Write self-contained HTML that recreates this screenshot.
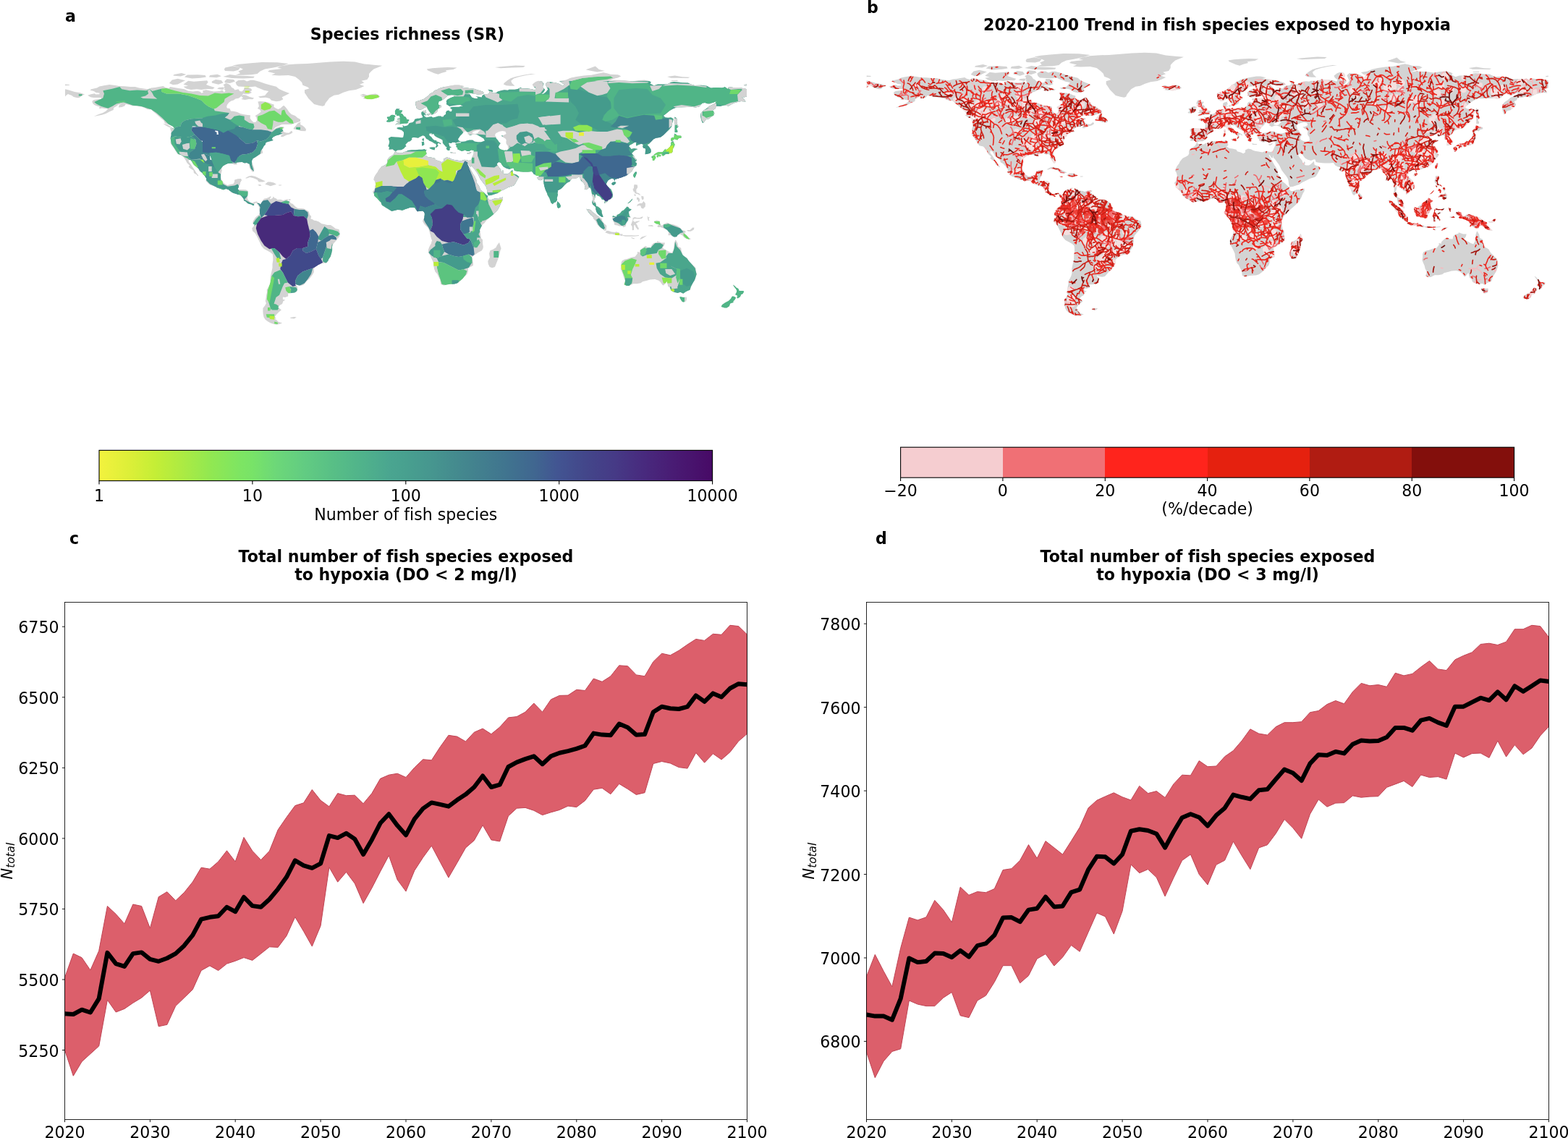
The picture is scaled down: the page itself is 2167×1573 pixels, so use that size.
<!DOCTYPE html>
<html lang="en"><head><meta charset="utf-8"><title>Fish species exposed to hypoxia</title>
<style>html,body{margin:0;padding:0;background:#fff}body{width:2167px;height:1573px;overflow:hidden}svg{display:block}</style>
</head><body>
<svg xmlns="http://www.w3.org/2000/svg" width="2167" height="1573" viewBox="0 0 2167 1573" font-family="'DejaVu Sans','Liberation Sans',sans-serif" font-size="22.1px" fill="#000" style="font-variant-ligatures:none">
<rect width="2167" height="1573" fill="#fff"/>
<defs>
<path id="land" d="M121.1,131.8 125.8,130.3 130.8,129.2 132.4,130.5 137.6,130.3 137.4,128.4 132.7,127.9 129.8,126.1 124.5,124.8 126.1,123.2 134.0,121.6 137.4,119.5 143.6,118.2 151.2,116.9 159.3,118.0 164.6,119.0 172.4,119.3 180.3,120.1 186.8,120.1 192.1,121.4 198.6,122.4 203.8,123.2 209.1,121.4 214.3,121.1 219.5,120.1 225.5,119.0 228.7,121.1 233.4,121.9 235.2,120.1 240.5,120.9 247.0,121.9 254.8,123.2 260.1,125.8 266.6,126.4 273.2,125.8 277.1,127.1 278.4,128.7 281.0,127.7 279.7,125.6 284.9,124.3 290.2,125.6 295.4,126.4 303.3,126.1 307.2,124.5 309.8,127.4 311.6,125.6 309.0,121.9 310.3,119.3 308.5,117.2 312.4,115.1 315.6,116.1 318.2,117.7 320.3,120.9 322.9,122.2 324.7,124.5 329.4,123.2 331.3,126.1 334.4,126.6 337.0,123.7 337.5,121.1 342.5,120.9 347.0,122.4 348.3,124.8 345.9,126.4 348.0,127.9 343.8,130.0 339.9,130.3 336.0,129.5 334.7,131.8 332.6,133.7 329.9,135.8 325.5,136.6 322.9,138.4 319.5,139.4 316.6,141.5 314.2,144.4 313.2,147.0 313.7,149.6 317.6,149.9 319.0,153.6 322.9,153.8 328.1,154.9 332.0,157.0 337.3,158.3 342.5,159.1 345.9,159.3 345.6,163.5 347.7,166.6 350.4,169.0 353.5,168.7 355.1,165.9 354.3,162.2 352.7,160.1 356.9,157.5 360.6,154.6 359.5,151.7 355.9,149.9 357.9,147.0 357.4,143.9 356.4,140.5 359.5,140.0 366.1,140.5 371.3,141.8 375.2,143.6 378.6,144.4 378.4,147.8 381.0,149.4 384.4,150.9 387.8,149.6 390.1,147.3 392.2,145.7 394.8,148.3 397.5,151.7 399.6,154.9 402.7,158.0 407.9,160.1 411.3,163.0 415.0,165.1 415.0,167.7 411.3,169.0 406.6,170.6 402.7,172.1 396.1,171.9 389.6,171.9 385.7,173.7 381.0,175.8 377.8,178.9 375.2,180.8 378.4,178.9 382.3,176.6 387.0,175.0 392.2,175.3 392.7,176.9 389.6,177.9 391.4,180.0 392.0,182.3 395.4,183.4 399.3,183.7 403.0,180.8 404.5,183.1 401.4,185.2 395.6,186.8 390.9,189.2 388.0,188.9 388.8,186.8 392.2,185.0 388.3,185.2 385.4,186.5 381.0,187.6 377.3,189.4 375.7,192.0 377.8,194.1 374.2,194.9 368.7,196.5 367.1,197.8 366.8,200.1 364.8,201.7 363.7,204.1 362.1,206.4 362.9,209.3 363.2,211.4 360.0,213.0 356.9,214.8 353.5,216.9 349.6,219.2 348.0,222.4 348.3,225.5 350.1,229.2 351.4,233.4 350.9,237.0 348.8,237.8 347.0,235.2 344.6,231.3 344.6,227.6 341.2,225.0 337.8,225.8 334.7,224.0 330.7,224.2 326.8,224.7 327.6,227.4 323.9,227.4 320.3,226.0 315.6,225.8 312.4,227.1 308.2,229.4 306.1,232.3 306.7,235.7 305.4,240.7 305.1,245.1 306.7,249.6 309.3,253.0 311.9,254.8 314.2,255.9 319.0,254.8 322.4,254.3 323.9,251.7 324.5,248.6 328.6,247.2 333.1,247.0 333.9,249.1 332.0,252.2 331.3,255.6 329.9,257.7 328.6,261.9 331.5,261.9 336.0,261.9 339.9,262.2 343.0,264.2 342.5,268.7 342.0,272.1 342.0,275.0 343.8,277.3 345.9,279.7 349.1,280.5 351.9,278.9 354.8,278.6 357.9,280.7 359.8,282.6 361.3,280.2 363.2,276.8 365.0,274.7 368.7,273.9 371.8,272.4 374.4,271.1 374.2,272.9 372.9,274.5 373.9,275.5 376.8,273.7 377.8,271.6 379.1,273.4 382.0,274.5 383.1,276.0 387.8,275.8 391.4,277.1 396.1,275.5 399.0,275.5 397.2,277.1 400.6,278.4 401.9,281.0 404.5,281.8 408.2,285.4 411.3,287.8 416.6,288.1 420.2,288.6 424.1,290.7 426.8,292.5 428.1,297.0 430.2,299.1 429.4,302.5 432.0,303.2 434.1,304.8 436.7,305.1 440.6,306.4 444.6,309.3 447.2,309.8 452.4,311.1 456.9,311.1 460.3,313.2 463.7,316.1 468.4,317.1 469.4,320.5 469.9,323.1 469.2,326.5 466.3,330.5 463.7,333.6 460.5,337.3 458.9,341.4 459.2,345.4 458.2,350.1 456.9,354.8 454.2,358.4 453.7,361.1 451.1,363.4 447.2,363.7 443.8,364.5 439.8,366.3 435.9,368.9 433.8,371.5 433.8,376.2 432.0,379.4 429.4,383.0 427.0,385.9 424.4,388.0 421.3,391.7 419.2,394.0 415.8,394.8 413.2,394.6 409.8,393.5 408.2,392.5 408.4,394.3 411.1,395.9 411.3,398.2 410.3,402.9 407.1,404.5 401.4,405.3 398.2,405.3 398.2,409.5 394.1,411.0 390.9,410.5 390.9,413.7 394.3,414.7 391.4,416.3 390.1,419.9 387.0,421.8 384.1,424.4 386.7,426.5 388.8,428.6 384.9,431.7 381.8,434.9 379.9,437.7 381.8,440.4 379.1,440.6 382.3,442.2 384.4,444.8 390.1,446.6 387.0,447.7 382.5,448.7 378.4,447.9 373.9,446.4 370.0,444.3 366.6,441.7 364.5,438.3 363.7,434.3 363.4,430.4 363.4,426.0 366.1,422.6 367.9,419.2 366.8,416.0 367.4,412.9 367.9,408.7 368.9,404.2 368.7,400.6 370.8,397.2 372.6,393.5 373.6,389.9 373.6,383.3 374.4,379.4 375.5,374.7 376.5,370.0 376.5,365.0 377.3,359.8 377.3,355.3 376.8,351.6 373.9,349.0 370.0,346.7 364.8,344.1 361.3,340.1 359.3,335.4 356.9,330.5 355.1,326.8 352.7,322.6 349.1,319.2 348.3,315.5 350.6,312.7 351.9,310.3 349.3,309.5 349.6,306.1 351.4,303.0 352.7,300.9 354.8,299.1 357.9,296.7 359.0,293.6 358.2,289.4 358.5,286.2 357.2,284.7 356.1,282.0 353.8,280.2 351.1,281.8 351.1,284.1 349.1,284.1 347.2,282.6 344.3,282.0 342.2,281.3 339.6,278.4 336.8,277.6 336.5,274.7 334.4,272.1 332.0,269.5 329.4,269.0 325.5,267.7 321.8,266.9 319.5,265.3 315.6,261.9 312.4,261.1 308.5,262.4 304.6,261.1 299.9,259.5 294.6,256.9 290.2,255.4 287.8,253.5 284.4,250.1 285.5,247.0 282.8,243.1 278.9,238.6 275.0,236.3 274.5,233.6 271.1,230.5 267.4,227.9 265.3,223.4 263.7,221.3 260.6,220.3 260.9,223.7 263.7,227.1 265.8,230.2 269.0,234.9 271.3,239.1 274.2,242.5 273.2,243.6 271.9,241.5 267.9,238.9 267.4,235.5 264.0,233.4 260.6,230.8 262.2,228.7 258.5,225.3 256.2,220.8 254.3,217.9 251.2,214.5 245.7,213.2 242.3,208.3 240.5,204.9 237.3,200.7 235.7,197.8 236.0,193.6 235.2,191.5 236.5,187.1 236.5,182.6 235.0,177.1 239.2,177.1 240.2,179.5 240.7,176.9 238.9,174.8 234.4,172.4 227.9,170.3 226.3,166.4 222.7,163.8 220.0,161.2 216.4,158.0 211.9,154.3 208.8,151.2 203.8,151.2 199.9,149.1 195.2,147.5 189.4,146.5 182.9,146.2 179.0,144.9 173.7,144.1 172.2,146.5 168.5,148.1 163.8,148.6 164.8,144.9 168.5,143.4 163.8,144.4 160.7,147.0 157.2,149.1 156.7,152.0 151.5,154.3 146.3,157.0 141.0,158.8 135.8,159.8 129.8,160.9 134.0,159.1 138.4,157.2 142.3,155.9 146.8,153.3 149.4,150.2 145.5,150.2 141.0,149.6 137.1,150.2 137.6,147.5 134.5,146.8 130.3,144.9 127.9,142.6 127.4,139.7 129.8,138.1 134.5,137.3 139.7,137.1 139.7,135.0 135.0,135.0 129.2,135.0 125.1,134.2 121.1,131.8ZM370.0,98.9 380.4,101.5 375.2,103.8 385.7,104.6 398.8,104.1 407.9,105.9 413.2,109.9 417.1,113.8 418.4,117.7 424.9,120.3 427.6,122.2 421.0,124.3 421.0,128.2 423.6,132.1 426.2,136.0 430.2,140.0 434.1,143.9 440.6,145.7 445.9,146.8 448.5,145.7 449.8,142.6 452.4,139.2 455.5,135.2 461.6,131.8 468.1,130.8 474.6,127.7 482.5,125.3 491.7,124.0 498.2,121.4 503.4,119.0 496.9,116.7 503.4,114.3 499.5,111.7 507.4,109.9 510.0,105.9 510.0,102.0 512.6,98.9 516.5,95.5 528.3,90.8 516.5,89.7 503.4,88.4 490.4,85.5 474.6,84.7 456.3,85.5 440.6,86.8 424.9,87.9 409.2,88.4 398.8,89.2 388.3,91.6 383.1,93.6 389.6,95.0 372.6,97.0 370.0,98.9ZM350.4,110.7 358.2,112.7 366.1,115.6 373.9,117.7 381.8,119.8 385.7,122.9 392.2,126.1 400.1,129.0 394.8,131.8 389.6,134.2 391.4,137.3 387.0,139.4 381.8,140.2 375.2,138.7 372.6,136.0 367.4,134.7 359.5,135.2 356.9,133.4 366.1,132.1 368.7,128.7 371.3,126.1 364.8,124.8 360.8,122.9 355.6,121.1 353.0,119.5 346.4,120.3 338.6,120.1 329.4,119.5 326.8,117.2 325.5,113.8 329.4,110.9 337.3,110.4 341.2,112.5 346.4,110.7 350.4,110.7ZM253.5,116.7 260.1,111.7 267.9,112.7 277.1,112.0 286.2,111.2 287.6,113.8 284.9,116.9 290.2,119.0 296.7,120.9 294.1,123.2 286.2,122.9 278.4,124.0 271.9,123.2 264.0,124.0 257.5,122.4 253.5,119.8 260.1,118.8 253.5,116.7ZM233.9,115.1 237.8,110.4 245.7,108.8 256.2,111.2 250.9,113.8 245.7,116.4 239.2,117.2 233.9,115.1ZM325.5,103.8 336.0,103.8 347.7,103.3 355.6,102.0 359.5,98.4 366.1,95.5 377.8,93.4 390.9,90.8 398.8,87.9 383.1,86.3 362.1,86.1 343.8,87.4 330.7,88.7 321.6,90.5 330.7,92.9 336.0,95.7 329.4,98.6 332.0,101.2 325.5,103.8ZM311.1,98.1 322.9,98.6 329.4,96.8 332.0,93.6 321.6,91.3 311.1,93.4 309.8,96.0 311.1,98.1ZM308.5,105.9 320.3,108.0 336.0,108.6 350.4,107.8 351.7,105.7 341.2,104.9 328.1,104.6 317.6,103.1 308.5,105.9ZM254.8,106.5 265.3,108.6 277.1,107.8 284.9,106.5 283.6,104.1 273.2,103.3 258.8,103.6 254.8,106.5ZM288.9,106.5 299.3,107.2 305.9,105.2 300.6,102.8 290.2,104.1 288.9,106.5ZM239.2,104.6 249.6,105.4 257.5,103.1 250.9,101.0 240.5,103.1 239.2,104.6ZM292.8,114.6 301.9,116.7 308.5,114.6 305.9,110.9 298.0,110.1 292.8,112.5 292.8,114.6ZM310.6,114.3 317.6,115.1 325.0,112.5 322.9,109.9 313.7,109.3 310.6,112.0 310.6,114.3ZM300.1,122.7 307.2,124.0 311.1,122.4 308.5,120.6 302.5,120.9 300.1,122.7ZM333.4,137.1 338.6,138.1 343.8,137.1 349.1,137.3 351.1,135.5 345.1,133.9 339.9,131.6 336.0,131.1 333.4,132.9 336.0,135.2 333.4,137.1ZM405.8,178.4 410.5,178.9 415.8,181.0 422.3,181.3 423.1,178.7 421.0,176.1 418.4,173.7 415.0,172.1 415.5,168.7 411.9,170.1 409.2,173.2 405.8,176.9 405.8,178.4ZM225.3,170.8 231.3,172.1 236.0,175.3 238.4,176.9 233.9,176.1 229.5,173.7 225.3,170.8ZM338.8,246.2 343.8,243.6 347.7,242.8 353.0,244.1 358.2,246.5 363.4,249.1 366.8,250.6 363.4,251.4 357.7,251.4 355.6,248.6 350.4,246.2 345.1,245.1 341.2,246.5 338.8,246.2ZM366.3,254.8 370.0,251.4 373.9,251.4 378.4,252.5 382.0,254.8 377.8,255.9 373.9,257.2 370.5,255.9 366.3,254.8ZM356.1,255.6 359.5,255.1 361.6,256.4 358.7,256.9 356.1,255.6ZM385.2,255.4 389.1,255.4 388.6,256.4 385.2,256.4 385.2,255.4ZM399.0,275.5 401.6,275.2 401.4,277.1 399.0,277.1ZM400.9,439.0 406.6,438.0 409.8,438.5 406.6,440.4 401.9,440.1ZM497.4,131.8 502.1,129.8 507.4,131.6 513.4,130.3 519.1,129.5 522.8,131.3 525.4,133.4 521.8,135.2 513.9,137.3 507.4,137.1 501.9,136.3 503.7,134.2 498.2,133.7 502.6,132.6 497.4,131.8ZM547.1,209.0 544.5,208.0 542.7,206.2 537.5,206.7 538.0,203.0 536.4,202.2 537.7,198.8 538.2,195.7 536.7,191.0 539.3,189.7 540.3,188.9 546.1,189.4 551.1,189.7 556.0,190.2 557.3,189.4 557.9,186.5 558.1,184.2 557.9,182.6 555.2,180.0 552.9,179.2 548.7,177.9 548.7,176.6 551.8,175.8 555.8,176.3 557.1,176.1 556.3,173.5 557.6,173.5 558.1,174.5 561.3,174.0 563.9,172.9 565.2,170.8 566.0,170.1 568.6,169.5 570.4,169.0 572.3,167.2 573.3,164.8 576.7,163.8 579.3,163.8 581.9,163.0 583.8,162.5 584.3,161.4 583.2,159.6 582.5,158.3 582.2,155.7 583.5,154.1 586.4,153.0 588.7,152.5 588.2,154.6 589.5,155.9 587.7,156.7 586.9,158.5 585.9,159.6 586.1,160.1 587.4,161.2 589.5,162.2 592.4,161.7 596.3,160.9 598.2,162.5 601.8,161.7 605.5,160.4 609.4,160.4 610.2,161.4 612.8,161.2 613.3,159.8 616.2,157.8 616.0,155.7 617.3,153.3 620.1,152.5 622.0,154.3 624.1,154.1 624.8,150.9 622.5,149.9 622.5,148.6 625.9,147.8 630.3,147.8 634.3,147.8 637.4,146.8 640.0,146.8 636.1,144.9 631.6,145.2 626.4,146.0 621.2,147.0 619.1,145.5 616.7,143.9 617.3,142.3 616.7,140.0 617.5,138.1 621.2,136.0 625.1,134.2 627.5,133.4 626.9,131.8 624.1,131.3 619.1,131.8 616.7,133.9 614.1,136.6 609.4,139.2 606.5,140.2 606.0,142.3 606.0,144.7 609.4,145.7 610.2,147.5 608.6,149.1 605.5,150.2 604.7,153.0 603.9,155.1 601.8,156.4 598.4,158.0 597.1,158.5 595.0,158.3 594.2,157.0 594.0,154.9 592.1,152.5 590.3,149.4 589.3,147.3 588.0,148.6 586.4,149.1 583.8,150.7 581.9,151.5 579.3,151.7 575.7,149.4 574.6,145.5 574.1,142.6 574.6,140.7 577.2,139.7 581.1,138.4 585.9,136.8 588.5,134.7 592.4,132.1 594.2,129.5 598.7,127.4 600.2,125.3 604.2,124.0 606.8,122.2 610.7,120.9 616.0,119.8 621.2,118.8 628.5,117.5 634.3,117.5 642.1,119.3 636.9,120.3 640.8,121.1 646.0,121.4 648.7,121.9 655.2,122.7 660.4,124.5 667.0,126.4 669.1,128.7 665.7,130.3 660.4,130.5 653.9,129.5 646.8,127.9 649.4,130.5 652.1,134.5 655.2,135.8 659.1,136.3 660.7,135.0 657.3,133.2 661.7,133.7 665.7,134.5 666.5,132.1 669.6,130.3 674.0,130.0 676.7,128.4 675.6,125.0 674.3,123.7 680.1,124.5 681.4,126.1 679.5,128.2 682.7,128.7 685.8,128.2 687.9,126.4 693.1,125.0 697.1,124.3 701.8,124.8 703.6,123.7 711.5,123.7 715.4,122.9 719.3,121.1 721.9,122.2 728.5,122.2 733.7,122.9 736.8,123.7 739.7,124.8 740.8,122.2 737.1,119.5 735.8,116.7 740.2,113.3 744.2,111.7 749.4,112.7 751.5,116.1 749.9,120.3 753.3,124.0 750.7,128.2 747.6,129.2 750.7,130.0 754.6,126.9 757.2,123.5 755.2,119.8 753.8,116.1 757.2,113.0 763.8,113.8 767.7,114.3 773.0,115.9 778.2,119.0 779.5,116.4 776.4,114.6 773.0,112.0 782.1,110.4 788.6,107.8 796.5,105.9 807.0,104.4 817.4,103.8 825.3,102.0 833.9,100.2 839.7,101.5 843.6,102.8 854.1,103.3 858.0,105.2 854.1,107.2 847.5,109.3 841.0,112.0 848.8,110.4 856.7,110.7 863.2,110.9 873.7,112.5 882.9,110.9 890.7,110.4 897.2,112.0 899.9,113.5 898.5,115.6 903.8,118.2 909.0,116.4 916.9,116.4 922.1,116.4 927.3,113.8 931.3,113.0 936.5,113.5 943.0,114.3 950.9,114.6 954.8,116.4 960.0,118.0 969.2,117.7 977.0,118.8 979.7,120.3 982.3,121.6 990.1,121.1 998.0,121.4 1001.9,120.3 1005.8,122.9 1007.1,120.1 1013.7,120.9 1021.5,120.9 1029.4,122.4 1032.0,123.2 1032.0,133.4 1028.1,134.5 1024.9,133.9 1028.1,136.8 1030.7,140.5 1024.2,140.0 1016.3,141.8 1011.1,143.9 1007.1,146.5 1000.6,145.5 995.4,147.0 990.1,146.8 988.3,150.4 984.9,152.3 987.5,156.4 986.2,159.6 983.6,160.9 979.7,164.3 975.7,165.1 973.1,168.7 971.0,170.3 969.2,166.1 968.2,160.9 968.4,157.0 971.8,153.0 975.7,150.4 979.7,147.0 983.6,145.2 988.8,142.6 990.1,140.0 984.9,142.1 979.7,143.9 974.4,142.1 970.5,142.6 966.6,147.3 961.4,148.6 955.6,147.8 949.6,148.1 941.7,148.3 935.7,148.3 930.0,150.4 924.7,153.6 920.8,157.0 916.9,160.1 919.5,162.2 923.4,162.7 927.3,162.2 930.7,164.3 930.0,167.4 928.6,171.4 928.1,175.3 924.7,179.2 920.8,183.1 916.9,186.8 912.9,189.7 906.4,190.7 903.0,192.6 900.4,195.2 897.2,198.8 894.6,200.1 897.2,203.3 899.6,206.7 899.9,209.8 898.5,211.7 894.6,212.7 891.7,213.2 892.0,208.0 892.3,205.4 888.9,204.6 888.1,202.2 888.9,200.1 886.5,198.8 882.9,199.9 879.2,201.7 878.9,198.3 880.2,196.7 877.6,196.5 873.7,199.1 869.8,200.9 869.0,202.2 871.1,204.1 872.4,205.9 876.3,204.9 878.9,205.4 881.5,205.9 877.6,207.7 875.8,209.3 873.2,211.9 874.2,213.2 876.3,215.8 877.6,218.5 879.7,220.3 879.7,222.4 877.1,224.0 879.7,225.0 880.2,226.3 879.4,228.9 877.1,230.2 874.5,234.2 873.7,236.3 870.0,239.4 866.4,242.5 861.9,244.1 859.8,245.1 858.0,245.4 854.1,246.7 850.1,247.8 849.6,250.4 848.3,247.2 844.9,246.7 840.5,249.1 838.4,252.5 837.8,254.6 839.7,257.2 842.6,260.3 844.4,261.4 846.2,265.6 847.0,269.5 846.7,272.6 843.6,275.2 841.0,276.3 839.7,278.4 836.5,280.5 835.2,281.0 835.8,277.3 834.4,276.3 831.8,275.8 830.5,273.4 828.7,271.6 825.3,270.3 824.0,268.2 822.7,269.5 822.4,273.4 820.8,277.3 822.4,279.2 823.5,281.8 824.0,284.7 826.6,285.7 829.2,287.8 831.6,290.9 831.8,294.3 832.6,297.0 833.7,299.8 831.8,300.1 828.4,297.5 826.1,295.6 824.2,292.5 823.5,289.4 823.2,286.5 821.4,284.4 819.0,282.6 818.2,279.9 819.0,276.0 819.0,272.1 818.0,268.2 817.4,265.0 816.4,260.8 814.8,259.0 813.0,260.3 810.4,262.2 807.8,261.6 808.3,257.7 807.5,254.3 805.7,251.7 804.1,250.9 802.3,248.6 801.2,245.1 799.1,244.6 797.8,245.9 795.2,246.5 792.6,246.7 790.0,247.2 788.6,249.1 787.3,251.2 785.5,251.7 783.4,253.0 780.8,255.6 779.0,257.2 776.4,260.1 773.5,261.9 771.1,262.9 770.6,266.9 771.1,269.2 769.8,273.4 770.1,276.5 768.2,279.2 765.6,280.2 763.8,282.3 761.4,280.2 760.4,277.3 759.3,273.9 756.7,269.7 755.4,265.6 754.1,262.9 752.8,259.0 751.5,253.8 751.2,250.4 751.0,248.0 750.7,245.4 749.7,248.3 746.8,249.3 744.2,248.6 742.1,245.4 744.2,244.4 745.0,243.3 741.0,242.5 739.5,241.5 737.6,240.7 736.3,238.6 735.0,237.0 729.8,237.6 723.2,237.6 719.3,237.3 714.9,236.8 710.9,236.0 710.1,232.8 708.3,232.3 704.1,233.9 699.7,232.8 695.8,230.5 693.9,227.9 692.1,225.0 689.2,224.0 687.9,225.0 686.6,226.6 687.9,228.9 690.5,232.3 692.1,234.2 692.4,236.5 693.9,238.1 694.5,235.2 695.8,236.0 696.0,237.6 695.2,239.4 697.1,240.4 701.0,240.4 703.3,239.4 705.7,237.3 708.3,234.7 708.6,238.1 709.1,239.9 714.3,241.7 717.5,244.6 714.6,249.3 712.2,253.8 710.1,256.4 706.2,257.7 702.3,259.0 697.6,261.6 691.8,264.2 687.9,266.9 684.0,268.2 678.8,270.0 674.8,270.3 673.5,266.9 673.3,264.8 672.7,260.8 672.2,259.0 669.6,255.1 667.0,251.7 663.6,247.2 661.7,243.3 660.4,240.4 658.3,237.6 656.5,234.9 653.9,231.5 652.1,230.0 652.6,226.3 651.3,229.4 650.5,230.8 648.7,228.9 647.1,226.3 646.0,225.3 646.3,227.6 647.9,230.2 649.4,232.3 651.3,236.0 653.9,240.7 656.5,244.6 658.3,248.6 658.3,252.2 661.7,256.4 664.4,262.7 668.3,265.6 672.2,269.5 674.3,270.8 673.8,273.1 676.1,276.0 678.8,276.3 684.0,274.2 689.2,273.9 695.0,272.4 695.0,276.0 692.6,279.9 690.5,285.2 687.9,289.9 684.0,294.3 679.5,298.3 674.8,302.2 672.2,304.8 669.6,308.2 667.0,310.3 664.9,314.0 663.0,317.9 663.8,321.3 664.4,325.7 665.1,329.7 667.0,331.5 667.0,336.2 667.8,341.4 667.2,344.1 665.1,346.7 660.4,349.3 657.3,351.4 653.9,354.0 652.3,355.6 653.1,359.8 653.9,363.7 653.9,367.1 650.0,368.9 647.1,370.7 646.8,375.5 645.5,378.9 642.1,381.7 639.5,385.4 635.6,388.8 632.2,391.2 628.2,392.5 622.5,392.7 618.6,393.3 613.3,394.6 610.7,393.5 609.1,392.7 608.6,389.1 608.1,385.9 606.3,382.8 604.2,378.3 601.6,375.5 600.2,371.5 599.2,366.3 598.9,362.4 597.1,358.4 594.5,353.2 591.9,348.8 591.9,345.4 593.2,341.4 596.1,336.5 597.1,332.3 595.8,328.4 595.3,326.5 594.5,323.1 593.2,319.2 592.4,316.6 591.1,314.5 588.5,311.9 586.1,309.5 584.5,306.6 584.0,305.3 585.6,303.0 586.1,300.9 586.6,297.5 586.9,294.9 585.9,293.0 584.0,291.5 581.9,291.7 579.3,292.0 576.7,292.2 574.6,289.6 572.8,287.0 569.9,286.8 566.2,287.0 563.6,288.1 561.0,288.8 558.4,289.9 555.8,290.9 553.1,290.2 549.2,289.9 545.3,290.9 541.4,292.0 538.8,290.4 536.1,288.8 532.7,286.8 530.9,285.4 528.3,283.9 526.5,281.3 526.2,279.4 524.9,278.4 522.5,275.8 521.2,274.2 518.6,272.1 517.0,270.8 517.0,268.2 515.2,265.0 516.5,263.5 517.8,261.6 518.3,257.7 519.1,255.1 518.6,252.5 517.8,249.9 516.5,248.6 517.0,245.4 519.1,241.5 521.8,238.1 523.1,235.2 525.7,232.1 527.2,230.5 531.4,228.4 534.3,226.8 535.6,224.0 535.4,221.1 536.9,218.5 539.0,216.4 541.4,215.3 543.5,214.0 545.3,211.1 545.6,209.8 547.1,209.6 549.2,211.4 553.1,211.1 555.8,211.7 558.4,210.1 561.0,209.6 563.6,208.0 568.9,207.2 574.1,207.2 579.3,206.7 583.5,206.7 586.9,205.9 588.0,207.2 590.0,206.7 588.7,208.3 588.7,210.3 589.8,211.4 589.3,213.2 587.2,214.8 589.3,215.6 591.1,216.9 595.5,217.4 600.8,218.7 602.3,221.3 606.8,222.6 610.7,224.2 613.3,222.4 613.3,219.5 617.3,217.4 621.2,218.2 623.8,219.8 626.9,220.8 631.6,221.6 636.9,222.6 639.5,221.6 642.1,220.8 645.5,221.6 647.9,222.1 650.5,221.6 651.8,219.8 652.6,217.2 653.9,214.8 654.9,211.9 654.7,208.5 655.7,207.5 653.9,207.7 651.3,207.2 648.7,208.8 646.0,209.0 642.1,207.2 640.8,208.3 637.7,208.8 634.8,207.2 632.7,206.7 632.2,204.1 630.3,203.0 630.9,200.7 629.6,200.1 629.6,198.8 633.0,197.8 636.9,197.5 637.4,196.2 634.3,196.2 631.6,197.0 629.6,198.0 629.3,196.7 625.1,196.5 623.8,198.0 622.0,198.0 620.9,197.3 620.1,198.8 621.2,200.7 620.9,202.0 623.8,203.5 623.0,204.3 621.7,204.1 621.7,205.9 621.2,208.0 619.6,208.0 617.8,207.2 616.7,204.9 617.8,203.3 616.0,202.8 615.2,201.4 613.3,199.6 611.8,197.5 611.8,195.4 611.5,193.6 609.4,192.3 603.9,189.7 600.8,187.8 599.7,185.8 598.7,185.0 596.6,186.0 596.8,184.2 593.2,184.7 593.4,187.3 596.3,189.4 598.2,192.3 600.8,193.9 603.4,193.9 602.9,195.2 605.2,196.0 608.1,197.3 609.4,198.6 609.1,199.4 606.0,197.5 604.4,199.6 605.7,201.4 604.2,203.0 603.1,204.1 602.1,204.1 602.3,202.2 603.1,200.7 602.1,198.8 600.2,198.3 598.2,196.7 596.3,195.7 593.2,194.4 591.4,192.8 589.8,192.3 588.5,191.0 588.0,189.7 586.6,188.1 584.3,187.3 581.9,188.6 580.1,189.2 578.0,190.7 575.1,190.2 572.8,189.9 570.7,189.9 568.9,191.0 569.4,192.8 566.8,195.2 564.1,196.0 563.1,197.0 560.2,200.1 561.5,202.2 559.7,203.3 558.6,205.1 554.7,207.2 549.5,207.5 547.1,209.0ZM90.0,123.2 95.2,124.5 103.1,126.9 110.9,128.2 117.0,130.5 113.5,132.1 109.6,135.0 107.0,135.2 101.8,133.9 99.2,132.1 93.9,130.0 91.3,132.1 90.0,133.4ZM546.1,172.4 550.0,171.6 551.8,171.4 555.8,171.1 558.4,170.6 561.8,170.6 564.7,169.8 563.1,168.7 565.2,166.9 565.4,165.6 561.8,164.8 561.5,163.2 560.5,161.7 557.9,160.4 556.8,158.3 555.2,157.0 553.1,156.7 554.2,155.9 555.8,153.8 556.3,152.8 551.8,152.5 550.5,152.8 552.6,150.4 547.9,150.2 546.6,152.3 545.8,154.3 546.3,156.4 546.3,158.5 548.4,158.0 548.2,160.1 551.8,159.8 552.6,161.7 553.1,163.5 549.2,164.0 549.7,165.3 550.3,166.6 547.4,167.7 550.0,168.5 553.1,169.0 551.8,169.5 549.2,170.1 547.7,171.6ZM534.8,168.5 538.8,168.5 544.3,166.9 545.3,164.0 545.0,161.9 546.6,160.9 545.0,159.1 541.6,158.8 538.8,160.4 538.8,161.4 534.8,161.7 535.1,163.8 536.7,164.6 535.4,166.4 533.8,167.2ZM589.8,95.5 597.6,94.2 608.1,93.4 618.6,92.9 631.6,93.6 626.4,96.0 616.0,97.3 617.3,98.9 610.7,100.7 605.5,102.8 600.2,101.2 596.3,99.4 591.1,97.3ZM684.0,93.1 697.1,91.8 712.8,90.5 725.9,91.0 723.2,92.9 707.5,93.6 691.8,94.2ZM695.8,116.4 699.7,118.2 704.9,118.8 711.5,118.8 707.5,115.1 706.2,111.7 710.1,108.6 718.0,105.9 728.5,103.8 740.2,102.3 733.7,102.0 723.2,103.8 712.8,105.9 706.2,108.0 701.0,111.2 697.1,114.6ZM809.6,96.3 817.4,93.6 822.7,91.6 827.9,96.0 835.8,98.1 825.3,99.4 814.8,97.6ZM922.1,105.9 932.6,104.6 943.0,106.2 953.5,106.7 950.9,108.0 937.8,107.8 927.3,107.8ZM927.3,110.9 936.5,110.7 936.5,112.0 928.6,112.0ZM1028.1,117.2 1032.0,116.4 1032.0,118.2 1028.9,118.2ZM90.0,116.4 96.5,116.9 95.2,118.0 90.0,118.2ZM932.6,161.4 935.2,163.5 936.0,167.4 935.7,171.4 937.8,174.8 934.7,177.9 936.5,181.0 936.2,182.9 932.6,183.1 932.6,179.2 932.6,175.3 932.8,171.4 931.8,167.4 932.0,164.0ZM932.3,184.4 936.5,187.6 941.2,187.8 941.7,190.2 937.8,191.2 936.0,193.6 931.8,192.0 929.7,194.4 927.6,194.9 927.1,192.0 928.6,190.2 931.5,189.9 931.8,187.1ZM930.7,195.2 931.3,197.5 932.6,200.1 931.3,203.3 930.0,205.4 929.4,207.2 929.4,210.1 927.3,211.9 926.5,211.1 924.2,213.0 922.6,213.0 919.5,213.0 919.0,213.7 916.3,215.8 914.5,214.0 915.0,212.7 911.6,213.0 909.0,213.7 907.2,214.0 903.8,214.5 903.8,213.5 906.4,211.9 909.0,210.6 912.9,210.3 915.6,210.3 916.9,208.8 918.7,206.7 920.3,205.4 919.5,207.2 922.1,206.4 924.2,204.6 926.0,202.8 927.3,200.1 927.3,197.5 928.1,195.7ZM903.5,214.8 905.6,215.8 906.4,217.7 905.1,220.3 903.8,221.9 902.7,222.1 901.7,221.3 902.0,219.0 900.6,217.9 900.4,216.4 902.0,215.6ZM908.2,214.5 910.8,213.7 913.2,214.0 913.5,215.1 912.2,216.4 910.3,215.8 909.0,217.7 907.4,216.1ZM878.9,237.3 880.2,238.1 878.9,242.0 877.1,245.9 875.5,243.8 875.5,241.2 877.6,238.1ZM845.4,253.3 848.8,250.9 851.5,252.0 850.1,254.6 847.5,255.9 845.4,254.8ZM770.3,277.9 773.5,281.3 775.0,284.4 774.3,286.8 771.6,288.1 770.1,286.5 769.5,282.6ZM876.6,255.1 880.8,255.4 881.3,259.0 879.2,262.2 879.7,266.3 882.9,267.1 885.5,269.7 883.6,269.5 881.5,268.2 878.9,267.7 876.6,266.3 877.4,265.3 875.5,264.8 874.5,261.1 876.0,260.3 876.0,257.7ZM889.4,277.9 892.0,281.3 891.7,285.7 889.4,287.8 889.1,288.8 886.0,287.3 885.5,284.4 882.9,283.9 880.2,285.2 881.0,282.6 884.2,281.0 887.3,281.0ZM886.3,270.8 889.4,271.6 889.7,274.7 888.1,276.8 887.0,275.0 886.5,273.4ZM880.2,272.6 883.1,273.4 884.2,276.0 883.4,279.2 881.5,278.1 881.8,276.0 880.0,276.0ZM867.7,281.5 871.1,279.2 873.7,276.3 874.5,273.9 872.9,275.8 870.3,278.4 867.7,280.7ZM876.0,268.4 878.7,268.7 878.4,271.1 877.1,270.8ZM846.7,298.5 847.8,298.3 849.6,299.1 852.0,299.8 852.5,297.2 856.7,295.1 859.3,291.7 861.9,290.4 864.5,287.8 866.6,285.4 869.0,286.8 869.2,288.1 872.9,289.6 870.6,291.5 868.7,292.5 869.2,294.9 869.8,298.3 872.1,300.9 869.2,301.4 868.5,303.5 867.9,305.6 866.1,307.4 865.3,310.0 864.5,312.9 861.1,314.2 860.6,312.7 858.3,312.4 855.4,312.4 853.3,311.4 849.4,311.1 848.8,307.9 847.3,305.6 846.5,302.7 846.2,300.9ZM810.4,288.8 816.1,289.9 818.2,292.5 822.1,295.6 824.8,298.0 827.9,300.1 831.6,302.2 832.6,306.1 834.4,308.2 837.1,310.8 838.4,311.9 838.1,315.3 837.8,318.7 834.7,318.7 833.1,316.6 828.7,313.7 825.3,310.0 823.5,306.1 820.0,302.2 819.3,299.1 816.6,297.2 813.5,293.8ZM836.3,321.3 838.6,318.9 841.0,318.9 844.9,320.5 850.1,321.0 851.5,320.2 855.6,321.6 856.7,323.4 860.6,323.6 860.3,326.3 856.7,325.2 851.5,325.0 846.2,323.6 842.3,323.6 839.4,322.6ZM860.9,325.0 866.4,325.2 872.4,325.2 877.6,325.5 882.9,325.0 882.9,326.0 876.3,326.8 869.8,326.8 864.5,326.8 860.9,326.0ZM872.4,328.1 877.1,329.4 876.3,330.5 872.4,329.1ZM884.2,330.5 886.8,327.6 894.1,325.5 892.0,327.1 888.1,329.4 885.5,330.7ZM877.1,300.1 880.2,300.9 884.2,301.1 888.1,299.3 888.6,300.1 886.8,302.2 882.9,302.5 878.9,302.2 875.8,302.5 875.0,305.3 877.6,306.9 878.9,305.9 883.6,305.3 883.9,306.1 880.2,307.9 878.9,308.7 881.0,311.9 881.5,314.0 882.9,315.3 882.1,317.9 880.2,316.1 878.9,314.5 877.6,311.4 877.1,310.6 876.0,312.1 876.0,317.9 873.7,318.2 873.7,314.0 873.4,312.4 871.9,310.8 873.2,307.4 874.5,304.0 874.5,301.4ZM894.6,298.3 895.9,300.4 898.0,300.1 896.5,302.2 897.5,305.1 895.7,304.8 894.9,301.4ZM895.9,311.4 901.2,311.1 903.3,312.9 898.5,312.7 895.9,312.4ZM904.3,305.6 907.7,304.5 911.6,305.6 912.2,308.7 914.2,312.1 918.2,309.3 922.1,307.7 927.3,309.8 931.3,310.6 936.5,312.4 940.4,315.3 943.0,317.9 947.0,319.2 947.7,321.3 945.6,321.8 948.3,324.4 952.2,328.6 955.3,330.5 952.2,330.7 948.3,329.7 945.6,328.4 943.0,325.2 939.1,323.6 936.5,325.0 935.2,327.6 931.3,327.6 927.3,325.0 923.4,325.2 924.2,321.8 922.1,317.9 916.9,315.5 912.9,314.0 909.0,314.0 908.5,312.1 911.1,310.0 907.2,309.5 903.8,307.2ZM949.1,317.9 953.5,317.9 957.4,314.5 959.5,314.8 958.7,317.4 954.8,319.7 950.9,319.7ZM933.9,331.5 936.5,336.2 937.3,340.9 941.2,342.8 941.7,346.7 943.6,351.9 945.1,353.7 949.6,356.4 952.2,361.1 955.6,364.5 958.7,367.6 961.4,370.2 961.9,375.5 962.9,378.6 961.4,383.3 960.0,387.2 956.9,392.2 954.8,396.4 953.5,400.8 948.3,402.7 944.1,405.8 940.4,403.7 936.5,405.0 931.3,403.7 927.3,401.6 926.0,397.7 923.4,395.9 922.6,393.3 921.6,388.8 919.5,391.9 916.9,394.6 915.6,394.0 912.9,389.9 910.3,387.8 905.1,385.9 898.5,386.4 893.3,388.0 888.1,389.3 885.5,391.2 880.2,392.2 875.0,392.2 869.8,395.1 865.8,395.1 862.2,393.3 863.7,389.9 864.0,387.2 861.9,383.3 860.9,378.9 859.3,375.5 857.7,371.5 858.5,367.6 858.5,362.9 859.6,360.5 863.2,358.4 867.1,357.7 872.4,355.8 877.6,354.8 881.0,350.6 880.8,348.0 884.2,348.8 884.4,346.2 888.1,342.8 892.0,340.1 895.9,342.2 899.9,342.5 900.6,338.8 903.3,335.9 907.7,334.9 908.2,333.3 914.2,335.4 919.0,335.4 918.2,338.8 915.6,342.8 919.5,345.1 924.7,348.0 928.6,349.6 930.7,345.4 931.5,340.1 931.8,336.2 933.1,332.3ZM939.6,410.0 944.3,411.0 948.8,410.5 949.1,413.4 948.0,416.5 945.1,417.6 943.0,417.3 941.2,414.7 939.6,412.1ZM1012.9,393.5 1015.0,395.1 1017.6,397.7 1020.2,399.0 1021.5,401.9 1026.8,401.9 1028.1,402.9 1026.5,406.1 1024.2,406.9 1022.8,410.3 1019.7,412.4 1018.4,411.6 1019.4,408.7 1016.3,406.9 1017.9,404.2 1018.4,401.6 1016.8,399.0 1013.7,395.1ZM1012.9,409.5 1017.1,411.3 1015.8,413.9 1013.2,416.8 1013.7,418.1 1009.2,419.4 1007.9,423.3 1004.5,425.4 1001.4,425.4 996.7,423.9 998.0,421.2 1001.9,418.6 1007.1,415.8 1009.8,412.9 1011.6,410.3ZM690.0,334.9 692.6,343.5 691.3,346.7 690.5,350.6 688.7,357.1 686.1,363.7 684.0,368.9 680.1,370.2 676.7,368.9 674.8,365.0 674.3,361.1 676.9,355.8 676.1,350.6 677.4,346.2 681.4,344.8 685.3,342.2 687.1,338.8ZM593.7,204.1 596.3,203.5 601.6,203.5 600.8,206.7 600.2,207.5 596.3,206.2 593.7,204.9ZM582.5,196.2 585.9,195.7 586.4,200.1 584.5,201.2 583.0,201.4 583.0,197.5ZM585.6,191.0 585.9,193.6 585.1,195.2 583.5,193.6 583.5,192.0ZM622.5,210.3 626.4,210.9 629.8,211.1 629.0,211.9 623.8,211.9 622.5,211.1ZM645.5,211.7 647.4,210.9 651.5,210.1 650.0,211.9 647.4,213.0 645.8,212.4ZM590.3,157.8 593.7,156.7 594.0,158.3 592.4,159.6 590.3,159.1ZM586.6,158.3 589.3,158.3 589.0,159.3 587.2,159.3Z"/>
<path id="seas" d="M636.9,195.7 634.3,194.6 633.0,192.3 634.3,190.5 636.1,187.8 638.7,185.2 641.3,181.8 643.4,181.6 644.7,182.6 647.4,182.9 646.0,184.7 648.7,186.8 650.0,187.3 653.6,185.8 656.5,185.5 659.9,186.5 664.9,189.4 668.3,191.5 669.9,194.6 664.9,196.2 660.4,196.2 656.0,195.4 653.1,193.6 648.7,193.6 644.7,194.4 643.4,195.2 639.5,195.7ZM652.6,184.2 653.4,182.3 656.5,181.0 659.9,180.3 663.6,180.0 661.2,182.3 659.9,184.2 657.3,185.0 655.2,184.7ZM684.0,187.1 685.3,183.9 687.4,183.1 690.5,181.8 694.5,181.0 698.4,181.8 699.7,185.0 695.8,187.1 692.6,187.6 695.0,189.4 698.4,191.5 699.7,193.6 699.4,196.7 699.7,198.8 701.8,201.4 702.3,205.4 701.0,206.9 697.1,207.7 693.1,206.7 690.5,205.4 689.0,203.0 690.0,200.7 691.8,198.0 689.7,196.2 687.9,193.6 685.6,191.0 685.3,188.9Z"/>
<clipPath id="landclip"><use href="#land"/></clipPath>
<linearGradient id="vir" x1="0" x2="1" y1="0" y2="0">
<stop offset="0" stop-color="#f3f23e"/>
<stop offset="0.05" stop-color="#dcef38"/>
<stop offset="0.092" stop-color="#c4ee36"/>
<stop offset="0.133" stop-color="#aeeb42"/>
<stop offset="0.18" stop-color="#92e851"/>
<stop offset="0.228" stop-color="#7ee562"/>
<stop offset="0.25" stop-color="#78e368"/>
<stop offset="0.287" stop-color="#6dd878"/>
<stop offset="0.334" stop-color="#62cc82"/>
<stop offset="0.381" stop-color="#58bf86"/>
<stop offset="0.428" stop-color="#50b38b"/>
<stop offset="0.475" stop-color="#4aa590"/>
<stop offset="0.5" stop-color="#48a08f"/>
<stop offset="0.546" stop-color="#46958f"/>
<stop offset="0.605" stop-color="#43848e"/>
<stop offset="0.664" stop-color="#40748f"/>
<stop offset="0.711" stop-color="#406690"/>
<stop offset="0.747" stop-color="#425592"/>
<stop offset="0.794" stop-color="#43468a"/>
<stop offset="0.841" stop-color="#463a86"/>
<stop offset="0.888" stop-color="#482a7e"/>
<stop offset="0.935" stop-color="#491c74"/>
<stop offset="1" stop-color="#470a66"/>
</linearGradient>
</defs>
<g id="mapa">
<use href="#land" fill="#d3d3d3"/>
<g clip-path="url(#landclip)" id="basins">
<polygon points="527.0,120.0 745.0,120.0 745.0,112.0 1040.0,112.0 1040.0,230.0 935.0,230.0 935.0,250.0 874.0,250.0 874.0,300.0 527.0,300.0" fill="#4aa68c"/>
<polygon points="130.2,141.1 142.3,135.4 144.0,129.6 142.3,125.2 155.0,122.7 165.4,120.1 168.3,123.3 179.2,125.2 189.6,124.4 202.3,125.2 206.9,123.3 210.4,126.1 223.1,122.7 223.1,126.7 230.0,129.6 247.3,129.6 260.0,131.9 270.4,135.4 278.4,138.8 283.0,143.5 287.7,146.9 295.7,150.4 296.9,153.3 316.5,156.1 309.6,157.9 305.0,159.6 299.2,161.9 287.7,163.1 276.1,163.6 264.6,164.2 255.4,166.5 250.7,170.0 249.6,174.6 242.7,175.8 240.4,179.2 233.4,172.3 224.2,163.1 216.1,156.1 209.2,151.5 195.4,146.9 183.8,145.8 175.8,142.9 170.0,141.1 160.8,143.5 155.0,146.9 149.2,149.8 140.0,146.9 133.1,143.5" fill="#50b587"/>
<polygon points="108.8,130.2 113.5,130.2 113.5,132.5 108.8,132.5" fill="#50b587"/>
<polygon points="159.6,140.2 172.3,139.1 174.0,141.1 163.1,142.5" fill="#5cc47f"/>
<polygon points="194.2,134.2 201.1,132.5 205.2,129.6 204.0,125.2 206.9,123.6 210.4,128.5 212.7,133.1 217.3,136.8 206.9,136.3 197.7,136.1" fill="#d3d3d3"/>
<polygon points="223.1,122.5 230.0,122.1 241.5,125.2 253.1,127.9 264.6,129.6 276.1,131.9 287.7,132.5 296.9,128.5 306.1,129.6 316.5,128.5 323.4,129.6 316.5,133.1 310.7,136.5 309.6,141.1 305.0,144.6 299.2,149.2 295.7,150.4 287.7,146.9 283.0,143.5 278.4,138.8 270.4,135.4 260.0,131.9 247.3,129.6 230.0,129.6 223.1,126.7" fill="#6fd96b"/>
<polygon points="240.4,179.2 242.7,175.8 249.6,174.6 250.7,170.0 255.4,166.5 264.6,164.2 276.1,163.6 287.7,163.1 299.2,161.9 305.0,159.6 316.5,156.1 310.7,162.5 317.7,165.4 330.0,164.2 330.0,180.4 322.3,180.9 315.3,180.9 308.4,183.8 302.7,182.7 299.2,178.1 287.7,175.8 276.1,175.2 265.7,175.8 264.6,180.4 269.2,186.1 264.6,188.4 260.0,189.6 253.1,190.8 249.6,189.6 241.5,188.4 235.7,191.3 235.2,185.0" fill="#449b8c"/>
<polygon points="269.2,167.7 276.1,166.5 278.4,170.0 285.4,173.4 286.5,175.8 279.6,175.8 273.8,174.6 270.4,171.1" fill="#d3d3d3"/>
<polygon points="283.0,167.1 288.8,167.7 290.0,170.6 285.4,170.0" fill="#d3d3d3"/>
<polygon points="265.7,174.4 270.4,174.4 270.4,175.8 265.7,175.8" fill="#ffffff"/>
<polygon points="265.7,175.8 276.1,175.2 287.7,175.8 299.2,178.1 302.7,182.7 308.4,183.8 315.3,180.9 322.3,180.9 330.0,180.4 330.0,221.9 322.3,223.1 321.1,217.3 317.7,213.8 310.7,211.5 305.0,210.4 296.9,211.5 292.3,210.4 287.7,205.8 283.0,198.8 276.1,193.1 269.2,186.1 264.6,180.4" fill="#3f6890"/>
<polygon points="297.5,180.4 302.1,180.9 302.1,186.1 299.8,186.1 299.8,182.7 297.5,182.1" fill="#ffffff"/>
<polygon points="292.9,203.2 298.0,203.2 298.0,205.2 292.9,205.2" fill="#6fd96b"/>
<polygon points="276.1,194.8 280.7,194.8 280.7,196.5 276.1,196.5" fill="#ffffff"/>
<polygon points="235.2,185.0 235.7,191.3 241.5,188.4 249.6,189.6 253.1,190.8 260.0,189.6 264.6,188.4 269.2,191.9 270.4,198.8 269.2,205.8 262.3,210.4 260.0,217.3 264.6,220.7 264.6,224.2 260.0,219.6 253.1,216.1 246.1,212.7 241.5,205.8 236.9,198.8 235.7,193.1" fill="#50b587"/>
<polygon points="241.5,189.6 249.6,189.8 260.0,189.8 264.6,188.7 269.2,191.9 263.4,195.4 263.4,205.8 269.2,205.8 262.3,210.4 260.0,217.3 255.4,215.0 250.7,210.4 246.1,205.8 241.5,198.8" fill="#449b8c"/>
<polygon points="263.4,191.3 270.4,193.1 271.5,198.8 269.2,205.8 263.4,205.8 262.3,198.8" fill="#5cc47f"/>
<polygon points="242.7,192.5 249.6,191.3 250.7,195.4 248.4,199.4 243.8,198.8" fill="#d3d3d3"/>
<polygon points="251.9,200.0 257.7,198.3 261.7,197.7 262.3,204.6 258.8,207.5 253.1,205.8" fill="#d3d3d3"/>
<polygon points="247.3,209.8 258.8,210.4 260.0,216.1 253.1,215.6 248.4,212.7" fill="#d3d3d3"/>
<polygon points="264.6,188.4 269.2,186.1 276.1,193.1 283.0,198.8 287.7,205.8 292.3,210.4 290.0,215.0 283.0,212.7 276.1,219.6 264.6,220.7 260.0,217.3 262.3,210.4 269.2,205.8 271.5,198.8 270.4,193.1" fill="#40868e"/>
<polygon points="276.1,219.6 283.0,212.7 290.0,215.0 292.3,210.4 293.4,221.9 296.9,231.1 301.5,238.1 299.2,239.8 293.4,236.9 287.7,228.8 280.7,224.2" fill="#40868e"/>
<polygon points="277.9,213.8 281.9,212.7 284.2,216.1 286.5,220.7 284.2,223.1 280.7,219.6" fill="#d3d3d3"/>
<polygon points="276.1,220.2 280.7,220.7 283.0,225.4 279.6,228.8 276.7,224.2" fill="#8ee652"/>
<polygon points="290.0,215.6 292.9,216.1 292.9,221.3 290.5,220.7" fill="#ffffff"/>
<polygon points="292.3,210.4 296.9,211.5 305.0,210.4 310.7,211.5 317.7,213.8 321.1,217.3 322.3,223.1 317.7,225.4 310.7,228.8 305.0,233.4 301.5,238.1 296.9,231.1 293.4,221.9" fill="#4aa68c"/>
<polygon points="260.0,219.6 264.6,220.7 276.1,220.2 280.7,224.2 287.7,228.8 293.4,236.9 299.2,239.8 301.5,238.1 305.0,240.4 305.0,248.4 309.6,256.5 315.3,260.0 322.3,258.8 330.0,256.5 330.0,270.4 320.0,265.7 310.7,261.1 299.2,258.8 290.0,254.2 285.4,249.6 280.7,242.7 276.1,235.7 269.2,227.7 264.6,224.2" fill="#449b8c"/>
<polygon points="264.6,221.3 269.2,223.1 273.8,231.1 271.5,232.3 266.9,226.5" fill="#6fd96b"/>
<polygon points="280.7,236.9 285.4,239.2 287.7,245.0 291.1,246.1 292.3,241.5 296.9,239.2 294.6,245.0 291.1,248.4 286.5,247.3 283.0,242.7" fill="#6fd96b"/>
<polygon points="286.5,230.0 292.3,230.6 293.4,236.9 288.8,237.5" fill="#d3d3d3"/>
<polygon points="293.4,240.4 299.2,240.9 300.4,246.1 294.6,246.1" fill="#d3d3d3"/>
<polygon points="299.2,258.8 310.7,261.1 320.0,265.7 320.0,268.1 308.4,263.4 299.2,261.1" fill="#50b587"/>
<polygon points="280.0,163.1 286.9,160.8 297.3,159.6 306.5,157.3 316.9,156.1 314.6,159.6 307.7,164.2 318.1,166.5 322.7,170.0 326.1,174.6 323.8,178.1 314.6,180.4 308.8,183.8 303.1,180.4 291.5,178.1 280.0,175.8" fill="#449b8c"/>
<polygon points="318.1,166.5 323.8,160.8 330.8,159.6 337.7,160.8 337.7,165.4 344.6,170.0 350.4,171.1 351.5,175.8 349.2,179.2 342.3,178.1 335.4,175.8 328.5,173.4 322.7,170.0" fill="#50b587"/>
<polygon points="326.1,174.6 335.4,175.8 342.3,178.1 349.2,179.2 360.8,179.2 370.0,180.4 375.8,182.7 372.3,188.4 367.7,193.1 360.8,195.4 355.0,194.2 349.2,197.7 340.0,198.8 333.1,193.1 326.1,187.3 314.6,180.4 323.8,178.1" fill="#40868e"/>
<polygon points="280.0,175.8 291.5,178.1 303.1,180.4 308.8,183.8 314.6,180.4 326.1,187.3 333.1,193.1 340.0,198.8 349.2,197.7 355.0,194.2 356.1,198.8 353.8,205.8 349.2,210.4 342.3,212.7 334.2,213.8 328.5,217.3 326.1,221.9 323.8,225.4 319.2,221.9 316.9,215.0 308.8,212.7 298.5,210.4 289.2,211.5 280.0,210.4" fill="#3f6890"/>
<polygon points="297.3,180.4 301.3,180.9 301.9,186.1 299.6,186.1 299.6,182.7 297.3,182.1" fill="#ffffff"/>
<polygon points="292.7,203.2 297.9,203.2 297.9,205.2 292.7,205.2" fill="#6fd96b"/>
<polygon points="355.0,194.2 360.8,195.4 367.7,193.1 372.3,188.4 375.8,182.7 383.8,181.5 390.8,185.0 383.8,189.6 375.8,195.4 367.7,201.1 360.8,208.1 359.6,212.7 353.8,217.3 349.2,221.9 348.1,227.7 351.0,236.9 346.9,233.4 344.6,226.5 337.7,225.4 330.8,225.4 323.8,225.4 326.1,221.9 328.5,217.3 334.2,213.8 342.3,212.7 349.2,210.4 353.8,205.8 356.1,198.8" fill="#449b8c"/>
<polygon points="375.8,182.7 381.5,178.1 389.6,175.8 391.3,180.9 383.8,186.1 378.1,190.8 372.3,188.4" fill="#4aa68c"/>
<polygon points="289.2,211.5 298.5,210.4 308.8,212.7 316.9,215.0 319.2,221.9 322.7,225.4 314.6,226.5 308.8,228.8 303.1,233.4 300.8,238.1 296.2,231.1 292.7,221.9" fill="#4aa68c"/>
<polygon points="356.1,160.8 363.1,158.5 372.3,153.8 379.2,152.7 383.8,156.1 388.4,159.6 389.6,152.7 393.1,151.5 395.4,157.3 400.0,161.9 404.6,166.5 405.7,171.1 400.0,170.0 395.4,166.5 390.8,168.8 383.8,168.8 378.1,166.5 376.9,173.4 375.8,179.2 370.0,178.1 367.7,173.4 360.8,170.0 356.1,166.5" fill="#6fd96b"/>
<polygon points="377.5,166.5 383.8,168.8 388.4,170.0 387.3,175.8 378.1,175.8" fill="#d3d3d3"/>
<polygon points="360.8,144.6 366.5,141.1 372.3,143.5 375.8,146.9 373.4,150.4 365.4,152.7 360.8,150.4" fill="#8ee652"/>
<polygon points="409.2,175.8 415.0,175.8 415.0,179.2 409.2,179.2" fill="#50b587"/>
<polygon points="387.3,176.3 391.3,176.3 391.3,178.6 387.3,178.6" fill="#6fd96b"/>
<polygon points="503.8,133.1 510.7,131.3 522.3,131.3 524.6,134.8 516.5,137.1 508.4,137.7 503.8,135.4" fill="#8ee652"/>
<polygon points="337.7,119.6 344.6,119.6 344.6,121.5 337.7,121.5" fill="#b9ec3a"/>
<polygon points="338.8,125.6 344.6,125.6 344.6,127.9 338.8,127.9" fill="#b9ec3a"/>
<polygon points="280.0,224.2 286.9,226.5 296.2,231.1 300.8,238.1 303.1,245.0 307.7,254.2 314.6,257.7 323.8,256.5 328.5,254.2 330.8,258.8 328.5,263.4 335.4,264.6 342.3,265.7 342.3,270.4 337.7,276.0 326.1,268.1 314.6,262.3 303.1,260.0 291.5,254.2 280.0,242.7" fill="#449b8c"/>
<polygon points="288.1,230.0 292.7,230.0 292.7,236.9 288.1,236.9" fill="#d3d3d3"/>
<polygon points="292.7,240.4 300.8,240.4 300.8,246.1 292.7,246.1" fill="#d3d3d3"/>
<polygon points="323.8,248.4 334.2,248.4 334.2,256.5 328.5,254.2 323.8,256.5" fill="#d3d3d3"/>
<polygon points="280.0,236.9 284.6,236.9 284.6,242.7 280.0,242.7" fill="#6fd96b"/>
<polygon points="289.2,238.1 293.8,238.1 293.8,243.8 289.2,243.8" fill="#6fd96b"/>
<polygon points="300.8,249.6 307.7,249.6 307.7,255.4 300.8,255.4" fill="#6fd96b"/>
<polygon points="328.5,263.4 342.3,264.6 342.9,270.4 335.4,271.5 329.6,268.1" fill="#50b587"/>
<polygon points="336.5,275.0 344.6,279.6 350.4,281.9 358.5,280.8 359.6,286.5 357.3,281.9 350.4,284.2 343.5,281.9 337.7,278.5" fill="#449b8c"/>
<polygon points="357.3,281.9 364.2,277.3 370.0,276.2 374.6,281.9 370.0,290.0 365.4,296.9 360.8,301.5 358.5,293.5 359.6,286.5" fill="#40868e"/>
<polygon points="365.4,296.9 370.0,290.0 374.6,281.9 381.5,277.9 390.8,280.2 398.8,281.9 402.3,286.5 406.9,288.8 405.8,298.1 402.3,292.3 395.4,294.6 390.8,296.9 379.2,298.1 370.0,298.1" fill="#40498a"/>
<polygon points="388.4,279.6 395.4,277.3 400.0,278.5 398.8,281.9 390.8,280.8" fill="#50b587"/>
<polygon points="355.6,309.6 360.8,301.5 358.5,298.1 353.8,302.7 349.8,308.5 351.0,311.9" fill="#4aa68c"/>
<polygon points="406.9,288.8 413.8,290.0 420.8,290.0 425.4,293.5 425.9,298.1 424.2,302.7 419.6,298.7 411.5,299.2 405.8,298.1" fill="#40868e"/>
<polygon points="355.0,309.6 360.8,301.5 370.0,298.1 379.2,298.1 390.8,296.9 395.4,294.6 402.3,292.3 405.8,298.1 411.5,299.2 419.6,298.7 424.2,302.7 425.4,309.6 427.7,318.8 428.8,325.8 425.4,335.0 425.4,340.8 418.4,343.1 410.4,343.1 404.6,346.5 401.1,353.4 395.4,358.1 390.8,354.6 386.1,348.8 379.2,343.1 372.3,344.2 365.4,339.6 360.8,332.7 356.1,323.5 353.8,315.4" fill="#472a7a"/>
<polygon points="425.4,309.6 427.7,318.8 432.3,316.5 436.9,321.1 440.4,326.9 439.2,335.0 436.9,344.2 430.0,347.7 423.1,350.0 418.4,346.5 418.4,343.1 425.4,340.8 425.4,335.0 428.8,325.8" fill="#3f6890"/>
<polygon points="440.4,326.9 445.0,318.8 448.4,313.1 453.1,316.5 455.4,321.1 454.2,325.8 448.4,329.2 443.8,332.7 439.2,330.4" fill="#449b8c"/>
<polygon points="453.1,316.5 460.0,317.7 466.9,320.0 469.8,323.5 465.7,326.9 460.0,324.6 455.4,323.5" fill="#50b587"/>
<polygon points="439.2,335.0 443.8,332.7 448.4,329.2 454.2,325.8 460.0,324.6 464.6,328.1 465.2,331.5 457.7,330.4 453.1,335.0 450.7,341.9 448.4,348.8 446.1,355.8 443.8,358.1 440.4,353.4 436.9,344.2" fill="#3f7690"/>
<polygon points="450.7,341.9 455.4,335.0 459.4,337.3 459.4,348.8 455.4,358.1 450.7,363.8 446.1,361.5 446.1,355.8 448.4,348.8" fill="#4aa68c"/>
<polygon points="450.7,335.0 455.4,332.7 458.8,337.3 457.7,344.2 451.9,343.1" fill="#d3d3d3"/>
<polygon points="395.4,358.1 401.1,353.4 404.6,346.5 410.4,343.1 418.4,343.1 418.4,346.5 423.1,350.0 430.0,347.7 436.9,344.2 440.4,353.4 443.8,358.1 446.1,362.7 439.2,367.3 432.3,370.8 425.4,373.1 418.4,375.4 411.5,381.1 408.1,388.1 409.2,395.0 404.6,396.1 397.7,390.4 394.2,383.4 390.8,376.5 387.3,371.9 388.4,365.0 390.8,359.2" fill="#40498a"/>
<polygon points="411.5,381.1 418.4,375.4 425.4,373.1 432.3,370.8 430.0,378.8 425.4,385.8 420.8,391.5 413.8,395.0 409.2,395.0 408.1,388.1" fill="#40868e"/>
<polygon points="374.6,343.1 379.2,343.1 386.1,348.8 388.4,358.1 383.8,358.1 379.2,351.1" fill="#4aa68c"/>
<polygon points="381.5,356.9 386.1,356.3 386.7,362.7 382.7,362.7" fill="#b9ec3a"/>
<polygon points="385.0,363.8 389.6,363.8 389.6,368.4 385.6,368.4" fill="#b9ec3a"/>
<polygon points="379.2,376.5 387.3,373.1 390.8,376.5 394.2,383.4 397.7,390.4 393.1,391.5 390.8,396.1 388.4,401.9 386.1,407.7 381.5,411.1 379.2,418.1 376.9,425.0 374.6,428.4 370.0,413.4 370.0,401.9 374.6,390.4 375.8,381.1" fill="#50b587"/>
<polygon points="375.8,381.1 370.0,401.9 368.8,413.4 372.3,419.2 374.6,407.7 376.9,396.1 379.2,384.6" fill="#6fd96b"/>
<polygon points="383.8,385.8 386.1,385.8 387.3,392.7 385.0,392.7" fill="#d3d3d3"/>
<polygon points="394.2,397.3 400.0,396.1 402.3,401.9 400.0,406.5 395.4,401.9" fill="#6fd96b"/>
<polygon points="400.0,396.1 409.2,397.3 411.5,400.7 406.9,405.4 401.1,405.4 402.3,400.7" fill="#4aa68c"/>
<polygon points="374.6,419.2 381.5,420.4 386.1,423.8 383.8,428.4 375.8,428.4" fill="#50b587"/>
<polygon points="370.0,425.0 373.5,425.0 373.5,429.6 370.0,429.6" fill="#6fd96b"/>
<polygon points="367.7,434.2 379.2,434.2 379.2,440.0 368.8,438.8" fill="#6fd96b"/>
<polygon points="372.3,436.5 379.2,437.1 379.2,441.7 372.9,441.1" fill="#b9ec3a"/>
<polygon points="379.2,444.6 383.8,445.7 383.8,448.1 379.2,447.5" fill="#6fd96b"/>
<polygon points="572.3,117.3 671.5,117.3 671.5,131.1 660.0,131.1 642.7,130.0 640.4,133.5 625.4,133.5 619.6,135.8 613.8,145.0 609.2,154.2 600.0,161.1 590.8,158.8 583.8,154.2 574.6,151.9" fill="#d3d3d3"/>
<polygon points="581.5,142.7 590.8,139.2 595.4,133.5 602.3,131.1 610.4,134.6 611.5,139.2 608.1,142.7 606.9,149.6 602.3,153.1 597.7,158.8 593.1,154.2 589.6,147.3" fill="#50b587"/>
<polygon points="609.2,125.4 620.8,121.9 625.4,124.2 636.9,123.1 640.4,126.5 639.2,131.1 632.3,132.3 625.4,131.1 619.6,132.3 613.8,128.8" fill="#50b587"/>
<polygon points="642.7,124.8 654.2,124.2 654.2,128.8 642.7,129.4" fill="#50b587"/>
<polygon points="620.8,135.8 627.7,133.5 639.2,133.5 648.4,134.6 650.7,139.2 643.8,140.4 636.9,145.0 625.4,143.8 619.6,142.7" fill="#50b587"/>
<polygon points="535.4,158.8 545.8,158.8 545.8,170.4 535.4,170.4" fill="#50b587"/>
<polygon points="545.8,151.9 564.2,151.9 564.2,172.7 545.8,172.7" fill="#50b587"/>
<polygon points="546.9,164.6 552.7,164.6 552.7,172.7 546.9,172.7" fill="#d3d3d3"/>
<polygon points="669.2,131.1 676.1,125.4 683.1,127.7 690.0,130.0 690.0,134.6 694.6,138.1 687.7,141.5 683.1,139.2 671.5,134.6" fill="#d3d3d3"/>
<polygon points="717.7,121.9 746.5,123.1 746.5,127.1 717.7,126.5" fill="#d3d3d3"/>
<polygon points="736.1,118.5 743.0,113.8 751.1,115.0 752.3,123.1 760.0,119.6 760.0,111.5 736.1,111.5" fill="#d3d3d3"/>
<polygon points="690.0,127.7 717.7,127.1 745.3,127.7 760.0,131.1 760.0,139.2 745.3,133.5 729.2,131.1 715.4,133.5 706.1,140.4 694.6,138.1 690.0,134.6" fill="#50b587"/>
<polygon points="625.4,165.8 636.9,161.1 648.4,154.2 654.2,147.3 671.5,145.0 694.6,145.0 715.4,143.8 717.7,154.2 715.4,163.4 706.1,165.8 699.2,170.4 690.0,170.4 680.7,176.1 671.5,180.8 660.0,178.4 648.4,177.3 636.9,176.1 630.0,173.8" fill="#449b8c"/>
<polygon points="588.4,175.0 602.3,173.8 613.8,176.1 625.4,175.0 634.6,177.3 638.1,183.1 634.6,188.8 632.3,195.8 625.4,198.1 618.4,195.8 613.8,188.8 604.6,185.4 595.4,183.1 589.6,180.8" fill="#449b8c"/>
<polygon points="630.0,156.5 648.4,156.5 648.4,161.1 630.0,161.1" fill="#d3d3d3"/>
<polygon points="574.6,168.1 581.5,165.8 581.5,170.4 574.6,171.5" fill="#d3d3d3"/>
<polygon points="611.5,165.8 624.2,164.6 625.4,172.7 613.8,175.0" fill="#50b587"/>
<polygon points="631.1,175.0 639.2,176.1 646.1,183.1 654.2,179.6 663.4,178.4 669.2,181.9 671.5,186.5 660.0,185.4 648.4,186.5 640.4,183.1 636.9,178.4" fill="#d3d3d3"/>
<polygon points="671.5,180.8 685.4,180.8 685.4,190.0 671.5,190.0" fill="#d3d3d3"/>
<polygon points="680.7,176.1 687.7,170.4 694.6,172.7 699.2,179.6 706.1,176.1 717.7,171.5 729.2,170.4 736.1,172.7 738.4,177.3 752.3,177.3 760.0,183.1 760.0,191.1 752.3,188.8 745.3,185.4 736.1,186.5 729.2,184.2 720.0,183.1 713.0,186.5 715.4,193.4 708.4,195.8 706.1,202.7 701.5,207.3 694.6,211.9 694.6,183.1 685.4,183.1" fill="#d3d3d3"/>
<polygon points="744.2,162.3 760.0,160.0 760.0,171.5 750.0,172.7" fill="#d3d3d3"/>
<polygon points="724.6,187.7 736.1,187.7 736.1,196.9 724.6,196.9" fill="#d3d3d3"/>
<polygon points="631.1,198.1 671.5,198.1 671.5,209.6 631.1,209.6" fill="#50b587"/>
<polygon points="658.8,200.4 671.5,193.4 683.1,194.6 687.7,200.4 690.0,211.9 692.3,221.1 687.7,226.9 683.1,231.5 676.1,231.5 665.7,230.4 663.4,221.1 658.8,211.9" fill="#449b8c"/>
<polygon points="671.5,201.5 676.1,201.5 676.1,205.0 671.5,205.0" fill="#5cc47f"/>
<polygon points="687.7,206.1 699.2,206.1 701.5,217.7 706.1,229.2 694.6,230.4 690.0,223.4" fill="#50b587"/>
<polygon points="696.9,209.6 706.1,209.6 708.4,221.1 706.1,226.9 699.2,221.1" fill="#d3d3d3"/>
<polygon points="703.8,201.5 729.2,200.4 740.7,206.1 740.7,211.9 735.0,232.7 723.4,237.3 713.0,235.0 708.4,223.4 706.1,209.6" fill="#4aa68c"/>
<polygon points="708.4,211.9 717.7,211.9 717.7,223.4 708.4,223.4" fill="#6fd96b"/>
<polygon points="721.1,209.6 733.8,209.6 733.8,218.8 721.1,218.8" fill="#d3d3d3"/>
<polygon points="699.2,223.4 736.1,225.7 736.1,238.4 722.3,239.6 706.1,233.8" fill="#5cc47f"/>
<polygon points="510.0,209.6 660.0,209.6 660.0,266.0 510.0,266.0" fill="#d3d3d3"/>
<polygon points="533.1,230.4 536.5,221.1 544.6,214.2 556.1,214.2 567.7,213.1 574.6,209.6 588.4,208.4 589.6,213.1 583.8,217.7 574.6,217.7 565.4,217.7 558.5,221.1 548.1,223.4 544.6,228.1" fill="#6fd96b"/>
<polygon points="548.1,223.4 558.5,221.1 558.5,228.1 565.4,231.5 579.2,230.4 591.9,228.1 602.3,230.4 606.9,235.0 611.5,237.3 609.2,226.9 618.4,220.0 630.0,223.4 640.4,225.7 636.9,233.8 630.0,236.1 630.0,246.5 625.4,251.1 618.4,248.8 611.5,250.0 609.2,246.5 602.3,248.8 597.7,258.1 593.1,261.5 588.4,258.1 585.0,252.3 583.8,246.5 579.2,243.1 574.6,246.5 565.4,251.1 558.5,246.5 553.8,237.3" fill="#b9ec3a"/>
<polygon points="593.1,217.7 609.2,221.1 611.5,237.3 606.9,235.0 602.3,230.4 591.9,228.1" fill="#d3d3d3"/>
<polygon points="574.6,232.7 583.8,231.5 602.3,233.8 606.9,238.4 602.3,248.8 597.7,258.1 593.1,261.5 588.4,258.1 585.0,252.3 583.8,246.5 579.2,243.1" fill="#8ee652"/>
<polygon points="557.3,221.1 565.4,217.7 574.6,217.7 583.8,220.0 591.9,222.3 591.9,228.1 579.2,230.4 565.4,231.5 558.5,228.1" fill="#e8f03c"/>
<polygon points="632.3,236.1 636.9,233.8 640.4,225.7 642.7,222.3 646.1,224.6 648.4,232.7 653.1,244.2 656.5,253.4 658.8,266.0 590.8,266.0 597.7,258.1 602.3,248.8 609.2,246.5 611.5,250.0 618.4,248.8 625.4,251.1 630.0,246.5" fill="#3f7690"/>
<polygon points="516.9,266.0 519.2,260.4 533.1,256.9 549.2,258.1 558.5,258.1 565.4,251.1 574.6,246.5 579.2,243.1 583.8,246.5 585.0,252.3 588.4,258.1 590.8,266.0" fill="#3f6890"/>
<polygon points="519.2,252.3 528.5,250.0 528.5,259.2 519.2,260.4" fill="#b9ec3a"/>
<polygon points="648.4,214.2 658.8,211.9 665.7,230.4 683.1,231.5 690.0,226.9 717.7,246.5 706.1,266.0 660.0,266.0" fill="#d3d3d3"/>
<polygon points="657.7,233.8 661.1,233.2 671.5,243.1 670.4,246.5 663.4,241.9" fill="#8ee652"/>
<polygon points="670.4,248.8 683.1,243.1 690.0,241.9 690.0,246.5 680.7,252.3 671.5,255.7" fill="#b9ec3a"/>
<polygon points="680.7,253.4 699.2,245.4 699.2,248.8 683.1,256.9" fill="#b9ec3a"/>
<polygon points="706.1,237.3 709.6,237.3 709.6,243.1 706.1,243.1" fill="#b9ec3a"/>
<polygon points="680.7,263.2 692.3,262.1 692.3,266.0 680.7,266.0" fill="#8ee652"/>
<polygon points="651.9,217.7 655.4,217.7 655.4,225.7 651.9,225.7" fill="#50b587"/>
<polygon points="740.0,113.8 750.4,114.4 751.5,123.1 746.9,128.8 740.0,131.1" fill="#d3d3d3"/>
<polygon points="753.8,116.1 772.3,112.7 786.1,111.5 787.3,117.3 779.2,123.1 767.7,128.8 766.5,135.8 786.1,135.8 786.1,141.5 753.8,140.4 759.6,134.6 759.6,123.1" fill="#d3d3d3"/>
<polygon points="767.7,127.7 785.0,127.7 785.0,135.8 767.7,135.8" fill="#5cc47f"/>
<polygon points="740.0,131.1 758.5,131.1 758.5,136.9 751.5,140.4 740.0,140.4" fill="#5cc47f"/>
<polygon points="743.5,162.3 774.6,158.8 774.6,171.5 753.8,172.7" fill="#d3d3d3"/>
<polygon points="740.0,176.1 752.7,176.1 755.0,186.5 760.8,192.3 751.5,193.4 740.0,193.4" fill="#d3d3d3"/>
<polygon points="785.0,118.5 802.3,124.2 825.4,132.3 839.2,134.6 845.0,142.7 843.8,151.9 834.6,158.8 833.4,165.8 843.8,170.4 850.8,177.3 843.8,181.9 830.0,181.9 820.8,177.3 804.6,172.7 795.4,165.8 800.0,156.5 795.4,147.3 788.5,140.4 785.0,131.1" fill="#449b8c"/>
<polygon points="787.3,117.3 790.8,111.5 804.6,108.1 820.8,106.3 843.8,105.2 847.3,107.5 839.2,109.8 827.7,111.0 811.5,113.8 802.3,119.6 797.7,124.2 788.5,123.1" fill="#5cc47f"/>
<polygon points="802.3,119.6 811.5,113.8 827.7,111.5 839.2,112.7 841.5,118.5 843.8,121.9 839.2,128.8 832.3,131.1 825.4,132.3 813.8,127.7" fill="#d3d3d3"/>
<polygon points="786.1,108.1 820.8,103.5 860.0,104.6 860.0,108.1 847.3,107.5 843.8,105.2 820.8,106.3 804.6,108.1 790.8,111.5" fill="#d3d3d3"/>
<polygon points="839.2,115.0 855.4,113.8 873.8,115.0 894.6,113.8 898.1,119.6 901.5,125.4 915.4,118.5 936.1,117.3 959.2,118.5 976.5,120.8 990.0,123.1 990.0,140.4 982.3,142.7 970.7,143.8 959.2,147.3 941.9,145.0 930.4,147.3 924.6,154.2 915.4,160.0 903.8,160.0 890.0,158.8 878.4,161.1 866.9,163.4 855.4,160.0 846.1,165.8 836.9,168.1 832.3,165.8 834.6,160.0 839.2,154.2 845.0,149.6 843.8,140.4 839.2,134.6 839.2,128.8 843.8,121.9" fill="#50b587"/>
<polygon points="855.4,124.2 878.4,121.9 894.6,123.1 901.5,131.1 913.1,135.8 920.0,145.0 913.1,156.5 890.0,157.7 866.9,162.3 855.4,158.8 848.4,149.6 848.4,135.8" fill="#4aa68c"/>
<polygon points="898.1,118.5 915.4,117.9 910.7,123.1 901.5,126.0" fill="#d3d3d3"/>
<polygon points="930.4,147.3 941.9,145.0 959.2,147.3 970.7,143.8 982.3,142.7 990.0,140.4 990.0,149.6 959.2,149.6 936.1,149.6" fill="#d3d3d3"/>
<polygon points="841.5,112.7 860.0,111.5 883.1,112.7 896.9,113.3 894.6,114.4 873.8,115.2 855.4,114.1 839.2,115.2" fill="#d3d3d3"/>
<polygon points="924.6,115.0 953.4,116.1 976.5,119.6 976.5,121.0 959.2,118.7 936.1,117.5 915.4,118.7" fill="#d3d3d3"/>
<polygon points="968.4,154.2 990.0,145.0 990.0,154.2 982.3,163.4 973.0,170.4 969.6,165.8" fill="#d3d3d3"/>
<polygon points="970.7,154.2 986.9,153.1 984.6,158.8 975.3,161.1 970.7,160.0" fill="#50b587"/>
<polygon points="850.8,168.1 855.4,160.0 866.9,163.4 878.4,161.1 890.0,158.8 903.8,160.0 915.4,163.4 924.6,163.4 929.2,168.1 926.9,175.0 922.3,180.8 917.7,186.5 910.7,191.1 901.5,195.8 890.0,199.2 878.4,198.1 871.5,193.4 869.2,186.5 873.8,183.1 866.9,179.6 860.0,176.1 869.2,173.8 857.7,173.8 853.1,177.3 843.8,175.0" fill="#40868e"/>
<polygon points="903.8,158.8 915.4,160.0 915.4,164.6 906.1,165.8" fill="#5cc47f"/>
<polygon points="860.0,179.6 866.9,179.6 873.8,183.1 870.4,188.8 864.6,191.1 861.1,185.4" fill="#6fd96b"/>
<polygon points="924.6,164.6 929.2,165.8 929.2,172.7 924.6,177.3" fill="#d3d3d3"/>
<polygon points="770.0,181.9 778.1,180.8 791.9,180.8 800.0,183.1 813.8,180.8 825.4,181.9 839.2,181.9 853.1,178.4 860.0,179.6 862.3,186.5 866.9,191.1 870.4,195.8 866.9,198.1 855.4,194.6 843.8,195.8 839.2,200.4 836.9,205.0 830.0,207.3 820.8,205.0 813.8,200.4 806.9,198.1 800.0,200.4 790.8,195.8 783.8,191.1 774.6,188.8" fill="#d3d3d3"/>
<polygon points="853.1,176.1 857.7,173.8 869.2,173.8 860.0,177.3" fill="#d3d3d3"/>
<polygon points="767.7,211.9 774.6,209.6 786.1,207.3 795.4,205.0 804.6,200.4 813.8,200.4 820.8,205.0 818.4,209.6 809.2,208.4 800.0,211.9 800.0,223.4 790.8,225.7 781.5,224.6 774.6,220.0 770.0,215.4" fill="#d3d3d3"/>
<polygon points="791.9,176.1 800.0,172.7 811.5,172.7 818.4,176.1 818.4,180.8 813.8,181.9 804.6,180.8 795.4,180.8" fill="#8ee652"/>
<polygon points="781.5,183.1 791.9,183.1 791.9,191.1 786.1,192.3 781.5,188.8" fill="#b9ec3a"/>
<polygon points="800.0,183.1 806.9,183.1 806.9,187.7 800.0,187.7" fill="#e8f03c"/>
<polygon points="786.1,191.1 795.4,192.3 800.0,195.8 793.1,196.9" fill="#6fd96b"/>
<polygon points="804.6,198.1 813.8,196.9 820.8,199.2 832.3,202.7 832.3,207.3 820.8,207.3 811.5,203.8" fill="#6fd96b"/>
<polygon points="804.6,207.3 823.1,207.3 823.1,211.9 804.6,211.9" fill="#6fd96b"/>
<polygon points="850.8,193.4 857.7,193.4 857.7,198.1 850.8,198.1" fill="#6fd96b"/>
<polygon points="839.2,200.4 843.8,195.8 855.4,196.9 866.9,198.1 870.4,200.4 869.2,207.3 873.8,214.2 866.9,215.4 855.4,214.2 843.8,215.4 832.3,215.4 825.4,211.9 830.0,207.3 836.9,205.0" fill="#40868e"/>
<polygon points="800.0,213.1 809.2,211.9 825.4,211.9 832.3,215.4 843.8,215.4 855.4,214.2 866.9,215.4 872.7,217.7 873.8,226.9 870.4,232.7 866.9,237.3 864.6,244.2 855.4,246.5 843.8,245.4 834.6,244.2 827.7,241.9 820.8,232.7 818.4,226.9 813.8,221.1 806.9,216.5" fill="#3f6890"/>
<polygon points="755.0,238.4 760.8,228.1 767.7,223.4 774.6,224.6 781.5,225.7 790.8,225.7 800.0,223.4 804.6,216.5 813.8,221.1 818.4,228.1 813.8,235.0 806.9,239.6 800.0,241.9 790.8,240.7 781.5,243.1 768.8,244.2 757.3,244.2" fill="#3f6890"/>
<polygon points="806.9,239.6 813.8,235.0 819.6,230.4 820.8,237.3 821.9,246.5 818.4,255.7 811.5,258.1 806.9,251.1" fill="#40868e"/>
<polygon points="804.6,215.4 811.5,218.8 818.4,225.7 823.1,237.3 827.7,244.2 832.3,251.1 839.2,258.1 843.8,266.0 820.8,266.0 820.8,255.7 821.9,246.5 819.6,235.0 816.1,226.9 809.2,220.0" fill="#40498a"/>
<polygon points="827.7,241.9 834.6,244.2 843.8,245.4 855.4,246.5 850.8,248.8 841.5,251.1 836.9,255.7 832.3,251.1" fill="#40868e"/>
<polygon points="866.9,235.0 876.1,229.2 878.4,235.0 872.7,244.2 864.6,245.4" fill="#d3d3d3"/>
<polygon points="872.7,215.4 879.6,223.4 878.4,229.2 873.8,226.9" fill="#449b8c"/>
<polygon points="873.8,215.4 878.4,215.4 879.6,222.3" fill="#d3d3d3"/>
<polygon points="888.8,200.4 899.2,202.7 899.2,214.2 890.0,214.2" fill="#449b8c"/>
<polygon points="926.9,186.5 941.9,186.5 941.9,194.6 926.9,194.6" fill="#6fd96b"/>
<polygon points="901.5,200.4 936.1,195.8 936.1,223.4 901.5,223.4" fill="#6fd96b"/>
<polygon points="920.0,205.0 930.4,200.4 930.4,211.9 922.3,213.1" fill="#b9ec3a"/>
<polygon points="915.4,210.7 924.6,209.6 924.6,214.2 915.4,214.2" fill="#50b587"/>
<polygon points="931.5,163.4 938.4,163.4 938.4,175.0 931.5,175.0" fill="#d3d3d3"/>
<polygon points="932.7,172.7 936.1,172.7 936.1,183.1 932.7,183.1" fill="#50b587"/>
<polygon points="875.0,239.6 880.7,239.6 880.7,245.4 875.0,245.4" fill="#50b587"/>
<polygon points="846.1,252.3 850.8,252.3 850.8,255.7 846.1,255.7" fill="#449b8c"/>
<polygon points="740.0,209.6 751.5,208.4 758.5,209.6 767.7,213.1 774.6,220.0 767.7,223.4 760.8,228.1 755.0,238.4 746.9,236.1 740.0,229.2" fill="#3f7690"/>
<polygon points="740.0,230.4 751.5,225.7 761.9,224.6 761.9,230.4 753.8,235.0 746.9,243.1 740.0,243.1" fill="#6fd96b"/>
<polygon points="744.6,231.5 757.3,230.4 757.3,233.8 746.9,236.1" fill="#d3d3d3"/>
<polygon points="742.3,244.2 755.0,244.2 755.0,250.0 742.3,250.0" fill="#d3d3d3"/>
<polygon points="751.5,244.2 779.2,244.2 779.2,266.0 751.5,266.0" fill="#449b8c"/>
<polygon points="772.3,244.8 781.5,244.8 781.5,252.3 772.3,252.3" fill="#6fd96b"/>
<polygon points="752.7,247.7 764.2,247.7 764.2,251.1 752.7,251.1" fill="#d3d3d3"/>
<polygon points="781.5,244.2 800.0,241.9 802.3,248.8 786.1,248.8" fill="#d3d3d3"/>
<polygon points="740.0,193.4 770.0,188.8 770.0,209.6 740.0,209.6" fill="#50b587"/>
<polygon points="751.5,180.8 770.0,181.9 774.6,188.8 760.8,192.3 755.0,186.5" fill="#4aa68c"/>
<polygon points="985.0,118.0 1000.0,119.0 1010.0,124.0 1020.0,123.0 1026.0,124.0 1019.0,131.0 1020.0,140.0 1010.0,142.0 1000.0,146.0 990.0,143.0 985.0,143.0" fill="#50b587"/>
<polygon points="1019.0,120.0 1040.0,120.0 1040.0,152.0 998.0,152.0 1000.0,146.0 1010.0,142.0 1020.0,140.0 1019.0,131.0 1026.0,124.0" fill="#d3d3d3"/>
<polygon points="985.0,112.0 1040.0,112.0 1040.0,123.0 1020.0,123.0 1010.0,124.0 1000.0,119.0 985.0,118.0" fill="#d3d3d3"/>
<polygon points="1010.0,124.0 1024.0,124.0 1020.0,130.0 1008.0,130.0" fill="#6fd96b"/>
<polygon points="973.0,154.0 987.0,153.0 986.0,160.0 976.0,163.0 972.0,160.0" fill="#5cc47f"/>
<polygon points="671.1,183.8 681.5,172.3 688.5,170.0 700.0,176.9 709.2,174.6 720.8,171.2 735.8,171.2 743.8,174.6 750.8,179.2 755.4,185.0 761.1,193.1 755.4,193.1 750.8,196.5 743.8,198.8 739.2,196.5 734.6,198.8 730.0,198.8 725.4,202.3 720.8,200.0 715.0,197.7 709.2,202.3 704.6,203.5 704.6,193.1 700.0,182.7 690.8,181.5 683.8,185.0" fill="#d3d3d3"/>
<polygon points="713.8,187.3 718.4,182.7 727.7,181.5 735.8,185.0 738.1,190.8 736.9,196.5 730.0,198.8 725.4,197.7 720.8,200.0 716.1,196.5 713.8,191.9" fill="#449b8c"/>
<polygon points="724.2,189.6 731.1,187.3 735.8,190.8 735.8,195.4 731.1,198.8 726.5,196.5" fill="#d3d3d3"/>
<polygon points="709.2,202.3 715.0,197.7 720.8,200.0 725.4,202.3 730.0,198.8 739.2,197.7 750.8,198.8 755.4,204.6 762.3,206.9 755.4,209.2 743.8,208.1 732.3,209.2 720.8,208.1 709.2,208.1" fill="#4aa68c"/>
<polygon points="736.9,193.1 743.8,189.6 750.8,193.1 755.4,198.8 750.8,199.4 741.5,198.3" fill="#50b587"/>
<polygon points="753.1,181.5 762.3,176.9 770.4,181.5 776.1,189.6 776.1,196.5 766.9,200.0 761.1,193.1 755.4,185.0" fill="#4aa68c"/>
<polygon points="697.7,209.2 708.1,209.2 709.2,223.1 700.0,224.2" fill="#d3d3d3"/>
<polygon points="709.2,213.3 718.4,212.1 719.6,218.5 716.1,225.4 709.2,224.2" fill="#8ee652"/>
<polygon points="719.6,216.1 732.3,213.8 739.2,216.1 734.6,224.2 720.8,224.2" fill="#5cc47f"/>
<polygon points="719.6,208.1 732.3,208.6 731.1,213.8 720.8,214.4" fill="#d3d3d3"/>
<polygon points="622.3,253.5 626.9,250.0 631.5,238.5 638.4,235.0 641.9,223.5 645.4,224.6 647.7,235.0 652.3,243.1 655.7,254.6 659.2,263.8 663.8,266.1 663.8,275.4 661.5,282.3 656.9,286.9 654.6,296.1 652.3,300.8 645.4,300.8 640.7,296.1 633.8,293.8 629.2,289.2 624.6,283.5 617.7,282.3 610.8,288.1 603.8,284.6 599.2,280.0 592.3,275.4 587.7,270.8 585.4,263.8 592.3,261.5 599.2,254.6 608.4,251.1 610.8,247.7 615.4,251.1" fill="#41818f"/>
<polygon points="518.5,260.4 527.7,256.9 539.2,256.9 548.5,259.2 557.7,258.1 562.3,253.5 571.5,251.1 578.4,243.1 583.1,245.4 585.4,254.6 585.4,263.8 587.7,270.8 592.3,275.4 599.2,280.0 601.5,282.3 594.6,284.6 587.7,286.9 580.8,284.6 578.4,291.5 576.1,292.7 575.0,286.9 569.2,277.7 562.3,273.1 555.4,268.5 550.8,268.5 546.1,274.2 539.2,280.0 533.5,278.8 532.3,274.2 538.1,270.8 542.7,265.0 534.6,263.8 525.4,266.1 518.5,266.1" fill="#3f6890"/>
<polygon points="517.3,266.1 525.4,266.1 534.6,263.8 542.7,265.0 538.1,270.8 532.3,274.2 533.5,278.8 539.2,280.0 546.1,274.2 550.8,268.5 555.4,268.5 562.3,273.1 569.2,277.7 575.0,286.9 564.6,289.2 555.4,289.2 548.5,290.4 541.5,291.5 534.6,286.9 527.7,281.1 521.9,274.2 517.3,269.6" fill="#449b8c"/>
<polygon points="518.5,260.4 527.7,256.9 539.2,256.9 548.5,259.2 543.8,265.0 534.6,263.8 525.4,266.1 518.5,266.1" fill="#40868e"/>
<polygon points="516.2,266.1 520.8,266.1 523.1,273.1 527.7,281.1 523.1,277.7 517.3,270.8" fill="#50b587"/>
<polygon points="576.1,292.7 578.4,291.5 580.8,284.6 587.7,286.9 594.6,284.6 601.5,282.3 603.8,284.6 610.8,288.1 601.5,289.2 594.6,296.1 596.9,300.8 598.1,310.0 594.6,319.2 592.3,314.6 587.7,307.7 585.4,303.1 587.7,296.1 580.8,293.8" fill="#40868e"/>
<polygon points="594.6,296.1 601.5,289.2 610.8,288.1 617.7,282.3 624.6,283.5 629.2,289.2 633.8,293.8 640.7,296.1 639.6,303.1 636.1,310.0 636.1,316.9 640.7,323.8 645.4,329.6 650.0,330.8 647.7,335.4 640.7,338.8 633.8,336.5 626.9,334.2 620.0,335.4 610.8,333.1 603.8,327.3 599.2,321.5 594.6,319.2 598.1,310.0 596.9,300.8" fill="#433e85"/>
<polygon points="663.8,275.4 670.7,277.7 675.4,282.3 680.0,291.5 682.3,296.1 677.7,300.8 673.1,303.1 668.4,305.4 663.8,307.7 661.5,303.1 659.2,296.1 661.5,289.2 661.5,282.3" fill="#50b587"/>
<polygon points="663.8,265.0 668.4,266.1 673.1,275.4 670.7,277.7 663.8,275.4" fill="#8ee652"/>
<polygon points="673.1,273.1 696.1,273.1 696.1,284.6 686.9,298.4 682.3,296.1 680.0,291.5 675.4,282.3" fill="#d3d3d3"/>
<polygon points="680.0,277.7 693.8,275.4 693.8,280.0 684.6,284.6" fill="#b9ec3a"/>
<polygon points="658.1,291.5 661.5,291.5 661.5,299.6 658.1,299.6" fill="#d3d3d3"/>
<polygon points="654.6,296.1 659.2,296.1 661.5,303.1 663.8,307.7 666.1,312.3 663.8,319.2 661.5,323.8 663.8,328.4 659.2,335.4 654.6,342.3 650.0,330.8 645.4,329.6 640.7,323.8 643.1,321.5 650.0,321.5 652.3,316.9 654.6,307.7" fill="#4aa68c"/>
<polygon points="638.4,305.4 645.4,303.1 653.4,300.8 654.6,307.7 652.3,316.9 647.7,321.5 640.7,323.8 636.1,316.9 636.1,310.0" fill="#3f7690"/>
<polygon points="655.2,305.4 657.5,305.4 655.7,319.2 652.3,321.5" fill="#6fd96b"/>
<polygon points="648.8,313.4 653.4,313.4 653.4,319.2 648.8,319.2" fill="#d3d3d3"/>
<polygon points="666.1,305.4 670.7,304.2 668.4,310.0 665.0,311.1" fill="#d3d3d3"/>
<polygon points="610.8,337.7 620.0,335.4 626.9,334.2 633.8,336.5 640.7,338.8 647.7,335.4 650.0,330.8 654.6,342.3 655.7,351.5 653.4,353.8 647.7,351.5 640.7,353.8 633.8,355.0 626.9,353.8 620.0,351.5 614.2,348.1 611.9,342.3" fill="#3f7690"/>
<polygon points="594.6,345.7 599.2,340.0 603.8,333.1 608.4,334.2 610.8,337.7 611.9,342.3 614.2,348.1 610.8,353.8 603.8,357.3 596.9,353.8 592.3,349.2" fill="#449b8c"/>
<polygon points="599.2,345.7 608.4,345.7 608.4,356.1 599.2,356.1" fill="#50b587"/>
<polygon points="593.4,321.5 600.4,322.7 601.5,340.0 595.8,344.6 593.4,335.4" fill="#d3d3d3"/>
<polygon points="603.8,357.3 610.8,353.8 620.0,351.5 626.9,353.8 633.8,355.0 640.7,353.8 647.7,351.5 652.3,356.1 652.3,363.1 647.7,370.0 640.7,372.3 633.8,373.4 626.9,370.0 620.0,366.5 613.1,363.1 606.1,361.9" fill="#449b8c"/>
<polygon points="639.6,353.8 647.7,351.5 652.3,356.1 652.3,364.2 645.4,361.9 640.7,358.4" fill="#50b587"/>
<polygon points="659.2,328.4 667.3,328.4 667.3,346.9 659.2,346.9" fill="#d3d3d3"/>
<polygon points="654.6,335.4 661.5,330.8 663.8,335.4 659.2,342.3 655.7,342.3" fill="#50b587"/>
<polygon points="603.8,361.9 613.1,363.1 620.0,366.5 626.9,370.0 633.8,373.4 640.7,372.3 645.4,374.6 643.1,381.5 638.4,386.1 631.5,391.9 624.6,393.1 617.7,394.2 610.8,393.1 608.4,386.1 606.1,379.2 603.8,370.0" fill="#5cc47f"/>
<polygon points="624.6,387.3 633.8,387.3 633.8,393.1 624.6,393.1" fill="#449b8c"/>
<polygon points="594.6,356.1 603.8,357.3 603.8,370.0 606.1,379.2 608.4,386.1 603.8,386.1 598.1,370.0" fill="#d3d3d3"/>
<polygon points="599.2,361.9 606.1,361.9 606.1,367.7 599.2,367.7" fill="#b9ec3a"/>
<polygon points="682.3,346.9 689.2,346.9 689.2,356.1 682.3,356.1" fill="#50b587"/>
<polygon points="824.6,230.0 877.7,230.0 870.8,236.9 863.8,245.0 854.6,247.3 843.1,245.0 836.1,239.2 828.1,241.5" fill="#3f6890"/>
<polygon points="836.1,239.2 843.1,245.0 854.6,247.3 859.2,246.2 854.6,249.6 845.4,250.8 838.5,254.2 836.1,253.1 828.1,241.5" fill="#40868e"/>
<polygon points="866.1,232.3 878.8,230.0 873.1,239.2 866.1,240.4" fill="#d3d3d3"/>
<polygon points="806.2,236.9 813.1,230.0 818.8,230.0 820.0,239.2 818.8,250.8 814.2,260.0 811.9,253.1 807.3,247.3" fill="#40868e"/>
<polygon points="790.0,241.5 805.0,241.5 805.0,248.5 790.0,248.5" fill="#d3d3d3"/>
<polygon points="801.5,242.7 807.3,247.3 811.9,253.1 814.2,260.0 813.1,263.5 808.5,262.3 805.0,253.1" fill="#d3d3d3"/>
<polygon points="818.8,230.0 828.1,241.5 836.1,253.1 841.9,260.0 846.5,269.2 844.2,275.0 837.3,278.5 832.7,273.8 826.9,266.9 821.1,260.0 818.8,250.8 820.0,239.2" fill="#433e85"/>
<polygon points="818.8,230.0 824.6,230.0 828.1,241.5 823.5,242.7 820.0,239.2" fill="#40498a"/>
<polygon points="818.8,250.8 821.1,260.0 826.9,266.9 823.5,268.6 818.3,263.5 816.5,256.5" fill="#3f7690"/>
<polygon points="818.3,263.5 823.5,268.6 822.3,271.5 818.8,269.2" fill="#449b8c"/>
<polygon points="816.5,268.1 821.1,269.2 823.5,279.6 820.0,280.8" fill="#d3d3d3"/>
<polygon points="818.8,279.6 823.5,287.7 829.2,292.3 833.8,299.2 830.4,300.4 824.6,294.6 820.0,285.4" fill="#449b8c"/>
<polygon points="836.1,278.5 840.8,278.5 838.5,281.3 836.1,280.8" fill="#d3d3d3"/>
<polygon points="823.5,302.7 828.1,301.5 833.8,308.4 836.1,315.4 832.7,317.7 826.9,310.8" fill="#449b8c"/>
<polygon points="816.0,292.9 818.8,293.5 818.8,296.9 816.0,296.3" fill="#50b587"/>
<polygon points="846.5,302.7 852.3,299.2 859.2,296.9 863.8,291.1 868.4,287.7 870.8,292.3 866.1,296.9 868.4,303.8 863.8,310.8 859.2,311.9 854.6,308.4 848.8,306.1" fill="#449b8c"/>
<polygon points="846.5,302.7 852.3,299.2 859.2,298.1 863.8,299.2 866.1,305.0 859.2,306.1 854.6,307.3 848.8,306.1" fill="#40868e"/>
<polygon points="859.2,303.8 863.8,303.8 863.8,310.8 860.4,311.9" fill="#4aa68c"/>
<polygon points="850.0,322.3 855.8,322.3 855.8,325.8 850.0,325.8" fill="#b9ec3a"/>
<polygon points="845.4,251.9 850.0,251.9 850.0,256.5 845.4,256.5" fill="#449b8c"/>
<polygon points="875.4,239.2 880.0,239.2 880.0,245.0 875.4,245.0" fill="#50b587"/>
<polygon points="916.9,310.8 923.8,309.6 933.1,313.1 940.0,315.4 944.6,321.1 940.0,322.3 935.4,326.9 930.7,329.2 926.1,322.3 921.5,317.7 916.9,314.2" fill="#449b8c"/>
<polygon points="916.9,310.8 923.8,309.6 928.4,311.3 922.7,314.2 918.1,314.2" fill="#50b587"/>
<polygon points="944.6,322.3 949.2,325.8 953.8,331.5 950.4,331.5 944.6,325.8" fill="#6fd96b"/>
<polygon points="904.2,306.1 912.3,306.1 912.3,310.8 904.2,310.8" fill="#6fd96b"/>
<polygon points="884.6,351.1 889.2,345.4 893.8,343.1 900.8,340.8 905.4,336.1 912.3,336.1 916.9,338.4 914.6,343.1 910.0,345.4 907.7,350.0 900.8,351.1 893.8,352.3 888.1,354.6" fill="#4aa68c"/>
<polygon points="884.6,345.4 891.5,341.9 893.8,345.4 891.5,352.3 885.8,353.4" fill="#5cc47f"/>
<polygon points="893.8,352.3 900.8,352.3 900.8,356.9 893.8,356.9" fill="#b9ec3a"/>
<polygon points="910.0,346.5 920.4,345.4 920.4,356.9 914.6,358.1 910.0,351.1" fill="#6fd96b"/>
<polygon points="933.1,333.8 935.4,340.8 940.0,345.4 943.4,352.3 949.2,356.9 955.0,363.8 960.7,370.7 963.1,380.0 960.7,389.2 956.1,396.1 953.8,403.1 944.6,405.4 937.7,403.1 936.5,396.1 938.8,389.2 940.0,380.0 937.7,373.1 928.4,368.4 921.5,362.7 920.4,354.6 923.8,350.0 929.6,350.0 931.9,343.1" fill="#4aa68c"/>
<polygon points="940.0,374.2 949.2,370.7 958.4,375.4 960.7,384.6 956.1,393.8 949.2,396.1 942.3,391.5 940.0,382.3" fill="#449b8c"/>
<polygon points="906.5,363.8 912.3,362.7 920.4,356.9 928.4,368.4 937.7,373.1 935.4,380.0 928.4,384.6 919.2,383.4 912.3,378.8 907.7,370.7" fill="#4aa68c"/>
<polygon points="919.2,371.9 928.4,371.9 933.1,378.8 926.1,381.1 920.4,377.7" fill="#d3d3d3"/>
<polygon points="912.3,363.8 921.5,363.8 921.5,370.7 912.3,370.7" fill="#6fd96b"/>
<polygon points="914.6,383.4 928.4,384.6 928.4,391.5 916.9,391.5" fill="#8ee652"/>
<polygon points="935.4,370.7 940.0,371.9 940.0,383.4 936.5,391.5 934.2,383.4" fill="#5cc47f"/>
<polygon points="926.1,396.1 937.7,396.1 953.8,403.1 944.6,405.9 933.1,405.9 926.1,401.9" fill="#4aa68c"/>
<polygon points="926.1,391.5 935.4,391.5 936.5,398.4 928.4,399.6" fill="#d3d3d3"/>
<polygon points="927.3,399.6 931.9,399.6 931.9,403.1 927.3,403.1" fill="#b9ec3a"/>
<polygon points="938.8,385.7 943.4,385.7 943.4,393.8 938.8,393.8" fill="#6fd96b"/>
<polygon points="858.1,366.1 863.8,360.4 873.1,356.9 880.0,359.2 877.7,365.0 874.2,371.9 871.9,380.0 874.2,384.6 873.1,391.5 868.4,396.1 862.7,393.8 863.8,384.6 860.4,375.4" fill="#6fd96b"/>
<polygon points="863.8,384.6 874.2,384.6 873.1,391.5 868.4,396.1 863.8,393.8" fill="#4aa68c"/>
<polygon points="858.1,366.1 863.8,366.1 863.8,373.1 859.2,373.1" fill="#b9ec3a"/>
<polygon points="877.7,365.0 883.4,365.0 883.4,368.4 877.7,368.4" fill="#b9ec3a"/>
<polygon points="897.3,362.7 904.2,362.7 904.2,366.1 897.3,366.1" fill="#e8f03c"/>
<polygon points="867.3,374.2 871.9,374.2 871.9,378.8 867.3,378.8" fill="#b9ec3a"/>
<polygon points="1009.2,391.5 1032.3,391.5 1032.3,411.0 1009.2,411.0" fill="#50b587"/>
<polygon points="809.6,287.1 817.7,289.4 828.6,299.8 824.6,303.8 818.8,299.2 810.8,291.1" fill="#d3d3d3"/>
<polygon points="995.0,395.0 1040.0,395.0 1040.0,430.0 995.0,430.0" fill="#50b587"/>
<polygon points="934.0,408.0 946.0,408.0 946.0,420.0 934.0,420.0" fill="#50b587"/>
</g>
<use href="#seas" fill="#fff"/>
</g>
<g id="mapb" transform="translate(1107.7,-12.0)">
<use href="#land" fill="#d3d3d3"/>
<g clip-path="url(#landclip)" id="rivers" fill="none" stroke-linecap="round" stroke-linejoin="round">
<path d="M611,128.7a4.4,4.4 0 1,0 8.8,0a4.4,4.4 0 1,0 -8.8,0M645.1,121.8a3,3 0 1,0 6,0a3,3 0 1,0 -6,0M721.3,123.2a3.9,3.9 0 1,0 7.7,0a3.9,3.9 0 1,0 -7.7,0M743.5,118a4.9,4.9 0 1,0 9.7,0a4.9,4.9 0 1,0 -9.7,0M775.2,118.1a4.1,4.1 0 1,0 8.3,0a4.1,4.1 0 1,0 -8.3,0M795.1,123.2a3.8,3.8 0 1,0 7.7,0a3.8,3.8 0 1,0 -7.7,0M814.5,128.3a3.9,3.9 0 1,0 7.9,0a3.9,3.9 0 1,0 -7.9,0M824.8,126.6a4.7,4.7 0 1,0 9.4,0a4.7,4.7 0 1,0 -9.4,0M883.7,117.7a4.9,4.9 0 1,0 9.9,0a4.9,4.9 0 1,0 -9.9,0M911.7,119.6a3.1,3.1 0 1,0 6.2,0a3.1,3.1 0 1,0 -6.2,0M994.6,124.1a4,4 0 1,0 8,0a4,4 0 1,0 -8,0M988.8,125.2a4.1,4.1 0 1,0 8.1,0a4.1,4.1 0 1,0 -8.1,0M89.9,129.2a3.5,3.5 0 1,0 7.1,0a3.5,3.5 0 1,0 -7.1,0M155.2,130.8a3.6,3.6 0 1,0 7.2,0a3.6,3.6 0 1,0 -7.2,0M249.8,134.7a3.5,3.5 0 1,0 7,0a3.5,3.5 0 1,0 -7,0M296.9,132.7a3.8,3.8 0 1,0 7.6,0a3.8,3.8 0 1,0 -7.6,0M508.7,134a5,5 0 1,0 9.9,0a5,5 0 1,0 -9.9,0M579.7,138.4a3.2,3.2 0 1,0 6.4,0a3.2,3.2 0 1,0 -6.4,0M590.6,133.6a4.6,4.6 0 1,0 9.1,0a4.6,4.6 0 1,0 -9.1,0M623.1,139.5a3.5,3.5 0 1,0 7,0a3.5,3.5 0 1,0 -7,0M624.6,132.8a4.7,4.7 0 1,0 9.5,0a4.7,4.7 0 1,0 -9.5,0M623,137.6a4.9,4.9 0 1,0 9.9,0a4.9,4.9 0 1,0 -9.9,0M625.6,139.1a4.8,4.8 0 1,0 9.6,0a4.8,4.8 0 1,0 -9.6,0M648.7,139.2a3.5,3.5 0 1,0 7.1,0a3.5,3.5 0 1,0 -7.1,0M638.5,134.5a3.9,3.9 0 1,0 7.9,0a3.9,3.9 0 1,0 -7.9,0M680.3,135a4.8,4.8 0 1,0 9.6,0a4.8,4.8 0 1,0 -9.6,0M757.6,136.4a3.4,3.4 0 1,0 6.7,0a3.4,3.4 0 1,0 -6.7,0M789.7,129.1a4.9,4.9 0 1,0 9.8,0a4.9,4.9 0 1,0 -9.8,0M803.8,133.3a4,4 0 1,0 8,0a4,4 0 1,0 -8,0M816.3,132.7a3.2,3.2 0 1,0 6.4,0a3.2,3.2 0 1,0 -6.4,0M808.3,133.5a4.1,4.1 0 1,0 8.2,0a4.1,4.1 0 1,0 -8.2,0M823.3,136.4a4.2,4.2 0 1,0 8.4,0a4.2,4.2 0 1,0 -8.4,0M873.8,140.7a4.9,4.9 0 1,0 9.9,0a4.9,4.9 0 1,0 -9.9,0M879.3,129.9a4.6,4.6 0 1,0 9.2,0a4.6,4.6 0 1,0 -9.2,0M892.1,136.1a4.8,4.8 0 1,0 9.6,0a4.8,4.8 0 1,0 -9.6,0M911,136.2a4,4 0 1,0 8,0a4,4 0 1,0 -8,0M934.7,129.2a3.3,3.3 0 1,0 6.6,0a3.3,3.3 0 1,0 -6.6,0M957.8,139.6a4.1,4.1 0 1,0 8.2,0a4.1,4.1 0 1,0 -8.2,0M952.1,139.2a3.9,3.9 0 1,0 7.9,0a3.9,3.9 0 1,0 -7.9,0M964.5,133a3.5,3.5 0 1,0 6.9,0a3.5,3.5 0 1,0 -6.9,0M971.8,140.7a3.3,3.3 0 1,0 6.5,0a3.3,3.3 0 1,0 -6.5,0M991.9,136.4a4.6,4.6 0 1,0 9.1,0a4.6,4.6 0 1,0 -9.1,0M996.8,136.5a3.1,3.1 0 1,0 6.2,0a3.1,3.1 0 1,0 -6.2,0M1008,137.6a4,4 0 1,0 8,0a4,4 0 1,0 -8,0M1009.8,139.1a3.5,3.5 0 1,0 6.9,0a3.5,3.5 0 1,0 -6.9,0M200.2,141.4a3.7,3.7 0 1,0 7.3,0a3.7,3.7 0 1,0 -7.3,0M209.4,149.7a3.1,3.1 0 1,0 6.3,0a3.1,3.1 0 1,0 -6.3,0M222.2,152.4a4.9,4.9 0 1,0 9.7,0a4.9,4.9 0 1,0 -9.7,0M268.8,151.8a4.5,4.5 0 1,0 9,0a4.5,4.5 0 1,0 -9,0M275.8,144.9a3.6,3.6 0 1,0 7.1,0a3.6,3.6 0 1,0 -7.1,0M281.6,153.1a3.2,3.2 0 1,0 6.3,0a3.2,3.2 0 1,0 -6.3,0M296.1,143.6a4,4 0 1,0 8,0a4,4 0 1,0 -8,0M297.7,149.9a3.1,3.1 0 1,0 6.2,0a3.1,3.1 0 1,0 -6.2,0M305.6,151.1a3.6,3.6 0 1,0 7.3,0a3.6,3.6 0 1,0 -7.3,0M575.4,142.7a3.5,3.5 0 1,0 6.9,0a3.5,3.5 0 1,0 -6.9,0M589.3,142.8a4.6,4.6 0 1,0 9.2,0a4.6,4.6 0 1,0 -9.2,0M577.3,148.7a4.8,4.8 0 1,0 9.6,0a4.8,4.8 0 1,0 -9.6,0M602.4,147.2a4.8,4.8 0 1,0 9.6,0a4.8,4.8 0 1,0 -9.6,0M625.9,143.6a4,4 0 1,0 7.9,0a4,4 0 1,0 -7.9,0M625.2,149a3.9,3.9 0 1,0 7.9,0a3.9,3.9 0 1,0 -7.9,0M631.8,149.7a4.9,4.9 0 1,0 9.8,0a4.9,4.9 0 1,0 -9.8,0M636.8,141.4a3.8,3.8 0 1,0 7.6,0a3.8,3.8 0 1,0 -7.6,0M639,149.8a4.8,4.8 0 1,0 9.5,0a4.8,4.8 0 1,0 -9.5,0M653.5,148a4.5,4.5 0 1,0 9,0a4.5,4.5 0 1,0 -9,0M684.7,142.8a3.9,3.9 0 1,0 7.7,0a3.9,3.9 0 1,0 -7.7,0M677.7,142.4a4.2,4.2 0 1,0 8.4,0a4.2,4.2 0 1,0 -8.4,0M707.5,141.6a3.2,3.2 0 1,0 6.4,0a3.2,3.2 0 1,0 -6.4,0M763.2,145.1a3.1,3.1 0 1,0 6.1,0a3.1,3.1 0 1,0 -6.1,0M812.3,146.9a4.3,4.3 0 1,0 8.5,0a4.3,4.3 0 1,0 -8.5,0M818.9,146.2a3.4,3.4 0 1,0 6.7,0a3.4,3.4 0 1,0 -6.7,0M837.4,150.4a4,4 0 1,0 8.1,0a4,4 0 1,0 -8.1,0M843.6,149.4a4.6,4.6 0 1,0 9.2,0a4.6,4.6 0 1,0 -9.2,0M882.5,152.6a3.3,3.3 0 1,0 6.6,0a3.3,3.3 0 1,0 -6.6,0M955.2,147.8a4.4,4.4 0 1,0 8.8,0a4.4,4.4 0 1,0 -8.8,0M954.4,143.9a3.8,3.8 0 1,0 7.6,0a3.8,3.8 0 1,0 -7.6,0M220.7,164.6a3.1,3.1 0 1,0 6.2,0a3.1,3.1 0 1,0 -6.2,0M231.4,158.1a3.1,3.1 0 1,0 6.3,0a3.1,3.1 0 1,0 -6.3,0M239.3,154.7a4.8,4.8 0 1,0 9.6,0a4.8,4.8 0 1,0 -9.6,0M240.1,155.7a3.5,3.5 0 1,0 7,0a3.5,3.5 0 1,0 -7,0M250,155a3.4,3.4 0 1,0 6.8,0a3.4,3.4 0 1,0 -6.8,0M253.4,155a4.1,4.1 0 1,0 8.1,0a4.1,4.1 0 1,0 -8.1,0M242.3,160.7a4.9,4.9 0 1,0 9.9,0a4.9,4.9 0 1,0 -9.9,0M258.5,154.6a3.4,3.4 0 1,0 6.8,0a3.4,3.4 0 1,0 -6.8,0M266,157.9a3.3,3.3 0 1,0 6.6,0a3.3,3.3 0 1,0 -6.6,0M255.2,156.6a3.5,3.5 0 1,0 7,0a3.5,3.5 0 1,0 -7,0M270.2,155a3.2,3.2 0 1,0 6.4,0a3.2,3.2 0 1,0 -6.4,0M286.1,162.3a3.7,3.7 0 1,0 7.4,0a3.7,3.7 0 1,0 -7.4,0M293.1,154a3.6,3.6 0 1,0 7.2,0a3.6,3.6 0 1,0 -7.2,0M303.3,155.6a4.1,4.1 0 1,0 8.3,0a4.1,4.1 0 1,0 -8.3,0M302.7,156.4a3.9,3.9 0 1,0 7.7,0a3.9,3.9 0 1,0 -7.7,0M314.8,156.8a3.8,3.8 0 1,0 7.5,0a3.8,3.8 0 1,0 -7.5,0M314.1,153.7a4.1,4.1 0 1,0 8.1,0a4.1,4.1 0 1,0 -8.1,0M318.8,160.2a3.9,3.9 0 1,0 7.8,0a3.9,3.9 0 1,0 -7.8,0M353.6,161.9a4.9,4.9 0 1,0 9.8,0a4.9,4.9 0 1,0 -9.8,0M379.2,161.7a4.5,4.5 0 1,0 8.9,0a4.5,4.5 0 1,0 -8.9,0M383.1,155.5a4.3,4.3 0 1,0 8.5,0a4.3,4.3 0 1,0 -8.5,0M544.2,160.1a4.5,4.5 0 1,0 9.1,0a4.5,4.5 0 1,0 -9.1,0M555.2,163.3a3.8,3.8 0 1,0 7.6,0a3.8,3.8 0 1,0 -7.6,0M601.3,162.5a3.5,3.5 0 1,0 7,0a3.5,3.5 0 1,0 -7,0M592.1,158.9a3.6,3.6 0 1,0 7.2,0a3.6,3.6 0 1,0 -7.2,0M602.7,165.1a4.4,4.4 0 1,0 8.7,0a4.4,4.4 0 1,0 -8.7,0M623.7,162.4a4,4 0 1,0 8,0a4,4 0 1,0 -8,0M647.4,153.6a3.5,3.5 0 1,0 7.1,0a3.5,3.5 0 1,0 -7.1,0M658.8,158.1a3.9,3.9 0 1,0 7.9,0a3.9,3.9 0 1,0 -7.9,0M664.7,160.1a4,4 0 1,0 8,0a4,4 0 1,0 -8,0M692.5,157.1a4.3,4.3 0 1,0 8.6,0a4.3,4.3 0 1,0 -8.6,0M712.2,158.3a4.1,4.1 0 1,0 8.2,0a4.1,4.1 0 1,0 -8.2,0M787.8,154.3a3.6,3.6 0 1,0 7.2,0a3.6,3.6 0 1,0 -7.2,0M804.2,163.3a4.7,4.7 0 1,0 9.5,0a4.7,4.7 0 1,0 -9.5,0M804.9,162.1a3,3 0 1,0 6,0a3,3 0 1,0 -6,0M849.7,155.8a3.2,3.2 0 1,0 6.4,0a3.2,3.2 0 1,0 -6.4,0M878.4,158.3a3,3 0 1,0 6.1,0a3,3 0 1,0 -6.1,0M912.5,157.8a3.7,3.7 0 1,0 7.4,0a3.7,3.7 0 1,0 -7.4,0M979.9,160.6a3.1,3.1 0 1,0 6.1,0a3.1,3.1 0 1,0 -6.1,0M225.7,166.5a3.3,3.3 0 1,0 6.6,0a3.3,3.3 0 1,0 -6.6,0M233.1,176.1a4.9,4.9 0 1,0 9.8,0a4.9,4.9 0 1,0 -9.8,0M241.1,176a3.8,3.8 0 1,0 7.5,0a3.8,3.8 0 1,0 -7.5,0M240.4,167.8a3.8,3.8 0 1,0 7.6,0a3.8,3.8 0 1,0 -7.6,0M243,171.9a4.4,4.4 0 1,0 8.8,0a4.4,4.4 0 1,0 -8.8,0M250.6,167.6a4.8,4.8 0 1,0 9.6,0a4.8,4.8 0 1,0 -9.6,0M253,168.3a3.5,3.5 0 1,0 6.9,0a3.5,3.5 0 1,0 -6.9,0M261.4,177a3.3,3.3 0 1,0 6.6,0a3.3,3.3 0 1,0 -6.6,0M286.4,176.9a3.6,3.6 0 1,0 7.1,0a3.6,3.6 0 1,0 -7.1,0M292.2,176.2a3.3,3.3 0 1,0 6.5,0a3.3,3.3 0 1,0 -6.5,0M293.3,176.3a4.3,4.3 0 1,0 8.6,0a4.3,4.3 0 1,0 -8.6,0M312,166.1a4.1,4.1 0 1,0 8.2,0a4.1,4.1 0 1,0 -8.2,0M308.7,171.5a3.9,3.9 0 1,0 7.8,0a3.9,3.9 0 1,0 -7.8,0M308.1,166.7a4.7,4.7 0 1,0 9.4,0a4.7,4.7 0 1,0 -9.4,0M323.2,166.4a3.3,3.3 0 1,0 6.6,0a3.3,3.3 0 1,0 -6.6,0M326.3,169.4a4.4,4.4 0 1,0 8.8,0a4.4,4.4 0 1,0 -8.8,0M353.3,173.8a3.5,3.5 0 1,0 7,0a3.5,3.5 0 1,0 -7,0M353.4,170.5a4,4 0 1,0 8,0a4,4 0 1,0 -8,0M370,166a4.9,4.9 0 1,0 9.8,0a4.9,4.9 0 1,0 -9.8,0M377.7,169.1a4.6,4.6 0 1,0 9.1,0a4.6,4.6 0 1,0 -9.1,0M385.3,170.8a3.9,3.9 0 1,0 7.9,0a3.9,3.9 0 1,0 -7.9,0M378.2,172.1a3.1,3.1 0 1,0 6.2,0a3.1,3.1 0 1,0 -6.2,0M394.1,166.5a4.1,4.1 0 1,0 8.2,0a4.1,4.1 0 1,0 -8.2,0M403.9,175.3a4.4,4.4 0 1,0 8.7,0a4.4,4.4 0 1,0 -8.7,0M575.4,175.1a3.2,3.2 0 1,0 6.4,0a3.2,3.2 0 1,0 -6.4,0M581.9,175.3a3.4,3.4 0 1,0 6.7,0a3.4,3.4 0 1,0 -6.7,0M590.4,173.7a3.3,3.3 0 1,0 6.6,0a3.3,3.3 0 1,0 -6.6,0M582.1,172.9a3.8,3.8 0 1,0 7.6,0a3.8,3.8 0 1,0 -7.6,0M582.6,166.3a4.3,4.3 0 1,0 8.6,0a4.3,4.3 0 1,0 -8.6,0M592.2,167.1a4.2,4.2 0 1,0 8.4,0a4.2,4.2 0 1,0 -8.4,0M599.2,174.2a5,5 0 1,0 9.9,0a5,5 0 1,0 -9.9,0M615.4,170.2a3,3 0 1,0 6.1,0a3,3 0 1,0 -6.1,0M625.7,176.7a3.6,3.6 0 1,0 7.3,0a3.6,3.6 0 1,0 -7.3,0M616.8,170.5a4,4 0 1,0 8,0a4,4 0 1,0 -8,0M629,171.7a3.2,3.2 0 1,0 6.4,0a3.2,3.2 0 1,0 -6.4,0M640.4,168.9a4.3,4.3 0 1,0 8.5,0a4.3,4.3 0 1,0 -8.5,0M661.7,169.5a3.3,3.3 0 1,0 6.5,0a3.3,3.3 0 1,0 -6.5,0M657.1,174.3a3.1,3.1 0 1,0 6.2,0a3.1,3.1 0 1,0 -6.2,0M871.6,172.6a3.6,3.6 0 1,0 7.2,0a3.6,3.6 0 1,0 -7.2,0M890.4,171.8a3.2,3.2 0 1,0 6.4,0a3.2,3.2 0 1,0 -6.4,0M922.8,167.5a3.5,3.5 0 1,0 7.1,0a3.5,3.5 0 1,0 -7.1,0M281.7,177.7a3.4,3.4 0 1,0 6.8,0a3.4,3.4 0 1,0 -6.8,0M324.3,181.1a3.3,3.3 0 1,0 6.6,0a3.3,3.3 0 1,0 -6.6,0M318.5,186.5a3.7,3.7 0 1,0 7.4,0a3.7,3.7 0 1,0 -7.4,0M320.3,178.5a3.1,3.1 0 1,0 6.3,0a3.1,3.1 0 1,0 -6.3,0M335.9,188.5a3.2,3.2 0 1,0 6.4,0a3.2,3.2 0 1,0 -6.4,0M345.6,180.2a4.1,4.1 0 1,0 8.1,0a4.1,4.1 0 1,0 -8.1,0M338.5,186.3a3.7,3.7 0 1,0 7.4,0a3.7,3.7 0 1,0 -7.4,0M345.2,184.4a3.7,3.7 0 1,0 7.3,0a3.7,3.7 0 1,0 -7.3,0M352.7,180.8a4.2,4.2 0 1,0 8.4,0a4.2,4.2 0 1,0 -8.4,0M353.1,185a4.3,4.3 0 1,0 8.6,0a4.3,4.3 0 1,0 -8.6,0M360,179.6a4.1,4.1 0 1,0 8.1,0a4.1,4.1 0 1,0 -8.1,0M352,178.6a3.8,3.8 0 1,0 7.6,0a3.8,3.8 0 1,0 -7.6,0M375.1,181.3a3.6,3.6 0 1,0 7.2,0a3.6,3.6 0 1,0 -7.2,0M379.3,178.2a3.2,3.2 0 1,0 6.4,0a3.2,3.2 0 1,0 -6.4,0M559.5,182.8a4.7,4.7 0 1,0 9.3,0a4.7,4.7 0 1,0 -9.3,0M560.1,179.9a3.9,3.9 0 1,0 7.8,0a3.9,3.9 0 1,0 -7.8,0M562.3,179.2a4.4,4.4 0 1,0 8.7,0a4.4,4.4 0 1,0 -8.7,0M574.1,182.4a4.5,4.5 0 1,0 9.1,0a4.5,4.5 0 1,0 -9.1,0M572,180.3a3.1,3.1 0 1,0 6.2,0a3.1,3.1 0 1,0 -6.2,0M577.8,187.4a3.6,3.6 0 1,0 7.1,0a3.6,3.6 0 1,0 -7.1,0M566.9,180.1a4.1,4.1 0 1,0 8.2,0a4.1,4.1 0 1,0 -8.2,0M586,185.2a4.2,4.2 0 1,0 8.4,0a4.2,4.2 0 1,0 -8.4,0M581.7,180.9a3.6,3.6 0 1,0 7.2,0a3.6,3.6 0 1,0 -7.2,0M591,179a3.1,3.1 0 1,0 6.2,0a3.1,3.1 0 1,0 -6.2,0M608.8,178.8a3.2,3.2 0 1,0 6.3,0a3.2,3.2 0 1,0 -6.3,0M606.9,187.9a4.4,4.4 0 1,0 8.8,0a4.4,4.4 0 1,0 -8.8,0M607.7,181.1a4.4,4.4 0 1,0 8.7,0a4.4,4.4 0 1,0 -8.7,0M620.9,181.3a3.6,3.6 0 1,0 7.2,0a3.6,3.6 0 1,0 -7.2,0M631.2,187.9a3,3 0 1,0 6.1,0a3,3 0 1,0 -6.1,0M665.9,189a3.2,3.2 0 1,0 6.3,0a3.2,3.2 0 1,0 -6.3,0M866.5,178.4a4.7,4.7 0 1,0 9.4,0a4.7,4.7 0 1,0 -9.4,0M903.2,186a4.4,4.4 0 1,0 8.7,0a4.4,4.4 0 1,0 -8.7,0M918.2,180.9a4,4 0 1,0 7.9,0a4,4 0 1,0 -7.9,0M293.6,193.4a3.7,3.7 0 1,0 7.4,0a3.7,3.7 0 1,0 -7.4,0M336.2,198.5a3.4,3.4 0 1,0 6.8,0a3.4,3.4 0 1,0 -6.8,0M336.8,198.7a3.6,3.6 0 1,0 7.2,0a3.6,3.6 0 1,0 -7.2,0M346.1,190.8a3.2,3.2 0 1,0 6.3,0a3.2,3.2 0 1,0 -6.3,0M343.9,198.2a3.9,3.9 0 1,0 7.8,0a3.9,3.9 0 1,0 -7.8,0M344.9,197.5a3.9,3.9 0 1,0 7.9,0a3.9,3.9 0 1,0 -7.9,0M359.8,199.4a4.9,4.9 0 1,0 9.8,0a4.9,4.9 0 1,0 -9.8,0M361.3,191a4.3,4.3 0 1,0 8.7,0a4.3,4.3 0 1,0 -8.7,0M363.9,195.4a4.4,4.4 0 1,0 8.9,0a4.4,4.4 0 1,0 -8.9,0M369.2,191.4a3.2,3.2 0 1,0 6.3,0a3.2,3.2 0 1,0 -6.3,0M542.8,191.2a4.9,4.9 0 1,0 9.8,0a4.9,4.9 0 1,0 -9.8,0M582,191.6a4,4 0 1,0 7.9,0a4,4 0 1,0 -7.9,0M581.7,199.6a4.1,4.1 0 1,0 8.2,0a4.1,4.1 0 1,0 -8.2,0M612.9,192.1a4.2,4.2 0 1,0 8.3,0a4.2,4.2 0 1,0 -8.3,0M618.2,193.2a3.5,3.5 0 1,0 7.1,0a3.5,3.5 0 1,0 -7.1,0M628.8,197.2a3.8,3.8 0 1,0 7.6,0a3.8,3.8 0 1,0 -7.6,0M669.1,194.9a3,3 0 1,0 6.1,0a3,3 0 1,0 -6.1,0M860.5,192.5a3.8,3.8 0 1,0 7.6,0a3.8,3.8 0 1,0 -7.6,0M875.2,189.2a3,3 0 1,0 6,0a3,3 0 1,0 -6,0M876,194.2a4.9,4.9 0 1,0 9.9,0a4.9,4.9 0 1,0 -9.9,0M870.7,197.4a4.2,4.2 0 1,0 8.4,0a4.2,4.2 0 1,0 -8.4,0M303.8,208.8a4,4 0 1,0 7.9,0a4,4 0 1,0 -7.9,0M322.8,204.7a3.1,3.1 0 1,0 6.1,0a3.1,3.1 0 1,0 -6.1,0M317.3,202.3a4.6,4.6 0 1,0 9.1,0a4.6,4.6 0 1,0 -9.1,0M330.8,204a4.7,4.7 0 1,0 9.3,0a4.7,4.7 0 1,0 -9.3,0M329.6,205.9a4.9,4.9 0 1,0 9.7,0a4.9,4.9 0 1,0 -9.7,0M338.3,207.8a3.3,3.3 0 1,0 6.5,0a3.3,3.3 0 1,0 -6.5,0M328.7,212.7a4,4 0 1,0 8,0a4,4 0 1,0 -8,0M348.3,206.2a3.7,3.7 0 1,0 7.5,0a3.7,3.7 0 1,0 -7.5,0M357.9,209.7a3.6,3.6 0 1,0 7.2,0a3.6,3.6 0 1,0 -7.2,0M359.5,211.9a3.3,3.3 0 1,0 6.5,0a3.3,3.3 0 1,0 -6.5,0M354.9,205.3a3.9,3.9 0 1,0 7.8,0a3.9,3.9 0 1,0 -7.8,0M559.4,211.6a3.8,3.8 0 1,0 7.6,0a3.8,3.8 0 1,0 -7.6,0M646.4,206.1a3.2,3.2 0 1,0 6.4,0a3.2,3.2 0 1,0 -6.4,0M644.3,208.4a3.2,3.2 0 1,0 6.4,0a3.2,3.2 0 1,0 -6.4,0M665.2,210.9a3,3 0 1,0 6.1,0a3,3 0 1,0 -6.1,0M853.9,210.8a3.3,3.3 0 1,0 6.5,0a3.3,3.3 0 1,0 -6.5,0M863.8,204.7a4.7,4.7 0 1,0 9.3,0a4.7,4.7 0 1,0 -9.3,0M854.6,207.2a4.6,4.6 0 1,0 9.2,0a4.6,4.6 0 1,0 -9.2,0M857.1,205.1a3.8,3.8 0 1,0 7.6,0a3.8,3.8 0 1,0 -7.6,0M888.4,208.8a3.7,3.7 0 1,0 7.4,0a3.7,3.7 0 1,0 -7.4,0M890.6,203.6a3.8,3.8 0 1,0 7.6,0a3.8,3.8 0 1,0 -7.6,0M894.5,210.3a4.2,4.2 0 1,0 8.4,0a4.2,4.2 0 1,0 -8.4,0M912,210.9a3.4,3.4 0 1,0 6.8,0a3.4,3.4 0 1,0 -6.8,0M903.3,211.8a3.4,3.4 0 1,0 6.8,0a3.4,3.4 0 1,0 -6.8,0M922.6,208.6a3.9,3.9 0 1,0 7.9,0a3.9,3.9 0 1,0 -7.9,0M928.7,202.8a3.1,3.1 0 1,0 6.3,0a3.1,3.1 0 1,0 -6.3,0M297.8,224.3a3.5,3.5 0 1,0 7.1,0a3.5,3.5 0 1,0 -7.1,0M309.5,213.7a3.9,3.9 0 1,0 7.8,0a3.9,3.9 0 1,0 -7.8,0M313.8,216a4.1,4.1 0 1,0 8.2,0a4.1,4.1 0 1,0 -8.2,0M315.6,213.2a4.7,4.7 0 1,0 9.4,0a4.7,4.7 0 1,0 -9.4,0M326.1,214.4a3.6,3.6 0 1,0 7.2,0a3.6,3.6 0 1,0 -7.2,0M331.7,220.2a3.5,3.5 0 1,0 7,0a3.5,3.5 0 1,0 -7,0M341.6,218a4,4 0 1,0 7.9,0a4,4 0 1,0 -7.9,0M341.7,215.7a4.5,4.5 0 1,0 9,0a4.5,4.5 0 1,0 -9,0M344.6,215.1a4.5,4.5 0 1,0 9,0a4.5,4.5 0 1,0 -9,0M819.4,225.1a4.5,4.5 0 1,0 9,0a4.5,4.5 0 1,0 -9,0M833.6,218.1a5,5 0 1,0 10,0a5,5 0 1,0 -10,0M831.6,223.2a4.2,4.2 0 1,0 8.5,0a4.2,4.2 0 1,0 -8.5,0M852.8,220.9a3.7,3.7 0 1,0 7.3,0a3.7,3.7 0 1,0 -7.3,0M848.3,224.2a4.6,4.6 0 1,0 9.2,0a4.6,4.6 0 1,0 -9.2,0M843.6,219a4.1,4.1 0 1,0 8.2,0a4.1,4.1 0 1,0 -8.2,0M848.8,216.7a3.2,3.2 0 1,0 6.4,0a3.2,3.2 0 1,0 -6.4,0M862.9,220.8a4.3,4.3 0 1,0 8.7,0a4.3,4.3 0 1,0 -8.7,0M859.4,225.1a3.5,3.5 0 1,0 7.1,0a3.5,3.5 0 1,0 -7.1,0M870,213.9a3.4,3.4 0 1,0 6.9,0a3.4,3.4 0 1,0 -6.9,0M869.8,222.6a3.1,3.1 0 1,0 6.2,0a3.1,3.1 0 1,0 -6.2,0M867.6,219.2a3.9,3.9 0 1,0 7.8,0a3.9,3.9 0 1,0 -7.8,0M911.2,214.8a4.5,4.5 0 1,0 8.9,0a4.5,4.5 0 1,0 -8.9,0M909.2,213.9a5,5 0 1,0 10,0a5,5 0 1,0 -10,0M302.9,231.6a4.8,4.8 0 1,0 9.7,0a4.8,4.8 0 1,0 -9.7,0M344.9,236.6a4.5,4.5 0 1,0 9,0a4.5,4.5 0 1,0 -9,0M757,232.5a4.6,4.6 0 1,0 9.3,0a4.6,4.6 0 1,0 -9.3,0M761,228.2a4.4,4.4 0 1,0 8.8,0a4.4,4.4 0 1,0 -8.8,0M775.7,233.1a3.6,3.6 0 1,0 7.3,0a3.6,3.6 0 1,0 -7.3,0M792.9,225.3a4,4 0 1,0 8.1,0a4,4 0 1,0 -8.1,0M802.7,226.2a3.2,3.2 0 1,0 6.5,0a3.2,3.2 0 1,0 -6.5,0M796.1,228.4a3.2,3.2 0 1,0 6.5,0a3.2,3.2 0 1,0 -6.5,0M816.3,228.2a3.2,3.2 0 1,0 6.3,0a3.2,3.2 0 1,0 -6.3,0M813,231.4a4,4 0 1,0 8,0a4,4 0 1,0 -8,0M823,226.4a4.7,4.7 0 1,0 9.5,0a4.7,4.7 0 1,0 -9.5,0M820,233.7a4.3,4.3 0 1,0 8.7,0a4.3,4.3 0 1,0 -8.7,0M840.4,233.5a3.6,3.6 0 1,0 7.1,0a3.6,3.6 0 1,0 -7.1,0M836.9,232.6a4,4 0 1,0 8,0a4,4 0 1,0 -8,0M848.2,230.6a3.6,3.6 0 1,0 7.3,0a3.6,3.6 0 1,0 -7.3,0M852.1,232.5a4.3,4.3 0 1,0 8.6,0a4.3,4.3 0 1,0 -8.6,0M865.9,225.5a3.7,3.7 0 1,0 7.3,0a3.7,3.7 0 1,0 -7.3,0M856.6,234.6a4.7,4.7 0 1,0 9.3,0a4.7,4.7 0 1,0 -9.3,0M868.2,228.4a4.3,4.3 0 1,0 8.7,0a4.3,4.3 0 1,0 -8.7,0M296.8,247.7a3.9,3.9 0 1,0 7.8,0a3.9,3.9 0 1,0 -7.8,0M755.8,240.4a5,5 0 1,0 9.9,0a5,5 0 1,0 -9.9,0M753.5,244.2a3.6,3.6 0 1,0 7.3,0a3.6,3.6 0 1,0 -7.3,0M761.1,242.1a4.3,4.3 0 1,0 8.7,0a4.3,4.3 0 1,0 -8.7,0M759.5,240.7a4.7,4.7 0 1,0 9.4,0a4.7,4.7 0 1,0 -9.4,0M777.5,238.3a4.6,4.6 0 1,0 9.2,0a4.6,4.6 0 1,0 -9.2,0M769.8,245.9a5,5 0 1,0 10,0a5,5 0 1,0 -10,0M781.3,241.1a4.8,4.8 0 1,0 9.6,0a4.8,4.8 0 1,0 -9.6,0M782.5,237.6a4.3,4.3 0 1,0 8.6,0a4.3,4.3 0 1,0 -8.6,0M804,242.3a3.2,3.2 0 1,0 6.4,0a3.2,3.2 0 1,0 -6.4,0M801,240.4a3.4,3.4 0 1,0 6.9,0a3.4,3.4 0 1,0 -6.9,0M799.5,247.3a3.7,3.7 0 1,0 7.5,0a3.7,3.7 0 1,0 -7.5,0M809.5,240.3a4.7,4.7 0 1,0 9.4,0a4.7,4.7 0 1,0 -9.4,0M810.9,243.7a4.2,4.2 0 1,0 8.4,0a4.2,4.2 0 1,0 -8.4,0M823.8,240.5a4.1,4.1 0 1,0 8.3,0a4.1,4.1 0 1,0 -8.3,0M824.5,242.5a4.4,4.4 0 1,0 8.9,0a4.4,4.4 0 1,0 -8.9,0M820.9,239.6a3,3 0 1,0 6.1,0a3,3 0 1,0 -6.1,0M838.1,242a4.4,4.4 0 1,0 8.8,0a4.4,4.4 0 1,0 -8.8,0M838.6,241.3a4.5,4.5 0 1,0 9,0a4.5,4.5 0 1,0 -9,0M846.8,241.7a4.2,4.2 0 1,0 8.4,0a4.2,4.2 0 1,0 -8.4,0M850.5,241.2a4.1,4.1 0 1,0 8.2,0a4.1,4.1 0 1,0 -8.2,0M841.6,237.8a4.5,4.5 0 1,0 8.9,0a4.5,4.5 0 1,0 -8.9,0M866.7,240.1a3.7,3.7 0 1,0 7.4,0a3.7,3.7 0 1,0 -7.4,0M290.5,250.8a3.4,3.4 0 1,0 6.8,0a3.4,3.4 0 1,0 -6.8,0M282.4,252.5a3.8,3.8 0 1,0 7.7,0a3.8,3.8 0 1,0 -7.7,0M352.8,255.5a4.4,4.4 0 1,0 8.8,0a4.4,4.4 0 1,0 -8.8,0M748.6,251a4.6,4.6 0 1,0 9.2,0a4.6,4.6 0 1,0 -9.2,0M759.5,257.6a4.9,4.9 0 1,0 9.7,0a4.9,4.9 0 1,0 -9.7,0M761.4,260.8a3.5,3.5 0 1,0 7,0a3.5,3.5 0 1,0 -7,0M759.7,257.5a4.1,4.1 0 1,0 8.1,0a4.1,4.1 0 1,0 -8.1,0M772.6,257.9a3.5,3.5 0 1,0 7,0a3.5,3.5 0 1,0 -7,0M772,253a4.6,4.6 0 1,0 9.2,0a4.6,4.6 0 1,0 -9.2,0M804.1,258.5a4.5,4.5 0 1,0 9.1,0a4.5,4.5 0 1,0 -9.1,0M804.2,251.9a3.4,3.4 0 1,0 6.8,0a3.4,3.4 0 1,0 -6.8,0M817,250.7a4.8,4.8 0 1,0 9.6,0a4.8,4.8 0 1,0 -9.6,0M808.5,259.4a3.9,3.9 0 1,0 7.8,0a3.9,3.9 0 1,0 -7.8,0M829.3,250.8a4,4 0 1,0 7.9,0a4,4 0 1,0 -7.9,0M827.3,259.1a3.9,3.9 0 1,0 7.8,0a3.9,3.9 0 1,0 -7.8,0M831.3,252.4a4.9,4.9 0 1,0 9.7,0a4.9,4.9 0 1,0 -9.7,0M833.4,255.3a3.5,3.5 0 1,0 7.1,0a3.5,3.5 0 1,0 -7.1,0M843.2,254.8a4.5,4.5 0 1,0 9,0a4.5,4.5 0 1,0 -9,0M315.8,263.8a4.7,4.7 0 1,0 9.4,0a4.7,4.7 0 1,0 -9.4,0M333.8,273a3.9,3.9 0 1,0 7.9,0a3.9,3.9 0 1,0 -7.9,0M335.4,263.5a4.3,4.3 0 1,0 8.6,0a4.3,4.3 0 1,0 -8.6,0M512.6,270.3a4.7,4.7 0 1,0 9.4,0a4.7,4.7 0 1,0 -9.4,0M757.5,261.4a4.2,4.2 0 1,0 8.5,0a4.2,4.2 0 1,0 -8.5,0M756.7,269.3a5,5 0 1,0 9.9,0a5,5 0 1,0 -9.9,0M766.5,271.1a3.3,3.3 0 1,0 6.5,0a3.3,3.3 0 1,0 -6.5,0M763.3,264.7a3.9,3.9 0 1,0 7.8,0a3.9,3.9 0 1,0 -7.8,0M812.9,265.5a4.5,4.5 0 1,0 9.1,0a4.5,4.5 0 1,0 -9.1,0M825.8,271.4a3.4,3.4 0 1,0 6.8,0a3.4,3.4 0 1,0 -6.8,0M817.8,266.5a4.9,4.9 0 1,0 9.9,0a4.9,4.9 0 1,0 -9.9,0M825.4,261.8a4.1,4.1 0 1,0 8.2,0a4.1,4.1 0 1,0 -8.2,0M829.7,263.1a4,4 0 1,0 8.1,0a4,4 0 1,0 -8.1,0M838.8,270a4.1,4.1 0 1,0 8.3,0a4.1,4.1 0 1,0 -8.3,0M837.1,269.7a3.2,3.2 0 1,0 6.5,0a3.2,3.2 0 1,0 -6.5,0M836.6,265.3a4.4,4.4 0 1,0 8.7,0a4.4,4.4 0 1,0 -8.7,0M834.1,271.9a4.5,4.5 0 1,0 9,0a4.5,4.5 0 1,0 -9,0M842.7,269.7a3.5,3.5 0 1,0 7.1,0a3.5,3.5 0 1,0 -7.1,0M347.5,279.2a4.1,4.1 0 1,0 8.1,0a4.1,4.1 0 1,0 -8.1,0M361.4,281a3.3,3.3 0 1,0 6.5,0a3.3,3.3 0 1,0 -6.5,0M356.6,282.6a4.5,4.5 0 1,0 9.1,0a4.5,4.5 0 1,0 -9.1,0M359.9,278.3a4,4 0 1,0 8.1,0a4,4 0 1,0 -8.1,0M369.3,277.1a4.4,4.4 0 1,0 8.7,0a4.4,4.4 0 1,0 -8.7,0M377.6,282.9a3.5,3.5 0 1,0 7.1,0a3.5,3.5 0 1,0 -7.1,0M391.9,283.5a4.4,4.4 0 1,0 8.8,0a4.4,4.4 0 1,0 -8.8,0M404.7,284.4a3,3 0 1,0 6,0a3,3 0 1,0 -6,0M526.8,276.8a4.4,4.4 0 1,0 8.8,0a4.4,4.4 0 1,0 -8.8,0M540,282a4.7,4.7 0 1,0 9.4,0a4.7,4.7 0 1,0 -9.4,0M565.4,277.3a4,4 0 1,0 8,0a4,4 0 1,0 -8,0M565.2,276.6a4.2,4.2 0 1,0 8.5,0a4.2,4.2 0 1,0 -8.5,0M574.4,277.8a4.3,4.3 0 1,0 8.5,0a4.3,4.3 0 1,0 -8.5,0M568.5,276.4a3.7,3.7 0 1,0 7.4,0a3.7,3.7 0 1,0 -7.4,0M580.6,275.4a3.1,3.1 0 1,0 6.2,0a3.1,3.1 0 1,0 -6.2,0M582.3,281.8a3.6,3.6 0 1,0 7.2,0a3.6,3.6 0 1,0 -7.2,0M594,284.7a4.7,4.7 0 1,0 9.4,0a4.7,4.7 0 1,0 -9.4,0M645.5,276.5a4.2,4.2 0 1,0 8.4,0a4.2,4.2 0 1,0 -8.4,0M662.4,279.4a3.4,3.4 0 1,0 6.7,0a3.4,3.4 0 1,0 -6.7,0M836.4,276a4.8,4.8 0 1,0 9.6,0a4.8,4.8 0 1,0 -9.6,0M877.4,273.1a3.2,3.2 0 1,0 6.4,0a3.2,3.2 0 1,0 -6.4,0M358.9,288a4.7,4.7 0 1,0 9.4,0a4.7,4.7 0 1,0 -9.4,0M357.9,288.4a4.5,4.5 0 1,0 8.9,0a4.5,4.5 0 1,0 -8.9,0M360.5,294.4a3.4,3.4 0 1,0 6.8,0a3.4,3.4 0 1,0 -6.8,0M374.6,290.5a3.4,3.4 0 1,0 6.7,0a3.4,3.4 0 1,0 -6.7,0M366.8,292.1a3.1,3.1 0 1,0 6.1,0a3.1,3.1 0 1,0 -6.1,0M370.2,294a4.2,4.2 0 1,0 8.5,0a4.2,4.2 0 1,0 -8.5,0M383.7,296.3a4.7,4.7 0 1,0 9.4,0a4.7,4.7 0 1,0 -9.4,0M381.3,295.5a4.7,4.7 0 1,0 9.5,0a4.7,4.7 0 1,0 -9.5,0M374.2,296.7a4.7,4.7 0 1,0 9.4,0a4.7,4.7 0 1,0 -9.4,0M397.4,297a3.5,3.5 0 1,0 6.9,0a3.5,3.5 0 1,0 -6.9,0M390,290.6a3.8,3.8 0 1,0 7.5,0a3.8,3.8 0 1,0 -7.5,0M388.5,288.7a4.4,4.4 0 1,0 8.8,0a4.4,4.4 0 1,0 -8.8,0M401.1,288.2a3,3 0 1,0 6,0a3,3 0 1,0 -6,0M399.5,294.8a4.7,4.7 0 1,0 9.3,0a4.7,4.7 0 1,0 -9.3,0M401.9,293.1a5,5 0 1,0 9.9,0a5,5 0 1,0 -9.9,0M537.4,288.6a3.7,3.7 0 1,0 7.4,0a3.7,3.7 0 1,0 -7.4,0M571.8,289.4a3.3,3.3 0 1,0 6.7,0a3.3,3.3 0 1,0 -6.7,0M574.5,291.3a3.9,3.9 0 1,0 7.8,0a3.9,3.9 0 1,0 -7.8,0M586,286.4a4.2,4.2 0 1,0 8.4,0a4.2,4.2 0 1,0 -8.4,0M602,288.9a3.1,3.1 0 1,0 6.1,0a3.1,3.1 0 1,0 -6.1,0M594.3,290.1a3.1,3.1 0 1,0 6.2,0a3.1,3.1 0 1,0 -6.2,0M590.1,296.4a4.7,4.7 0 1,0 9.4,0a4.7,4.7 0 1,0 -9.4,0M612.4,295.5a3,3 0 1,0 6,0a3,3 0 1,0 -6,0M605.4,286.6a4.6,4.6 0 1,0 9.3,0a4.6,4.6 0 1,0 -9.3,0M609,288a3,3 0 1,0 6,0a3,3 0 1,0 -6,0M620.1,292.3a3.4,3.4 0 1,0 6.7,0a3.4,3.4 0 1,0 -6.7,0M621.3,291.8a3.2,3.2 0 1,0 6.4,0a3.2,3.2 0 1,0 -6.4,0M627.2,295.8a4.9,4.9 0 1,0 9.8,0a4.9,4.9 0 1,0 -9.8,0M631,294.9a4,4 0 1,0 8,0a4,4 0 1,0 -8,0M636.7,288.4a3.2,3.2 0 1,0 6.5,0a3.2,3.2 0 1,0 -6.5,0M649.4,293a3.7,3.7 0 1,0 7.4,0a3.7,3.7 0 1,0 -7.4,0M825.8,291.8a3.1,3.1 0 1,0 6.2,0a3.1,3.1 0 1,0 -6.2,0M860.9,289.9a3.9,3.9 0 1,0 7.7,0a3.9,3.9 0 1,0 -7.7,0M858.2,290.2a5,5 0 1,0 9.9,0a5,5 0 1,0 -9.9,0M860.4,295.7a3.6,3.6 0 1,0 7.3,0a3.6,3.6 0 1,0 -7.3,0M861.4,293.4a3.3,3.3 0 1,0 6.6,0a3.3,3.3 0 1,0 -6.6,0M348.6,303.5a3.6,3.6 0 1,0 7.2,0a3.6,3.6 0 1,0 -7.2,0M352.9,302.1a4.5,4.5 0 1,0 8.9,0a4.5,4.5 0 1,0 -8.9,0M354.8,298.5a3.6,3.6 0 1,0 7.3,0a3.6,3.6 0 1,0 -7.3,0M352.5,300.1a4.6,4.6 0 1,0 9.3,0a4.6,4.6 0 1,0 -9.3,0M359.6,299.2a3.3,3.3 0 1,0 6.6,0a3.3,3.3 0 1,0 -6.6,0M374.1,300.3a3,3 0 1,0 6.1,0a3,3 0 1,0 -6.1,0M367.8,299.7a4.3,4.3 0 1,0 8.5,0a4.3,4.3 0 1,0 -8.5,0M374.2,307.8a3.2,3.2 0 1,0 6.3,0a3.2,3.2 0 1,0 -6.3,0M374,303.3a3.1,3.1 0 1,0 6.2,0a3.1,3.1 0 1,0 -6.2,0M378.6,302.6a3.9,3.9 0 1,0 7.7,0a3.9,3.9 0 1,0 -7.7,0M379.8,300.9a3.1,3.1 0 1,0 6.2,0a3.1,3.1 0 1,0 -6.2,0M375,307.3a3.1,3.1 0 1,0 6.2,0a3.1,3.1 0 1,0 -6.2,0M379.6,309a3.8,3.8 0 1,0 7.5,0a3.8,3.8 0 1,0 -7.5,0M392,306a4.7,4.7 0 1,0 9.4,0a4.7,4.7 0 1,0 -9.4,0M398.3,307.8a3.1,3.1 0 1,0 6.2,0a3.1,3.1 0 1,0 -6.2,0M387.2,301.5a4.8,4.8 0 1,0 9.5,0a4.8,4.8 0 1,0 -9.5,0M388.6,305.2a4.6,4.6 0 1,0 9.3,0a4.6,4.6 0 1,0 -9.3,0M399.2,308.9a4.3,4.3 0 1,0 8.6,0a4.3,4.3 0 1,0 -8.6,0M398.9,308.9a4.1,4.1 0 1,0 8.2,0a4.1,4.1 0 1,0 -8.2,0M402.3,301.8a4.2,4.2 0 1,0 8.5,0a4.2,4.2 0 1,0 -8.5,0M409.1,303.2a4.7,4.7 0 1,0 9.5,0a4.7,4.7 0 1,0 -9.5,0M414.7,305.6a4.9,4.9 0 1,0 9.9,0a4.9,4.9 0 1,0 -9.9,0M413.7,306.2a4.8,4.8 0 1,0 9.5,0a4.8,4.8 0 1,0 -9.5,0M425.4,309a4.1,4.1 0 1,0 8.2,0a4.1,4.1 0 1,0 -8.2,0M590.4,304.2a3.5,3.5 0 1,0 7,0a3.5,3.5 0 1,0 -7,0M588.5,307.6a3.5,3.5 0 1,0 7.1,0a3.5,3.5 0 1,0 -7.1,0M582.2,306a4.9,4.9 0 1,0 9.9,0a4.9,4.9 0 1,0 -9.9,0M593.8,299.3a4.1,4.1 0 1,0 8.3,0a4.1,4.1 0 1,0 -8.3,0M596.1,298.3a3.8,3.8 0 1,0 7.7,0a3.8,3.8 0 1,0 -7.7,0M599.1,304.8a4.4,4.4 0 1,0 8.8,0a4.4,4.4 0 1,0 -8.8,0M591.2,301.1a4.9,4.9 0 1,0 9.8,0a4.9,4.9 0 1,0 -9.8,0M614.1,304.4a3.8,3.8 0 1,0 7.6,0a3.8,3.8 0 1,0 -7.6,0M612.7,299.8a4.5,4.5 0 1,0 9,0a4.5,4.5 0 1,0 -9,0M612.9,307.7a3.1,3.1 0 1,0 6.2,0a3.1,3.1 0 1,0 -6.2,0M603.7,299.7a3.5,3.5 0 1,0 7.1,0a3.5,3.5 0 1,0 -7.1,0M618.3,297.6a4.3,4.3 0 1,0 8.6,0a4.3,4.3 0 1,0 -8.6,0M617.8,303.2a4.6,4.6 0 1,0 9.2,0a4.6,4.6 0 1,0 -9.2,0M617.8,303.9a3.1,3.1 0 1,0 6.2,0a3.1,3.1 0 1,0 -6.2,0M630,307a3.8,3.8 0 1,0 7.6,0a3.8,3.8 0 1,0 -7.6,0M630.5,297.2a4.8,4.8 0 1,0 9.7,0a4.8,4.8 0 1,0 -9.7,0M626.9,305.9a3.8,3.8 0 1,0 7.5,0a3.8,3.8 0 1,0 -7.5,0M649.1,305.7a4.1,4.1 0 1,0 8.2,0a4.1,4.1 0 1,0 -8.2,0M654.8,297.6a3.7,3.7 0 1,0 7.4,0a3.7,3.7 0 1,0 -7.4,0M657.6,302.3a3.8,3.8 0 1,0 7.5,0a3.8,3.8 0 1,0 -7.5,0M653.2,302.9a3.9,3.9 0 1,0 7.8,0a3.9,3.9 0 1,0 -7.8,0M827.8,301a3.9,3.9 0 1,0 7.9,0a3.9,3.9 0 1,0 -7.9,0M825.5,302.3a4.8,4.8 0 1,0 9.5,0a4.8,4.8 0 1,0 -9.5,0M818.9,300.4a4.7,4.7 0 1,0 9.5,0a4.7,4.7 0 1,0 -9.5,0M822.4,302.7a4.2,4.2 0 1,0 8.5,0a4.2,4.2 0 1,0 -8.5,0M854.1,302.8a3.5,3.5 0 1,0 7,0a3.5,3.5 0 1,0 -7,0M846.1,303.8a3.7,3.7 0 1,0 7.4,0a3.7,3.7 0 1,0 -7.4,0M849.2,306.7a4.5,4.5 0 1,0 8.9,0a4.5,4.5 0 1,0 -8.9,0M857.9,297.7a4.6,4.6 0 1,0 9.1,0a4.6,4.6 0 1,0 -9.1,0M860.2,309a3.5,3.5 0 1,0 6.9,0a3.5,3.5 0 1,0 -6.9,0M864.3,300.2a4.8,4.8 0 1,0 9.6,0a4.8,4.8 0 1,0 -9.6,0M856.7,306.8a4.5,4.5 0 1,0 8.9,0a4.5,4.5 0 1,0 -8.9,0M871.3,307a3.4,3.4 0 1,0 6.8,0a3.4,3.4 0 1,0 -6.8,0M871.6,307.2a4.7,4.7 0 1,0 9.5,0a4.7,4.7 0 1,0 -9.5,0M909,308.1a3.9,3.9 0 1,0 7.7,0a3.9,3.9 0 1,0 -7.7,0M349.5,318a3.9,3.9 0 1,0 7.8,0a3.9,3.9 0 1,0 -7.8,0M353.7,317.3a3,3 0 1,0 6.1,0a3,3 0 1,0 -6.1,0M351.4,310a3.1,3.1 0 1,0 6.2,0a3.1,3.1 0 1,0 -6.2,0M354.2,319.2a4,4 0 1,0 8,0a4,4 0 1,0 -8,0M359.7,319.8a5,5 0 1,0 9.9,0a5,5 0 1,0 -9.9,0M362.5,318.4a4.9,4.9 0 1,0 9.7,0a4.9,4.9 0 1,0 -9.7,0M362.5,309.2a4.9,4.9 0 1,0 9.9,0a4.9,4.9 0 1,0 -9.9,0M374,318a3.1,3.1 0 1,0 6.1,0a3.1,3.1 0 1,0 -6.1,0M362.3,319.3a4.5,4.5 0 1,0 8.9,0a4.5,4.5 0 1,0 -8.9,0M382.8,317.5a3.5,3.5 0 1,0 7.1,0a3.5,3.5 0 1,0 -7.1,0M377.1,314.3a5,5 0 1,0 9.9,0a5,5 0 1,0 -9.9,0M373.6,318.4a4.6,4.6 0 1,0 9.2,0a4.6,4.6 0 1,0 -9.2,0M376,319.8a3.2,3.2 0 1,0 6.5,0a3.2,3.2 0 1,0 -6.5,0M391.1,311.2a3.3,3.3 0 1,0 6.6,0a3.3,3.3 0 1,0 -6.6,0M390.8,311a3.1,3.1 0 1,0 6.1,0a3.1,3.1 0 1,0 -6.1,0M388.3,320.7a4.2,4.2 0 1,0 8.3,0a4.2,4.2 0 1,0 -8.3,0M392.4,317.2a3.1,3.1 0 1,0 6.2,0a3.1,3.1 0 1,0 -6.2,0M404.3,310.6a3.3,3.3 0 1,0 6.5,0a3.3,3.3 0 1,0 -6.5,0M400.8,320.7a3.3,3.3 0 1,0 6.7,0a3.3,3.3 0 1,0 -6.7,0M410.4,313.1a3.4,3.4 0 1,0 6.7,0a3.4,3.4 0 1,0 -6.7,0M407.6,315.8a3.7,3.7 0 1,0 7.5,0a3.7,3.7 0 1,0 -7.5,0M410.4,310.6a4.6,4.6 0 1,0 9.2,0a4.6,4.6 0 1,0 -9.2,0M413.8,310.6a3.2,3.2 0 1,0 6.4,0a3.2,3.2 0 1,0 -6.4,0M414.9,310a4,4 0 1,0 8,0a4,4 0 1,0 -8,0M426.1,320.2a4.7,4.7 0 1,0 9.4,0a4.7,4.7 0 1,0 -9.4,0M426.5,312.5a3.4,3.4 0 1,0 6.8,0a3.4,3.4 0 1,0 -6.8,0M429,310.7a4.5,4.5 0 1,0 9,0a4.5,4.5 0 1,0 -9,0M440.7,314.5a4.4,4.4 0 1,0 8.7,0a4.4,4.4 0 1,0 -8.7,0M445.5,313.1a3.2,3.2 0 1,0 6.4,0a3.2,3.2 0 1,0 -6.4,0M601.2,315.6a3.9,3.9 0 1,0 7.8,0a3.9,3.9 0 1,0 -7.8,0M593.9,320.1a3.8,3.8 0 1,0 7.7,0a3.8,3.8 0 1,0 -7.7,0M598.9,320.2a3.3,3.3 0 1,0 6.7,0a3.3,3.3 0 1,0 -6.7,0M593.7,314.8a4.7,4.7 0 1,0 9.3,0a4.7,4.7 0 1,0 -9.3,0M606.9,313.3a3.9,3.9 0 1,0 7.8,0a3.9,3.9 0 1,0 -7.8,0M603.6,311a3.9,3.9 0 1,0 7.7,0a3.9,3.9 0 1,0 -7.7,0M601.6,320a4.5,4.5 0 1,0 9.1,0a4.5,4.5 0 1,0 -9.1,0M612.2,318.7a4.4,4.4 0 1,0 8.9,0a4.4,4.4 0 1,0 -8.9,0M617.9,316.4a3.2,3.2 0 1,0 6.4,0a3.2,3.2 0 1,0 -6.4,0M623.9,319.9a3,3 0 1,0 6,0a3,3 0 1,0 -6,0M624.5,320.4a4.2,4.2 0 1,0 8.5,0a4.2,4.2 0 1,0 -8.5,0M627,316a3.6,3.6 0 1,0 7.2,0a3.6,3.6 0 1,0 -7.2,0M635.9,319.4a4.6,4.6 0 1,0 9.3,0a4.6,4.6 0 1,0 -9.3,0M628.7,318.5a4.1,4.1 0 1,0 8.2,0a4.1,4.1 0 1,0 -8.2,0M642.8,317.7a3.1,3.1 0 1,0 6.2,0a3.1,3.1 0 1,0 -6.2,0M645,309.3a4.9,4.9 0 1,0 9.7,0a4.9,4.9 0 1,0 -9.7,0M650.7,320.9a4.4,4.4 0 1,0 8.8,0a4.4,4.4 0 1,0 -8.8,0M831.4,311.6a3,3 0 1,0 6.1,0a3,3 0 1,0 -6.1,0M845.3,320.1a3.2,3.2 0 1,0 6.4,0a3.2,3.2 0 1,0 -6.4,0M852,312.1a3.6,3.6 0 1,0 7.3,0a3.6,3.6 0 1,0 -7.3,0M856.2,310.2a3.9,3.9 0 1,0 7.8,0a3.9,3.9 0 1,0 -7.8,0M918.8,317a4.7,4.7 0 1,0 9.4,0a4.7,4.7 0 1,0 -9.4,0M923.5,309.8a3.8,3.8 0 1,0 7.7,0a3.8,3.8 0 1,0 -7.7,0M923.9,319.2a3,3 0 1,0 6,0a3,3 0 1,0 -6,0M918.9,315a3.5,3.5 0 1,0 7,0a3.5,3.5 0 1,0 -7,0M931.2,314.9a4,4 0 1,0 8,0a4,4 0 1,0 -8,0M928.5,312.4a4.6,4.6 0 1,0 9.3,0a4.6,4.6 0 1,0 -9.3,0M930.6,316.8a3.1,3.1 0 1,0 6.3,0a3.1,3.1 0 1,0 -6.3,0M927,313.7a4.8,4.8 0 1,0 9.5,0a4.8,4.8 0 1,0 -9.5,0M937.3,320.3a4.9,4.9 0 1,0 9.9,0a4.9,4.9 0 1,0 -9.9,0M941.2,318.3a3.8,3.8 0 1,0 7.6,0a3.8,3.8 0 1,0 -7.6,0M939.4,317.3a3.9,3.9 0 1,0 7.8,0a3.9,3.9 0 1,0 -7.8,0M951,319.4a3.7,3.7 0 1,0 7.4,0a3.7,3.7 0 1,0 -7.4,0M366.2,332.8a3.6,3.6 0 1,0 7.2,0a3.6,3.6 0 1,0 -7.2,0M372.2,322.8a3.4,3.4 0 1,0 6.9,0a3.4,3.4 0 1,0 -6.9,0M361.7,331.8a4.7,4.7 0 1,0 9.3,0a4.7,4.7 0 1,0 -9.3,0M376.9,326.8a3.5,3.5 0 1,0 7.1,0a3.5,3.5 0 1,0 -7.1,0M382.9,330.3a4,4 0 1,0 8,0a4,4 0 1,0 -8,0M380.2,329.9a3.2,3.2 0 1,0 6.4,0a3.2,3.2 0 1,0 -6.4,0M375.7,323.2a4.9,4.9 0 1,0 9.8,0a4.9,4.9 0 1,0 -9.8,0M386.9,327.2a3.3,3.3 0 1,0 6.7,0a3.3,3.3 0 1,0 -6.7,0M390.8,326.7a3,3 0 1,0 6,0a3,3 0 1,0 -6,0M388.2,326.9a3.1,3.1 0 1,0 6.1,0a3.1,3.1 0 1,0 -6.1,0M399,326.8a4.2,4.2 0 1,0 8.3,0a4.2,4.2 0 1,0 -8.3,0M406.3,331a3.1,3.1 0 1,0 6.2,0a3.1,3.1 0 1,0 -6.2,0M408.5,326a4.7,4.7 0 1,0 9.5,0a4.7,4.7 0 1,0 -9.5,0M420.8,323.6a4.6,4.6 0 1,0 9.2,0a4.6,4.6 0 1,0 -9.2,0M418.1,323.6a3.2,3.2 0 1,0 6.4,0a3.2,3.2 0 1,0 -6.4,0M430.7,332.4a3.2,3.2 0 1,0 6.4,0a3.2,3.2 0 1,0 -6.4,0M424.5,325.5a3.4,3.4 0 1,0 6.9,0a3.4,3.4 0 1,0 -6.9,0M432.3,333a4.2,4.2 0 1,0 8.5,0a4.2,4.2 0 1,0 -8.5,0M422.3,325.6a4.6,4.6 0 1,0 9.2,0a4.6,4.6 0 1,0 -9.2,0M434,323.5a4.3,4.3 0 1,0 8.6,0a4.3,4.3 0 1,0 -8.6,0M443.1,332.5a4,4 0 1,0 8,0a4,4 0 1,0 -8,0M436.3,321.4a3.3,3.3 0 1,0 6.7,0a3.3,3.3 0 1,0 -6.7,0M596.5,330.9a4.3,4.3 0 1,0 8.5,0a4.3,4.3 0 1,0 -8.5,0M595.1,325.9a4.8,4.8 0 1,0 9.6,0a4.8,4.8 0 1,0 -9.6,0M602.3,328.5a3.1,3.1 0 1,0 6.1,0a3.1,3.1 0 1,0 -6.1,0M612.9,324.1a3.4,3.4 0 1,0 6.8,0a3.4,3.4 0 1,0 -6.8,0M603.3,331.4a3.9,3.9 0 1,0 7.8,0a3.9,3.9 0 1,0 -7.8,0M621.5,321.4a3.4,3.4 0 1,0 6.9,0a3.4,3.4 0 1,0 -6.9,0M622.4,328.7a3.8,3.8 0 1,0 7.6,0a3.8,3.8 0 1,0 -7.6,0M619,325.2a4.9,4.9 0 1,0 9.8,0a4.9,4.9 0 1,0 -9.8,0M616.3,331a3.2,3.2 0 1,0 6.5,0a3.2,3.2 0 1,0 -6.5,0M631.2,322.8a3.2,3.2 0 1,0 6.4,0a3.2,3.2 0 1,0 -6.4,0M648.8,322.8a3.3,3.3 0 1,0 6.7,0a3.3,3.3 0 1,0 -6.7,0M638.5,333a4.3,4.3 0 1,0 8.6,0a4.3,4.3 0 1,0 -8.6,0M846.6,323.3a4.8,4.8 0 1,0 9.7,0a4.8,4.8 0 1,0 -9.7,0M920.1,322.5a4.2,4.2 0 1,0 8.4,0a4.2,4.2 0 1,0 -8.4,0M934.8,321.7a3.2,3.2 0 1,0 6.4,0a3.2,3.2 0 1,0 -6.4,0M931.7,325.8a3.2,3.2 0 1,0 6.4,0a3.2,3.2 0 1,0 -6.4,0M946.9,327.4a4.3,4.3 0 1,0 8.6,0a4.3,4.3 0 1,0 -8.6,0M941.7,321.3a3.2,3.2 0 1,0 6.4,0a3.2,3.2 0 1,0 -6.4,0M397.4,343.6a4.4,4.4 0 1,0 8.7,0a4.4,4.4 0 1,0 -8.7,0M391.3,342.5a4.2,4.2 0 1,0 8.4,0a4.2,4.2 0 1,0 -8.4,0M388.7,345a4.1,4.1 0 1,0 8.1,0a4.1,4.1 0 1,0 -8.1,0M399.4,343.4a3.2,3.2 0 1,0 6.3,0a3.2,3.2 0 1,0 -6.3,0M397.5,341.2a4.7,4.7 0 1,0 9.4,0a4.7,4.7 0 1,0 -9.4,0M417,337a3.8,3.8 0 1,0 7.5,0a3.8,3.8 0 1,0 -7.5,0M412.9,342a4.3,4.3 0 1,0 8.6,0a4.3,4.3 0 1,0 -8.6,0M422,340.6a3.8,3.8 0 1,0 7.7,0a3.8,3.8 0 1,0 -7.7,0M435,344.3a3,3 0 1,0 6,0a3,3 0 1,0 -6,0M431.5,340.4a3.6,3.6 0 1,0 7.2,0a3.6,3.6 0 1,0 -7.2,0M606.8,340.9a4.1,4.1 0 1,0 8.3,0a4.1,4.1 0 1,0 -8.3,0M601.7,340.8a4.5,4.5 0 1,0 9.1,0a4.5,4.5 0 1,0 -9.1,0M619.9,337.9a4.7,4.7 0 1,0 9.5,0a4.7,4.7 0 1,0 -9.5,0M622.5,340.6a3.8,3.8 0 1,0 7.7,0a3.8,3.8 0 1,0 -7.7,0M645.8,339.2a3.7,3.7 0 1,0 7.4,0a3.7,3.7 0 1,0 -7.4,0M647.6,334.5a3.8,3.8 0 1,0 7.7,0a3.8,3.8 0 1,0 -7.7,0M647.4,333.6a4.9,4.9 0 1,0 9.8,0a4.9,4.9 0 1,0 -9.8,0M687.4,341a4.3,4.3 0 1,0 8.5,0a4.3,4.3 0 1,0 -8.5,0M401.4,345.9a3.5,3.5 0 1,0 7,0a3.5,3.5 0 1,0 -7,0M404,351.3a4.9,4.9 0 1,0 9.9,0a4.9,4.9 0 1,0 -9.9,0M412.2,356.1a4.6,4.6 0 1,0 9.2,0a4.6,4.6 0 1,0 -9.2,0M418.4,348.5a4.8,4.8 0 1,0 9.5,0a4.8,4.8 0 1,0 -9.5,0M432.2,349.9a3.1,3.1 0 1,0 6.2,0a3.1,3.1 0 1,0 -6.2,0M424.8,347.1a4.7,4.7 0 1,0 9.4,0a4.7,4.7 0 1,0 -9.4,0M436.4,356.1a5,5 0 1,0 9.9,0a5,5 0 1,0 -9.9,0M437.2,346.8a4.6,4.6 0 1,0 9.3,0a4.6,4.6 0 1,0 -9.3,0M444.5,352.6a4.3,4.3 0 1,0 8.5,0a4.3,4.3 0 1,0 -8.5,0M624.3,353.1a3.4,3.4 0 1,0 6.9,0a3.4,3.4 0 1,0 -6.9,0M637.1,356.7a4.3,4.3 0 1,0 8.6,0a4.3,4.3 0 1,0 -8.6,0M647.3,350.8a4.2,4.2 0 1,0 8.4,0a4.2,4.2 0 1,0 -8.4,0M646,349.4a4,4 0 1,0 7.9,0a4,4 0 1,0 -7.9,0M640.7,349.9a3.5,3.5 0 1,0 7.1,0a3.5,3.5 0 1,0 -7.1,0M683.7,351.9a4.9,4.9 0 1,0 9.8,0a4.9,4.9 0 1,0 -9.8,0M679.5,352a3.1,3.1 0 1,0 6.2,0a3.1,3.1 0 1,0 -6.2,0M682,347.7a4.6,4.6 0 1,0 9.2,0a4.6,4.6 0 1,0 -9.2,0M682.6,348a4.4,4.4 0 1,0 8.7,0a4.4,4.4 0 1,0 -8.7,0M407.5,359.8a4.5,4.5 0 1,0 9,0a4.5,4.5 0 1,0 -9,0M398.4,358.7a4.3,4.3 0 1,0 8.6,0a4.3,4.3 0 1,0 -8.6,0M411.2,367.7a3.2,3.2 0 1,0 6.4,0a3.2,3.2 0 1,0 -6.4,0M416,364.2a4.8,4.8 0 1,0 9.5,0a4.8,4.8 0 1,0 -9.5,0M416.6,358.9a3.8,3.8 0 1,0 7.6,0a3.8,3.8 0 1,0 -7.6,0M429.8,361.6a3.7,3.7 0 1,0 7.5,0a3.7,3.7 0 1,0 -7.5,0M424.2,360.3a4.1,4.1 0 1,0 8.2,0a4.1,4.1 0 1,0 -8.2,0M435.7,363.7a3.9,3.9 0 1,0 7.7,0a3.9,3.9 0 1,0 -7.7,0M445.2,359.9a3.7,3.7 0 1,0 7.5,0a3.7,3.7 0 1,0 -7.5,0M639,361.6a3.8,3.8 0 1,0 7.7,0a3.8,3.8 0 1,0 -7.7,0M648.2,363.3a4.4,4.4 0 1,0 8.8,0a4.4,4.4 0 1,0 -8.8,0M675.3,357.1a3.3,3.3 0 1,0 6.5,0a3.3,3.3 0 1,0 -6.5,0M681.5,357.6a5,5 0 1,0 10,0a5,5 0 1,0 -10,0M679.2,360.4a4.9,4.9 0 1,0 9.7,0a4.9,4.9 0 1,0 -9.7,0M408,370.8a4.5,4.5 0 1,0 9.1,0a4.5,4.5 0 1,0 -9.1,0M403.2,379.7a3.8,3.8 0 1,0 7.6,0a3.8,3.8 0 1,0 -7.6,0M410,374.6a3.7,3.7 0 1,0 7.5,0a3.7,3.7 0 1,0 -7.5,0M411,375a4.2,4.2 0 1,0 8.3,0a4.2,4.2 0 1,0 -8.3,0M410.8,375.9a3.9,3.9 0 1,0 7.9,0a3.9,3.9 0 1,0 -7.9,0M429.6,373.7a3.2,3.2 0 1,0 6.5,0a3.2,3.2 0 1,0 -6.5,0M426.8,375.4a4.4,4.4 0 1,0 8.7,0a4.4,4.4 0 1,0 -8.7,0M367.5,412.3a4.7,4.7 0 1,0 9.4,0a4.7,4.7 0 1,0 -9.4,0M367.3,427a4.7,4.7 0 1,0 9.3,0a4.7,4.7 0 1,0 -9.3,0M369.6,423a4.6,4.6 0 1,0 9.2,0a4.6,4.6 0 1,0 -9.2,0M1004.6,418.8a4.9,4.9 0 1,0 9.7,0a4.9,4.9 0 1,0 -9.7,0M370.2,433.1a3.7,3.7 0 1,0 7.5,0a3.7,3.7 0 1,0 -7.5,0" fill="#f9e0e0" fill-opacity="0.85" stroke="none"/>
<path d="M359.7,288.6a2.3,2.3 0 1,0 4.7,0a2.3,2.3 0 1,0 -4.7,0M362.4,285.7a2.6,2.6 0 1,0 5.3,0a2.6,2.6 0 1,0 -5.3,0M373.1,285.2a3,3 0 1,0 6,0a3,3 0 1,0 -6,0M392.1,288.6a2.9,2.9 0 1,0 5.7,0a2.9,2.9 0 1,0 -5.7,0M388.7,289.9a3.2,3.2 0 1,0 6.4,0a3.2,3.2 0 1,0 -6.4,0M576.6,291a3,3 0 1,0 6,0a3,3 0 1,0 -6,0M587.5,288a2.3,2.3 0 1,0 4.7,0a2.3,2.3 0 1,0 -4.7,0M598,287.7a4.1,4.1 0 1,0 8.1,0a4.1,4.1 0 1,0 -8.1,0M381.7,308.7a3,3 0 1,0 6,0a3,3 0 1,0 -6,0M385,302.5a3.7,3.7 0 1,0 7.4,0a3.7,3.7 0 1,0 -7.4,0M375,302.6a3.3,3.3 0 1,0 6.6,0a3.3,3.3 0 1,0 -6.6,0M388.9,303.6a3.8,3.8 0 1,0 7.6,0a3.8,3.8 0 1,0 -7.6,0M425.8,306.5a3.9,3.9 0 1,0 7.8,0a3.9,3.9 0 1,0 -7.8,0M422.6,305.3a3.6,3.6 0 1,0 7.2,0a3.6,3.6 0 1,0 -7.2,0M580.8,304.5a4.1,4.1 0 1,0 8.1,0a4.1,4.1 0 1,0 -8.1,0M588,304.2a4.2,4.2 0 1,0 8.3,0a4.2,4.2 0 1,0 -8.3,0M594.7,298.3a3.8,3.8 0 1,0 7.7,0a3.8,3.8 0 1,0 -7.7,0M615.6,299a3.1,3.1 0 1,0 6.3,0a3.1,3.1 0 1,0 -6.3,0M631.1,302.5a2.9,2.9 0 1,0 5.8,0a2.9,2.9 0 1,0 -5.8,0M852.5,303.6a3.2,3.2 0 1,0 6.4,0a3.2,3.2 0 1,0 -6.4,0M906.4,307.4a3.8,3.8 0 1,0 7.6,0a3.8,3.8 0 1,0 -7.6,0M365.8,311.3a2.2,2.2 0 1,0 4.4,0a2.2,2.2 0 1,0 -4.4,0M396.6,320.2a2.6,2.6 0 1,0 5.2,0a2.6,2.6 0 1,0 -5.2,0M393.8,318.4a3.6,3.6 0 1,0 7.2,0a3.6,3.6 0 1,0 -7.2,0M407,314.1a3.3,3.3 0 1,0 6.6,0a3.3,3.3 0 1,0 -6.6,0M404.3,311.5a2.7,2.7 0 1,0 5.3,0a2.7,2.7 0 1,0 -5.3,0M412.6,309.8a2.3,2.3 0 1,0 4.6,0a2.3,2.3 0 1,0 -4.6,0M424.1,312.4a3.4,3.4 0 1,0 6.8,0a3.4,3.4 0 1,0 -6.8,0M603.2,320.3a4.1,4.1 0 1,0 8.2,0a4.1,4.1 0 1,0 -8.2,0M619.5,320.3a3.1,3.1 0 1,0 6.3,0a3.1,3.1 0 1,0 -6.3,0M626.8,312.8a4.1,4.1 0 1,0 8.1,0a4.1,4.1 0 1,0 -8.1,0M872.4,310.1a3,3 0 1,0 6,0a3,3 0 1,0 -6,0M904.5,309.2a3.1,3.1 0 1,0 6.2,0a3.1,3.1 0 1,0 -6.2,0M398,324.1a2.6,2.6 0 1,0 5.3,0a2.6,2.6 0 1,0 -5.3,0M413.4,327a3.9,3.9 0 1,0 7.7,0a3.9,3.9 0 1,0 -7.7,0M413.4,325.3a3,3 0 1,0 6,0a3,3 0 1,0 -6,0M946.8,327.5a2.6,2.6 0 1,0 5.2,0a2.6,2.6 0 1,0 -5.2,0" fill="#f0595a" fill-opacity="0.8" stroke="none"/>
<path d="M363.6,290a3.2,3.2 0 1,0 6.4,0a3.2,3.2 0 1,0 -6.4,0M583.2,286.1a2.8,2.8 0 1,0 5.7,0a2.8,2.8 0 1,0 -5.7,0M591.4,294a3.4,3.4 0 1,0 6.9,0a3.4,3.4 0 1,0 -6.9,0M591.8,287.5a3.3,3.3 0 1,0 6.5,0a3.3,3.3 0 1,0 -6.5,0M609.2,286.7a2.7,2.7 0 1,0 5.4,0a2.7,2.7 0 1,0 -5.4,0M367.7,299.2a2.6,2.6 0 1,0 5.1,0a2.6,2.6 0 1,0 -5.1,0M372.4,306.6a4,4 0 1,0 7.9,0a4,4 0 1,0 -7.9,0M376.4,308.6a3.8,3.8 0 1,0 7.6,0a3.8,3.8 0 1,0 -7.6,0M392,306.1a3.1,3.1 0 1,0 6.2,0a3.1,3.1 0 1,0 -6.2,0M400.1,303.9a2.9,2.9 0 1,0 5.8,0a2.9,2.9 0 1,0 -5.8,0M400.8,307.1a4,4 0 1,0 7.9,0a4,4 0 1,0 -7.9,0M590.6,298.2a3.4,3.4 0 1,0 6.7,0a3.4,3.4 0 1,0 -6.7,0M597.8,304.8a4,4 0 1,0 8,0a4,4 0 1,0 -8,0M602.1,301.4a3.6,3.6 0 1,0 7.1,0a3.6,3.6 0 1,0 -7.1,0M594.3,297.4a4,4 0 1,0 8,0a4,4 0 1,0 -8,0M611.9,305.7a3.6,3.6 0 1,0 7.2,0a3.6,3.6 0 1,0 -7.2,0M607.3,302.8a2.8,2.8 0 1,0 5.5,0a2.8,2.8 0 1,0 -5.5,0M636.2,306.9a2.5,2.5 0 1,0 5.1,0a2.5,2.5 0 1,0 -5.1,0M631.7,302.9a3.3,3.3 0 1,0 6.5,0a3.3,3.3 0 1,0 -6.5,0M849.5,304.9a4,4 0 1,0 8,0a4,4 0 1,0 -8,0M864.3,304.6a3.3,3.3 0 1,0 6.6,0a3.3,3.3 0 1,0 -6.6,0M872.4,302.3a2.7,2.7 0 1,0 5.4,0a2.7,2.7 0 1,0 -5.4,0M362.2,313.9a2.4,2.4 0 1,0 4.8,0a2.4,2.4 0 1,0 -4.8,0M369,313.7a3.5,3.5 0 1,0 7,0a3.5,3.5 0 1,0 -7,0M380.6,317.5a2.6,2.6 0 1,0 5.2,0a2.6,2.6 0 1,0 -5.2,0M395.4,314a3.8,3.8 0 1,0 7.6,0a3.8,3.8 0 1,0 -7.6,0M407.8,319a3.5,3.5 0 1,0 7,0a3.5,3.5 0 1,0 -7,0M400.1,312.2a3.9,3.9 0 1,0 7.9,0a3.9,3.9 0 1,0 -7.9,0M403.3,312.5a2.9,2.9 0 1,0 5.8,0a2.9,2.9 0 1,0 -5.8,0M597.8,316.5a3.2,3.2 0 1,0 6.5,0a3.2,3.2 0 1,0 -6.5,0M603.1,312.4a2.5,2.5 0 1,0 5,0a2.5,2.5 0 1,0 -5,0M620.9,309.5a4,4 0 1,0 8,0a4,4 0 1,0 -8,0M854.1,310.4a2.4,2.4 0 1,0 4.8,0a2.4,2.4 0 1,0 -4.8,0M926.1,317.7a3.4,3.4 0 1,0 6.8,0a3.4,3.4 0 1,0 -6.8,0M938.2,319.2a3.3,3.3 0 1,0 6.6,0a3.3,3.3 0 1,0 -6.6,0M389.3,321.7a3,3 0 1,0 6,0a3,3 0 1,0 -6,0" fill="#f5a5a8" fill-opacity="0.8" stroke="none"/>
<path d="M366.4,295.5a3,3 0 1,0 6.1,0a3,3 0 1,0 -6.1,0M593.7,290.2a3.7,3.7 0 1,0 7.3,0a3.7,3.7 0 1,0 -7.3,0M598.3,292.5a4,4 0 1,0 8.1,0a4,4 0 1,0 -8.1,0M856.9,292.2a3.5,3.5 0 1,0 7,0a3.5,3.5 0 1,0 -7,0M350.2,308.3a2.7,2.7 0 1,0 5.3,0a2.7,2.7 0 1,0 -5.3,0M357.8,298.7a4.2,4.2 0 1,0 8.4,0a4.2,4.2 0 1,0 -8.4,0M355.3,301.4a2.8,2.8 0 1,0 5.6,0a2.8,2.8 0 1,0 -5.6,0M350.8,301a3.9,3.9 0 1,0 7.9,0a3.9,3.9 0 1,0 -7.9,0M382.1,302.5a3,3 0 1,0 6,0a3,3 0 1,0 -6,0M389.3,306.7a3.2,3.2 0 1,0 6.4,0a3.2,3.2 0 1,0 -6.4,0M413.8,309a3.9,3.9 0 1,0 7.7,0a3.9,3.9 0 1,0 -7.7,0M597.8,304.3a3.4,3.4 0 1,0 6.8,0a3.4,3.4 0 1,0 -6.8,0M596.6,306.1a2.9,2.9 0 1,0 5.8,0a2.9,2.9 0 1,0 -5.8,0M608.4,300a2.5,2.5 0 1,0 4.9,0a2.5,2.5 0 1,0 -4.9,0M621.4,302a3.7,3.7 0 1,0 7.3,0a3.7,3.7 0 1,0 -7.3,0M631,298.6a4.1,4.1 0 1,0 8.3,0a4.1,4.1 0 1,0 -8.3,0M864.5,299.8a3.2,3.2 0 1,0 6.5,0a3.2,3.2 0 1,0 -6.5,0M864.1,298.1a3.4,3.4 0 1,0 6.7,0a3.4,3.4 0 1,0 -6.7,0M381.6,318.3a2.6,2.6 0 1,0 5.2,0a2.6,2.6 0 1,0 -5.2,0M413.3,314a3.8,3.8 0 1,0 7.7,0a3.8,3.8 0 1,0 -7.7,0M618.3,311.4a3.6,3.6 0 1,0 7.2,0a3.6,3.6 0 1,0 -7.2,0M907.5,310.7a2.8,2.8 0 1,0 5.7,0a2.8,2.8 0 1,0 -5.7,0M942.7,319.4a3.1,3.1 0 1,0 6.2,0a3.1,3.1 0 1,0 -6.2,0M375.3,325.9a3.9,3.9 0 1,0 7.8,0a3.9,3.9 0 1,0 -7.8,0M394.7,326.9a3.2,3.2 0 1,0 6.3,0a3.2,3.2 0 1,0 -6.3,0M409.6,331a4.2,4.2 0 1,0 8.3,0a4.2,4.2 0 1,0 -8.3,0M399.1,329.6a4.2,4.2 0 1,0 8.4,0a4.2,4.2 0 1,0 -8.4,0M428.1,322.9a3,3 0 1,0 6,0a3,3 0 1,0 -6,0" fill="#d8221a" fill-opacity="0.8" stroke="none"/>
<path d="M371.7,289.1a3.1,3.1 0 1,0 6.3,0a3.1,3.1 0 1,0 -6.3,0M372.9,294.1a3.3,3.3 0 1,0 6.7,0a3.3,3.3 0 1,0 -6.7,0M372.5,286.1a2.4,2.4 0 1,0 4.8,0a2.4,2.4 0 1,0 -4.8,0M381.4,288a2.5,2.5 0 1,0 4.9,0a2.5,2.5 0 1,0 -4.9,0M586.4,291.1a3.1,3.1 0 1,0 6.2,0a3.1,3.1 0 1,0 -6.2,0M586.6,296a2.5,2.5 0 1,0 5.1,0a2.5,2.5 0 1,0 -5.1,0M857.3,294.5a3.4,3.4 0 1,0 6.9,0a3.4,3.4 0 1,0 -6.9,0M865.7,289.1a3.7,3.7 0 1,0 7.5,0a3.7,3.7 0 1,0 -7.5,0M866.4,294.9a3.3,3.3 0 1,0 6.6,0a3.3,3.3 0 1,0 -6.6,0M858.8,294.3a3.8,3.8 0 1,0 7.7,0a3.8,3.8 0 1,0 -7.7,0M361.9,301.1a3.1,3.1 0 1,0 6.3,0a3.1,3.1 0 1,0 -6.3,0M362.6,299.2a2.6,2.6 0 1,0 5.2,0a2.6,2.6 0 1,0 -5.2,0M363.4,301.1a4.1,4.1 0 1,0 8.3,0a4.1,4.1 0 1,0 -8.3,0M364.3,307.6a3.5,3.5 0 1,0 7.1,0a3.5,3.5 0 1,0 -7.1,0M370.6,304.5a3.6,3.6 0 1,0 7.3,0a3.6,3.6 0 1,0 -7.3,0M369,305.9a3.9,3.9 0 1,0 7.9,0a3.9,3.9 0 1,0 -7.9,0M373.2,297.5a3.3,3.3 0 1,0 6.5,0a3.3,3.3 0 1,0 -6.5,0M377.1,305.5a4.1,4.1 0 1,0 8.2,0a4.1,4.1 0 1,0 -8.2,0M398.1,307.4a2.7,2.7 0 1,0 5.5,0a2.7,2.7 0 1,0 -5.5,0M394.7,307.3a3.2,3.2 0 1,0 6.4,0a3.2,3.2 0 1,0 -6.4,0M400.9,303.5a2.2,2.2 0 1,0 4.5,0a2.2,2.2 0 1,0 -4.5,0M408.9,303.3a3.4,3.4 0 1,0 6.8,0a3.4,3.4 0 1,0 -6.8,0M413.2,303.3a3.4,3.4 0 1,0 6.8,0a3.4,3.4 0 1,0 -6.8,0M412.9,302.2a3.4,3.4 0 1,0 6.8,0a3.4,3.4 0 1,0 -6.8,0M411.3,300.7a3.4,3.4 0 1,0 6.7,0a3.4,3.4 0 1,0 -6.7,0M416,303.7a2.6,2.6 0 1,0 5.3,0a2.6,2.6 0 1,0 -5.3,0M423.9,297.9a3.6,3.6 0 1,0 7.2,0a3.6,3.6 0 1,0 -7.2,0M436.7,306.6a3.6,3.6 0 1,0 7.2,0a3.6,3.6 0 1,0 -7.2,0M586.5,299.9a3.6,3.6 0 1,0 7.2,0a3.6,3.6 0 1,0 -7.2,0M582.5,297.8a3.8,3.8 0 1,0 7.6,0a3.8,3.8 0 1,0 -7.6,0M600,307.3a3.9,3.9 0 1,0 7.7,0a3.9,3.9 0 1,0 -7.7,0M613.9,298.8a2.5,2.5 0 1,0 4.9,0a2.5,2.5 0 1,0 -4.9,0M627.4,301.9a2.4,2.4 0 1,0 4.8,0a2.4,2.4 0 1,0 -4.8,0M623.9,305a3.4,3.4 0 1,0 6.8,0a3.4,3.4 0 1,0 -6.8,0M625.3,306.1a3.2,3.2 0 1,0 6.3,0a3.2,3.2 0 1,0 -6.3,0M620.9,303.3a2.9,2.9 0 1,0 5.8,0a2.9,2.9 0 1,0 -5.8,0M629.4,308.7a3.2,3.2 0 1,0 6.4,0a3.2,3.2 0 1,0 -6.4,0M854.7,307a2.3,2.3 0 1,0 4.7,0a2.3,2.3 0 1,0 -4.7,0M855,299.1a2.7,2.7 0 1,0 5.4,0a2.7,2.7 0 1,0 -5.4,0M856.8,305.6a2.6,2.6 0 1,0 5.3,0a2.6,2.6 0 1,0 -5.3,0M856.3,307.3a2.8,2.8 0 1,0 5.6,0a2.8,2.8 0 1,0 -5.6,0M858.9,306.2a2.6,2.6 0 1,0 5.1,0a2.6,2.6 0 1,0 -5.1,0M362.1,317a4,4 0 1,0 8,0a4,4 0 1,0 -8,0M365.4,317.9a3.6,3.6 0 1,0 7.2,0a3.6,3.6 0 1,0 -7.2,0M367.8,314a2.7,2.7 0 1,0 5.4,0a2.7,2.7 0 1,0 -5.4,0M369.9,320.2a3.7,3.7 0 1,0 7.4,0a3.7,3.7 0 1,0 -7.4,0M384.1,316.8a2.8,2.8 0 1,0 5.5,0a2.8,2.8 0 1,0 -5.5,0M379.2,312.3a3.3,3.3 0 1,0 6.6,0a3.3,3.3 0 1,0 -6.6,0M383.5,310.5a2.4,2.4 0 1,0 4.8,0a2.4,2.4 0 1,0 -4.8,0M390.3,311.8a3.4,3.4 0 1,0 6.7,0a3.4,3.4 0 1,0 -6.7,0M396.4,320.3a3.5,3.5 0 1,0 6.9,0a3.5,3.5 0 1,0 -6.9,0M394.5,317.1a3.4,3.4 0 1,0 6.7,0a3.4,3.4 0 1,0 -6.7,0M401.8,313.3a2.9,2.9 0 1,0 5.8,0a2.9,2.9 0 1,0 -5.8,0M403.3,311.1a3.5,3.5 0 1,0 7,0a3.5,3.5 0 1,0 -7,0M413.3,318.6a3,3 0 1,0 6,0a3,3 0 1,0 -6,0M412.7,319.4a4.1,4.1 0 1,0 8.1,0a4.1,4.1 0 1,0 -8.1,0M420.7,315.6a3.5,3.5 0 1,0 6.9,0a3.5,3.5 0 1,0 -6.9,0M421.4,317.5a4,4 0 1,0 8.1,0a4,4 0 1,0 -8.1,0M423.8,319.3a3.8,3.8 0 1,0 7.5,0a3.8,3.8 0 1,0 -7.5,0M433,312.6a3.4,3.4 0 1,0 6.9,0a3.4,3.4 0 1,0 -6.9,0M433.9,317.3a2.3,2.3 0 1,0 4.6,0a2.3,2.3 0 1,0 -4.6,0M592,315.3a3.6,3.6 0 1,0 7.3,0a3.6,3.6 0 1,0 -7.3,0M592.3,312.8a3,3 0 1,0 6,0a3,3 0 1,0 -6,0M606.5,315.6a4,4 0 1,0 8,0a4,4 0 1,0 -8,0M609,312.1a3,3 0 1,0 6.1,0a3,3 0 1,0 -6.1,0M618.2,318.8a4.1,4.1 0 1,0 8.3,0a4.1,4.1 0 1,0 -8.3,0M637.5,319.5a3.8,3.8 0 1,0 7.7,0a3.8,3.8 0 1,0 -7.7,0M629.3,316.4a4.2,4.2 0 1,0 8.3,0a4.2,4.2 0 1,0 -8.3,0M633,312a2.7,2.7 0 1,0 5.4,0a2.7,2.7 0 1,0 -5.4,0M845.7,311a3.9,3.9 0 1,0 7.9,0a3.9,3.9 0 1,0 -7.9,0M859,312.1a3.6,3.6 0 1,0 7.3,0a3.6,3.6 0 1,0 -7.3,0M911,312.2a2.3,2.3 0 1,0 4.6,0a2.3,2.3 0 1,0 -4.6,0M912.7,314.8a3.4,3.4 0 1,0 6.8,0a3.4,3.4 0 1,0 -6.8,0M920.4,317.2a3,3 0 1,0 5.9,0a3,3 0 1,0 -5.9,0M923.8,310.2a2.8,2.8 0 1,0 5.7,0a2.8,2.8 0 1,0 -5.7,0M934.9,320.1a4.1,4.1 0 1,0 8.3,0a4.1,4.1 0 1,0 -8.3,0M935.2,320.2a2.3,2.3 0 1,0 4.6,0a2.3,2.3 0 1,0 -4.6,0M926.8,316.4a4,4 0 1,0 8.1,0a4,4 0 1,0 -8.1,0M936.5,319.2a3.5,3.5 0 1,0 7,0a3.5,3.5 0 1,0 -7,0M932.5,318a2.5,2.5 0 1,0 4.9,0a2.5,2.5 0 1,0 -4.9,0M383.3,331.2a3.8,3.8 0 1,0 7.7,0a3.8,3.8 0 1,0 -7.7,0M402,323.4a3.4,3.4 0 1,0 6.9,0a3.4,3.4 0 1,0 -6.9,0M434.1,331.6a3.2,3.2 0 1,0 6.4,0a3.2,3.2 0 1,0 -6.4,0M598.5,329.5a2.6,2.6 0 1,0 5.2,0a2.6,2.6 0 1,0 -5.2,0M603.3,324.8a2.4,2.4 0 1,0 4.9,0a2.4,2.4 0 1,0 -4.9,0M597.5,325.2a4,4 0 1,0 8,0a4,4 0 1,0 -8,0M610.4,323.8a3.6,3.6 0 1,0 7.3,0a3.6,3.6 0 1,0 -7.3,0M621.5,331.3a3.3,3.3 0 1,0 6.5,0a3.3,3.3 0 1,0 -6.5,0M617.7,323.2a3.9,3.9 0 1,0 7.8,0a3.9,3.9 0 1,0 -7.8,0M941.3,325.3a3.7,3.7 0 1,0 7.5,0a3.7,3.7 0 1,0 -7.5,0" fill="#ee2a20" fill-opacity="0.8" stroke="none"/>
<path d="M835.3,162.8l2.1,1.5 2.6,.1 2.6,0M842.6,164.4l1.2,2.3M862.8,300.6l1.9,1.7 1.9,1.9M765,274.1l1.4,2.2 1.2,2.3 1.5,2.1 1.3,2.2 1.5,2.1M650.6,298.8l1.6,2 2.4,1.1 2.5,.9M857.2,298.8l-2.4,1.1 -2.6,.3 -2.6-.3 -2.5-.6M299.4,171.2l2.5,.7 2.6,.6 2.5,.5M561.6,190l-1.3,2.2 -1.7,2 -1.3,2.3 -.7,2.5 -1.1,2.3 -1.4,2.2 -1.3,2.3M554.1,203.5l-2.6,.3 -2.6,.2 -2.6,0 -2.5-.6 -2.5-.6M546.3,204l-.1,2.6M925.1,323.1l2-1.5 2.3-1.3 2.5-.8 2.4-.9 1.9-1.8M934.3,318.6l2,1.7 2.1,1.5M379.6,324.7l-.2,2.6 -.3,2.6 0,2.6M584.4,177.8l2.1-1.5 1.8-1.9 1.8-1.9 2.2-1.3 2.5-.9 2.4-1.1 2.1-1.4 2.4-1.1 2.6-.3 2.1-1.5 2.3-1.2 2.3-1.3M608.7,163.7l1.9,1.7 2.1,1.5 2.1,1.6 1.6,2M226.8,143.5l-2.4-.9 -2.6-.4 -2.6-.4 -2.5,.7 -2.5,.4 -2.6,.5M214.2,142.9l-1.6-2.1 -1.6-2M624.4,286.1l-2.3-1.2 -1.8-1.8 -2.1-1.6 -1.7-1.9 -1.8-1.9 -1.4-2.2M618.2,281.5l-1.6,2.1 -1.8,1.8 -1.7,2M614.8,285.4l-2.4,.9M614.7,277.7l-2.6,.6 -2.3,1.1M314.5,199.9l-2.3,1.1 -2.5,1 -1.8,1.8M604,180.5l-1-2.4 -2-1.7 -2.5-.7 -2.5,.4 -2.5,.8 -2.4,1 -2.5,.9 -1.6,2 -2,1.7 -1.7,1.9 -1.6,2.1M591.1,177.9l-.8,2.5 -.8,2.5M922.6,383.2l2.6,0 2.5-.3 2.6-.1 2.6,.5 2.3,1.1 2.2,1.5 1.7,1.9 1.5,2.2 1.6,2M927.7,382.9l2,1.8 1.8,1.8M932.9,383.3l1-2.3 1.6-2.1M935.5,378.9l2.6-.1M774,243.4l-1.8-1.8 -1.8-1.9 -1.4-2.2 -1.8-1.9 -2-1.7 -1.6-2 -1.5-2.2 -1.4-2.2 -1.6-2M770.4,239.7l.8-2.5 1-2.4 .6-2.6 .5-2.5M773.3,229.7l2.2-1.3M760.7,227.5l1.7-1.9 1.4-2.2 2.2-1.4 1.9-1.8M400.7,313.5l-2.6,.5 -2.5,.7 -2.6,.5M393,315.2l-1,2.3 -.6,2.6M638,168.4l1.3-2.2 2.1-1.6 2.1-1.6 2.5-.3 2.5-.8 2.6-.5 2.5-.5M641.4,164.6l2.6,0M651.1,161.4l1-2.4 1.3-2.3M414.8,336.3l-2.5,.8 -2.4,.8 -2.5,.8M628.6,163.4l-1.3-2.3 -1-2.4 -.9-2.4 -1-2.4M626.3,158.7l1.7-2 1.9-1.8M309.2,224.3l-.7,2.5 .1,2.5M700.9,134.5l-2.1-1.4 -2-1.8 -1.9-1.7 -1.1-2.4 -1.9-1.8M694.9,129.6l-.3-2.6 -.5-2.6M802.6,127.4l-2.5,.8M358,303.8l-1.9-1.9M575.5,212.3l1.5,2.2 1.5,2.1 .8,2.5M579.3,219.1l2.6,.5M261.3,136.3l-2.2-1.4 -1.5-2.1 -.8-2.4M629.9,298.9l-.9-2.4 -.8-2.5 -.5-2.6 -.6-2.5 -.4-2.6 -.6-2.5 -.4-2.6M626.7,286.3l2.4-1 2-1.6M631.1,283.7l-.4-2.6M658.5,199.8l-2.4-.8 -2.4-1.2 -2.6,0 -2.6,.1 -2.4,.8 -2.6,.5 -2.4,.9 -2.6,.1 -2.6,.1M648.5,197.9l-1.7-2M638.5,200.2l-1.8,1.9 -1.5,2.1 -1.1,2.4M635.2,204.2l-.1,2.6M859.3,235.9l1.8,1.9 2,1.7 2.2,1.3M626.7,122.6l2.6-.3 2.5-.4 2.6,0 2.6,.6 2.6,.3M235,126.9l2.1,1.6 1.8,1.9 1.5,2.1 .6,2.5 -.2,2.6 .3,2.6 .4,2.6 .2,2.6M232.8,170.9l2.6,.1 2.6,.3 2.6,.4 2.5,.5M238,171.3l1.1-2.4 .9-2.4M240,166.5l-1.7-2M429.4,339l2,1.7 2.1,1.5M560.9,222.6l-1.9-1.7M535.3,278.6l-2.2,1.5 -2.4,.8 -2.6,.5M530.7,280.9l-1.9-1.8 -1.9-1.8 -1.8-1.9 -2.3-1.3 -2.5-.7M1009.8,140.4l.2-2.6 .5-2.6 0-2.6 .5-2.5 -.5-2.6 -.1-2.6 -.5-2.5 -1.4-2.2M1010.5,135.2l2.6-.4 2.5-.6 2.6-.1 2.6-.6 2.1-1.5M1018.2,134.1l-.2,2.5 -.5,2.6M1010.4,124.9l-2.4-.9 -2.6-.6 -2.3-1.1 -2.6-.6 -2.6,.2M340.6,188.6l-1.2,2.3M284.8,143.6l-2.4-1.1 -2.1-1.5M310.7,142.6l-.7,2.5 -.8,2.5M603.7,307.9l-2.5,.3 -2.6,.2 -2.6,.1 -2.6,.3 -2.6,.1 -2.6-.1M593.4,308.8l-.8-2.5M845,324.1l2.2-1.3 2.3-1.3 2.3-1.1M668.8,295.9l1.8,1.9 1.6,2 2.1,1.6M361.4,165.6l-2,1.6 -2.6,.3 -2.6,0M639.4,269l2.6,.4 2.5,.7 2.5,.8M271,185.5l2.6,0 2.4,1.1 2.3,1.1 2.6,.6 2.4,.8M276,186.6l.5,2.6 .7,2.5M280.9,188.3l.6,2.6M599.5,148.3l2.5,.5 2.6,.5 2.6,.3M561.9,225.1l.1-2.6 -.8-2.5 -1.3-2.2M561.2,220l-1.9-1.8M572.3,172.9l.5-2.5 0-2.6M765.7,161l-2.5,.4M756.9,170.4l-1.5-2.1M594.5,308.8l-2.5-.6 -2.4-.8 -2.4-1.1 -2.5-.7M878.5,257.1l-1.7,1.9M917,150.5l-.7,2.5 -1.2,2.3 -.6,2.6 -.6,2.5 -.7,2.5 -.8,2.5M913.9,160.4l-2.2,1.3 -2.1,1.6M912.4,165.4l-1.8,1.8 -1.9,1.8 -2.1,1.6M906.6,170.6l-.6,2.6M688.8,351.9l-.4-2.6 -.1-2.6 .2-2.6 -.1-2.6 .2-2.6M826.7,239.3l-.4-2.5 0-2.6M983.2,157.9l-2-1.7 -1.9-1.8 -2.1-1.5M335.1,161.5l2.6-.3 2.6,.3 2.5,.5 2.6-.6M340.3,161.5l.4,2.6M280.1,163.4l-2.3,1.3 -2.1,1.5 -1.6,2.1 -1.7,1.9 -1.7,2 -2.1,1.5 -2.6,.4 -2.4,.9 -2.2,1.5 -2.5,.5 -2.6,.2 -2.6,.1M253.7,177.3l-1.4-2.2 -1.7-1.9 -2.1-1.5 -2-1.7 -2.2-1.4M250.6,173.2l.2-2.6 -.6-2.5M246.5,170l1.9-1.8 .7-2.5M668.9,208.4l-2.6-.1 -2.3-1M622.5,175.9l1.4,2.2 1,2.4 1.7,1.9 2.1,1.7 1.6,2 1.7,1.9 2.5,.9M628.7,184.1l2.4-.9 2.5-.8M839.5,178.4l2.5,.7 2.5,.7M745.6,225.7l-.4,2.6 -.3,2.6 -.2,2.5 .2,2.6 .1,2.6M744.7,233.4l-1.9,1.9M685.1,360.2l-1.5-2.1 -1.2-2.3 -1.3-2.3 -1.3-2.2 -.6-2.5 -.1-2.6M681.1,353.5l1.2-2.3 .7-2.5M683,348.7l2.5-.4M849.8,304.6l-1-2.4 -.7-2.6M585.9,191.6l-2.6-.2M881.3,180.3l.1-2.6 -.1-2.6 -.2-2.6 -.4-2.5 -.6-2.6M880.7,170l-2.2-1.4M901.5,169.2l-.9,2.5 -.1,2.6 .4,2.6M939,398.5l-2.6,.3 -2.4,1 -2.3,1.2 -2.2,1.3M368.7,434.7l-1-2.4 -.9-2.5M366.8,429.8l-2.6-.2M311.1,166.2l-2.1,1.6 -1.4,2.1 -.4,2.6 -.2,2.6M565.3,174.2l2.5-.6 2.4-1.1 2.1-1.5M308.2,251.8l.8,2.5 1,2.4M656.7,281.7l-2.4,1M890.8,203.6l1.7-2 2-1.6 1.6-2.1M894.5,200l.6-2.5M379.4,364.3l2.2,1.4 1.4,2.2 .6,2.5M860.6,158l1.1-2.4M859.3,199l1.5-2.1 1.5-2.2 .7-2.4 .9-2.5M862.3,194.7l-1-2.3 -.9-2.5M863.9,189.8l2.6-.5M300.2,215.7l1.9,1.7 1.6,2.1 1.1,2.3 1.1,2.4M820.9,278l-2.2,1.4M544.7,289.4l-.2-2.5 .1-2.6 1.2-2.4 1.8-1.9 2-1.6M544.6,284.3l2.6-.2 2.6,.4M547.6,280l.3-2.5 -.3-2.6M367,436.6l1-2.4 .9-2.4 .6-2.5M587.1,163.7l2.4-.8 2.5-.7 2.6-.6M594.6,161.6l2,1.6M416.3,335.4l1.6,2.1 1.9,1.7 1.6,2 2.3,1.3 2,1.6 2.1,1.6 2,1.7M419.8,339.2l2.5-.5 2.3-1.3M425.7,344.1l.7,2.6 1.4,2.1 1.1,2.4M800.5,145.6l1.9,1.7 2.4,1.2 1.6,2M806.4,150.5l0,2.6M857.9,308.8l-2.3-1.2 -1.6-2 -.8-2.5 -.3-2.6M889.7,280.9l2.6,.6M403.4,161l-.2,2.6 0,2.6 -.1,2.6 .4,2.6M324.5,213.1l-2.6-.2 -2.6,.1M912.4,187.4l2.5,.5M304.3,154.8l-.3,2.6 .2,2.6 .6,2.5M820.7,261.9l-2.2-1.4 -2.1-1.6M578.4,148.1l-2.6,.3M953,382.2l2.2,1.5 2.4,1 2.4,.9M957.6,384.7l.7,2.5M668.5,128.6l-1.5-2.2M687.7,162.9l-1.9-1.8 -2.1-1.6M325.4,256.2l-1.7,2 -1.8,1.9 -2.3,1.2M844.1,127.8l.5,2.5 1.3,2.3M1008.2,414.7l-.7,2.5 0,2.6 0,2.6M620.1,376.4l-.4,2.6M317.6,204.1l-2.6,.2 -2.6,.5 -2.1,1.5 -2,1.7 -1.4,2.2M981.5,156.3l1.8,1.8M409.9,162l2.2,1.4 1.2,2.2M910.1,338.2l-1.3,2.3M710.5,211.5l1.2-2.3 1.2-2.3M392.6,149.9l-2.4,1.1 -2.2,1.4M888.4,110.9l-2.1,1.5 -1.8,1.9M546.2,284.7l-2.6-.5 -2.6-.1 -2.6-.1 -2.5,.7 -2.4,.8M535.9,284.7l-1.8-1.8 -2.1-1.5 -2.2-1.4 -2.4-1M936.8,318.2l.2,2.5 .6,2.6M937.6,323.3l2.6,.4M844.8,268.9l-2.6-.6 -2.3-1 -2.6-.7M669.4,191.8l.8-2.5M693.6,238.8l-.6-2.6M991.2,136.6l2.3-1.1 2.3-1.3 1.9-1.8 1.5-2.1M737.8,130.8l-2.4,.9M786.9,247.5l.4-2.6 .6-2.5 -1-2.4M752.3,231.2l2.3,1.2 2.5,.4M876.3,301.6l-.3,2.6 -.6,2.5M409,305.8l2.4,1 2.6,.3M414,307.1l0-2.6M353.7,299.5l-.8,2.5 -.7,2.5 -.6,2.6M625.2,167.5l-1.7,2 -1.5,2.1 -1.1,2.4 -.5,2.6M620.9,174l1.3,2.3M658,177.3l-2.1,1.5 -1.6,2M316,168.6l-2,1.6 -2.5,.9 -2.5,.6 -2.6,0M580.5,144.2l-1.1-2.3 -.7-2.5M936.5,114l-1.9,1.8 -2.4,.9M652.1,220.1l-.8,2.5M404.5,167.5l2.4-1 2.5-.7M612.7,134.1l-2.6,.2 -2.5,.4M788.6,226.8l2.6-.3 2.5-.5 2.6-.1M797.1,229.6l-1.4-2.2M133.5,132.6l2.6,.2M407.3,179l2.6-.2 2.6-.3M831.8,295l-1.8-1.8 -1.4-2.2 -1.7-2 -1.5-2.1M828.6,291l1.5-2.1M924.6,115.6l2.3,1.2M835,274.6l1.6,2.1 1.6,2M881.1,268.2l-2.4,.8M590.7,139.9l-.6-2.5M1005.6,423.7l-2.2-1.3M866.4,326.2l-2.6-.2M561.9,285.2l2.3,1.1M949.3,116.9l-2.6-.2 -2.5-.6M677.5,352.5l-1.4-2.2M907.1,214l1.6,2.1M886.3,382.7l-2.6-.3M255,219.2l-.6-2.6M542.4,225.3l-2.6,.4" stroke="#f6b9bd" stroke-width="1.6"/>
<path d="M605.4,281.5l1,2.4 .2,2.6 .7,2.5 1,2.4 .4,2.5 .5,2.6 .6,2.5 .4,2.6 .1,2.6 .2,2.6M609.8,299l2.5,.8 2.4,.9 2.6,.2 2.5,.7M610.3,304.2l2.5,.7 2.6,.2 2.3-1.1 2.4-1M262.7,167.6l-1.4-2.2 -1.1-2.3M716.8,130.9l1.9-1.8 1.4-2.1 .8-2.5M720.1,127l-.3-2.6 -.6-2.5M561.1,197.9l-1.5-2.1 -1.2-2.3 -2.1-1.5 -2-1.7M558.4,193.5l1.5-2.2 2.2-1.4M562.1,189.9l.9-2.4M651.8,351.8l.9-2.5 1-2.4 1.8-1.9M232.8,137.6l2.4-.8M667.8,341.9l-1,2.4 -1.3,2.2M549.2,152.3l2.4-.8M348.4,208.7l-2.2-1.5 -2.1-1.4 -2.3-1.3 -2.4-.9 -2.6-.6 -2.2-1.3 -2-1.7 -1.9-1.7 -2.2-1.4M339.4,203.6l-.1-2.6 -.1-2.6 .1-2.6 .6-2.6M339.2,198.4l2.3-1.3M334.6,201.7l-2.1,1.6 -1.9,1.7 -2,1.7M330.6,205l-2.6,.5M289.7,235.6l0,2.6 -.3,2.6 .3,2.6 .3,2.6 0,2.6 -.6,2.5 -1,2.4M289.4,240.8l.5,2.6 .7,2.5M890.7,186l-2.5,.7M821.3,262.6l2.5,.7 2.3,1.2 2.3,1.3 1.8,1.9M667,135.1l2.1-1.7 1.7-1.9M590.6,286.8l-2.5,.5 -2.6,.6 -2.3,1.1 -2.4,.9 -2.4,1.1 -2.6,.5M309.7,180l2.6-.4M586.7,140.3l-2.6-.2 -2.3-1.2M328.7,188.8l.7-2.5 1-2.4 1.4-2.3 1.7-1.8 1.6-2.1 .7-2.5 .9-2.5 1-2.4 1.3-2.2M337.7,170.3l2.6,0 2.5-.4M836.7,217.5l2.6-.1 2.5-.4 2.6,0M349.5,307.4l-.5,2.6M403.3,332.3l1.9,1.8M588,283.9l-2.6-.3M826,217.4l-.6,2.5 .2,2.6 1.4,2.2 1.7,1.9M828.7,226.6l2.3-1.2 2.1-1.5M859.7,303.1l2.2-1.4 1.9-1.8M646.6,317.4l-2.2-1.4 -2.4-1.1 -2.2-1.3 -2.6-.4 -2.6,0 -2.6-.4 -2.6-.1 -2.5,.1 -2.5,.9 -2.6,.5M629.4,312.7l-1.1,2.3 -.7,2.5 .2,2.6 .1,2.6M624.4,313.7l-2.2-1.5 -1.5-2 -1.3-2.3M620.7,310.2l-2.2,1.5M366,158.8l-2.3-1.2 -2.5-.9M708.1,124.6l.1,2.6 .3,2.6 .4,2.6 .6,2.5M709.5,134.9l-1.5,2.1M585.8,277.6l.1-2.6 -.1-2.6 .4-2.6 0-2.6 .7-2.5M585.8,272.4l-2.3-1.3M833.5,221.4l1-2.4 .2-2.6 -.5-2.5 -1.1-2.4 -1.1-2.3 -1.4-2.2M833.1,211.5l1.5-2.2 .5-2.5 .9-2.4 1.2-2.4M835.1,206.8l2.2-1.3 2.2-1.5M389.7,320.2l-2.5,.6M803.3,136.6l2.5,.6 2.5,.7 2.4,1.1 2.5-.2 2.6-.4 2.6-.5 2.5-.5 2.6,.1 2.6-.3 2.6,.4 2.6,0M810.7,139l-.4,2.6 -.3,2.5 -.3,2.6 -1.3,2.3M808.4,149l-2.6,.1M815.8,138.4l1.8,1.9 1,2.4 1.4,2.2 1.2,2.3 .4,2.6 .4,2.6M818.6,142.7l-1.2,2.3 -.7,2.5 -.8,2.5M820.9,137.4l2.5,.7 2.6,.5 2.5,.4 2.6,.7 2.4,.8M828.5,139l1.7,2.1 1.6,2M826.1,137.2l1.6-2.1 1.9-1.7 2-1.7M829.6,133.4l2.6,.2M569.2,265.8l2.5,.6M866,290.3l.4-2.6 .5-2.5M582.8,274.8l1.5,2.1M847.9,157.1l-2-1.7M772.9,244.4l-.3,2.6 -.6,2.5 -1.1,2.4 -1.6,2 -2.2,1.5 -1.8,1.8 -2,1.7 -2.5,.8 -2.3,1.2 -2.6,.4M760.8,259.7l-2.2-1.4 -2.3-1.2 -2.2-1.4 -2-1.6M756.3,257.1l0-2.6 .8-2.5M437.7,319.5l1.1-2.4M537.1,283.9l1.7,2 2.2,1.4 1.8,1.8 2,1.7M541,287.3l2.1-1.6M600.5,260.9l-.8,2.5 -.8,2.4 -1,2.4M598.9,265.8l-2.6,.7M746.7,239.1l2.3-1.3 2.5-.9 2.3-1.2 2.3-1.1 2.3-1.2 2.6-.3 2.5,.8 2.1,1.4 1.6,2.2M763.5,233.9l2.1-1.4 2.4-1 2.5-.8 2.6-.4 2.5-.7M768,231.5l2.5,.8 2.6-.5M326,224.8l2.6-.1M633.5,378.9l1.2,2.3 1.4,2.2 1.6,2.1M636.1,383.4l2.5-.6 2.6-.4M873,145l.3-2.6 -.3-2.6 -1.3-2.2M300.5,167.8l-2.3-1.2 -2.3-1.1 -2.4-1 -2.4-1 -2.3-1.3 -2.2-1.4 -2.1-1.5 -2-1.7 -2.3-1.1 -2.4-1.1 -2.1-1.5 -2.2-1.3 -2.4-1.1M293.5,164.5l-1.6,2.1 -1.9,1.8 -1.3,2.2 -1.5,2.1 -1.9,1.9M287.2,172.7l.4,2.6 1.6,2M271.1,151.5l-1.9,1.8 -1.4,2.2 -1.1,2.4 -1.7,1.9M267.8,155.5l.9,2.5M314.1,223.8l-1.3-2.3 -1.1-2.4 -1.1-2.3 -1.6-2 -2.1-1.6M309,214.8l-2.5-.8 -2.6-.2M927.5,126.1l2,1.6 2.1,1.6 2.1,1.5 2.3,1.3 2.2,1.3 2.3,1.3 2.5,.3M931.6,129.3l-.2,2.6M938.2,133.4l.7,2.5 1,2.4 1.2,2.4M941.1,140.7l-1.1,2.3M133,145.3l2.5-.6 2.6-.4 2.5-.7 2.5-.5 2.6,.1 2.1,1.5M138.1,144.3l1.1-2.4M143.1,143.1l1.5-2.2 1.6-2 1.8-1.8M147.8,144.7l-.3,2.6 0,2.6M147.5,149.9l1.6,2.1M644.9,128.5l-1.2,2.3M370.2,327.2l1.1-2.3 1.7-2 1.5-2.1 1.9-1.8 2.1-1.5 2.3-1.2 2.4-1.1 2.2-1.3M373,322.9l2.6,.4M376.4,319l-.1-2.6 -.1-2.6 -.8-2.5M375.4,311.3l1.9-1.8M383.2,315.2l2.3,1.1 2.2,1.4 2,1.7M387.7,317.7l0,2.6M346,227.9l2.4,.9 2.2,1.4M386.1,128.6l.4-2.6 .7-2.5M765.7,273.7l1.6-2.1 1.2-2.3 1.7-2M768.5,269.3l-1-2.4M609.6,335.4l2.6,.6M201,144.8l1.6,2.1 1.6,2 1.7,2M241,165.8l1.7-2 1-2.4 1.4-2.2 .8-2.4 .7-2.6 1.4-2.1 2-1.6 2.1-1.6 2.3-1.2M887.6,145.9l-1.9-1.8 -1.3-2.2M723.5,157.3l-2.1,1.6 -2.3,1.2 -2.1,1.5 -2.2,1.4 -1.8,1.9 -2.2,1.4 -2.1,1.5 -2.2,1.3 -2.6,.6M938.1,319.6l2.5-.4 2.6,.1 2.6,.1M943.2,319.3l1.3,2.3 2,1.6M352.6,211.3l.5,2.5 .3,2.6M649.9,292l-1.1-2.3 -1.4-2.2 -1.4-2.2M646,285.3l-2.5-.6M344.6,190.3l-1.5-2.1 -1.9-1.9 -1.8-1.8 -1.2-2.3 -1-2.4 -1-2.4 -.3-2.6 -.8-2.5 0-2.6 -1.1-2.3 -.4-2.6 -1.3-2.3 -.8-2.4 -.8-2.5M335.1,172.3l-1.9-1.7 -2.6-.7 -2.5,.2 -2.6-.1 -2.6-.2M328.1,170.1l.4,2.5 .2,2.6M322.9,169.8l-2.2-1.4 -2.4-1.1M333.6,164.8l-2.6,0 -2.6,.4 -2.3,1.2 -1.5,2.1M364.5,291.3l2.1,1.5 2.2,1.3 2.4,1.1 2.2,1.4 2.5,.8M373.4,296.6l.8,2.5M661.6,338.9l2.6-.1 2.6-.3M870.4,223.9l.9,2.4 1.4,2.2 0,2.6 .3,2.6 .1,2.6M872.7,228.5l-1.3,2.3 -.1,2.6 .1,2.6M947.5,414.4l-2.6,.6 -2.1,1.5M275.4,150.3l-.9-2.5 -1-2.4 -.1-2.6 .1-2.6M419.5,373.6l.7,2.5 1,2.4M869.4,216.4l-2.3-1.2 -2.4-1 -2.6-.2 -2.6,.2 -2.6,0 -2.6,.1 -2.6,.4 -2.6-.2 -2.5,.2 -2.6,.1M854.3,214.3l-.6-2.6 -.4-2.5 .4-2.6 1-2.4 .4-2.6M849.1,214.5l-2.1,1.4 -2.2,1.4 -1.5,2.2 -1.6,2M421.9,301.9l1.7-1.9M737,132.9l2.6,.3 2.5-.9 2.5-.5 2.6-.6 2.5-.3 2.6-.1 2.6,.1 2.4-1.1 2.5-.6M747.2,131.2l.8-2.4 .8-2.5 0-2.6 -.2-2.6M748.8,126.3l-2.3-1.1 -2.6-.2M757.3,129.8l.9-2.4 .7-2.5 1.1-2.4 1.3-2.2M541.3,197.7l2.2,1.2M780.7,137.8l-2.6-.1 -2.6,.1 -2.5-.8M202.4,145.6l-1.2,2.3 -1.9,1.8M772.4,261l-.9-2.4 -.4-2.6 -.2-2.6 .4-2.6 .6-2.5 1-2.4 1.6-2.1 1.5-2.1 2.2-1.3 2.3-1.2 2.6-.4 2.6-.2M771.1,256l-1.3-2.3 -.3-2.5 -.2-2.6 1-2.4 1.1-2.4 1.1-2.4M769.3,248.6l1.6-2.1M772.9,245.9l2.3-1.3 2.3-1.1 2.2-1.4 1.5-2.2 1.4-2.2 1.5-2.1M777.5,243.5l1.9,1.7 2.4,1.1 2.4,.9M784.1,235.6l-.6-2.5 -.5-2.6M671.5,180.6l-.5-2.5 -.7-2.5 -.7-2.5M670.3,175.6l-2.5-.6M716.5,207.6l2-1.7 2.4-.9 2.5-.8 2.4-1M827.1,254.5l.3,2.6 -.3,2.6 -.1,2.6 .6,2.5 .5,2.5 1.3,2.3 .2,2.6M827.1,259.7l1.7,1.9 1,2.4M270.6,165l.8,2.5 1.2,2.3 .9,2.5 1.6,2.1M273.5,172.3l2.6,.2 2.1,1.5M278.2,174l-.8,2.5M541.5,288.9l-2.3,1.2M382.6,341.4l1.9-1.8 2-1.6 2.2-1.5M796.9,120.5l-.7,2.5 1.2,2.4M318,140l-2.6,.4 -2.2,1.4 -2.5,.8 -2.5,.8 -2.5,.7 -2.6-.1 -2.6-.2 -2.5-.6 -2.4-1M300.5,143.8l-1.5-2.1 -1.5-2.1M362.9,305.4l2.1,1.5 2.2,1.4M628,140.9l.2-2.6 -.3-2.5M924.4,310l-.6,2.5 -.6,2.6 -.9,2.4M923.2,315.1l-2.6,.6M295.2,226.2l1.5,2.1 1,2.4 1.7,2M407,365l1.1-2.4 -.1-2.6 -.1-2.6 1.4-2.2 1.8-1.8M669.3,278.4l-1.9,1.7 -2.2,1.5 -2.4,.8 -2.6,.5 -2.3,1.1 -2,1.7 -2.3,1.2 -2.5,.6M653.6,286.9l-2-1.7 -1.2-2.2M662.7,286.6l-2.2,1.5 -2.4,1 -1.9,1.8 -2.2,1.3 -2,1.7M658.1,289.1l-1.4,2.1 -1.3,2.3 -1.4,2.2M159.2,130.4l1.2,2.3 .9,2.4 1,2.4 1.2,2.4 .7,2.5M162.3,137.5l2.6,.2M603.4,323.5l-1.5-2.1 -2-1.7 -1.8-1.9 -2.5-.4 -2.6-.5M598.1,317.8l1.7-2 2.1-1.6 2.2-1.4M601.9,314.2l-.8-2.5M602.7,310.8l1.3,2.2M288.9,187.5l1.7,2 .8,2.5 1,2.4 .7,2.5 .2,2.6 -.2,2.5 -.4,2.6 -.4,2.6 -1,2.4 -.5,2.5M292.4,194.4l-1.3,2.2 -2,1.7 -2.1,1.5 -2.3,1.3M802.8,238.4l-.4,2.5 -.6,2.6M395.4,304.1l-1.1,2.4 -1.5,2.1M316.6,156.9l.4-2.6 -.2-2.6 .1-2.6M755.5,214.1l-2-1.7M368.5,158.2l-2.5,.9 -2.5,.4 -2.5,.7 -2.6,.4 -2.4,.9M821.9,158.3l-2.6-.3M848.3,240.7l-2.3,1.1 -2.1,1.6 -2,1.6 -1.9,1.9 -1.8,1.8 -1.7,2 -1.6,2 -1.4,2.2M836.5,250.7l-2.4-1 -2.4-1 -2.5-.7M303.8,128l-2.6,0 -2.6,0 -2.6-.6M636.5,139.9l.2,2.6 1,2.4M519.4,266.7l.2-2.6 -.3-2.5 .1-2.6 .7-2.5M297.8,151.9l2.6-.5 2.6,0 2.6,.4M834,246l-2.4-.7 -2.1-1.6 -1.4-2.2 -1.4-2.2 -1.8-1.9 -2.3-1.2 -2.3-1.2 -2.3-1.2M829.5,243.7l-2.6,.1 -2.5,.4 -2.6,0M824.4,244.2l-.9,2.5M600,320.1l.3,2.5M584.9,209.5l-2.4-1.1 -2.3-1.1M676,137l1.8,1.9 2.1,1.6M679.9,140.5l2.4-.8M891.9,188.2l1.2-2.3 .6-2.5M569.7,183.7l-2.2,1.4 -2.2,1.5 -2.2,1.3 -2.3,1.2 -2.6,.6M565.3,186.6l-1.7-2 -1.7-2 -1.9-1.7 -1.9-1.8M560,180.9l-2.4,1M133.9,144.3l2-1.6 1.9-1.8M137.8,140.9l.1-2.6M451.9,363.6l-2.4-.9 -2.1-1.5 -2-1.7 -1.9-1.8 -2.3-1.3 -2.3-1.2 -2.1-1.5 -2.3-1.3M441.2,356.4l1.2-2.3 2.1-1.6M444.5,352.5l-1.2-2.3M854.5,130.6l-2.1-1.6M701.9,157.6l.9,2.4 -.3,2.6M396.6,158.7l1.4-2.2 .6-2.6M849.4,235.7l.1-2.6 1.1-2.3 .8-2.5 1.2-2.3M851.4,228.3l2.6-.4M688.9,355l-1.5,2.1 -1.6,2 -1.7,2 -1.6,2.1M685.8,359.1l-2.3-1.2M682.5,363.2l1.4,2.2M330.9,193.3l-1.9,1.8 -1.3,2.3 -.6,2.5M327.7,197.4l-2.4-.8M365.8,158.6l-2.3-1.2 -2.4-1M141.7,127l-2.2-1.5 -1.8-1.8 -2-1.7M137.7,123.7l-.5-2.5M529.3,269.1l1.1-2.3 -.1-2.6 .2-2.6M925,311.6l-2.4-1 -2.4-1M299.5,149.9l.5,2.6M624.9,180.5l2.3,1.2 2.4,1 2.5,.5 2.6-.2 2.6,.1M632.1,183.2l1.1-2.3 .8-2.5M374.9,299.1l-.1,2.6 -.5,2.6 0,2.6M809.1,244.9l-2.6,.3 -2.5,.4 -2.6,.4M804,245.6l-.7,2.5M429.8,366.6l.1-2.6 -.5-2.6 -.1-2.5 -.3-2.6 -1-2.4 -1.5-2.1 -1.2-2.3 -1.9-1.8 -2.2-1.5 -2.2-1.3M426.5,351.8l0-2.6 .5-2.6 1-2.3M428,344.3l2.6-.3M423.4,347.7l-2.5,.5 -2.6,.3 -2.6-.6 -2.5-.7 -2.5-.6M410.7,346.6l-1,2.5 -.3,2.5M590.8,162.2l-1.8,1.9M306.2,138.8l-2.1-1.5 -2-1.6 -1.9-1.9M652.1,324.6l2.1,1.5 2.3,1.2 2.5,.8 2.2,1.5 2.1,1.5 2.2,1.4M656.5,327.3l2.1-1.6 2-1.7 2.1-1.5M926.3,208.1l1.1,2.3M834.2,167.7l2-1.6M272.5,156.1l-.9-2.5M642,348.5l2.6-.4 2.2-1.3M646.8,346.8l2.6,.3M908,305.1l1.7,2 1.7,2 1.2,2.3 1.5,2.1M951.7,380.9l-2.3,1.3 -2.4,.9 -2.6,.1M790.2,235.4l2.1,1.6 1.8,1.9 1.9,1.8M794.1,238.9l2.3-1.2 1.7-1.9 1.5-2.1M799.6,233.7l2.4-1.1M1023.7,139.4l1.4-2.2M250.2,138.4l2.5-.2 2.6-.5 2.6,0 2.6-.3 2.4-1M255.3,137.7l1.5-2.1 2.1-1.6M835.7,270.8l-.2-2.6 0-2.6 1.4-2.2 .5-2.6 .7-2.5 .7-2.5M838.1,258.3l-1.7-1.9 -1-2.5M835.4,253.9l.6-2.5M602.4,131l-1.2,2.3 -1.3,2.2 -1.5,2.2 -2,1.7M596.4,139.4l-2.5,.6M614.3,386.5l-2.6-.2 -2.6,0M716.1,148l1.4,2.1 2,1.7 2.3,1.3M721.8,153.1l2.5-.6M754,131.9l1.8-1.9M357.1,190.3l.7,2.5 .3,2.6 1,2.4 -.1,2.6M358.1,195.4l-1.8,1.8 -2.5,.8 -2.5,.8M588.2,287.9l-1.2,2.3 -1.7,2M374.3,325.2l2.6-.4M454.5,315.4l-2.6,0M1020.1,136.3l-.2,2.6M633.9,265.8l-1.1-2.4 -1.3-2.3 -1.3-2.2 -.8-2.4 -1.8-1.9 -2.4-1M631.5,261.1l1.9-1.8 1.4-2.2 .8-2.4M569.4,192.4l-1.8,1.9M381.9,294.7l-1.2-2.3 -1.2-2.3 -1-2.4M305.6,253.3l-1.4,2.2 -1.8,1.9M828,251.2l1.4,2.2 1.7,2.1 1.3,2.2 .6,2.5M976.5,155.7l-2.4,1 -2.3,1.2 -2.5,.6M971.8,157.9l-2.4-.8M861.1,193.9l-2.6-.3 -2.4-1 -2.6-.4M660.3,142.8l-2.5-.9 -2.5-.5M575.8,164.2l.9,2.4 .8,2.5 .8,2.5 .6,2.5 .2,2.6 .8,2.5 1.3,2.2M577.5,169.1l2.5,.8M578.9,174.1l-2.5,.8 -2.4,1.1 -2.4,1M376.2,411.5l-2.3-1.1 -2.1-1.5M744.8,140.5l2.1-1.5 2.2-1.4M649.7,202.8l2.2-1.5 2.2-1.3 2.5-.8 2.1-1.4M831.4,252.9l1.2,2.3 1.2,2.3M833.8,257.5l-1.4,2.2M591.6,298.7l2.5,.8 2.6,0 2.6,.2M596.7,299.5l1.2,2.3M107.4,131.7l-1.7-2 -2.3-1.2M103.4,128.5l-2.1,1.5M638.4,376.9l-1.1-2.4 -1.4-2.2 -1.4-2.2M663.9,281.6l-1-2.4 0-2.6 -1.5-2.1 -1.5-2.1 -1.5-2.2 -2-1.7 -2-1.6M661.4,274.5l.7-2.6 .1-2.6 .2-2.5M658.4,270.2l1-2.3M1001.4,144.7l2.6-.4 2.4-1M763.4,265.8l-2.6,.1 -2.6-.3 -2.5-.6M684.6,257.6l2.5-.6 2.5-.8 2.5-.5 2.5-.9M311,156.4l2.6,.2 2.4,1M932.1,316.2l.1,2.6 -.4,2.6 -1.9,1.8M931.8,321.4l1.9,1.8 1.8,1.9M861,234.7l2.6,0M338.7,214l1.9,1.8M626.8,189.4l-2,1.6 -2,1.7 -2.3,1.1 -2.3,1.4 -2,1.6 -2,1.7M622.8,192.7l.5,2.5 .7,2.5M618.2,195.2l-2.5-.5 -2.6-.1M614.2,198.5l1.1,2.4M442.6,321.7l-2.6,.3M439.9,335.3l-.3,2.6 .2,2.6 .8,2.4 2,1.7 2.5,.9 2.5,.4 2.6,.6 2.4,.8 2.5,.8 2.5,.6M439.8,340.5l2.3,1.2 2.4,1.1 2.5,.5 2.6-.3 2.6-.4 2.4-.8 2.5-.8M444.5,342.8l2.3-1.3 2.4-.9M445.1,345.5l1.9-1.7 2.2-1.4 2.3-1.1 2.5-.8M451.5,341.3l.2-2.6 -.1-2.6M452.6,347.3l1.5,2.1 1.9,1.8M456,351.2l2.6-.4M340.8,158.2l-2.6,.6 -2.6,.1M922.8,210.4l-2.6,.6 -2.5,.3 -2.6-.3 -2.6-.3 -2.6-.2M434.1,305l.1,2.6M428.7,303.3l1.3-2.3M427.9,384.2l.8-2.4 .5-2.6 .9-2.4M430.1,376.8l2.6,.2M743,145l1.9-1.7 1.8-1.9 1.3-2.2 1.5-2.2M1012,411.4l-1.7,2M910.5,182.5l.8,2.5 1.1,2.4M450.3,364l-.7-2.5 -.9-2.5M947.6,326.7l1.1-2.3M662.3,344.1l-1.5,2.1 -1.8,1.8 -2,1.7 -1.6,2.1M659,348l1.8,1.9M655.4,351.8l-2.5,.7 -2.4,1 -2.1,1.5 -1.9,1.7M343.4,191l-.4,2.6 .3,2.5 .1,2.6M618.8,302l.5-2.5M647.1,259.3l.4-2.6M790.2,171.5l2.6-.3 2.6,.3M861,294.5l2.4,1.1 1.4,2.1 1.6,2.1 1.6,2M643.2,348.5l.5,2.5 1,2.4 1.1,2.4M935,188.8l-1.8-1.9M978.6,137.3l-2.6-.6 -2.3-1.2 -2.4-1M428.8,375.5l-2-1.5M932.5,125.9l-1.5-2.1 -.8-2.5M581.7,144.1l-2.5-.6 -2.5-.5 -2.5-.8M161.7,140.4l-1.8,1.8 -.9,2.5 -1.2,2.2M252.9,158.3l-2.6,.1 -2.5,.3 -2.3,1.2 -2.2,1.5M859.7,296.2l1.5,2.1M996.5,123.9l-.6-2.5M599,257.7l2.2-1.4 2.1-1.6M667.5,186.6l2-1.6 1.7-2 1.5-2.1 1.7-2M671.2,183l2.6-.3 2.4-.9M394.3,277.8l1,2.4 1.4,2.2 1.1,2.3M660.4,160.8l-1.3-2.3 -.4-2.6 -.3-2.6M838.4,315.8l.3,2.5 .2,2.6M643.5,171.3l-.4-2.5 -.6-2.6 -.7-2.5 -.2-2.6M919.7,145.8l1.3-2.3 1.4-2.1 1.2-2.4 1.4-2.1M932.2,183.6l-.5,2.6 -.2,2.5 .9,2.5M943.5,322.9l2,1.7 1.9,1.8 1.9,1.7M832,169.6l.3-2.6M864.9,368.7l-2.5,.5 -2.1,1.6M328.2,205.5l-2.6,0 -2.5-.7 -2.4-.8 -2.6-.6 -2.4-.8M323.1,204.8l0-2.6M807.5,215.8l-2.4-.9 -2.4-1M334.8,271.6l2.5,.3 2.5,.9M695.9,214.6l-2.3-1.2M647,235.4l2.4-.9M551.4,287.3l0,2.6M770.3,127.1l-1.1-2.3M991.7,134.1l-1.7,1.9 -1.6,2.1 -2.1,1.5 -2.1,1.5M532.1,282.5l-1.1,2.4M554.7,163.5l1.1,2.3 1.3,2.3M333.7,217.2l-1.6-2.1 -1.9-1.8 -1.2-2.3 -1-2.4 -.5-2.5 -1.4-2.2 -1.6-2.1M880.8,284.2l2-1.7 1.7-2M533,284.8l1.2-2.3 1.9-1.8 2.2-1.4 2.4-.9 2.1-1.5 1.9-1.8 1.3-2.3M536.1,280.7l.4-2.5 -.9-2.5 -1.7-2M540.7,278.4l2.2,1.3M544.7,275.1l-1.1-2.4 -1.5-2.1M783.7,237.1l-2.6-.1 -2.5-.5 -2.6-.1M397.8,281.1l-1.1-2.4 -.8-2.5M396.8,157.1l-.8,2.5 -.7,2.5 -1.3,2.2M668.7,144.6l-1.5,2.1M657.7,315.4l-.4,2.5 -.1,2.6M929.3,394.1l2.3,1.1M387.1,333.5l-2.2,1.4 -1.4,2.2 -1.6,2 -2,1.7M383.5,337.1l-2.5-.8 -2.6-.1M379.9,340.8l-1.4-2.2M662.4,315.7l.6,2.6 .7,2.5M445.9,332.7l2.3-1.2M410.9,164.6l2.5,.2M554.5,160.1l-2.6-.3 -2.5-.6 -2.6-.6M791.5,207.1l2.5-.7M860.1,295.9l-2-1.7M709.5,156.2l1.7,2 1.8,1.9M936,187.9l2.6-.2M669.7,146.6l0,2.6M949.2,398.9l1.9,1.8M821.8,282.1l.9-2.4M942.1,410.5l.3,2.5M544.6,195.9l-2.6,0 -2.6,.5M791.3,237.5l-2.6-.3 -2.6,.3M545.9,277.7l-.6-2.5M819.4,297.3l2.5,.8 2.5,.5 2.6,.5M400.4,284.2l2.2-1.4M789.8,177.7l-2.5,.7M582.2,138.1l0,2.6M978.7,122l1.3,2.2 1.4,2.2 2.2,1.4M983.6,127.8l1.9-1.7 1.9-1.8M894.8,205.5l2.6,.4 2.6,.2M503.5,134l-2.5-.5M871.2,219.9l1-2.4 1.6-2.1M889.7,204.4l2.6,.2M518.2,133.7l-1.8-1.9 -2.1-1.6M582.8,158.8l2.4,1.1 2.6,0M587.8,159.9l1.3,2.3 1.1,2.3M874.8,117.6l.5-2.6 .5-2.5M297.1,251.3l-2.5,.4M327.3,251.5l.8-2.5M533.4,281.8l-2.1-1.5M793,235.2l1.9,1.7M300.1,202.3l2.1,1.6 1.6,2 1.4,2.2M676.9,354.7l-.7,2.5 -.7,2.5 -.3,2.6 -.1,2.6M675.1,364.9l1.8,1.9M855.4,323.8l-2.4-1.1 -2.4-1M357.7,249.8l2.6,.7 2.5,.6M558.8,286.9l2.5,.9M542,254.1l-2.5,.9M933.8,186.5l2.2,1.4M242.9,204.3l-2.6,.2M101.5,130.7l-2.2-1.3 -2-1.7 -2.2-1.5 -1.8-1.9M611.7,134.2l1.8,1.9M878.2,237.5l.3,2.6 .3,2.6 -1.2,2.3M128.4,130.4l-2.3,1.1 -2.4,1.1M721.8,179.7l2.5-.5M1022.9,409.8l-2.4-1.1M947.2,397.1l-2.2,1.3M926.4,395.6l1.3-2.2M933.5,166.4l-1.5-2.1M879.1,313.2l1-2.4M100.9,130.7l-2.3,1.2M333.7,111.9l-2.6-.5M923,164.7l2-1.7M345.7,279.3l-2.4-1.1 -2.4-.8M231.3,169.8l2.6,.5M773.4,286.4l.9-2.4M581.9,290.6l-2.6-.2 -2.6-.3 -2.5-.6M835.7,278.5l2.2-1.4 2.4-.9M903.1,221.2l1.8-1.8M593.6,190.2l-.8,2.5M878.1,241.6l-1,2.4M959.5,314.3l-.9,2.5M345.2,245.7l2.4-.9M926,162.8l-2.2,1.4M922.2,180.9l-2.5-.7M358.3,247.5l-2.6,.2M879.6,276l1.7-2.1M495.7,116.8l-2.3-1.3M698.2,115l2,1.7M151.3,153.5l2.6,.2M522.2,132.5l-.1,2.6M520.4,245.9l-2.5,.7M873.9,329.2l-1-2.5M356.8,140.6l2.6,.2" stroke="#f0686c" stroke-width="1.6"/>
<path d="M421.6,307.7l2.2,1.4 1.9,1.8 1.6,2 2.2,1.5 2.2,1.3 2.3,1.1 2.4,1.2 2.6,.3 2.5,.2 2.6-.1 2.6,.3M429.5,314.4l2.5-.4 2.6-.6 2.4-.8 2.4-1.1M437,312.6l2.6,.2 2.6-.2M434,316.8l2-1.7 1-2.4 1.2-2.3 .9-2.4M444.1,318.4l1.7-2 1.1-2.3 1.7-2M446.9,314.1l2.6-.6 2.3-1.2M884.5,194l-.9,2.4 -.3,2.6M390.4,294.8l1.6,2 1.4,2.2 1.7,2 2,1.6M393.4,299l2.6-.4M853.1,222.2l1.6-2 1.6-2 2-1.8M856.3,218.2l-.3-2.6 .1-2.6M646.8,132l1.8,1.8 2.1,1.5 2.2,1.5 1.9,1.8 2,1.6 2.3,1.2 2.2,1.5 1.8,1.8 2.2,1.4M661.3,142.9l2.4-1 2.3-1.1M606.6,286.5l-2.5,.6 -2.4,1 -2,1.7 -2,1.7M597.7,291.5l.3,2.5M608.3,291.4l2.5-.7 2.4-1 2.6-.5M383.3,298.6l2.4-1.1 2.3-1.1 1.7-2 1.3-2.3M384.5,294.2l1.2-2.4M397.1,280.7l.8-2.5 .9-2.4M257.6,181.2l-.7-2.5 .1-2.6 .8-2.4 1.7-2 1.9-1.8 1.3-2.3M738.3,165.8l.5-2.5 1.1-2.4 1.2-2.3 1.1-2.3M739.9,160.9l2.6,.1 2.5,.7M397.1,342.7l2.6-.2 2.5-.8 2.5-.8 2.6,.1 2.4,.9 2.1,1.5 2.1,1.6 2.2,1.3M402.2,341.7l2.1,1.5 1.7,1.9 2,1.8 2.1,1.5M408,346.9l-.2,2.5M407.3,341l1.3-2.3 1-2.4M409.6,336.3l2.6,.1M416.1,346.3l1.7-2 2.2-1.3 1.9-1.9M421.9,341.1l-.3-2.5M872.4,154.1l.4-2.6 .4-2.6 -.5-2.5 .1-2.6 -.1-2.6 -.6-2.5 -1-2.5 -1.3-2.2 -1.7-2 -1.5-2.1M872.8,143.8l-1.9-1.8 -2-1.7 -2.1-1.5M871.1,136.2l-2.1-1.5 -2.4-.9 -2.4-1.1M866.6,133.8l-2.5,.7M218.5,123.7l2.3,1.2 1.5,2.2 1.5,2.1 1.5,2.2 1.7,1.9 1,2.4 .4,2.6 .2,2.6 -.1,2.5M222.3,127.1l-.7,2.5 -1.2,2.3M220.4,131.9l-2.3,1.2M221.7,135.1l1.3,2.3M228,135.7l2.4,.8 2.4,1.1 2.3,1.2 2.2,1.3M237.3,140.1l-.1,2.6 -.7,2.5M749.2,246.4l-1.6,2.1M781.2,157l2.6-.3 2.6,.3 2.5,.3 2.6,.5 2.6,.4 2.5-.6 2.5-.5 2.6-.5 2.6-.1 2.6-.2 2.6,.2M788.9,157.3l2-1.7 .8-2.4 1-2.4 1-2.4 .9-2.5M794.6,145.9l2.5-.7 2.6-.6M794.1,158.2l1.3,2.2 1.5,2.2 1,2.4M796.9,162.6l-.8,2.5M809.5,156.5l1.8-1.9 1.9-1.7 1.8-1.9M793.9,140.5l.5-2.6 .3-2.6 -.1-2.6 -.5-2.5 -.5-2.6M299,218.2l-1.7,1.9 -2,1.6 -2.4,1.2 -2.3,1.1 -2.5,.8 -2.4,.9 -2.6,.2M285.7,225.7l-2.6,.1 -2.6-.3 -2.6-.5M280.5,225.5l-2,1.7M736.1,201.6l2.4,.9 2.4,1.1 2.3,1.1 2.6,.2 2.5,.8 2.4,1.1M740.9,203.6l2.4-1 2.6-.3M745.9,202.3l.7-2.5M748.3,205.7l2.5-.6 2.4-.9M753.2,204.2l2.3,1.2M350.9,178.2l-1.3-2.2 -.8-2.5 -1.2-2.3 -1.7-2 -1.1-2.3 -.8-2.5 -1.5-2.2 -1.3-2.2 -1.9-1.7M347.6,171.2l-2.6-.3 -2.5-.4M342.5,170.5l-.6-2.6M342.5,162.2l.3-2.5M434.3,319.1l2.5-.6 2.4-.9 2.5-.7 2.6-.2 2.6-.2 2.5-.6 2.6,0 2.6-.3 2.6-.3 2.6,.4 2.1,1.5 1.5,2.1M454.6,315.6l1.1-2.4M461.9,317.2l2.6-.2M609.7,169.8l.2,2.6 -.8,2.5 -.7,2.5 -1.6,2.1 -2.2,1.4M609.1,174.9l-2.6-.1M604.6,180.9l-2.4-1 -2.1-1.6M600.1,178.3l-.9-2.4M914.6,163.5l-2.1,1.5 -2,1.7 -1.2,2.3 -.3,2.5 0,2.6M909.3,169l.7,2.5 .1,2.5M658.1,197.7l-.2,2.6 0,2.6 .9,2.4 .9,2.4 1.6,2.1 1,2.4 -.2,2.6 -.5,2.5 -.7,2.5 -1.1,2.4 -1.6,2M657.9,202.9l2.5,.3 2.5,.8M662.9,204l2.4-1M659.7,207.7l2.6,.5 2.6-.4 2.4-1 2-1.6M664.9,207.8l.5-2.5M669.3,205.2l-1.2-2.3M662.1,214.8l1.8,1.8 1,2.4 .8,2.5 .2,2.6 -.6,2.5M242.8,176.5l-1.8,1.9 -1.8,1.8 -1.9,1.8M239.2,180.2l-2.6,.5M242.8,187.8l-1.2,2.3M372.6,287l1.9-1.8 2.1-1.4M769.2,188.1l1-2.5 .7-2.5 .4-2.5 .8-2.5 -.2-2.6M772.1,178.1l-1.9-1.8 -2.4-1M767.8,175.3l-2.1,1.5M641,340.7l-2.6-.2 -2.6-.1 -2.5,.8 -2.3,1.2 -2.2,1.3 -2.3,1.2 -1.8,1.9 -1.4,2.2M635.8,340.4l-.5-2.5 -.2-2.6 -.1-2.6 -.1-2.6M635.1,335.3l2-1.6M628.8,343.7l-2.3-1.3 -2.5-.7 -2.5-.8 -2.3-1.2M621.5,340.9l-2.3,1.1M623.3,349l1.9,1.7 2.3,1.3 2.5,.6 2.6,.1M630,352.6l1.2,2.3M247,149l.5,2.6 -.3,2.6 -.5,2.5M900.3,189.2l-2.6-.1 -2.5-.5 -2.2-1.4 -2.3-1.2M895.2,188.6l-1.2,2.3M885.3,191.1l-2.1,1.4 -2.2,1.4 -2.5,.9 -2.2,1.4M828.4,265.8l-.8,2.5M867.4,217.5l2.6,.3 2.6-.1 2.6,.2 2.5-.7M875.2,217.9l1.4,2.2 1.2,2.3 1.8,1.8 1.3,2.3M327.3,188.3l-2.5,.5 -2.5,.8 -2.5,.7 -2.3,1.2 -2.5,.7 -1.9,1.7 -1.7,2.1 -1.9,1.7 -1.8,1.9 -2.2,1.4M317.5,191.5l-2.4-.9 -2.5-.9 -2.5-.4 -2.6,0M307.5,189.3l-1.1,2.3M313.1,193.9l-2.5-.8 -2.6,0 -2.5,.6M308,193.1l-1.1-2.4M305.5,201l-2.3-1.3 -1.8-1.8 -2.1-1.5 -2.3-1.2 -2.6-.1M301.4,197.9l-2.2,1.3M850.7,110.2l-1.3-2.2 -1.1-2.4M848.3,105.6l-2.4-.9M401,290.2l2.1,1.6 1.9,1.7 2.4,1 2.6,.3M410,294.8l.8-2.5M564.5,218.5l-.7,2.5 -1,2.4 -.8,2.4M562.8,223.4l-2.6-.2 -2.5-.8 -2.3-1 -2.5-.9 -2.1-1.5M557.7,222.4l-2.3,1.1 -2.5,.8M678.5,366.5l-1,2.4M635.8,282.9l1.1,2.3 .7,2.5 .9,2.5 .9,2.4 .6,2.6 .1,2.6 -.2,2.6M639.4,292.6l2.6,0 2.5-.6 2.3-1.3M858.2,242.1l2.3,1.2M426.4,375.7l2.5,.6 2.6,.5M607.1,359.5l-1.6,2.1M845.2,321.4l-2,1.6M295.1,203.9l1.2-2.3 1.6-2.1 .8-2.5 1.6-2 1.7-1.9 2.2-1.5 1.1-2.3 1.6-2.1 1.7-1.9 1-2.4M298.7,197l2.5-.5 2.5-.8M309.6,182.9l2.6-.3 2.6,.1 2.6,.1 2.6-.3M320,182.5l.8-2.5 1-2.4M400.2,320.2l2.6,.4 2.4,1.1 2.4,.9 2.5,.6 2.3,1.3 1.9,1.7 1.3,2.3 1.8,1.9M410.1,323.2l1,2.5 1,2.3 1.4,2.2M759.8,168.2l2.6-.3 2.6,0 2.5-.3 2.5-.8M272.7,142l1.3,2.2 1,2.4 1.1,2.4 1,2.4 1.1,2.3M275,146.6l2.1,1.6 2.1,1.4M278.2,153.7l-.8,2.5 .3,2.6M603.4,167.9l-2.5-.4 -2.6,.5 -2.6,.2 -2.6,.2 -2.6-.1 -2.5,.6 -2.5,.6 -2.6,0 -2.6,.3 -2.6-.4M593.1,168.4l-.9-2.5 -.9-2.4M585.5,169.5l-.1,2.6 .4,2.6 -.2,2.6M585.8,174.7l-1.9,1.7M410.6,306.4l-.4,2.6 -1.7,2 -1.7,1.9 -1.9,1.8 -1.9,1.7 -1.5,2.1 -.6,2.6 -1,2.4 -.8,2.5 -.8,2.4 -.5,2.6 -1.2,2.3 -.9,2.4 -.6,2.6 -.4,2.5M408.5,311l-.2,2.6 -.2,2.6 .2,2.6 .3,2.5 -.1,2.6 -.4,2.6M408.5,323.9l2,1.6 1.9,1.8 2.1,1.6M404.9,314.7l-1.2-2.3 -1.6-2 -1.5-2.2 -2.1-1.6 -2.2-1.4 -2-1.6M400.9,321.1l-2.6,.3 -2.6,.3 -2.6,.1 -2.5,.7 -2.6,.2 -2,1.6M395.7,321.7l-1.3-2.3 -1.4-2.2M388,322.7l-1.8,1.8 -1.4,2.2M399.1,326l-2.6,.1 -2.6,0 -2.5-.7 -2.2-1.4 -2.4-.9 -2.5-.9 -2.4-.9 -2.4-1.1M391.4,325.4l-.6-2.5 0-2.6 .3-2.6 .5-2.5M386.8,323.1l-2.4,1.1 -2.4,.9M381.9,321.3l-1.1-2.4 -1.3-2.3M397.8,331l-2.6-.4 -2.4-.9 -2.5-.9 -2.3-1.2M395.7,335.7l1.7,2.1 2.4,.9 2,1.6 1.9,1.8 1.9,1.8 1.2,2.3M399.8,338.7l-.8,2.5M394.7,340.8l1.3,2.3 1.2,2.3 1.6,2.1 1.5,2.1 1,2.4M841.8,217l1.1,2.4M395.3,333.8l2.2,1.4 2.4,1 2.1,1.4 1.7,2 1.5,2.2 .3,2.6M399.9,336.2l1.4-2.2 2-1.7M534.6,280.5l-2.6,.1 -2.5,.8 -2.6,.2M649.8,126.7l2.1-1.5 2.3-1.3M654.2,123.9l2.5,.4 2.6,.1M289.7,204.7l-1.4,2.2 -.9,2.5 0,2.6M287.4,209.4l1.7,1.9M589.6,292.5l2.5,.9 2.2,1.4 2.4,1 2.5,.7 2.6-.2 2.6,.3 2.4,1 2.5,.6 2.6,.6 2.5,.3 2.6-.1 2.6-.1 2.6,0 2.6,0M599.2,296.5l2.3-1.2 2.6-.1 2.6,.5 2.5-.6 2.6-.3 2.6,.3M604.1,295.2l2-1.7M609.2,295.1l1.2-2.3 1.2-2.3M609.3,298.2l2.2-1.4 2.4-1.2 2.4-.9 2.3-1.3 2.1-1.4M613.9,295.6l1.2,2.3M618.6,293.4l1.8,1.9 1.9,1.8 1.6,2M877.6,142.9l-2.4-.9 -2.2-1.4 -2.3-1.4M873,140.6l-.9-2.5M565.8,274.7l2.1,1.7 1.8,1.8 1.8,1.9 1.2,2.3 1.1,2.3M569.7,278.2l2.6,0M572.7,282.4l-2.2,1.4 -2.3,1.1M323.4,192l.2,2.6 .9,2.4 .7,2.6 -.5,2.5M324.5,197l-1.8,1.9M851.3,245.6l2.5,.9M632.8,315.7l2.4-.8 2.6-.2 2.5-.9 1.9-1.8 1.7-1.9 1.7-2 1.2-2.3 .7-2.5M640.3,313.8l2.3,1.1 2.2,1.5 2,1.6M646.8,318l2.6-.6M643.9,310.1l2.6,.5 2.4,1 2.5,.5 2.4,1.1M651.4,312.1l.9,2.4 1.2,2.4M646.8,305.8l-.4-2.6 -1-2.4 -1.2-2.3 -.3-2.6M368.5,311.6l1,2.4 .5,2.6M817,116.7l-1.8-1.9 -1.1-2.4 -.5-2.5 -.6-2.5 -.8-2.5M809.6,109.9l-2.4,.7M556.6,199l-2.1,1.5 -2,1.7 -1.9,1.7M550.6,203.9l-2.5-.6M943.8,146.3l2.5,.7M839.8,223.4l-1.8-1.9 -2-1.7 -2.3-1.1 -2.6-.5 -2.5-.5 -2.6-.3 -2.6,.1 -2.6,.3 -2.6,.2 -2.5,.7 -1.9,1.8M836,219.8l0-2.6 -.3-2.6 .1-2.6M835.7,214.6l1.6-2.1M831.1,218.2l-1.5-2.1 -1.5-2.1 -1-2.4 -2-1.6 -2.5-.7 -2.6-.1M828.1,214l.3-2.6 .2-2.6M825.1,210l-2.6,.2 -2.6,.4M820.8,217.8l-.4,2.6 -.4,2.6 -.3,2.6 -.3,2.5M815.7,218.7l-1.4-2.1 -1.3-2.3 -1.9-1.8 -1.2-2.3 -.4-2.6M812,249.5l2.1-1.6 2.1-1.5 2.3-1.2 2.1-1.5 2.4-1 2.6-.3 2.6-.1 2.6-.5M823,242.7l.7-2.6 .3-2.5 0-2.6 -.9-2.4M828.2,242.3l.3-2.6 .9-2.4M829.4,237.3l2.4-1M396.7,329.2l2.3,1.3 1.5,2M627.2,357.8l-2-1.7 -2.4-.9 -2.6-.3 -2.6,0 -2.6,.2 -2.5,.8 -2.2,1.3 -1.4,2.2M622.8,355.2l-1.7,2 -2,1.6M617.6,354.9l-1.9,1.7M795.1,156.3l1.7,1.9 1.8,2 1.8,1.8 2.1,1.5 2.5,.8 2.2,1.4 1.7,2 1.5,2.1 2.1,1.5 1.9,1.7M800.4,162l.1,2.6 -.5,2.5 -1,2.4M808.9,167.7l2.6,.2 2.6-.3 2.5,.3 2.6,.7M812.5,171.3l.3,2.6 -1,2.4 -1.8,1.9 -1.9,1.7 -2.2,1.4M810,178.2l.9,2.4 .6,2.5M720.7,140.7l0-2.6 -.3-2.5 .2-2.6 -.1-2.6 -1.1-2.4 -.5-2.6M720.4,135.6l2.1-1.6 2.6-.2 2.6-.3 2.6,.2M727.7,133.5l1.2-2.2M754.6,156.1l.7,2.5 .3,2.6 -1.2,2.3 -.5,2.6 -1.2,2.3 -1.3,2.2 -2.1,1.5 -1.8,1.9 -2,1.7 -2.5,.7M755.6,161.2l-1.9,1.8 -1.7,1.9 -1.6,2.1M751.4,170.6l-2.6-.2 -2.6-.1M746.2,170.3l-1.6-2M747.5,174l-2.6,.6M743,176.4l.4,2.6 -.1,2.6 .4,2.5 .2,2.6M743.7,184.1l-1.9,1.8M856.7,235.6l-1.9-1.8 -2-1.6 -2.2-1.5 -2.3-1.1 -2.6-.3 -2.6-.1 -2.5-.5 -2.5-.8 -2.3-1.3 -2.5-.6 -2.6-.4M848.3,229.6l.6-2.6 1.3-2.2 .9-2.5 .6-2.5 .9-2.4M840.6,228.7l-1-2.4 -.4-2.6 -.2-2.6 -.6-2.5M835.8,226.6l-.3-2.5 -.5-2.6 -.8-2.5M365.6,146.5l1.5-2.1 1.8-1.9M852.2,307.9l1.9,1.8 1.4,2.2M170.8,125.9l-1.6-2.1 -1.7-1.9 -2-1.8M167.5,121.9l-2.5,.6M905.7,220.1l-1.9-1.8 -2.3-1.2M858.3,310.7l.8-2.4 .2-2.6 .4-2.6 .2-2.6 0-2.6 .1-2.6M863.8,299.9l2.6,.1M859.9,297.9l-1.6-2M724.6,163.5l2.6-.1 2.6-.3 2.5-.6M732.3,162.5l1.2,2.3M432.4,329.8l1.1-2.3 .9-2.5 1.4-2.2 1.3-2.2 .7-2.5M434.4,325l-2.2-1.5 -2.3-1.2 -2-1.6M437.8,318.1l2.5-.5M690.3,341.9l2.6,.1M235.9,152l-2.5,.5 -2.6-.1 -2.6-.1 -2.4,.9 -2.2,1.5 -2.5,.5 -2.6,.3 -2.6,.3 -2.6-.4M221.1,155.2l-.1,2.6 -.7,2.5M215.9,155.8l-2.4-.9M868.3,292.3l-1.7,1.9 -1.7,2 -1.3,2.3 -1.1,2.3 -.6,2.5M864.9,296.2l.6,2.6 1,2.3M866.5,301.1l-1.6,2.1M379.1,329.9l-2.5,.7M222.2,146.2l2.4,.9 2.3,1.4 2.2,1.3 2.1,1.6 2,1.7 2.1,1.4 2.4,1.1M231.2,151.4l2.5-.5 2.2-1.4M777.3,164.2l1.8,1.9 1.5,2.2 1,2.3 .7,2.5 .7,2.5 .7,2.6M915.2,312.2l0,2.6M186.5,127.5l2.4-.9 2.6,.1 2.6-.3 2.5-.7 2.1-1.5M194.1,126.4l1.2-2.3M198.7,124.2l2.1,1.4 2,1.7M588.3,174.4l2.2,1.4 2,1.6 2.1,1.5 2.4,1.1 2.5,.9 2.5,.6M592.5,177.4l-.6,2.6 -1.6,2M594.8,170.3l1.6,2 2.3,1.3 2.1,1.4 2.4,1 2.2,1.4M228.7,130.8l.4,2.6 -.3,2.5 -.4,2.6 -.7,2.5 -.9,2.5 -1.7,1.9 -2,1.7 -2.5,.7 -2.5,.7 -2.3,1.2 -2.1,1.5M221.8,142.2l-1.5,2.1 -1.4,2.2 -.2,2.6M243.1,143.3l-2.4-1 -2.6-.3 -2.2-1.4 -1.7-1.9M938.3,141l2,1.6 1.9,1.7M389.4,416.3l-.6-2.5 -.5-2.6 -1.2-2.3M388.3,411.2l2-1.6M680.9,159.1l-2.6-.2 -2.4-.9 -2.3-1.1 -2.5-.8 -2.5-.7 -2.5-.7 -2.6,.4M666.1,154.7l-1.7,2 -1.4,2.2 -1.5,2.1M663,158.9l1.5,2.1M800.4,118.2l-2.5-.5 -2.5-.7 -2.5-.8M792.9,116.2l-1.3-2.2M630.4,321.1l-2.4-1M627.6,317.5l-2.5,.6 -2.5,.7M608.2,349.3l1.4-2.2 2.2-1.3 2.3-1.3 2.4-.9 2.6-.6 2.5,.3 1.8,1.9 1.6,2.1 .9,2.4 .5,2.5M616.5,343.6l.5-2.5 .3-2.6M623.4,345.2l2.5-.6 2.5-.7 2.6-.5 2.5-.6M628.4,343.9l1.8,1.9M626.4,352.2l2.4,1.2 2.5,.7 2.5,.3M631.3,354.1l1.8-1.8M614.7,306l.9,2.4 1.8,1.9 1.3,2.2 1,2.4 .4,2.6 1,2.4 .2,2.6 .4,2.6 .5,2.5 .5,2.6 1.3,2.2 1.3,2.2 1.4,2.2 1.6,2.1 1.1,2.4M617.4,310.3l-2.1,1.6 -1.4,2.2 -1.6,2.1 -1.8,1.8 -2.5,.8M613.9,314.1l.1,2.6 .6,2.6M620.1,317.5l1.9,1.7 1.7,2 2.3,1.2 2.4,1 2.4,1.1 2.3,1.2M623.7,321.2l-.2,2.6 .8,2.5 .5,2.5M630.8,324.5l2.3-1.2 2.6-.4 2.5-.6M622.7,330.2l-1.3,2.2 -2.2,1.4 -1.8,1.8 -2.1,1.7M617.4,335.6l1,2.4 .9,2.4M625.3,334.6l2.5-.8 2.6-.3 2.5-.6 2.6-.5 2.5-.4 2.6-.7M630.4,333.5l1.1,2.3M628.3,338.9l2.5-.7 2.3-1.1 2.5-.8 2.4-1.1 2.5-.6 2.5-.8 2.4-.8 2.6-.6M638,335.2l1.9,1.9 1.8,1.8 2.4,1M643,333.8l1.7-2 1.3-2.2M648,332.4l.9,2.4 1.4,2.2M406.8,326.6l-1.4,2.2 -1.4,2.2 -1.9,1.8 -2.1,1.4 -1.5,2.2 -1,2.4 -.6,2.5 -1.2,2.3 -.5,2.5 -.8,2.5 -.3,2.6 -.4,2.6M402.1,332.8l.2,2.6 -.2,2.6 -.3,2.5 -.2,2.6M401.6,343.1l-2.5,.7 -2.5,.5M398.5,336.4l1.1,2.3 1.7,2 1.7,2M396.9,341.3l.8,2.5 .4,2.5 -.2,2.6 -.9,2.5M397,351.4l1.4,2.1M393.7,353.8l1.8,1.8 1.7,2 .7,2.5M397.2,357.6l2.4-.9M971.9,123.6l-2.4,.9M868.6,138.6l2.3-1.2 2.3-1.3 2.4-.8 2.4-1 2.3-1.3M873.2,136.1l.1-2.6 -.3-2.5M880.3,133l2.3,1.2 2.4,1.1M608.8,342.2l2.3,1.3 2.2,1.3 2.3,1.1 2.1,1.6M617.7,347.5l1.9-1.9 2.2-1.2M590.7,279.5l-2.4-1 -2.5-.9 -2.5-.5 -2.2-1.5 -2.2-1.3 -2-1.6 -2.2-1.5 -1.5-2.1 -1.6-2 -1.8-1.9M586.2,267.2l-2.5-.4M571.6,267.1l.5-2.6 .7-2.4 .4-2.6 .5-2.6M389.4,177.3l-2.2-1.3 -2.5-.9 -1.9-1.7 -2.2-1.4 -1.8-1.9 -1.7-2 -1.2-2.3 -1.3-2.3 -1.5-2 -1.4-2.3M380.6,172l-.7-2.5 -.8-2.5 -1.2-2.3M379.1,167l1.2-2.3M371.7,159.2l-2.6,.1 -2.5-.2M366.6,159.1l-1.3-2.2M361.1,148.2l-.9-2.5 -1.1-2.3 -1.2-2.3M359.1,143.4l1.8-1.9M539.5,217.7l2.6-.1 2.6-.2 2.4-1 2.2-1.3M544.7,217.4l1.1,2.4M834.7,216.4l2.5-.7 2.6-.5 2.5-.3 2.4-1.2 2.2-1.3M846.9,212.4l-.1-2.6M652.2,298l2.3,1.1 2.4,.9 2.4,1 2.2,1.5 1.1,2.3 1.4,2.2 1.6,2M662.6,304.8l2.3,1.2 2,1.8M285.4,151l2.2,1.4 2.3,1.3 2.2,1.2 1.7,2 1.6,2 2.1,1.6 2.2,1.3M289.9,153.7l.7,2.5 .5,2.5M297.5,160.5l.2,2.6 -.3,2.6 -.6,2.5M297.4,165.7l-2,1.7M359,176.5l1.2-2.3 1.7-1.9 2.1-1.5 2.1-1.7 1.8-1.8 1.8-1.9 2.4-1M367.9,167.3l2.5,.8 2.5,.8 2.3,1.2M372.9,168.9l1.8-1.9M601,176.4l-2.5,.3 -2.6-.4 -2.5-.8 -2.3-1.1M591.1,174.4l-1.3,2.3 -1.4,2.1M587,180.8l-2.6,.4 -2.4,.8 -2.3,1.3M582,182l-.6,2.5M729.5,152.4l2.6,0 2.6-.1 2.5,.5 2.4,1 2.4,1.1 2.3,1.1 2.2,1.4 2.1,1.6 2.2,1.3 1.9,1.8M734.7,152.3l.6,2.5 1.5,2.1 1.9,1.8M750.8,160.3l.4,2.6 .5,2.5 .1,2.6M938.5,345.4l2.6-.5M393.9,317.4l-2.4,.9 -1.8,1.9M822,152.4l-1.4,2.2 -.3,2.6 -.1,2.6M881.5,178.2l-1.4-2.2 -.4-2.5 -.5-2.6 .1-2.6 .7-2.5 .8-2.4 .7-2.5 1.3-2.3 1-2.4 .5-2.6 -.5-2.5 -1-2.4M879.7,173.5l1.8-1.9 2.1-1.6 2.3-1M883.6,170l2.5,.5M881.5,160.9l-1.9-1.8 -2-1.7 -2.2-1.4 -2.1-1.4 -2.3-1.2M873.3,154.6l-2.5,.8M273.3,157.2l-2.5,.8 -2.4,1.1 -2.3,1.1 -2.6,.1 -2.6,0 -2.5-.8 -2.6-.3 -2.5-.7 -2.6,.3M268.4,159.1l-1.6,2 -1.8,1.9M265,163l-2.4-.9M260.9,160.3l-.6-2.5 -1-2.4 -1.2-2.3 -.1-2.6M259.3,155.4l-2.4-1M255.8,159.2l-1.4,2.2 -1.4,2.2 -1.1,2.3M322.6,197.4l-2.1-1.5 -2.1-1.6 -2-1.6 -1.5-2.2 -.4-2.5 -.6-2.5 -1.1-2.4M668.9,211.3l2.6-.6 2.3,1.1 2.6,.2 2.6,0M641.8,348.1l.4-2.6 1.5-2.1 1.1-2.4 1-2.4 1-2.4 .3-2.5 1.1-2.4 1.2-2.3 1.2-2.3M643.7,343.4l-1.2-2.3 -1.4-2.2 -2.2-1.5 -2.2-1.3M645.8,338.6l2.5-.5 2.6-.4 2.3-1.1 2.3-1.2 1.5-2.2M380.3,181.8l.5,2.6 .9,2.4M945.8,130l.7,2.5 .6,2.5 1.1,2.3M625.6,299.5l1.7,1.9 1.3,2.3 1.1,2.3 1.7,2 1.8,1.9 2.4,.9 2.6-.1 2.6-.4 2.4-.9 2.5-.6 2.5-.8 2.6-.1 2.5-.9 2.6,0 2.4-1M631.4,308l2.5-1 2-1.6 2.2-1.4 2.4-1.1 1.5-2.1 2.3-1.3 2.4-.9M644.3,299.5l-.1-2.6 -.5-2.5 -1.2-2.3M429.5,360.6l-2.4,.9 -2.3,1.4 -2.4,.8M804.2,247.6l2.5-.4 2.6-.5 2.5-.7 1.8-1.9 1.3-2.2 1.8-1.9 1.7-2 1.4-2.2 1.1-2.3 -.4-2.6 -1-2.4M809.3,246.7l1.5,2.1 1.1,2.3 1.3,2.3 1.3,2.3M816.7,240l-1.1-2.4 -.9-2.4 -.7-2.5 -.8-2.5 -.8-2.5M814.7,235.2l-2.3-1.2 -2.3-1.3M820.5,230.9l1.7-1.9 1.4-2.2 2.2-1.4 2.1-1.5 2.1-1.5 1.6-2.1M827.9,223.9l2.2,1.4 2.1,1.6M672.6,165.6l-2.5,.8 -2.6,.3 -2.6,.4 -2.5,.4 -2.4,1.1 -2.5,.8 -2.3,1.2 -1.3,2.2 -1.6,2 -1.8,2 -1.7,1.9 -1.9,1.8M664.9,167.1l-1.7,1.9 -2.1,1.6 -1.6,2.1M659.5,172.7l-2.6-.2M655.2,170.6l-2.5-.7 -2.4-1 -2.2-1.4 -2.5-.7 -2.5-.7M643.1,166.1l-.7,2.5M652.3,174.8l2,1.6 2.1,1.5 1.9,1.8M575.3,279.9l2.1,1.6 1.8,1.9 2.1,1.5 2,1.7M563.7,273.1l2.6-.2 2.3,1 2.4,1.1 2.2,1.4 2.4,1 2,1.6 2.3,1.3 2.5,.8 2.4,.8M571,275l2-1.6M854.3,142.2l-1.6,2 -.5,2.6 .2,2.5 0,2.6 0,2.6 .7,2.5 .1,2.6 -.1,2.6 .2,2.6 .4,2.6 0,2.6 .2,2.6M852.4,154.5l-2.4,1.2 -2.1,1.4 -1.3,2.3 -1.1,2.3M845.5,161.7l.1,2.6M853.2,159.6l2,1.7 2.1,1.6 2.1,1.5 1.6,2.1 1.9,1.8 1.7,1.9M864.6,170.2l2.5,.8 2.6-.3M853.3,164.8l2.3,1.2 2.2,1.4 1.9,1.8 2.3,1.2 2.1,1.6 2,1.6M857.8,167.4l2.6-.5 2.4-1 2.4-1M853.9,172.6l-1.9,1.8 -1.3,2.2 -.8,2.5 -.8,2.5M850.7,176.6l.8,2.5 .3,2.6M649.8,367.1l-2.4,1.1 -2.6,.4 -2.2,1.4 -2.2,1.3 -2.6-.3 -2.6,.1 -2.6-.3 -2.6-.2M644.8,368.6l-.6,2.5 -.6,2.6M635.2,371.1l-1.5-2.1 -1.5-2.2 -1.6-2 -1.8-1.9M632.2,366.8l-2.6,.3M263,127l-2.6,0 -2.6-.3 -2.6-.1 -2.5-.5 -2.6-.1 -2.6,.1M252.7,126.1l-1.2-2.3M247.5,126.1l-2.2-1.5 -2.1-1.6 -1.7-1.9M243.2,123l-2.2,1.3M384.3,315.5l-2.3-1.1 -2.5-.9 -2.1-1.4 -1.9-1.8 -1.9-1.8 -1.2-2.3 -.6-2.5 -.3-2.6 -.2-2.6 .1-2.6 .1-2.6M373.6,308.5l-2.5,.3 -2.6,.5M368.5,309.3l-1.1,2.3M371.5,301.1l1.8-1.9 1.9-1.8 2.3-1.1 2.5-.7M377.5,296.3l2.3,1.3M827.9,263.9l.8,2.5 .4,2.6 .4,2.6M829.1,269l-1.9,1.9M400.9,303.1l0,2.6 -.3,2.6 -.1,2.6 .2,2.6 .4,2.5 -.1,2.6 .8,2.5 .8,2.5 1,2.4 .5,2.5 .1,2.6M400.6,308.3l2.1,1.5 2.2,1.3 2.4,1 2.6,.5M401.8,321.1l2.4,1.1 2.1,1.5 1.8,1.8 1.8,1.9M406.3,323.7l1.9-1.8M404.2,331.1l2.5,.8M605.7,149.7l-2.2,1.4 -2.1,1.6 -1.6,2 -2,1.7 -2.5,.7M601.4,152.7l-2-1.7M755.9,261.3l-1.5-2.1 -1.3-2.3 -.3-2.5 -.7-2.5M629.4,134.7l1.3,2.3 1.5,2.1 1.8,1.9 2.2,1.4M428.8,324.2l2.5-.8M622,196l1.7,1.9M588.5,136.1l2.5,.7 2.4,.9 2.3,1.2 2.3,1.3 2.4,.9 2.5,.7 2.6,.2M602.9,141.8l1.7-1.9 1.5-2.2 .7-2.5M606.1,137.7l2.6,.1M659.5,314.8l2.6,.2 2.6-.3M718.5,167.7l.3,2.6M597.6,308.6l-.2,2.6 -.8,2.5 -.5,2.5 -.4,2.6 -.1,2.6 .9,2.4 1.1,2.4 .9,2.4 1.2,2.3 1.1,2.3M596.6,313.7l.7,2.5 .7,2.4 -.4,2.6 -.6,2.5 -.9,2.5M597.6,321.2l1.9,1.8 1.6,2.1M596.1,326.2l1.3,2.3 1.5,2.1M597.6,326.2l-.9,2.4M599.7,330.9l2.6,.6 2.5,.4 2.5,.9M724.8,142.2l2.5-.7 2.4-1.1 2.4-.9M353.5,317.8l-1.9-1.8 -2-1.7M873,165.4l-2.5,.8M878.8,260l1.4-2.2 .4-2.6M372.2,151.8l2-1.6 1.9-1.8M388.1,336l2.1-1.6 1.7-2M839,318.4l.9,2.4 1.7,2M715.9,135.1l1.9,1.8 2.2,1.4 2.3,1.1 2.5,.7 2.5,.9M724.8,140.1l2.3-1.2M636.8,269l1,2.4 .6,2.5 -.2,2.6 -.8,2.5 -.8,2.4 -.9,2.5 -1.1,2.3 -.9,2.5 -.8,2.4 -.7,2.6M636.6,281.4l1.7,2 1.7,2 1.1,2.4 .6,2.5M641.7,290.3l2.6,.1M634.6,286.2l1.9,1.7 1.3,2.3 2,1.6M639.8,291.8l2.6-.4M632.9,291.1l1.4,2.3 1,2.4 1,2.4M635.3,295.8l-1.1,2.4 -.5,2.5M868.9,198.9l2.6-.1 2.6-.1M779.9,229.1l-2.2,1.4 -2,1.7 -2.2,1.4 -2.4,.8 -2.2,1.4 -2,1.7 -1.1,2.4 -.9,2.4 -.5,2.5 .4,2.6 -.4,2.6 -.7,2.5M771.1,234.4l-1.2,2.3 -1.3,2.3 -1.6,2.1 -1.6,2 -1.5,2.1 -1.2,2.3M764.4,244.8l-2.6,.2 -2.6,.5 -2.5,.4 -2.6,.5 -2.5,.5 -2.5,.9M751.6,246.9l-1.6-2.1 -2.5-.7 -2.4-1M701.1,169.1l1.3-2.2M623.9,302l2.2,1.5 2.3,1.3 1.8,1.8 1.9,1.8 1.2,2.3 1.2,2.3 1.5,2.1 1,2.4 1.3,2.3 1.4,2.1 .9,2.5 .5,2.5 .9,2.5 .2,2.6M628.4,304.8l1.9-1.8 1.9-1.8 1.9-1.7 2.1-1.6M632.2,301.2l.1-2.6 .1-2.6M636.2,297.9l1.8,1.8M633.3,310.7l2.3,1 2.4,1.1 2.6,.5 2.5,.7M639.7,321.9l-.1,2.6 .3,2.6 -.5,2.6 -.2,2.6M641.1,326.9l-1.1,2.4 -.7,2.5M280.3,231.4l.9,2.4 1,2.4 1,2.4 .9,2.4 .7,2.5M283.2,238.6l2.2,1.3 2.3,1.3M755.9,245.8l.4,2.6 .1,2.6 .7,2.5 .9,2.5 .6,2.5M338.3,174l-2.5,.7 -2.4,1 -1.8,1.9 -1.9,1.8 -.4,2.6 -.1,2.5 -.6,2.6 -1,2.4 -.8,2.5M333.4,175.7l-.8,2.5 -.5,2.6 -1,2.3 -1.3,2.3M332.1,180.8l2.6-.4M329.8,185.4l-2.4-1M329.2,184.5l-2.2,1.5 -2,1.6 -2.2,1.4M327.6,189.5l1.3,2.3 .9,2.4 2,1.6 1.8,1.9M140.9,138.4l.2-2.6 -.5-2.6 .4-2.5 .8-2.5 0-2.6 -.4-2.6M624.4,296.9l-1.9-1.9 -1.6-2 -1.6-2.1 -.6-2.5 -.6-2.5 -.5-2.6 -.4-2.5 -.2-2.6 -.4-2.6M592.9,180.4l2.5,.6M637.9,171.9l-1.1-2.3 -1.9-1.8 -1.9-1.7 -2.1-1.7 -2.3-1 -2.5-.9 -2.6-.1 -2.6,.1 -2.2,1.4 -2.1,1.4 -2.6,.5 -2.6,.3M623.5,162.4l-1.7-1.9 -1.4-2.2 -.9-2.5M620.4,158.3l-2.5-.6M290.1,154.9l-2.4-.9 -2-1.6 -1.3-2.3M280.9,139.7l-2.6-.3 -2.4-.9 -2.4-1.1 -2.5-.7M271,136.7l-.4-2.6M256.6,187l2.2,1.3 2,1.7 1.3,2.3 .6,2.5 1.4,2.2 1,2.4 .6,2.5 -.2,2.6 -.2,2.6 -.2,2.6 -.4,2.6M262.1,192.3l-.7,2.5M903.9,337.6l1.1,2.3 .5,2.6 .8,2.5 .9,2.4 1.1,2.3M729.4,145.9l-2.3,1.2 -2.4,.9M875.3,306.8l-.8-2.5 -.3-2.5M969.5,140.8l-2.3-1.3 -1.8-1.8 -2-1.7 -1.6-2 -2-1.7 -2-1.6M961.8,134l-2.2-1.4M957.8,130.7l-2.3,1.2 -2.2,1.5M337.1,220.6l-2.5,.7 -2.6,.2 -2.6,.1 -2.6,.3 -2.6,.3 -2.3,1.2 -2.6,.3 -2.6-.1 -2.6,.2 -2.5,.5 -2.4,1.2 -2.4,1M329.4,221.6l-1.1-2.4 -1.2-2.3 -.6-2.5M327.1,216.9l1.3-2.2M324.2,222.2l-.8-2.4 -.8-2.5 -.1-2.6 -.5-2.5M322.5,214.7l-2.5-.7M311.7,219.1l1.3-2.2M309.2,225.5l-2.5-.5 -2.6,.6 -2.4,.9 -2.5,.8 -2.4,.9M304.1,225.6l-1.6-2M889.7,176.9l.8,2.5 0,2.6 0,2.6 -.5,2.5 -.3,2.6 .2,2.6 .5,2.6 .1,2.6 0,2.6M889.7,189.7l1.8,1.9 1.7,2 1.1,2.3 1.2,2.3M894.3,195.9l-1.9,1.7M890.4,194.9l-2.4,1 -1.9,1.8M890.5,200.1l2.6,.2M414.7,297.1l2.2,1.3 2.4,1.1 2.3,1.2 2.4,1 2.5,.5 2.6-.2M424,301.7l2.4-1.1 2.3-1.1M322.4,218.2l-1.4,2.2 -1.6,2.1 -1.3,2.2M319.4,222.5l-2.6,.1 -2.6,.3 -2.4,.8 -2.6,.6M314.2,222.9l-.2,2.6M708.3,127.9l-2.6-.3M660.4,138.7l.3-2.6 .7-2.5 .5-2.6M263.6,154.6l-2.5,.5 -2.6-.1 -2.6-.4 -2.4-.9 -2.6-.7 -2.3-1.1 -2.1-1.5 -2.2-1.5 -2.5-.7 -2.6-.2 -2.5-.7M255.9,154.6l-1.6,2.1 -1.9,1.8 -2.3,1.2 -2.4,1 -2.4,1M250.1,159.7l-2.5-.6 -2.5-.9M245.3,161.7l-2.4-1.1 -2.6-.4M250.9,153l-.4-2.5 -.3-2.6 1.1-2.4 .7-2.5M246.5,150.4l.6-2.5 .1-2.6 .5-2.5 .7-2.5 0-2.6 -.5-2.6M247.2,145.3l-2.1-1.5 -2.4-1.1M248.4,140.3l-1.6-2.1 -1.5-2.1M247.9,135.1l-2.1-1.5 -1.3-2.3M241.8,148.2l-.9-2.4 -.1-2.6M240.8,143.2l1.6-2.1M236.7,147.3l-2.3,1.2M799.6,115.7l1.6,2.1 1.6,2 .7,2.5 0,2.6 -1.2,2.3 -1.4,2.3 -1.4,2.1 -1.2,2.3M803.5,122.3l-.9,2.5 0,2.6 -.8,2.5M802.3,127.2l2.3,1.2 2.3,1.2M799.5,131.6l.6,2.5 .6,2.6 1,2.4M800.7,136.7l2.6,0M373.5,442.9l.5,2.5M788.5,127.2l1.3-2.3 1.6-2.1 1.3-2.2 1.5-2.1 2.3-1.2 2.4-1 2.5-.8 2.5,.7 2.1,1.5 2.1,1.5 2.2,1.4 2.5,.9M794.2,118.5l2.6-.3 2.6-.3M808.1,119.2l2.4-1.1 2.1-1.6M812.6,116.5l2.5,.7M729.5,182.5l1.4-2.2 1.2-2.3 1.3-2.3 1.3-2.2 2-1.7M373.9,316.9l-.6,2.5 -1.8,1.9 -2.5,.6 -2.6,.5 -2.6-.4 -2.6-.2 -2.5-.5 -2.4-1.2 -1.7-1.9 -1.2-2.3M353.4,315.9l1.3-2.3 .9-2.4 .7-2.5 .7-2.5 1-2.4M356.3,308.7l2.6-.4 2.4-.9M778.7,250.9l2.5,.9 2.5,.7M661.6,327.5l-2.5-.8 -2.5-.8 -2.4-1.1 -2.5,.3 -2.6,.6 -2.5,.6 -2.5,.6 -2.6,0 -2.5-.9M654.2,324.8l-.6-2.5 -1.1-2.4M649.1,325.7l-1.3-2.2 -1-2.4 -1.3-2.3 -1.1-2.3M641.5,326.9l-1-2.4 -.6-2.5M639.9,322l2.4-.8M381.9,135.9l-2.3-1.2 -2.4-1.1 -2.1-1.5 -2.4-1.2 -2.4-.8M377.2,133.6l-1.7,1.9 -2.2,1.4M337.1,168l2.5,.5 2.4,1.1 2.4,1.1 2,1.6 1.8,1.8 1.8,1.9 2.2,1.4 2.2,1.4 2.2,1.4 1.7,1.9M354.4,178.8l2.5-.7 2.5-.8 2.5-.5 2.6-.2M359.4,177.3l-.3-2.6 -.4-2.6M896.4,206.8l0-2.6M138,158.7l2.5-.7 2.4-.8 2.6-.4M639.9,277.1l-2.6-.2 -2.6-.4 -2.6-.2 -2.5,.4 -2.4,1M702.6,179.3l-2.6,0 -2.5-.3 -2.6-.2 -2.6-.2 -2.4-1 -2.6-.5 -2.4-.9 -2.5-.6 -2.5-.9M437.6,306.4l-2.1,1.5 -1.7,2 -1.3,2.3M433.8,309.9l1.5,2.1M809.2,150.3l-.1,2.6 .4,2.5 -.4,2.6 -.1,2.6 -.9,2.5 -1,2.3 -.9,2.5 -.3,2.6 .2,2.6 -.6,2.5 -.5,2.5M807.1,165.4l-2.6,.1M805,178.1l-2.6,.4M354.2,204.2l.2,2.6 0,2.6 -.7,2.5 -1.1,2.3 -1.6,2.1 -1.6,2.1 -1.4,2.2 -1.3,2.2 -.9,2.5 .2,2.6 .9,2.4M354.4,209.4l1.9,1.8 2.5,.6 2.6,.1M257.6,132.8l2.2-1.3M727.5,153.7l2.6,.5 2.4,.9 2,1.7 1.7,1.9 1.8,1.9M732.5,155.1l2.5-1M681.3,354.1l2.6-.3 2.6-.2 2.6-.1M836.6,170l-.4-2.5 .4-2.6 .2-2.6 .1-2.6 0-2.6 .2-2.6 .7-2.5 .5-2.5 1.1-2.4 1.8-1.9 1.6-2M836.8,162.3l1.9-1.8 1.6-2 1.1-2.4M837.1,154.5l1.5-2.1 1-2.4 1.2-2.3 1.2-2.3 .9-2.4 1.3-2.3M842,145.4l-1.4-2.2M838.3,149.5l2.6,.1M424,335.3l1.9-1.8 1.7-2 1.4-2.1 2-1.7 1.9-1.8 2.1-1.6 2.3-1.2 2.3-1.1M427.6,331.5l.2-2.5 .3-2.6 .9-2.5M429,323.9l2.4-1.1M439.6,322l2.3,1.2 2.1,1.6 2,1.6M444,324.8l-.6,2.5M189,127l.8-2.5 .9-2.5M935.4,316.5l-.9-2.4 -1.5-2.2M821.5,118l-2.2,1.4 -2.1,1.5 -2.4,1 -2.5,.6M814.8,121.9l-.5,2.6 -.6,2.5M806.4,145.2l2.6,.2 2.6-.3M343.4,174.5l-1.4,2.2 -.3,2.6 -.3,2.6M646.5,364.9l-2.4-.9 -2.2-1.4 -1.6-2M610.4,319.6l-1.1,2.3 -1,2.4 -1.3,2.2 -.6,2.6 -.4,2.5 -.4,2.6 -.7,2.5 .1,2.6M608.3,324.3l-2.6-.1 -2.5,.5 -2.4,.9M603.2,324.7l-1.4,2.2M606,331.6l1.9,1.9 1.7,1.9M751.8,225.9l-.8-2.5 -.6-2.5 -1.7-2 -1.9-1.8 -1.8-1.8 -1.9-1.8 -2.5-.9 -2.5-.4 -2.6-.6M748.7,218.9l-2.5,.5 -2.5,.6M743.7,220l-2.1-1.6M745,215.3l-2.5-1 -2.4-1M735.5,211.6l-1-2.3 -1.4-2.3 -1.8-1.8 -1.9-1.8M731.3,205.2l.1-2.6 1-2.4M246.6,154.2l2.3-1.1 2.5-.8 2.5-.6 2.3-1.1M251.4,152.3l.5,2.5 .8,2.5M256.2,150.6l2.6,.5M626,298.8l.9-2.4 1.7-2 1.6-2 1-2.4 1.1-2.4 .2-2.6 -.1-2.6 -.3-2.6 -.3-2.6 -1.2-2.2 -1-2.5 -1.6-2M628.6,294.4l-.5-2.6 -.5-2.5 -.8-2.5 -.8-2.4 -.5-2.6M626,284.4l-2.4,1.1M632.3,287.6l-1.8-1.9 -2.4-1 -2.5-.6 -2.5-.8 -2.5-.8M628,270.5l-2.6,0 -2.6,.2 -2.5,.5 -2.6,.1 -2.6,.1M620.3,271.2l-1,2.4M1001.5,127.4l.2,2.6M386,297.6l.5,2.5 -.1,2.6 .2,2.6 -.1,2.6 .6,2.6 .7,2.5 1.3,2.2 1.2,2.3M386.6,305.3l-1,2.4 -1.6,2 -.9,2.5 -.7,2.5 -.3,2.6 .2,2.6M940,136.8l2-1.7 1.4-2.1 1.2-2.3M330.8,211.1l-1.2,2.3 -1.3,2.2 -1.7,2 -2.2,1.4 -2.2,1.2 -2.2,1.5 -1.8,1.8 -1.9,1.8M328.3,215.6l-2.5,.6 -2.4,1M318.2,223.5l-2.5,.8 -2.1,1.6M313.6,225.9l-2.3-1.2 -1.8-1.8M966.9,142.9l2.4,1M917.6,312.2l.6,2.5M895.4,141.6l-2.1-1.4 -1.4-2.3 -1.7-1.9 -2-1.6 -2.2-1.5M891.9,137.9l1.3-2.2 2-1.7 2.3-1.2M888.2,134.4l-2.6,.5M713,164.9l.2,2.6 0,2.6 -.5,2.6M713.2,170.1l1.9,1.7M640.5,176.7l1,2.4M758.1,145.4l-1.1-2.3 -1.1-2.4 -1-2.4 -1.1-2.4M753.8,135.9l-2.6-.1M766.8,114.5l-2.6,.1 -2.5,.8 -2.6,.2M761.7,115.4l-1,2.4 -1.1,2.3M759.6,120.1l1.7,2M866.4,202.9l-2.5-.5 -2.6-.6 -2.5,.3M899.3,163.9l-1.6,2.1 -1.2,2.3 -1.6,2M858.1,196.2l-.6-2.6 -1.3-2.2 -.4-2.6 -.3-2.6 -.9-2.4M856.2,191.4l-2.5-.4M909.5,148.1l-2.2,1.4 -2.2,1.2 -2.2,1.4 -2.5,.8 -2.5,.7 -2.6,.1 -2.5,.6 -2.2,1.4 -2.4,1.1M541.1,265l-2.6-.1 -2.4-.9 -2.5-.7 -1.9-1.8M536.1,264l-2,1.7M531.7,261.5l-2.6-.5M939.9,379.4l-2.5-.9M365.7,292l.5-2.6 .6-2.5 .3-2.6 .5-2.6 .1-2.6 -.1-2.6M374.1,288.2l2.2-1.3M367.6,281.7l-2.5-.6 -2.6,.3M382.7,410.8l2.4,1 1.8,1.8 1.7,2 1.6,2.1M326.1,166.4l.7,2.5M330.7,157.6l2.2-1.4M660.2,349.1l-.2-2.6 .2-2.6 .6-2.5 .8-2.5 .9-2.4 .9-2.5 1-2.4 1.2-2.3M664.4,331.6l-2.2-1.3 -2.2-1.4 -2.2-1.4 -2.5-.7 -2.6,.2M660,328.9l1.2-2.4 .7-2.5M652.7,327l-2.3-1.3 -2.4-1.1M684.9,158.6l.7,2.5 1.1,2.4 1.3,2.3 1.4,2.1 1.1,2.4 1.7,1.9 1.8,2 1.6,2 1.8,1.9M688,165.8l2.5,.7 2.2,1.4M690.5,170.3l-2.4,1.2 -2.4,.8 -1.9,1.8 -2.4,1M685.7,172.3l-.1,2.6 0,2.6M615.7,193.8l-2.1-1.5 -1.8-1.9 -2.2-1.4M611.8,190.4l-2.4,1M858.2,233.2l2.5,.2 2.6-.2 2.6,.5 2.5,.7 2.6,.4 2.5,.3M863.3,233.2l.4,2.6 1.1,2.3 1.8,2M871,234.8l1.5,2.1M398.3,363.8l-2.6,.4 -2.5,.7 -2.6,.4 -2.6-.1 -2.5-.7 -2.1-1.5 -2-1.7M390.6,365.3l-1.2-2.3 -1.2-2.2M381.4,361.3l-2.5,.4 -2.5,.8M586.5,207.2l2,1.7M796.6,229.2l-2.5-.9 -2.3-1.1 -2.3-1.2 -2.3-1.2M791.8,227.2l-2.5,.7 -2.4,1.2M651.3,269l.3,2.6 -.1,2.6 -.9,2.5 -1.1,2.3 -.7,2.5 -1.2,2.3 -.5,2.6 -.8,2.5 -1.1,2.3M651.5,274.2l-2.3,1.2 -1.9,1.8 -2.2,1.3M647.3,277.2l-2.5-.8M406.3,351.2l1,2.4 .9,2.4M402,354.2l-2.4-.9M436.4,363.3l-2.5,.5M429.5,371.2l-2.6,.1 -2.6,.3 -2.4,1.2 -2.4,.8 -2.5,.7M424.3,371.6l-1-2.4 -.6-2.5M884.7,127.2l-2.6,.6 -2.3,1.2M879.8,129l-2.6-.1M661.4,344.8l2.5,.6M336.6,163.7l-2.4-1 -2.4-.9 -2.6-.5 -2.2-1.4 -2-1.6 -1.9-1.8 -1.1-2.4M331.8,161.8l-2.5,.9 -2.2,1.2 -2.3,1.4 -2.4,.9M327.1,163.9l-2.2-1.4 -1.8-1.9M618,170.8l-1.9,1.8 -1.8,1.9 -1.9,1.8 -1.8,1.8 -2,1.7 -2,1.6 -1.9,1.9M612.4,176.3l-2.5-.7M606.6,181.4l.4,2.6 .3,2.6M648.1,360.6l2.2,1.4 2,1.6M915,175.4l2.4-.8 2.4-1.1 2-1.7 1.9-1.7 2-1.7 1.9-1.8 1.2-2.3M778.2,160l-2.1,1.4 -1.6,2.1M774.5,163.5l.5,2.6 .1,2.6M380.5,180l.1-2.6 .2-2.6 .2-2.6 -.2-2.6M380.8,174.8l2.3-1.2 2.5-.6M623.1,154.6l1.5,2.1 2.1,1.6 1.7,1.9 1.2,2.3 1.2,2.3 .9,2.5 .9,2.4 1.4,2.2 1.5,2.2 .3,2.5 .8,2.5 1.1,2.4M635.5,174.1l-2.2,1.5 -2.5,.5 -2.4,1 -2,1.7M628.4,177.1l-2.6-.2M820.1,232l1.2-2.3 1.3-2.2 1-2.4 1.2-2.3 .6-2.6 .3-2.5 .8-2.5M823.6,225.1l2.6,.5 2.5,.8M828.7,226.4l1.5-2.1M825.7,217.7l2.4-1.1 2.1-1.5 2-1.6 2.3-1.3M832.2,213.5l2.6,.2 2.5-.6M706.8,155.5l2.3-1.4 2.2-1.3 2.1-1.5M711.3,152.8l.7-2.5M427.3,354.3l-.1,2.6 .6,2.5 .3,2.6 .6,2.5 1,2.5M429.7,367l-2,1.6 -1.4,2.2M927.4,321.3l-2,1.7 -1.5,2.1M793.6,152.7l.4-2.6 .5-2.5 .2-2.6 -.4-2.6 .2-2.6 .4-2.6 .4-2.5 .5-2.6 .1-2.6 -.9-2.4M794.5,139.8l2.4-1.1 2.5-.5 2.6-.5M799.4,138.2l1.3-2.3M705.4,187.7l-.7-2.6 -.1-2.5 .9-2.5 1-2.4 .6-2.5M705.5,180.1l-1.6-2.1M324.3,188.7l-.1,2.6 .4,2.5 .3,2.6M620.2,174.3l-1.4-2.2 -1.1-2.4 -1.3-2.2 -.4-2.6M616.4,167.5l2.2-1.4M306.9,153l2.6,.1 2.6,.3 2.5,.9 2.5,.7 2.5,.4 2.6-.3 2.6-.4M312.1,153.4l2-1.6 2.5-.8M363.8,187.6l2.5,.9 2,1.7 1.4,2.1 1.2,2.4M859.5,214.2l-.9,2.4 -.9,2.5 -1.5,2.1M857.7,219.1l-2.5-.6M853.7,206.6l2.3-1.2 2.1-1.7M902.6,218.1l2.6,0M586.8,178.6l-1.1,2.4 -1.2,2.3 -1.7,1.8 -1.4,2.2 -1.6,2.1M584.5,183.3l-.5,2.5M364,316.1l-2.3,1.2 -2.4,.8 -2.5,1M359.3,318.1l-1.5-2.1M582.2,139.3l1.9,1.8 1.7,2 1.9,1.7 1.4,2.2 1.3,2.2 1.7,2 1.8,1.9M590.4,149.2l2.4-1 2.4-1.1M595.2,147.1l-.2-2.6M1023.9,133.9l2.2,1.4M366,149.2l-1.8-1.9M399.8,287.6l-2.6-.3 -2.6-.3 -2.6,0 -2.6-.3 -2.6-.4M386.8,286.3l-1.2-2.3 -1.3-2.2M384.3,281.8l-2.6-.3M748.6,121.1l-2.2-1.4 -2.3-1.1M628.2,145.7l-.5,2.5 -1.1,2.4 -.6,2.5 -1.7,2 -1.5,2.2 -1.7,1.9M325.4,135.9l2.1-1.6 1.2-2.3 1.5-2.1 1.1-2.4M331.3,127.5l-1-2.4M625.8,336.1l.2,2.6 -.4,2.5M361.9,152.4l0,2.6 .6,2.6 .5,2.5 -.2,2.6M362.5,157.6l2.3,1.2M304.5,238.8l1.1,2.4M537.5,201.2l2-1.6 1.8-1.9 1.4-2.2M408.6,163.1l-2.5,.7 -2.4,.8 -2.1,1.6 -2.4,1 -2.5,.7 -1.9,1.8 -1.4,2.2M401.6,166.2l.4,2.6 -.4,2.5M764.3,241l-1.5,2.1M759.5,242.9l-1.1,2.4 -.8,2.5M606.4,315.8l1.7-2 1.7-2 1.3-2.3 1.6-2 .5-2.5 0-2.6M609.8,311.8l-1.6-2.1M705.5,209.3l-2.6,.1 -2.6-.5 -2.6,.4 -2.5,.5M778.2,240.4l-1.3-2.2 -.7-2.5 -.7-2.5M776.2,235.7l-1.7-2M370.2,173.8l2.5-1 2.6,.1 2.5,.6 2.4,.9M402.2,375.7l-2.2-1.2M848.3,206.3l2.1,1.5 2,1.7 1.8,1.9 2.1,1.5 2,1.7 1.9,1.8 2.3,1 1.8,1.9 2.1,1.6 1.8,1.9 2.2,1.3 2.2,1.5M852.4,209.5l-1.3,2.2 -.7,2.5 -.2,2.6 -.4,2.6 -.7,2.5M858.3,214.6l-.7,2.5 -1.3,2.3 -1.6,2M864.3,219.3l-1.5,2.1 -1.1,2.4 -1.5,2.1 -1.4,2.2M861.7,223.8l-2.6,.1M858.8,228.1l-2.3-1.3M872.6,225.6l.6,2.5 .7,2.5 -.3,2.6M155.2,140.3l-2.5-.5 -2.6-.4 -2.1-1.4 -2.3-1.3 -2.3-1.2 -2.6,0M145.7,136.7l-1.6,1.9 -1.2,2.4M142.9,141l-2.3-1.1M238.9,130.4l.4,2.5 .9,2.5M652.6,176.5l-2.1,1.5 -1.9,1.9 -1.9,1.7M646.7,181.6l-2.6-.4M424.3,333.2l-1.2-2.3 -1.2-2.3 -1.4-2.2 -1.3-2.3M420.5,326.4l.9-2.5M611.5,325.4l1.3,2.3 .9,2.5 1,2.4 .9,2.4 1.4,2.2M613.7,330.2l-1.1,2.3 -.8,2.5M611.8,335l-2.6,.1M264,138.6l-.9,2.4 -.2,2.6 .3,2.6 .8,2.4 1,2.5 .6,2.5 .6,2.5 .7,2.5 .3,2.6M890.7,170.9l2.2,1.4 1.7,1.9 1.9,1.8 2,1.7 1.7,2 1.6,2 1.7,2 1.6,2.1 1.5,2.1M894.6,174.2l.4,2.6 .3,2.6 .2,2.6M895.3,179.4l2.2,1.4M901.8,181.7l-1.6,2 -1.2,2.3 -1.1,2.4M905.1,185.8l2.6-.2 2.6,0 2.5,.4M912.8,186l-.2,2.6M827.6,264.8l-2,1.7 -1.3,2.2M594.9,349.1l2.4-.9 2.5-.5 2.4-1.2 1.3-2.2 1.5-2.2 1.2-2.2 1.5-2.2M599.8,347.7l2.1,1.6 1.9,1.7M673.2,201.6l-2.1,1.6 -2.2,1.4 -2,1.6 -1.8,2 -1.9,1.6 -1.4,2.2M661.8,212l-2.6,.1 -2.6,.5M767.8,159l-.5,2.5 -.7,2.5M811,217.4l1.8-1.8 1.7-2.1 2.2-1.2 2.1-1.5 2.4-1.2M814.5,213.5l2.5,.3M425.5,325.9l-2.5,.7 -1.9,1.8 -1.8,1.9 -2.5,.8 -2.2,1.3M421.1,328.4l1.9,1.9 1.4,2.2 1.6,2 1.5,2.1 1.6,2.1M424.4,332.5l-.1,2.6M429.1,338.7l.3,2.6M831.8,271.8l-1.8-1.8 -1.6-2.1 -1.6-2.1 -.8-2.4 -.9-2.5 0-2.6 .3-2.6 1.1-2.3M828.4,267.9l1-2.4 .5-2.6 .3-2.6M829.9,262.9l-1.8-1.9M844.2,132l2.6-.2 2.6,.1 2.4,.8 2.6,.5 2.2,1.3 2.3,1.3 2.3,1.2 2.2,1.3 2.4,1.1M854.4,133.2l1.1,2.3 1.3,2.3M382.4,306.5l1.9-1.8 1.3-2.2 1.3-2.3 2-1.7 2.4-1 2-1.7 2.2-1.2M385.6,302.5l2.6,.3M388.9,298.5l2.4,.9 2.5,.7 2.5,1M396.3,301.1l1.8-1.8M1011,130.1l2.5-.7 2.6-.1M208.5,137.8l-2.6,.6 -2.6,.2 -2.6-.1 -2.4,.9 -2.4,.9M203.3,138.6l-1.6-2.1 -1.6-2 -2.2-1.4M198.3,139.4l-.4,2.6M586,179.1l-.9-2.4 -1.1-2.3 -.4-2.6M372.8,193.3l-2.6,.4 -2.6-.2 -2.5-.2 -2.6-.3 -2.6-.2 -2.6-.3 -2.6-.2 -2.5-.7 -2.3-1.3 -2.1-1.4 -2.1-1.6 -1.8-1.8 -1.7-2.1M365.1,193.3l-1.4-2.3 -1.7-1.9 -1.5-2.1 -1.7-2M358.8,185l-2.4,1.2M357.3,192.5l-.5-2.6 -.2-2.6 .2-2.6 .4-2.5M356.6,187.3l-2.2-1.2M349.9,190.3l.7-2.5 1.4-2.2 1.4-2.2 2-1.6 2-1.7 2.4-1.1M352,185.6l-1.8-1.9 -1.5-2.1 -1.5-2.2M345.7,187.3l-2.6,.5 -2.5,.8 -2.3,1.1 -2.4,1M342.2,183.4l1-2.4 1.2-2.3 .8-2.5 1.6-2 1.2-2.4 .8-2.4M345.2,176.2l-2.3-1.1 -2.4-1 -2.3-1.3M287.9,139.5l-1.3,2.3 -1.8,1.8 -2.4,1.1 -2,1.6 -2.1,1.6 -2.3,1.2M278.3,147.9l.6,2.5 1.2,2.3M945.9,115.6l1.9,1.8 1.7,2 1,2.4 .6,2.5 .9,2.5M949.5,119.4l-.9,2.5M952,126.8l-2.2,1.3 -2.5,.9M971.6,123.5l-2.5-.7 -2.3-1.2 -2.5-.8 -2.6-.1 -2.5-.7 -2.1-1.4M907.5,159.7l-2-1.7 -1.9-1.7 -2.6-.2 -2.5,.7 -2.5,.5 -2.6,.2 -2.5,.9 -2.5,.6 -2.4,1 -2.2,1.3M903.6,156.3l.4-2.6M896,157.3l-1.7-2 -1.4-2.2M890.9,158.4l-2.6-.1 -2.5-.6 -2.6,.2 -2.6,.1 -2.5,.7M880.6,158l-1.5-2.2 -1.3-2.2M883.8,161.3l-2.6-.4M839.7,180.3l.8-2.5 -.1-2.6 -.1-2.6 -.7-2.5 -1.2-2.3 -1.8-1.9M840.4,175.2l-1.6-2 -.9-2.5M573.4,274.7l-2.5,.6 -2.5,.8 -2.4,.9 -2.3,1.2 -2.6,0M561.1,278.2l-1.5,2.1M347.9,210.4l-.6,2.5 -1.2,2.3 -.9,2.4 -.5,2.6 -.5,2.5 .3,2.6 0,2.6 -.4,2.6M345.2,217.6l-2.2,1.4 -2.4,1 -2.3,1.2 -1.3,2.2M338.3,221.2l.7,2.5M344.5,225.3l2.1,1.7 2.2,1.2M348.8,228.2l1.2,2.3M367.4,167l1.1,2.4 1.3,2.2 1.3,2.3 1.6,2 1.9,1.7 1,2.4 1,2.4 .7,2.5 .8,2.5M369.8,171.6l-.8,2.5 -.1,2.6 0,2.6M368.9,179.3l1.9,1.7M277.7,186.6l1.9-1.8 2-1.7 2.4-1 2.6-.3 2.5-.6 2.5-.8 2.4-1M284,182.1l2.3,1.2 2.4,1 2.5,.8M288.7,184.3l2.2-1.5M289.1,181.2l0-2.6 .1-2.6 .7-2.5M289.9,173.5l2.3-1.3M375.5,289.2l-1.9,1.7 -2.2,1.4 -1.6,2.1 -1.7,2 -1.3,2.2 -1.3,2.2 -1.3,2.3 -1.3,2.3 -2,1.6 -2.4,1 -2.5,.7M371.4,292.3l0,2.6 -.4,2.6 0,2.6 -.3,2.6M371,300.1l-1.9,1.8M368.1,296.4l-2.5-.3 -2.6,.3 -2.4,.9 -1.9,1.9 -2.1,1.4M363,296.4l-2-1.7 -2-1.8M365.5,300.8l-2.6,0 -2.6,.2 -2.6-.6M360.3,301l-1.5-2.1M356,308.7l-2.1-1.5 -2.4-1M828,296.7l2.6-.1M884.6,330.6l1.8-1.9M282.1,168.5l2.3-1.2 2.3-1.1 2.6-.4 2.6,.1 2.6,.4 2.5,.2 2.6,0 2.6,0 2.6-.4M291.9,165.9l.4,2.6 -.2,2.6 -.6,2.5M291.5,173.6l1.1,2.3M555.1,287.9l2,1.7M658.5,151l-2.4,1 -2.6,.6 -2.5-.6M651,152l-2.1,1.5M611.5,169.2l-.8,2.5 -1.5,2.2 -1.7,1.9 -1.7,2 -1.7,1.9 -2.1,1.6 -1.7,2M609.2,173.9l-2.5-.4M604.1,179.7l.2,2.6 -.3,2.6 -.7,2.5M600.3,183.3l-2.6-.5M719.4,143.3l-2.6-.5 -2.6-.4 -2.6-.1 -2.5,.6 -2.5,.5 -2.6,.2 -2.6,.2 -2.6-.1M178.3,128.7l2.1-1.5 1.5-2.2 .5-2.5 .9-2.5M181.9,125l-1.5-2.1 -1-2.4M638.7,145.8l.9,2.4 1.1,2.4 2,1.6 1.8,1.9 2.1,1.5M640.7,150.6l2.6,.2 2.5,.2M644.5,154.1l.3,2.6M420.5,176.7l2.5-.6M656.8,305.3l-1.7,2 -1.8,1.9 -2.1,1.6 -2.2,1.4M683.5,282.1l1,2.5 .8,2.4 -.2,2.6 -.2,2.6M685.3,287l2.5-.4M288.4,133.4l-.8,2.5 -.4,2.5 -.3,2.6M287.2,138.4l2.2,1.5M575.8,282.4l2.1-1.5 2-1.7M564.8,245.7l-2.6,0M660.2,282.9l.1,2.6 -.2,2.6M778.9,160.1l-1.2-2.3 -1.3-2.2M274.2,171.3l.7-2.5 .9-2.4 1.5-2.1 .9-2.5 1.2-2.3 .5-2.6 1.1-2.3 .9-2.4 1.3-2.3M275.8,166.4l-1.8-1.9 -2.5-.8M271.5,163.7l-2,1.7M278.2,161.8l2.1-1.6M279.9,156.9l-1.7-2 -1.2-2.3M859.7,296.7l-.9,2.4 -1.2,2.3 .3,2.6 1.3,2.2 1,2.4 1.1,2.4 1.8,1.9M859.2,306.2l-1,2.5 -1.4,2.1M948.7,328.5l-1.7-1.9 -1.9-1.7 -1.7-2 -1.8-1.9 -1.5-2.1 -1.7-2M941.6,321l1-2.3M666,161.8l2,1.6 1.7,2 1.9,1.8 2,1.6M669.7,165.4l2.5-.8 2.2-1.4M674.4,163.2l2.4,.9M858.1,129.1l-1.2-2.3 -1.5-2.2 -.5-2.5 -.2-2.6 .4-2.6 -.2-2.6 .1-2.6M855.4,124.6l-2.5-.7 -2.4-1 -2.5-.5M854.7,119.5l1.8-1.8 1.9-1.9M359.8,290.9l2.5-.8 2.5-.9M628.6,145.5l2.5-.8 2.5-.7M253.8,174.5l1.9,1.8 2.5,.7 2.4,1.1 1.9,1.7 1.9,1.8 1.9,1.8 2.5,.7 2.2,1.4 1.5,2.1 1.8,1.9 .7,2.5 1,2.4 .7,2.5M260.6,178.1l.8,2.5 -.3,2.5 0,2.6 .4,2.6M261.1,185.7l-2.1,1.6M266.3,183.4l-.8,2.4 -.4,2.6M540.4,256l-2.1,1.5 -2.4,1.1M372.1,169.9l2.3-1.2M384.1,429.7l-.6,2.5M804.3,232.1l.9-2.5 .9-2.4 1.7-2M754.7,235.2l-.3,2.6 -.2,2.6 -.1,2.6 -.6,2.5 -1.1,2.3M753.5,245.5l1.8,1.9 2,1.6M771.1,143.8l-1.6-2 -1.9-1.8 -1.8-1.9 -1.8-1.9 -2-1.6M973.9,129.4l.7,2.5 .7,2.5 1,2.4 1.5,2.1 1,2.4 2.4,.8M976.3,136.8l-1.7,2 -2,1.6 -2,1.6M978.8,141.3l2,1.6M814.7,234.7l-2.5-.7 -2.5,.7 -2.3,1.2 -2.3,1.3 -2.3,1.2 -1.9,1.7 -2.3,1.3 -1.9,1.8 -1.7,1.9 -1.9,1.8M809.7,234.7l-1.8,1.9 -2.1,1.5 -2.2,1.3 -2.4,1M793.1,246.9l-2.6-.4 -2.6-.3 -2.5-.3 -2.6-.4 -2.6-.4 -2.5-.6M415.6,315.3l2.6,.5 2.4-.8 2.6-.2 2.5,.8M420.6,315l-.2-2.6M206.9,139l-1.1-2.3 -1.7-2 -1.5-2.2 -1.3-2.2 -1.7-2M201.3,130.3l2.2-1.5 2-1.6M350.3,168.6l.7,2.5 -.2,2.6M379.4,174.4l-1.8,1.8 -1.8,1.9 -1.9,1.8 -1.9,1.8 -2.3,1.1M372,181.7l-2.4-1 -2.6-.3M367,180.4l-1.1-2.3M820.6,261.1l-2.6-.4M768.8,156.8l-1.4,2.2 -1.7,2 -1.1,2.3M769.6,230.5l-1.1-2.4 -1.6-2 -1.6-2.1M745.6,118.7l2.1,1.6 2.5,.8 2.1,1.6M689.8,129.1l1.4-2.1M939.6,143.9l-1.6-2 -2.4-1.2 -2.1-1.4 -2.5-.6M935.6,140.7l.2-2.6M931,138.7l-.9,2.4M574.9,182.1l2,1.7 2.2,1.4 1.9,1.8M764.7,260.8l2.5-.7 2.5-.5 2.5-.9 2.6,0 2.5-.6 2.1-1.6M772.2,258.7l1.1,2.4M315,222.3l-.9,2.4M580,167.7l-2.3,1.1 -2.5,.8 -2.1,1.5 -2.3,1.3 -2.4,1 -1.8,1.8 -2.2,1.4 -2.1,1.5 -2.4,1.1 -2.3,1.3M575.2,169.6l-2-1.7M564.4,176.6l-2.5-.8 -2.6-.5M559.3,175.3l-.2,2.6M559.9,179.2l-2.4-1 -2.5-.4 -2.4-1M900.5,132.6l-1.6,2 -1.4,2.2 -1.8,1.9 -1.7,2M897.5,136.8l-2.6,.3M311.9,153.6l.6-2.5 .4-2.6 .6-2.5 .6-2.6 .4-2.5 .3-2.6M347.2,188l-2.6-.7 -2.5-.6 -2.3-1.1 -2.6-.2 -2.6-.6 -2.6,.2 -2.6,0 -2.5,.6 -2.5,.5 -2.5,.9M342.1,186.7l-.2-2.6 -1.4-2.2 -1.1-2.3M326.9,185.6l-1-2.4 -1-2.4M851.6,192.4l2.4-1.1M608,292.1l.3,2.6 0,2.6 -.2,2.6M549.3,171.4l2.4-1 2.4-1.1 1.9-1.8 1.8-1.8 1.7-2M556,167.5l2.4,1 2.6,.3 2.6-.2M908.7,216.7l1.3-2.2 1.2-2.3M835.4,263.3l-1.1,2.4 -.2,2.6 -.8,2.5 -1.2,2.3M795.2,234.2l-2.1,1.4 -2.3,1.3 -2.5,.9 -2.3,1.1 -1.9,1.8 -1.9,1.7 -1,2.4 -1.2,2.3M788.3,237.8l-1.9-1.8 -1.8-1.8 -2.2-1.4M784.1,240.7l0,2.6M833.8,310.1l-.1-2.6M824.6,236.7l-.2,2.6 -.1,2.6 -.4,2.5 -.8,2.5 -.6,2.5 -.3,2.6 -.3,2.6 1,2.4M824.3,241.9l2.3,1.2 2.3,1.2 2.3,1.3M828.9,244.3l.7,2.5M823.1,246.9l-2.4,.9 -2.6,.4 -2.5,.7 -2.4,1M818.1,248.2l-.6,2.6M822.2,252l-2.4,1.1 -2.3,1.2 -2.6-.1M822.9,257l-1.8,1.9 -1.5,2.1 -.8,2.4M675.2,292.5l.9-2.5 .7-2.5 .6-2.5 -.3-2.6M677.4,285l-2.4-1.1M368.3,329.4l-.4-2.6 .6-2.5 1.5-2.2M368.5,324.3l-2.5-.7 -2.5-.7 -2.6-.5M276.5,171l1.5,2.2 1.2,2.3 1.1,2.3 1,2.4M643.5,166.6l-2.5,.8 -2.5,.7M829.6,295.2l1.9-1.9M606.3,149.3l-2.3-1.2 -2.1-1.5 -1.8-1.8M601.9,146.6l.4-2.6M553,279.6l2.6-.1 2.6-.1 2.6,.4 2.5,.6 2.5,.6 2.6,.6M563.3,280.4l.2,2.6 .2,2.6M798.3,234.6l.5,2.6 .3,2.5 -.1,2.6 0,2.6M799.1,239.7l2.3,1.2 2,1.6 2.1,1.5 2.2,1.5 2.2,1.4M809.9,246.9l2.5-.8M303.3,187.4l-2.4-.9 -2.6-.5 -2.2-1.3 -2.6-.4M296.1,184.7l-2.6,.5M618.7,287.3l-1.5-2.1 -.4-2.5 -1.4-2.2 -1.2-2.4M208.9,133.8l-1.5-2.2 -1.1-2.3M206.3,129.3l-2.5,.6M305,179.4l-2.6,.4 -2.4,.9 -2.5,.8 -2.2,1.4M300,180.7l-2.3-1.2 -2.2-1.3 -1.5-2.1M850.6,254.7l.1-2.6 -.8-2.4 -1.4-2.3 -2-1.5 -2.1-1.7M844.4,244.2l-2.3,1.3M405,403.5l2.4-.8 2.5-.8M376.6,157.8l.1,2.6 .1,2.5 .6,2.6 .3,2.6 0,2.6M376.8,162.9l2.6,.6 2.3,1.2 1.5,2.1 1.8,2 1.8,1.8M383.2,166.8l-1.1,2.4M377.7,168.1l1.2,2.3 1.3,2.2 1.1,2.4 .8,2.5M768.3,261.1l-1.4-2.2 -2.1-1.5 -1.8-1.8M918.2,178.6l2.3-1.1 2.5-.9 2.5-.6 2.6-.1M961.6,124.9l1.7-1.9 1.8-1.9 1.8-1.9 2.2-1.4M969.1,117.8l2,1.6M611.5,384.6l2.5-.8 2.5-.6 2.6-.4 2.5-.7 2.6-.4 2.5-.7M616.5,383.2l-.6-2.5 -.3-2.6M615.6,378.1l2.1-1.6M621.6,382.1l1.5,2.1 1.2,2.3M332.3,199.2l-.5,2.5 -.1,2.6 .2,2.6 0,2.6 .4,2.6 .6,2.5 .1,2.6 -.4,2.6 .5,2.6M331.9,206.9l2.5,.4 2.3,1.2 2.5,.8 2.6,.1 2.6-.2M332.3,212.1l-1.7,2M333.1,222.4l-2.4,1.1M374.7,322l2.6,.1M385.1,183.9l-1.2-2.3 -.7-2.5M383.2,179.1l-2.5-.7 -2.6-.4M378.1,178l-2.2,1.5M644.4,328l1.6,2.1 1.2,2.3 1.1,2.3 1.3,2.3 1.3,2.2 1.3,2.3 1,2.4 .7,2.5 .2,2.6M647.2,332.4l-1.5,2.1 -1.3,2.3 -1.5,2.1M592.1,190.7l2.6-.1 2.5,.4M597.2,191l1.2,2.3 1.4,2.2 1.6,2.1M599.8,195.5l2.5-.5M818,233.8l-1.8,1.8 -1.7,2 -2,1.7M814.5,237.6l.6,2.5M850.5,234.3l1.4,2.2 .6,2.5 .1,2.6 -.8,2.5 -1,2.4M851.8,244.1l2,1.7M920.6,316.6l-2.3-1.2 -2.3-1.2 -2.6-.3 -2.6-.4 -2.4-.9M910.8,313.5l-.7-2.5 -1.2-2.3 -.5-2.5M529.2,263.5l-2.2-1.4 -2.5-.5 -2.6,.3M679.7,130.2l-1,2.4 -1.1,2.3 -1.6,2.1 -1.8,1.9 -1.6,2M672.6,140.9l-2.6-.3 -2.6,0M351.8,303.5l2.2,1.4M236.3,124.5l-1.7-2M979.3,154.4l1-2.4M456.9,312.3l1.5,2.1 1.8,2 1.6,2 1.7,1.9 1.6,2.1 1.1,2.3 .9,2.5M461.8,318.4l-1.3,2.2 -1.9,1.9 -1.7,1.9 -2.1,1.6M458.6,322.5l1.9,1.7M454.8,326l-2.5-.4M466.2,324.7l2.5,.6M348.5,199.5l-.3-2.6 .3-2.6 .6-2.5 .7-2.5 1.8-2 .8-2.4 .7-2.5M266,148.8l-2.6,.5 -2.5,.5 -2.6,.5M895,192.4l-1.6-2 -1.5-2.2 -1.6-2 -1.4-2.2 -1.5-2.1 0-2.6 .5-2.5M887.4,181.9l-.7-2.5 0-2.6M886.7,176.8l-2.2-1.5M624.6,267.7l-1.6-2M843.8,234l1-2.4 1.5-2.1 1.7-2 1.7-1.9M848,227.5l2.5,.7 2.5,.7M853,228.9l.3,2.6M616.6,205.7l2.5,.8 2.6,.3M250.1,170l2.6,.4 2.6-.1 2.2-1.3 2.5-.9 2.5-.7 2.4-.8 2.6-.6M262.5,167.4l2,1.7 2.4,.8 1.8,1.9M818.3,258.3l-1.2,2.3M642.9,136.8l-.3,2.6 -.3,2.6 -.3,2.5 .7,2.6 .9,2.4 .8,2.5M642.3,142l2.4,1 2.4,1 2.5,.7M643.6,149.5l2.5,.7 2.4,1M447.4,361.2l-.1-2.6 .2-2.6 0-2.6M447.5,356l2.3-1.3M852.2,135.3l.9-2.5 1.4-2.2 1.4-2.1 1.9-1.8 2.4-1.1 2.1-1.5M860.2,125.6l.9-2.5M371.4,306.2l.6,2.6M429.7,348.6l-.3-2.6 -.1-2.6 -.2-2.6 -.2-2.6 -.3-2.6M429.1,340.8l-2.3-1.1 -2.4-.9 -2.5-.7 -2.5-.9 -2.4-1M419.4,337.2l-1.5-2.1 -1.9-1.8M356,176.9l-.6-2.5 -1-2.4M709.7,245.2l-2.4,1M400.4,281l-2.4,.8 -2.6,.3 -2.5,.6M899.9,193.4l.4-2.6M355.3,316.3l2.2,1.4 2.3,1.3M828,225.1l-.3-2.6 .8-2.4M283.3,149.6l-.6-2.5M866,243l-2.3-1.1 -2.4-1 -2.3-1.3 -2.3-1.2 -2.4-.9 -2.3-1.2 -2.6-.6 -2.5-.5 -2.6-.4 -2.5-.4 -2.6-.2 -2.6,0 -2.6-.1M854.3,237.5l-2.3,1.2 -2.5,1 -2.5,.6 -2.5,.6M849.5,239.7l-.8,2.4 0,2.6M839.2,234.2l-1.6-2.1 -2-1.7 -1.6-2 -1.9-1.8M835.6,230.4l-2.4,1 -2.4,.9M834,234.1l-.9-2.5 -1.1-2.3 -1.5-2.1M821.5,228l-2.5-.8 -2.4-1M387.7,184.8l2.5,.8 2.5,.4 2.6,.3M245,199.6l-2.6-.2 -2.6,.1 -2.6,.1M239.8,199.5l-1.5-2.1 -1.2-2.3 -.5-2.6M343.8,214.8l2.5-.7 2.5-.7 2.3-1.1 1.8-1.9M270.7,172.2l-2.4-1 -2.5-.6M258.9,177l-2.5-.7 -2.4-.9 -2.5-.8 -2.5-.8 -2.5-.6M254,175.4l-.2-2.6 0-2.6M598.2,310.5l-.2-2.6 -.2-2.6 -.7-2.5 -1-2.4M597.1,302.8l2.3-1.2M860.6,186.8l-1.1-2.3 -.7-2.5M349.3,185.3l.3-2.6 .8-2.5M361.1,156.4l-2.5,.5M367.3,300l1.3-2.3M297.9,238.3l-.9,2.5 -.9,2.4 -1.6,2M294.5,245.2l.5,2.6 -.2,2.6 -1,2.3M294.8,250.4l1.8,1.9M444.9,346.4l.9-2.5 1.7-2 1.9-1.7 2-1.7 2.1-1.6 2.2-1.3 1.8-1.9 1.9-1.8 1.8-1.9 1.9-1.7 2.2-1.4 2.1-1.5M449.4,340.2l.8-2.5 1.5-2.1 .8-2.5 -.3-2.6 -.7-2.5M451.7,335.6l-.8-2.5 -.8-2.5M453.5,336.9l2.3-1 1.8-1.9 1.2-2.4M458.8,331.6l2.6-.1M467.4,325.4l.3-2.6M325.8,163l2.6-.3 2.3-1.2 2.5-.8M330.7,161.5l1.9,1.9M531.5,273.9l-.9-2.5 -1.3-2.3 -1.5-2.1 -1.1-2.3 -.3-2.6 -.3-2.6 0-2.6 .6-2.5M526.7,264.7l-2.6-.1 -2.2-1.3 -1.6-2.1M793.8,220.2l-2.1-1.6 -1.3-2.3M858.8,187.7l.5-2.6 .6-2.5 .4-2.6 .5-2.5M383.1,336.2l-.6-2.6M643.6,134.7l2.6,.2 2.6-.3 2.6-.2M648.8,134.6l1.9,1.8M363.5,154.5l.9-2.4 1-2.4M639.8,155.3l1.4,2.2M305.5,130.7l-1,2.5 -.2,2.6 -.4,2.5 -.2,2.6 .2,2.6 .5,2.6 .2,2.6 -.3,2.5M303.9,138.3l-2.6,.3 -2.6,.3 -2.6-.3M296.1,138.6l-2-1.5M303.9,143.5l-1.3,2.2 -1.4,2.3 -1.7,1.9 -2.2,1.3M304.6,148.7l-1.7,2M418.1,303.3l0,2.6 -.1,2.6 -.6,2.5 -.2,2.6 -.4,2.6 -.6,2.5M417.4,311l-2.1,1.5M898.4,164.7l-.9-2.5 -.2-2.6M670.4,174.8l-2.6-.1M374.2,336.8l2.1,1.5 2,1.6 2.3,1.3 2.5,.8 2,1.7 2,1.5 1.2,2.4 1.1,2.3 1.5,2.1 .5,2.6M380.6,341.2l-.5,2.5 -.2,2.6 -.5,2.6M379.9,346.3l-2.3,1.4M385.1,343.7l-1.4,2.2M379.7,433l-.7-2.5 -1.2-2.4 -1.7-1.9 -2.1-1.5 -2.3-1.3 -2.2-1.3 -2.3-1.3M377.8,428.1l-2.6-.4 -2.5-.5 -2.4-.9M374,424.7l-.7-2.5 -1.1-2.4M393.6,307.5l-2.6,0M824.3,114.1l0,2.6 -.5,2.6 -.1,2.6M431.2,379.6l-2.6-.5 -2.5-.8 -2.5-.4 -2.6,.5 -2.5,.6 -2.5,.7 -2.5,.8 -2.6,.2M416,379.7l-.9,2.4 -2,1.7 -2.1,1.5 -2.5,.7M411,385.3l-2.3-1.3 -1.6-2M410.9,380.7l-2.1-1.5 -1.1-2.4M382.6,282.6l-.4,2.6 -.8,2.4 -1.7,2M282.5,134l-.8,2.5 -1.1,2.4 -1.5,2.1M280.6,138.9l2.3,1.3 2.5,.7 2.3,1M872.1,219l-.8,2.5 -.7,2.5M273.7,165.7l-.5-2.5 -.7-2.5 -1.3-2.3M864.2,184.3l-2.5-.9 -2.5-.4M859.2,183l-.9,2.4M857.5,211.6l-2.6-.1 -2.6,.3 -2.6,.4 -2.5,.6M662.2,142.9l-2.1-1.5M396.4,393.1l2.2-1.3 2.6-.5 2.5-.8 2.6-.1 2.6-.2 2.6,0 2.4-.9 2.4-1 2.4-1 2.3-1.2M401.2,391.3l.6,2.5 1,2.4 .6,2.5M408.9,390.2l1.9-1.7 2-1.7 2.3-1.3 2.3-1M412.8,386.8l.3-2.6M421,386.1l-.3-2.6 -1.1-2.3 -1.6-2.1 -1.6-2 -2-1.7M419.6,381.2l-2.2-1.5 -2.4-.9M414.4,375.4l.6-2.5M595.3,142.4l.1,2.6 0,2.6 .9,2.4 1.1,2.4M671.6,169.5l-2.5-.6 -2.6,0M783.4,144.9l2.4,1.1M390.1,305.5l1.1-2.3 .6-2.6M303.1,259.2l2.6,0 2.5,.5 2.5,.8 2.5,.6M874.5,142.3l-2.4-1.2M775.1,167.8l.4,2.6M913.9,211l2.4-1.2 2.4-1 2.5-.5 2.5-.5 2.6,.3 2.6,.1M411.4,178.2l-2.6,.1 -2.5-.5M799.8,227.2l2.1-1.6 2.3-1.2M804.2,224.4l-.1-2.6M834.8,270.4l1.2,2.3 .9,2.4 .5,2.6M751.6,133l.5-2.5M632.9,353.2l2.4-1 2.4-.8 2.4-1.1 1.9-1.8 1.8-1.8M739.2,236l-2.1-1.5 -1.7-1.9 -1.6-2.1 -.5-2.5 0-2.6 .6-2.6 .3-2.6M733.3,228l1.3-2.3 1.3-2.2 .9-2.5M745.9,226l-1-2.4M908.6,127.8l1.5,2.1 1.8,1.9 2,1.6M913.9,133.4l2.4-1M316.4,207.7l2.5,.5 2.5,.8 2.6,.3M324,209.3l2.1-1.5M282.1,116.2l-.3-2.6M742.3,133.9l1.6,2 1.5,2.1 1.7,2 1.8,1.8 1.7,2M750.6,143.8l2.6-.6M835.5,265.6l1.9-1.8 1.8-1.8M569.5,270.7l.2-2.6 -.2-2.6M818.4,245l-.3,2.6 -1,2.4 -.9,2.5 -1.1,2.3 -1.3,2.3 -1.3,2.2 -1.5,2.2M812.5,259.3l-2.6,.4M914,158.8l-2.5,.7M795.7,230.6l-.6-2.5 -.7-2.5 -.7-2.6 .5-2.5 .3-2.6M604.7,140l-.5-2.5 -.5-2.6 -.3-2.5 .3-2.6 -.5-2.6M603.7,129.8l2.5-.8 2.6,0 2.6-.5M608.8,129l1.8,1.9M364,154.4l1,2.4 .9,2.4M603.3,128.2l-1.2-2.3M245.4,173.3l-2.4-1.1 -2.2-1.2 -2.1-1.6 -2.2-1.3 -1.8-1.9 -1.7-2M240.8,171l-1.6-2.1M869.9,228.7l-1.4-2.2M425.6,340.3l-.5,2.5 -.7,2.5 -.7,2.6 -.3,2.5M423.4,350.4l-2.5,.5M587.7,256.3l-2.2,1.5 -2.3,1.2M602.6,293l-1-2.4 -.8-2.5 -.5-2.5 -.9-2.5 -1.2-2.3 -1.4-2.2 -2.1-1.5M600.8,288.1l-2.3-1 -2.6-.6 -2.6-.1 -2.5,.4 -2.6,.6M595.9,286.5l-.5-2.6M598.2,280.8l.6-2.5 .3-2.6 0-2.6M657.5,343.5l-2.6-.2M820.4,138.6l-2.5-.7 -2.6,.1 -2.6-.5M812.7,137.5l-1.5-2.1M603.2,315l.2,2.6M279.6,233.3l2.5-.8 2.5-.7M275.1,215.6l2.4,1 2.5,.7M780.3,136.4l2.6-.1 2.6,.2M647.9,353.5l-2.2-1.3 -2.5-.6 -1.8-1.9 -2-1.7 -2-1.7 -2.4-.8M639.4,348l-2.6,.5 -2.5,.4M425.7,339.1l2.6,.3 2.3,1.2 2.5,.8 2.5,.6 2.5,.8 2.5,.6 2.6-.3 2.3-1.2 2.4-.9M430.6,340.6l2-1.7 1.5-2.1M440.6,343.4l2.3-1.2 2-1.7M445.5,341.9l.4-2.6 .7-2.4 .5-2.6 .3-2.6M447.1,334.3l-1.1-2.4 -.8-2.5M598.4,163.1l-2.3,1.1 -2.5,.7M387,162.6l-.1-2.6 -.8-2.5 -1.4-2.1 -1.7-2 -1.8-1.9 -1.6-2M386.1,157.5l-2.5-.7 -2.4-1 -2.5-.6M381.2,155.8l-.8-2.4M577.6,286.5l-2.6,.5M532.4,281.4l.6-2.5 1-2.5 .7-2.5 .5-2.5M534,276.4l2.6-.3M535.2,271.4l2.4-1 2.5-.7M771.2,162.5l-2.5,.6 -2.3,1.1 -2.6,0M763.8,164.2l-1.4-2.2M889.9,286.6l-2.1-1.6 -2-1.6 -2.1-1.5M883.7,281.9l.3-2.6 .6-2.6M884.6,276.7l-1.6-2M305.1,237.4l.6-2.6M369.6,306.3l-.7,2.5M738.7,228.7l2-1.7M945.4,323.8l-1.5,2.1M209.9,140.8l-1.5-2.1 -1.7-2.1M808.3,145.4l.4-2.5M777.6,251.3l2.2,1.4 2.4,1.2M1024.4,129.1l-2.2-1.3 -2.2-1.5M836.8,248.4l.8,2.5M527.9,262.9l2.1-1.6M442.5,358.1l-2.1-1.5 -2.3-1.1 -2.2-1.5 -1.3-2.3M435.9,354l-1.2-2.3M810.8,132l1.1-2.3M586.6,219.2l2.1,1.6 1.8,1.8M829.9,152.3l2.5-.6M657.3,161.8l-1.7-1.9 -1.5-2.1M654.1,157.8l1.2-2.3 .9-2.4M656.2,153.1l-1.7-2.1M632,126.7l-2.4-.9 -2.4-.9M298.1,224.8l2.4,1 2.4,1.1 2.4,.8M322.5,171.6l2.5,.9 2.3,1.2 1.7,1.9M327.3,173.7l.3,2.6M825.2,189.1l0,2.6 .2,2.5M305.6,233l-.9,2.4 -.5,2.6 -.3,2.6 0,2.6 -.1,2.6 .4,2.5 .6,2.5 .8,2.5M304.2,238l1.4,2.2M303.9,243.2l-2.6,.3 -2.5,.5M304.2,248.3l-2.4,.9 -2.3,1.3 -2.5,.8M782.2,129.4l2.2,1.4M655.8,282.1l-1.4-2.1M863,144.9l-2.4,.9 -2.3,1.3 -2.2,1.4M610.7,321.9l2.2,1.3 2.3,1.4 2.5,.6M615.2,324.6l2.5-.8M820.5,249.7l2.4,.9 2.6,.1 2.5,.5 2.6,.5 2.6-.5 2-1.6 1.8-1.9 2-1.6 .8-2.5 1.3-2.3 1.5-2.1 1.3-2.2 1.3-2.3 1.2-2.3M833.2,251.2l1.3,2.2 .2,2.6 -.2,2.6M841.1,241.3l2.4-.9 2.5-.8 2.2-1.4M843.9,237l-.6-2.6 -.5-2.5 .8-2.5 1.2-2.3M846.4,232.4l-2.3-1.2 -2.6-.4 -2.6-.1 -2.6-.3M838.9,230.7l-.4,2.6M772,259.6l-1.6-2.1 -1.2-2.3 -1-2.4M583.8,147.3l-2.4,1M459.6,327.4l-2.1-1.5 -2.3-1.3 -1.8-1.8M866.6,229.1l1.8-2M768.7,125.9l.6-2.6 -.1-2.5 -.5-2.6 -.2-2.6M753.7,180.2l1.6,2.1 1.6,2 1.8,1.9 1.6,2 2,1.6 2.5,.9M760.3,188.2l-.6,2.6M310.5,167.7l1.1-2.4 1.2-2.3 1.8-1.8 2.4-1.1 2.2-1.4 2.2-1.4 2-1.7M314.6,161.2l2.6,.2 2.6,.1 2.6,.6M319.2,158.7l2.3,1.2M301,205.1l-.7-2.5M237.1,159.9l2.2-1.4 1.8-1.8 2.3-1.3 2.5-.6 2.6-.4M413.7,382.2l-.4-2.6 -1-2.4 -1-2.4 -1-2.4M862.1,159.9l-2.6,.7 -2.5,.1 -2.6,.2 -2.6,.5M151.3,145.7l2.5-.6 2.6-.6 2.5-.3 2.6,.2 2.5,.8 1.8,1.9M161.5,144.4l.2-2.5M648.1,362.5l2.1-1.5 2.5-.9M692.7,223.2l-1.7-2M384.8,157l-2.4,1 -2.1,1.5 -2.2,1.5M380.3,159.5l-.7,2.5 -.9,2.4M564.1,179.2l-1.3-2.2 -.8-2.5M771.1,132.4l1-2.3 1.4-2.2 1.2-2.4 1.7-1.9 2.3-1.2 2.6-.1 2.6,.1 2.6-.1M773.5,127.9l-1.4-2.2 -1.6-2.1 -1.4-2.2 -1.7-1.9 -1.6-2.1M776.4,123.6l-.6-2.6 -1.1-2.3M774.7,118.7l-2.6,.5 -2.6,.1M781.3,122.3l1.1-2.4 .7-2.5 1.5-2.1 1-2.5M735.2,220.5l-2.5,.9 -2.4,1 -2.1,1.5 -2.2,1.4 -2.3,1.2M730.3,222.4l-2.4-.9 -2.6-.3 -2.5-.3 -2.6,.3 -2.6-.7M564.2,183.1l2.3-1.1 2.5-.7 2.6-.5 2.6-.2 2.5-.5 2.6-.5 2.5-.2M571.6,180.8l.8-2.5 1.4-2.2 1.7-1.9M907.7,178.3l2.2-1.4 2.4-.7M333.2,166.7l2.4,.9 2.4,1 2.4,1M674.7,199.8l-2-1.7 -1.7-1.9M350.6,191.1l-2-1.5M863.9,228.4l-2.4-1 -2.1-1.5M363.6,291.9l-1.8-1.8 -1-2.4 -.8-2.5 -1.1-2.3M360.8,287.7l1.2-2.3 .7-2.5M362.7,282.9l-1.5-2.2M998.5,140.7l2.6-.1 2.6,.3 2.6,.3M1006.3,141.2l1.9,1.7M303.2,250.8l2.4,1 2.6,0M907.9,125.3l-2.2-1.4 -2.3-1.2M636.5,153.2l2.5,.7 2.5,.2M928.3,192.9l1.9-1.8M833.9,313.8l1,2.5 1.9,1.7 2.3,1.2 2.4,1 2,1.7M663.5,277.1l2.4-.8 2.4-1.1 2.2-1.4 2.3-1.3 2.2-1.3M668.3,275.2l1.5,2.1 1.4,2.2 1.9,1.8M588.8,307.9l-.4,2.5M698.8,140.6l.7-2.6 .9-2.4 1.3-2.2M649.1,350l-1.1-2.4 -1.1-2.4M345.4,164.4l-.5-2.6M841.6,272.6l.1-2.6 .1-2.6 -.8-2.5 -.2-2.6M841.8,267.4l2.2-1.3 2-1.7M744.3,139.6l.2,2.6 .5,2.5 .1,2.6M745,144.7l2.2,1.4M405.2,388.4l-.5-2.6 -.3-2.6 0-2.6 1.1-2.3M747,133.8l2.5-.6 2.3-1.2 1.9-1.9M751.8,132l.1-2.6M646.5,256.5l-2.6-.3M667.7,279.9l2.6,.1M821.8,155.1l2.1,1.6 2.4,.9 2.3,1.1 2.4,1 2.4,1.1M608.8,347.9l0,2.6M423.1,372.1l-1.8,1.9M383,367.9l2.3,1.2M356.9,170.3l-1.7,2M646.2,366.3l-1,2.4 -1.7,1.9 -1.1,2.4 -.7,2.5 -.8,2.5 -1,2.4M643.5,370.6l1.1,2.4M590.7,299.3l-2.6-.1M626.7,186.5l-2.5-.9 -2.4-.8 -2.6-.2 -2.6-.2 -2.6-.3 -2.2-1.4 -2.3-1.3 -2.1-1.4M616.6,184.4l-.8,2.5 -1,2.4 -.6,2.6M611.8,182.7l-1.2,2.3 -1.4,2.2 -1.1,2.4M609.2,187.2l.5,2.5M211.8,135.7l-1.5,2.1M596.2,280.9l-2.1-1.6M637.1,161.2l2.6-.6M658.7,197.8l2.5,.7 2.6,.5M981.9,153.7l-2.3-1.3M864.1,164.9l-1.4-2.2 -1-2.4 -1.1-2.3 -.1-2.6 -.1-2.6M808.3,254.1l-1.9-1.8 -1.9-1.7M346.3,223l-2.3-1.3 -1.8-1.8 -2-1.8 -1.9-1.7 -2.1-1.5 -2.1-1.6M336.2,214.9l-2.6-.4 -2.6-.4M948.8,385.6l-1.4-2.2 -1.4-2.2 -.6-2.5 .8-2.5 1.1-2.3 .8-2.5 1.1-2.4 1.6-2 1.7-2M945.4,378.7l-2.2-1.3M949.2,369l2.2-1.3M774.1,225.9l.8,2.5 .6,2.5 .1,2.6 -.5,2.6M588.6,311.2l.3-2.6 .2-2.6 .6-2.5 .8-2.5 1.1-2.3M589.7,303.5l-1.9-1.8M163.2,125.2l-.3,2.6M616.5,140.5l.3,2.6M839.7,127.3l2.5,.7 2.6,.1M245.1,154.7l2.4-.8M306.4,136.9l2.5-.9 2.2-1.4 2.5-.8 2.4-.8 2.6,.2 2.6-.4 2.6,0 2.6-.3M313.6,133.8l.4-2.5 .7-2.5M314.7,128.8l-1.9-1.8M831.9,168.1l-2.5-.7 -2.5-.5 -2.5-.8M826.9,166.9l-1.4,2.2M604.5,304.5l-2.6,.1 -2.6,.5 -2.5,.5 -2.6-.1 -2.6-.1 -2.6-.3M826.5,310l2.3,1.3 2.3,1.1 2.3,1.2 2.4,1 2.4,1M833.4,313.6l0,2.6M929.2,322l0-2.6 .4-2.5 .2-2.6 .6-2.6M936.6,316.6l-2.6,.3 -2.5-.6 -2.6-.3 -2.5,.4 -2.6,.6M928.9,316l-1.6,2M923.8,317l-2.5-.6M826.5,258l.8-2.5 .9-2.4 .9-2.5M615.9,385.6l2-1.7M1026.7,133.6l2.6-.4M598.2,156.1l-.6-2.6M611.6,124.7l1.2,2.3 .4,2.6 .8,2.4 -.2,2.6M615.2,326.1l-2.6-.5 -2.6-.1 -2.6-.4M250.3,169.9l-1.2,2.3 .2,2.6 .2,2.6 1.2,2.3 .9,2.5M956.1,139.4l-.6-2.5 -.2-2.6 0-2.6 .1-2.6M955.4,129.1l-2.2-1.4M435.8,359.3l.9,2.4M717,144.6l1.8,1.8 2.3,1.4 2.2,1.2 2.1,1.6 2.2,1.4M723.3,149l1,2.5 .2,2.5 .2,2.6M727.6,152l2.5-.8 2.5-.5 2.5-.8M732.6,150.7l.4-2.6M797,232.7l1.9,1.8 1.8,1.9M800.7,236.4l2-1.7 1.9-1.7 1.7-2 1.9-1.7M806.3,231l2.5-.7M1015.6,122.6l2.5-.5 2.6-.5 2.6,.3 2.4,.9M766.7,142.6l-2.5-.4 -2.6,0M359.6,143l-.3,2.6 -.5,2.6 -.4,2.5M754.9,190.4l2.6-.1 2.6-.1M1022.3,402.8l-2.5-.9 -2.3-1.1M678,352.5l2.3,1.2 2.3,1.3 2.2,1.3 2.2,1.4M924.5,137.2l-2.4-1 -2-1.6 -1.6-2.1 -1.7-1.9M920.1,134.6l.3-2.5 .8-2.5M916.8,130.6l.2-2.6 .6-2.5M548.6,197.7l2,1.6 2.2,1.3 1.9,1.8 2.2,1.4M556.9,203.8l2.2-1.3M617.1,330.1l-1.4-2.2 -1.4-2.2 -1.5-2.1M913.5,127l2.1-1.4 2.2-1.4M255.1,135.7l1.5-2.1 1.5-2.1 2-1.7 1.5-2.1M258.1,131.5l-1.4-2.2M842.4,266l1.8-1.9M613.9,163.7l-2.6,.1 -2.5-.5 -2.6-.4 -2.5-.6 -2.5-.6M603.7,162.3l-2.6,.5 -2.4,1M394,401.3l.8,2.5 1.3,2.2M418.9,299.3l-1,2.4 -1,2.4 -1,2.4 -1.1,2.3 -.4,2.6 0,2.6 .5,2.5 .2,2.6M415.9,306.5l2,1.6 2,1.8 1.7,1.9 1.5,2.2M419.9,309.9l-.9,2.4M785,137.3l-1.3-2.2 -1.4-2.3 -1.3-2.2 -1.9-1.7 -1.8-1.9M779.1,128.9l-2.3,1.2 -2.5,.9M774.3,131l-1.9-1.7M549.3,268.3l2.4-1.1 2.4-.8 2.5-.7M583.8,159.7l1.5,2.1 1.8,1.9M719.9,187.2l1.8-1.9 1.5-2.2 1.7-1.9M864.2,118.5l-2.6-.3 -2.6,0M364.3,290.4l-.6,2.6 -.6,2.5M363.1,295.5l-2.4,.9 -2.6,.2M768.3,159.9l.2,2.6M622.7,370.1l2.4,1 2,1.7 1.9,1.8 1.9,1.7M627.1,372.8l2.6,.2M240.2,183.1l1,2.5 -.2,2.6 -.9,2.4 -.8,2.5 -1.9,1.7 -1.9,1.8M239.3,193.1l1.2,2.2 .8,2.5 .6,2.5 .4,2.6M241.3,197.8l-.2,2.6M242.3,202.9l2,1.6 2.1,1.7M422.2,350l-1.1,2.3 -1,2.4 -1.5,2.1 -1.7,2 -2.2,1.4 -2.4,1.1 -2.5,.6 -2.4,1 -2.5,.8M420.1,354.7l-2.5-.2 -2.6,.1 -2.6,.2 -2.6,.2M416.9,358.8l-2.6,.4 -2.4,1.1 -2,1.6M409.9,361.9l-1.8-1.8M407.4,362.9l-1.1,2.4 -1,2.4 -.4,2.5M404.9,370.2l1.6,2M322.4,158.8l2.3,1.1M916.7,212.3l1-2.4 1.6-2M311.1,174.6l-1.1-2.3 -1.3-2.3 -.8-2.5 -1.2-2.3 -1.2-2.3 -1.7-1.9 -1.7-2M308.7,170l-2.6-.1M593.4,189.8l-2.4,1.2M747.3,130.7l-1.1-2.3 -2.1-1.6M860.6,231.6l-.7-2.5 -.5-2.5M590.2,137.5l2.1-1.6M611.5,196.1l.2-2.6 -.7-2.5 -.9-2.4 -1.5-2.1 -1.8-1.9M608.6,186.5l1.7-2 2.2-1.3 1.9-1.8M612.5,183.2l.1-2.6M852.9,300.5l-2.4-.9 -2.5-.7M849.9,251.7l1,2.4M358.5,118.3l2.4,1.1 1.7,1.9M578.9,181.8l1.5,2.1 1.4,2.2M857,238l2-1.7 2-1.6 1.3-2.3 1.6-2 1.5-2.2M865.4,228.2l2.5-.1M705,178.9l2.6,.5 2.5-.3M242.5,182.6l.6-2.5 .6-2.5M766.9,276.1l.8,2.4 1.5,2.2 1.7,1.9 1.2,2.3M646.3,243.7l-1.7-2 -1.6-2M349.6,117.2l2.1,1.4M935.7,321.3l-1.3,2.3 -.9,2.4M933.5,326l-2.6-.4M920.5,211.4l1.7-1.9 1.2-2.4 1-2.3 1.9-1.8 1.7-2 2.1-1.5 1.6-2M926.3,203l2.4,.9M930.1,199.5l-.6-2.6 -1.4-2.1M615,180.7l1.5,2.1 1.8,1.9 2,1.6 1.6,2 2.1,1.6 1.3,2.2 1.6,2.1 2.2,1.4M618.3,184.7l2.3-1.2 2.1-1.6 2-1.6M629.1,195.6l2.4-1.1M413.3,362.3l-1.6-2.1 -1.4-2.2 -1.8-1.8 -1.3-2.3 -1.4-2.2M649.4,199.4l2.6,.2M261.8,147.6l2.3-1.3 2.2-1.2 2.6-.3M266.3,145.1l2.6,.1M870.6,219l.8-2.5 .4-2.6M793.1,235.2l1,2.4 1.4,2.2 1.5,2.2M679.8,157.7l-.6,2.5 .1,2.6M420.2,362.6l1.7-2 2.3-1.2M982.7,126.4l-2.5-.6M671.8,134.3l-2.4,.9M809.3,252.8l.2-2.6M299.8,224.5l-2.6-.3 -2.5,.4 -2.2,1.4M577.4,164.3l2.4,.8M251.2,158.1l1.7-1.9 1.6-2.1M423.1,313.1l.5-2.6 .1-2.6 .3-2.6 -.1-2.6M424,305.3l2.2-1.3 2.5-.7M600.3,275.3l2.4-.9M737.9,148.3l2.6,.4 2.6-.2 2.6-.5 2.4-.8M158.8,128.5l1.9-1.8 1.8-1.9 1.6-2M761.8,228.7l-1,2.4 .1,2.6 .3,2.6M282,128.7l-.9-2.4M276.2,175.7l1-2.4 1.2-2.3 1.3-2.2M1008.8,120.9l-2.5,.7M361.9,169.2l-2.6,.3 -2.5,.5M414,385.8l2.1-1.5 1.8-1.9M417.9,382.4l2.5-.4 2.6-.1 2.6,.2 2.4,1.1M423,381.9l1.5,2.2 1.8,1.9M803,233.4l.8,2.5M783.3,127.2l1.3-2.2M544.7,286l-2.2,1.5 -2.5,.4 -2.6,.5M685,182.6l-.7-2.5M914.4,179.7l-1.9-1.8M960.5,378.2l.4-2.6 .4-2.6M877.6,196l1.4-2.2 1.2-2.3M851,312l-.1-2.6 -.5-2.5 -.2-2.6 -.4-2.6 .7-2.5M850.4,306.9l-2-1.7 -2.2-1.4M661.4,275.8l-1.8-1.8M175.4,127.3l2.1,1.4M947.5,391.9l-2-1.7 -2.2-1.4M579.7,207.8l-2.6,0 -2.4,1.1 -2.4,.9M405.1,360.8l-2.5,.2M842.8,133.5l.3-2.6 .7-2.5 .1-2.6 -.3-2.6 -.6-2.5 .1-2.6 -.1-2.6 -1.4-2.2 -1.1-2.3 -.7-2.6 -.7-2.5M843.6,123.2l2.2-1.5M959.7,130.8l.9,2.4M854.1,136.5l-2.3-1.1M679.5,353.9l-2.6-.5M620.5,165.8l-.8,2.4 -.6,2.6 -.6,2.5M619.1,170.8l1.5,2.1 1.2,2.3M905.9,213.3l2.5-.4M837.4,247.8l-2.5,.3M304.2,160l-1.5,2.1 -.9,2.5M777.9,135.1l2.2-1.2 1.5-2.2M759.4,230.5l2.3,1.3M829.1,120.4l-1.8-1.9 -1.5-2.1 -1-2.5 -1.8-1.8M825.8,116.4l-2.6-.2M823,112.1l2.1-1.5M639.7,199.1l-2.6,.1 -2.5-.3 -2.6-.1 -2.4,1M634.6,198.9l-.5-2.5M398.6,284.5l-2.6,.1 -2.6,.4M393.4,285l-2.5-.8M337.1,272.9l2.6,0M872.1,115.2l-1.5,2.1 -1.8,1.9 -1,2.4 -.6,2.5 -1,2.4M868.8,119.2l1.3,2.3 .9,2.4 .8,2.5 1.1,2.4M859.1,311.9l-.7-2.5M847.7,246.2l2.5-.5 2.6-.1M457,350.1l-2.6-.2 -2.5,.3M758.3,267.9l2.4,1 2.4,1 2.6,.3 2.5,.4 2.6-.4M763.1,269.9l2.1-1.5 1.9-1.8 1.9-1.8M767.1,266.6l-1.1-2.4M971.3,134.5l-1.6,2M819.5,136.9l-2.5,.9 -1.9,1.7M621.1,197.9l-2.2,1.3 -2.5,.9M616.4,200.1l0,2.6M805.7,229.4l-1.6-2 -1.6-2.1 -2-1.6 -2.4-1M802.5,225.3l-2.6,0 -2.6-.1M628.6,132.4l-.8-2.5 -.5-2.5 -.1-2.6M887.3,168.2l2.5,.5 2.5,.8 2.2,1.4 2.2,1.3 2,1.7 2.3,1.2M892.3,169.5l1.5,2.2M811.3,258l2.3,1.2M294.9,205.7l-.2-2.6M617.5,200.8l-1.6,2.1M657,154.7l-2.3,1.1M300.6,220l2.6,.3 2.6-.2M910.8,133.7l-1.6,2 -.8,2.5 -.6,2.5 -.5,2.6 -.4,2.5 .7,2.6M908.4,138.2l2.3,1.3M877.7,218.8l1.2,2.3M379.7,294.7l2-1.7 .8-2.4 1.4-2.2 1.5-2.2M395.8,404.1l-1.1-2.3 -.8-2.5M573.3,208l2.6,.1 2.6,.6 2.6-.1 2.5,.4 2.6,0 2.6-.4M578.5,208.7l2-1.5M863.9,289.6l-1.1,2.4 -1.6,2 -1.5,2.2M314.2,138.7l2.4-1M837.2,274.9l2.2,1.4M676.1,150.8l1.8,1.8 2.1,1.5 2.2,1.5 2,1.6 2.3,1.1 2.3,1.3 2,1.6M688.8,159.6l1.3,2.2 1.4,2.2M264.5,148.9l2.5,.7 2.6,.1M909,133.5l-.9-2.5 -.3-2.6 -.6-2.5M907.8,128.4l2.4-1 2.2-1.3M912.4,126.1l2,1.7M756.2,195.6l.8-2.5 .9-2.5 .9-2.4 1.4-2.2M832.1,147.6l-1.5,2.1 -1.1,2.3M769.9,262.6l.2,2.6 -.1,2.6 -.3,2.6 -.7,2.4M323,259.5l.5-2.5 .2-2.6 .9-2.4 1.4-2.2M409.8,305.1l2.2,1.5 1.6,2M292.6,197.8l-2.5,1 -2.1,1.4M793.8,229.8l2.5,.8 2.5,.8 2.5,.8 2.3,1.1 2.5,.5M656.9,157.2l1.5,2.2 1.8,1.9 2.3,1.1M597.2,204.2l2.5,.7M862.2,295l-2,1.7M301.6,235.1l-1.5-2.1M302.6,257.2l-2.5-.7 -2.5-.4 -2.6,.1M828.4,144l1.5-2.1M669.5,184.6l2.2-1.4 2.4-.9M675.7,212.7l-1.6-2.1 -1.8-1.9 -1.3-2.2M672.3,208.7l-2.4,1.1M603.4,193.8l2,1.6M936.8,319.5l-.4,2.6 -.4,2.6 -.9,2.4M550.4,159.9l2.3,1.2 2.2,1.4 2.2,1.3M557.1,163.8l2.1-1.5M729.6,135.9l.2,2.6 .6,2.5 .5,2.6M971.3,164.3l1,2.3 .4,2.6M408.6,303.3l.8-2.5 1.1-2.3M408.6,375.3l1.8,1.9 2,1.6M881.7,273.9l.6,2.5 .5,2.6 .4,2.5M620.6,191.8l.7-2.5 .7-2.5 .7-2.6 -.4-2.5M762.7,155.6l2.5-.5M629.5,135.6l-1.6,2 -1.4,2.2M325.5,260.4l-1.6-2 -1.4-2.2 -1.6-2.1M866,290.8l1.7,2 1.4,2.2M932.8,167.7l2.2,1.6M150.2,124.9l1.4-2.2 1.1-2.3 1.3-2.3M152.7,120.4l-2.2-1.3M308,251.1l-.8,2.5 -.4,2.6 -.1,2.6 .5,2.5M619.1,189.5l-2.4,1.1 -2.1,1.5 -2.3,1.2M252.2,139.5l1.7-2 1.8-1.9 1.8-1.8 2.1-1.6 1.7-2M309.6,165.1l2.4-1.2 2.5-.7 2.6,0M314.5,163.2l.7-2.5 1.2-2.3M239.2,159.4l-.5,2.5 0,2.6M377.9,402.9l-2.6-.1 -2.5-.5 -2.6-.6M376,446.3l-1.1-2.4 -1.2-2.3 -.8-2.5 -1.3-2.2M298,155.1l-.4,2.6 -.4,2.6 -.8,2.4M755.8,219.2l-.8-2.5 -.8-2.5M645.7,168l1.7,2 1.2,2.3 .9,2.5M413.1,177.4l2.3-1.3 2.3-1.2M127.2,130.4l1.7,1.9 1.2,2.3M878.4,258.3l2.5-.9M394.5,169.1l1.9,1.7M421.5,292.2l-2.5-.8 -2.6-.3M374.8,275.5l1.8,1.9M326.3,208.3l-.3-2.6 -.5-2.6M276.7,178.5l-2.2,1.4 -2,1.6M589.6,312.3l1.9,1.7 2.1,1.5M756.8,230.7l-1.7-1.9 -1.1-2.4 -2.1-1.5M751.9,224.9l-1.5,2.1 -1.7,1.9M748.7,228.9l-2.6-.5M827,152.4l-2.2-1.4 -1.6-2M823.2,149l1.3-2.3 1.3-2.2M874.5,302l-.1,2.6 -.4,2.5 -.4,2.6 -.2,2.6M274,206.6l1.4-2.2 1.8-1.9M630.8,198.5l1.9-1.7 2.3-1.3M660.9,334l0,2.6M324.1,209.3l-1.5,2.1M275.5,162.5l2.6,0M932.4,325.3l.3,2.6M318.1,203.4l-1.3,2.2 -.9,2.4M650.2,329l1.8-1.9M256.7,221.4l.3,2.6M288.8,131.6l-2.1,1.5 -2.6,.2M877.6,241.8l-1,2.4M403.5,161.8l-.4-2.5M339.5,127.5l-2-1.7M622.1,194.1l1.4-2.2M448.6,322.6l2.5,.6 2.6-.2 2.4-.9M546.9,282.8l.1-2.6 .6-2.6 .9-2.4 1-2.4 1.1-2.4M360.7,143.1l2.1-1.6M310.3,206.3l-.4,2.6M330.3,263.3l1.8-1.9M350.8,199l-.4-2.6 -.3-2.6 -.4-2.5M350.1,193.8l-2.3-1.2 -2.5-.8M391,169.3l2.5,.8M922.1,178.3l-1.9,1.7 -2.1,1.6 -1.9,1.8 -2.4,.9 -2.6,.1 -2.6,0M918.1,181.6l-1.2,2.3 -1.6,2 -1.4,2.2M235.7,160.5l.8,2.5M608.6,124.3l1.6-2.1M635.5,382.6l1.7,2M313.7,202.1l-1,2.4 -1.5,2.1 -1.6,2 -.9,2.5M311.2,206.6l1.7,1.9 2,1.7 2.2,1.3M379.9,158.9l1-2.4M320.4,258l-1.9-1.8M863.1,310.5l-1.6,2.1M796.9,170.5l-2.3-1.4 -2.2-1.2 -2.1-1.6M331.5,252.4l-.1,2.6M346.5,115.5l1.2-2.3M605,339.8l0,2.6 .1,2.6M383.4,178.4l2.5,.3 2.6,.1M388.5,178.8l1.4,2.2 1.1,2.3M391,183.3l-.6,2.6M984.2,129.1l-2.6-.5 -2.5-.6M984.6,159.1l-2.6-.6M684.4,358.2l1.9,1.8M939.5,321.4l2.5-.4 2.6-.3 2.2-1.4M597.1,195.4l2-1.5M691.4,149.7l-1.2-2.3M934.4,317.7l-2.5,.9M843.2,245.2l1.3-2.3M259.3,152.2l1.8-1.9 2.4-1 2.4-1 2.5-.6M263.5,149.3l1.7-2 1.2-2.3M860.6,234.6l-2.1,1.5M873.2,360.4l.9-2.5 1.2-2.3M778.1,235.5l-1.7-2 -1.8-1.9M583.5,140.8l2.6,.1 2.6-.2 2.5-.2M703.3,196.4l2-1.7 1.8-1.9 2-1.6M660.3,286.9l-1.9-1.7M846.5,148.4l.9-2.4 1.5-2.2M605.4,307.9l-.9-2.4 -.6-2.6 -.6-2.5 -1.7-2M896.3,208l-.1,2.6M379.8,423.7l2.3,1.3 1.8,1.9M1019.9,405.9l-2.3-1.2M419.9,295.2l-2.6-.2 -2.5-.7M897.5,212l-1.8-1.8 -2-1.7 -1.5-2.2 -.9-2.4 -1.1-2.4M954.6,393.8l-2.1,1.5 -1.5,2.1 -.6,2.5M951,397.4l.3,2.6M603,301.7l-2.3,1.3 -2.1,1.5 -2.4,1.1M596.2,305.6l-2-1.6M973,137.3l1.7,2 1.9,1.7M976.6,141l2.6-.3 2.5-.4 2.6-.6M833.6,170.2l-2-1.6 -2.4-.9 -2.6,0M369.4,283l-1.5-2.1 -1.4-2.2 -1.3-2.2M366.5,278.7l2-1.6 2.4-1.1 2.5-.7M370.9,276l1.1-2.4M406.2,166.6l-2.4,1M978.4,133.3l2.4-.9 2.5-.9 2.5-.5 2.6-.6 2.5-.2 2.6,.2M839.3,130.3l-1-2.4 -.4-2.6 -.8-2.4M756.8,200.4l-1.2-2.4M657.2,320.5l-2.5,.6M550.2,195.1l-2.1,1.4M768.8,139l2-1.6 2.1-1.5M608.3,160.8l2.2,1.4 1.6,2.1M698.4,189.2l1.5,2.1M628.2,172.2l-1.4-2.2 -1.7-2 -1.6-2M625.1,168l.8-2.4M857.4,312.1l2.6-.1 2.6-.5M538.8,168.3l-.6-2.5 -.8-2.5M518.2,267.8l.6-2.5M273.8,128l2.5-.7M945.7,393.2l-2.6-.3M838.7,238.8l-2.1-1.6M313.9,168.4l1.6-2.1M877.5,241.3l.3,2.6M400.1,161l1.9,1.8 1.7,1.9 2.2,1.4 2.5,.7 2.6-.1 2.6,.5M405.9,166.1l2.5-.6 2.5-.9M310.9,167.7l-2.1,1.5 -1.5,2.1 -.8,2.5M541.8,275.6l2.5-.4 2.6,.4 2.3,1.3 2,1.6 1.8,1.8 1.3,2.3M554.3,282.6l-.1,2.6 .2,2.6 .7,2.5M604.4,370.1l-1.1,2.4M898.2,207.8l-1.1-2.4 -1.4-2.1 -1.5-2.2M991.1,133.2l-2.2,1.6 -2.5,.5 -2.5,.7 -2.2,1.4M867.3,292.9l-2.3,1.3 -2.4,.9 -2.5,.8M910.5,144.2l-.1-2.6 -1.2-2.3 -1.1-2.4 -1.3-2.2M682.9,362l1.2-2.3 1.5-2.1M334.6,269.5l.1-2.6 -.1-2.6 -.3-2.6M398.8,162.7l2.5-.7M892,124.6l1.2-2.3M381.3,417.6l2.6,.1M999.1,423.7l.3-2.6M776.9,255.9l-.2,2.6M886.8,124.2l-1.1,2.3 -1,2.4M884.7,128.9l-2.6,0M753.9,230.3l-2.6-.3 -2.6,.1M865.8,147.1l-2,1.6M945.1,404.8l-.4-2.6 0-2.6 -.6-2.6 -.3-2.5 .1-2.6 -.1-2.6M309.4,174.7l-1.8-1.9M565.3,190.3l2.6-.1M931.9,187.9l-1.2,2.3M414,169.5l0,2.6 -.6,2.6 -.8,2.5M624.5,168.3l1.2-2.3M410.9,302.6l2.5-.6M838.7,134.6l.7-2.5 .5-2.5M839.9,129.6l2.6-.1M563.6,189.9l2.6,.2M599.7,203.8l-1.4,2.2M580.3,178.4l-.4,2.6 -.4,2.6 -.3,2.5 -1.9,1.9 -2,1.6M611.9,163.1l1.5-2.1M408.3,308.9l1.9-1.8M896.9,209.2l2.2-1.5M867.5,155.2l2.3,1.4M924.5,204.7l-1.5,2.1 -.9,2.4 -.8,2.5M887.3,178.8l2,1.6M350.5,306.2l-.4,2.5M291.1,249.7l-2.1,1.6M835,237.8l2.6,.5 2.6,0 2.6,.3 2.6,.2M336.4,274.9l1.3-2.2 1.5-2.2 1.3-2.2 1.4-2.2M339.2,270.5l2,1.6M899.3,208l-2.6-.4 -2.5-.6M894.2,207l-1.4-2.2 -1-2.4M867.5,228.2l1.2,2.4 1.2,2.2M862,236.6l-.3-2.6M370.1,194.6l1.4-2.1 1.5-2.2M766.4,136.7l1.7-2 2-1.6 2.3-1.3M537.3,218.7l2.5-.6 2.5-.7M396.2,281.2l-.4-2.6M830.4,304.6l-1.5-2.1 -2-1.6 -2.1-1.6 -2.3-1.3 -1.7-1.9 -2.6-.6 -2.6,0M892.7,122.8l-1.5-2.2 -1.4-2.2M297.1,161.4l1.9,1.8M295.5,216.9l2.6,.3 2.6,.6M596.7,193.9l-2.2-1.5 -2.1-1.6 -2.1-1.5M155,129.2l1.1,2.3 1.2,2.3 1,2.4M299.5,162.7l.6-2.5 .3-2.6M862,296.3l-.4-2.5 -.2-2.6M789.5,239.8l2,1.7M824.9,297.8l.1,2.6 .4,2.6 .1,2.6 .1,2.6 .8,2.5 1.2,2.3M825.6,308.2l2.6,.2 2.6-.1 2.5-.6M346.6,281.8l-2.3-1.1 -2.3-1.3 -2.5-.6M733.1,126.1l2.3,1.2 2.3,1.3M545,279l-2.1,1.5 -2,1.7M696.7,148.1l-2.6-.3 -2.5-.8M409,372.2l1.5,2.1 1.5,2.1 1.3,2.3M553.3,177.3l-1,2.4M927.2,396.6l-1.6-2M220.3,140.7l-2.6-.7 -2.5-.5 -2.6,.1M212.6,139.6l-1.6-2M1020.9,402.5l.8,2.5 .9,2.4M840,241.3l-2-1.7M876.7,116.5l2.6,.2 2.5-.8M278.8,119.4l1.6-2.1M739.8,145l.4-2.5M899.4,195.1l-1,2.4M941.6,348.1l1.4,2.2M213,140.4l-.8-2.5M342.6,277.8l-2.4,1.2M694,150.6l2.1,1.4M369.3,254.6l2.5,.6 2.6,.4 2.6-.2M602.1,203.5l1.5-2.1M677.2,346.7l-.6,2.5M851.3,320.5l-2.6-.1 -2.6,.1M446.4,323.7l1.6-2.1M590.6,309.9l2.6-.7M405.6,373.2l-2.2-1.3M311.5,171.1l-1.5-2 -2.1-1.7 -1.9-1.7M395,156l-.1,2.6 -.2,2.6 -1.1,2.3M394.7,161.2l-2,1.6 -1.2,2.3M399.2,156.8l1.6,2.1M277.9,211.1l1.3-2.3 1.2-2.3M91.8,131.8l-2.1,1.5M933.3,188.8l-.3,2.6M864.8,154.3l1.8,2 2.1,1.5M873.5,221.3l-.5,2.5M911.2,214.5l-2.4-1M930,143.8l-1.2-2.3M608.5,147l-2.4-.7M335.3,262.2l-1.5,2.1 -1.1,2.4 -1.6,2M332.7,266.7l1.9,1.7M701.1,150.4l-2.6,.4M799,190.8l-1.9-1.8M417.9,295.8l1.5-2.2 1.1-2.3M381.7,185.7l1-2.4 .2-2.6 .9-2.5M380.6,149.9l-2-1.7M823.5,123.5l1.2,2.3 2.2,1.5 2.1,1.4M410,165.7l.3,2.6M180.3,142.9l2.6-.3 2.5-.8M552.1,158.7l0-2.6 -.6-2.6 -.1-2.6M881.1,126.4l-1.3-2.2 -1-2.4 -1.4-2.2 -1.3-2.2M838.7,135.3l1.1,2.3M920.7,147.4l-1.3,2.3 -1.1,2.3M830,127.7l-2.5-.5 -2.6,0 -2.5-.7M403.2,167.8l.4,2.6M932.3,350.7l-1.1,2.4M598.9,155.8l-1.7,1.9 -.9,2.4 -1.3,2.3M929.8,148.8l-.4-2.6 -.9-2.4 -.8-2.5M398.9,280.6l-.9,2.4M396.8,282.9l-1.8,1.9M336.4,278.1l2.6-.5 2.4-.8M520.2,133.3l1.5-2.1M926.6,206.3l2.4,1.1M688.2,339.9l-2.1,1.6M325.6,255.8l-2,1.7 -2.1,1.6 -1.5,2 -1.8,2M318.2,263.1l1.2,2.3M595.8,205.7l2.6,.2 2.6,.4M322.6,258.1l-1.1,2.3 -1.1,2.4 -.2,2.6M915,389.8l1.6,2M671.1,200.8l-.8-2.5 -.7-2.5M795.9,233.1l-1,2.3M664.1,312.2l.2-2.6M260.4,213.4l1.6,2.1 1.4,2.2 1.6,2M362.9,279.6l.9-2.4M391.3,133.2l2.2-1.3 2.2-1.5 2.2-1.4M820.9,280.4l-1.5,2.1M942.3,411.9l2-1.6M296,251.9l2.6-.3 2.6,.1M577.4,145.7l2.3,1.3M657.7,313.6l2.2,1.3 2.1,1.5 1.7,2.1M320.4,259.9l-1.3,2.2M761.8,268.8l-2.6-.2 -2.6-.1M599.7,193.2l.8,2.4 1,2.5M840.6,189l.2-2.6M331.3,248.9l1.1,2.4M746.2,148.5l-2.3,1.1 -2,1.7M513.5,130.5l-2.4,.9 -2.3,1.2 -2.6,.3 -2.6-.5 -2.5-.4 -2.6-.4M1021,408.8l-1.9-1.8 -1.8-1.9M891,341.7l2.6-.1M862.9,361l-1,2.4M416.7,179l2.6-.5 2.4-.9M421.7,177.6l2.1,1.6M841.7,138.5l.3-2.6M827.8,291.5l-.2-2.6M559.8,255.8l-2.2-1.2 -2.2-1.5M938.2,346.4l2.5,.5M606.5,144.3l.2,2.6M324.5,253.7l-.8-2.5M242.8,201.4l-2.6,.5M662.9,317l-.3,2.6M935.8,186.7l-2.6,0 -2.2,1.4M600.9,195.5l2.6-.2M660,319.7l.2-2.6 .6-2.5 0-2.6M759.5,265l1.8,1.9M229.2,168.2l-.5,2.5M825.6,289.7l2.6,.3 2.5,.7M329.5,250.6l-2.6,.2 -2.6-.5M575.5,144l-.2,2.6M760.3,261.7l-2.6,.6 -2.5,.5M829.9,290l-.7,2.5 -1.1,2.3M324.7,255.2l-.5,2.6M821.7,281.1l-2.5-.5M107.4,132.4l2.4-.9 2.6-.6M125.2,124.2l2.3,1.3 2.1,1.5M394.7,187l-.8-2.5M814.1,291.2l2.1-1.6M881.6,314.5l1.2,2.3M584.5,140.3l1-2.5M181.8,141.2l-2.1,1.5 -2.3,1.1M346.6,280.7l2.2,1.4 1.7,1.9M871.7,278.7l2-1.7M933.2,188.7l1.5-2.1M695.8,214l-.3,2.6 .2,2.6M838.4,276.8l1.9-1.8M549.5,154.5l.1,2.6M1026.2,404.1l-2.2-1.5M683.8,278.5l-1,2.4 -1.3,2.2M577.6,290.4l-.9-2.5 -1.2-2.2M936.3,175l-2.2-1.5 -2-1.6M321.4,263.9l-.8-2.5M829.5,289l-2.6,.2M679.6,125.6l.8,2.5M674.7,123.6l2.3,1.2 2.4,1.1 2.4,.9M785.9,112.8l-2.2,1.4 -2.1,1.5M450.6,360.6l2.4,1.2M584.2,248.5l2.5-.8M616.6,129.7l-.8,2.5M345.8,280.2l-2.2,1.4M906.2,217.2l-2.5,.8 -2.3,1.3M452,357.8l-.6,2.5 -.5,2.5M620.3,205.9l1-2.4M559.9,254l1.8-1.9M326.6,264.1l-2.2,1.4M273,208.5l2.4,.8M880.3,311.7l-.1,2.6M866.1,395.9l-1.8-1.9M911,385.8l-2.3-1.2M536.3,202.7l2.5-.8M344.2,123.9l1.3,2.3M815.3,295.1l1.2-2.3 1.5-2.2M585.5,194.4l-.8,2.5 -.4,2.6M642.2,222.8l.8-2.5M375,402.7l-1.8-1.9M328.6,265.7l-1.1,2.4M378.1,447.3l2.6-.5 2.6-.2 2.4,1.2M936,175.5l-.2-2.6 -.5-2.5M679.6,279.8l1-2.4M812.8,197.5l-2.6,.3 -2.6-.2 -2.2-1.3M321.5,264l2.4,1.1M715.4,242.6l.5,2.6M851.1,324.1l2.6-.3 2.6-.4M856.3,323.4l1.5,2.1M1031,127l-1.6-2.1 -1.4-2.2M872.8,275.5l-1.4,2.2 -2,1.6M585,229.8l2.3,1.1M543.5,201.5l1.5,2.2M877,241.2l-1.2,2.3M901.3,216.1l2.5-.8M266.4,233.6l1.6,2 2,1.8 1.8,1.8M942.6,351.7l.3,2.6M332.8,253.1l-1.8-1.9M879.6,263.6l-2.1-1.6M573.5,227l.5,2.6M584.4,198.4l-1.2,2.3M591.2,189.2l1.6,2.1 .9,2.4M559.5,287.7l2.2,1.3M887.2,272.1l2.5-.6M933,338.9l-.9,2.5 .4,2.6M243.6,209.7l.9-2.5M924.5,115.3l2.5,.5M882.9,267.9l2.2,1.3M360.8,257l-2.5-.2M934.2,339.5l-2.3,1.3M135.1,159.3l2.5-.7M576.1,163.9l2.6-.3 2.6-.3M874.4,329.4l-.8-2.5M873.5,318.7l2.3-1.2M621.2,204.6l-2.6,.3M873.2,313l.2-2.6M312,113.9l1.5-2.1M326.1,226.7l-2.6-.1M817.2,294.1l-.9-2.4 -1-2.4M873.3,312.2l-2.1-1.6M294.9,113.1l2.6,.1M358.7,113.6l-1.1,2.4M640.6,239.9l-2.5,.5 -2.5,.8M92.6,128l-1.6-2.1M780.2,199.4l2.6,.3 2.4,.9M345.7,134.4l-2,1.6M493.7,118.5l-2.3,1.2M812.9,292l.4-2.5M689.5,246.9l2,1.7M545,207.5l-1.4-2.2M911,214l2.5-.7 2.6-.1 2.6,.6M555.9,179.3l1.2,2.3M957.1,316.1l2.5-.7M325.2,226.8l2.4,1.2M846.7,270.2l0-2.6M363.4,425.2l2,1.7M270.5,238.2l.6,2.5M896.3,301l.2,2.6M657.2,255.6l2,1.6M913.1,377.6l-1.1,2.4M689.2,261.8l-2.1,1.5M870.9,326.5l2.6,.4M897.8,301.5l-2.3-1.3M917.9,214l-2.6-.4M378.6,254.5l2.6,.4M847.9,270.1l-1.2,2.4M771.1,209.9l1.1,2.3M887.9,359.7l-2.2-1.2M680.4,240.4l-1.3,2.3M555.8,247.2l-1.5-2.1M846,272.2l1.5-2.2M866.8,326.9l2.6-.3M899.5,312.8l2.5-.8M356.5,248.1l-.8-2.5M871.8,278l1.7-2M871.2,278.6l2-1.6M885.7,301.7l-2.6,0M873.1,326.1l2.6-.5M823.3,104.1l2.6,.3M879.6,276.1l1.8-1.9M271.1,104.6l-2.6,.3M426.1,293.9l.3,2.6" stroke="#e9281f" stroke-width="1.6"/>
<path d="M183.2,132.4l-2.6-.7 -2.5-.5 -2.6-.5M178.1,131.2l-1.5,2.1M379.3,313l1.6-2 1.4-2.2 1.6-2 1.5-2.1 1.8-2 1.5-2 1.3-2.3 1.5-2.1 2.4-1.2 2.2-1.2 2.2-1.5 1.8-1.8 2.1-1.5 2.5-1 2.4-.8 2.4-1.1M382.3,308.8l-.4-2.5 .6-2.6 .6-2.5 .2-2.6 -.3-2.6 -1.4-2.1 -1.3-2.3 -1.2-2.3M382.5,303.7l2-1.6 2.2-1.4M381.6,293.9l1.2-2.3 1.4-2.3M388.7,300.7l-1.6-2.1 -1.3-2.2 -1.3-2.2 -.8-2.5M391.5,296.3l2.6-.4 2.4-.9 2.1-1.6 2.1-1.4 2.1-1.7M400.1,290.6l-.8-2.5 -.5-2.5 -.7-2.5 -1-2.4 -.8-2.5M398.8,285.6l2.6-.3 2.5-.5M404.7,288.1l1.5-2.1M792.7,150.8l2.5-.5 2.6-.4M813.2,152.9l2.5-.9M546.9,278.5l1.7,2 2.2,1.4 1.8,1.8 1.6,2.1 1.7,2 1.8,1.8M552.6,283.7l2.6,0 2.6,.2 2.6,0 2.6-.4M563,283.5l1-2.4M555.9,287.8l2.6,.1 2.4,1M559.1,179.1l1-2.4 1.5-2.1M646.6,204.7l1.3,2.2M290,248.6l-2.3,1.2 -2.6,.2M256.8,180.1l-2.6,.5 -2.4,1 -2,1.7 -.8,2.4 -1,2.4 -.1,2.6 .8,2.5 .9,2.4 1.2,2.4 .8,2.4 .3,2.6M248,188.1l-2.6-.2 -2.6-.1M248.7,193.2l-.5,2.5 -.7,2.6 -.4,2.5 0,2.6M250.8,198l-2,1.7 -1.4,2.2 -1.3,2.2M247.4,201.9l1,2.4M346.5,199.6l2.6,.4 2.6,0 2.5-.6 2.3-1.3 2.1-1.4 2-1.6 2.5-1 2.5-.7 2.6-.1 2.6,.1 2.6-.1 2.5-.5M354.2,199.4l1.5,2.2 1.6,2 1.3,2.3 1.7,2 1.1,2.3M357.3,203.6l2.5-.7M360.3,207.9l-2.2,1.4 -2.6-.2M358.6,196.7l.4-2.6 1-2.4 1.5-2.1 2.4-1 2.3-1.3M360,191.7l-1.5-2.1 -2-1.6M370.8,193.4l1.8-1.8 1.3-2.3 1.5-2.1 1.3-2.2 1.5-2.2M373.9,189.3l-1.4-2.2M378.2,182.8l-2.2-1.4 -2-1.7M770.9,183.1l-2.2-1.4M322.3,189.6l-2.4-1.1 -2.2-1.4 -2.2-1.3 -2.2-1.4 -2.2-1.4M313.3,184.4l-2.1,1.6M405,293.5l1,2.4M707.4,128.5l2.3-1.1 2-1.7 1.6-2.1M711.7,125.7l2.5,1M776.9,168.9l.3-2.6 .3-2.6 .5-2.6 1.2-2.3 .9-2.4 1.3-2.2 1.2-2.4 1.4-2.1 2.3-1.4M777.5,163.7l-1.5-2.2 -.8-2.4 -.5-2.6M774.7,156.5l-2.6-.3M781.4,154.2l2.6-.3 2.6,0 2.6-.6 2.5-.7M786.6,153.9l1.8-1.9M784,149.7l-1-2.4 -.9-2.5 -1-2.4 -.3-2.6M781.1,142.4l-2.4-1 -2.2-1.4M661.2,157.3l2.5-.2 2.6-.5 2.6-.2 2.5,.6M405.2,321.7l2.4-.9 2.1-1.6M409.7,319.2l2.2,1.4M879,206.8l-2.6,.5 -2.5,.5 -2.5-.6 -2.6-.7M342.8,169.9l.2-2.6M402.1,310.4l-2.1,1.5 -1.6,2M660.6,310.1l-.9-2.4 -1.5-2.2 -1.6-2 -1.2-2.3 -2.3-1.2 -1.6-2.1 -1.7-1.9 -1.5-2.2M658.2,305.5l1.1-2.3 1.9-1.8M655.4,301.2l-2.6,.1 -2.6-.6M649.8,296l-2.4,.9 -2.5,.9 -2.6,.3 -2.6-.3M642.3,298.1l-.8-2.5M403.7,339.6l-1.2,2.3 -1.3,2.3 -1.4,2.2M399.8,346.4l1,2.4M605.3,312.1l2.2,1.3 2.5,.8 2.4,.8 2.6,.4 2.6,.1 2.5,.7 2.2,1.4 1.9,1.8 1.8,1.9 2,1.6 1.2,2.3 1.5,2.1 1.6,2.1M622.3,317.6l2.3-1.1 2.2-1.4 2.4-1 2.6-.5 2.5-.7M626,321.3l.3,2.5 .1,2.6 -.2,2.6 -.1,2.6M626.4,326.4l2.3,1.2M392.4,356.3l1.4,2.2 1.4,2.2 .4,2.6 .2,2.6 -.1,2.6 .3,2.6 -.2,2.6M396,371.1l1.3,2.3 1.3,2.2 1.5,2.1M400.1,377.7l2.5,.8M236.1,164.6l-1.6-2.1 -1.5-2.1 -1.3-2.3 -.8-2.5 -.3-2.5 0-2.6 -.1-2.6M230.9,155.6l1.7-1.9 2.2-1.4M234.8,152.3l2.6-.4M622.2,298.9l1.9,1.8 1.5,2.1 1.5,2.1M625.6,302.8l-.8,2.4M677.4,176.1l2.3-1.2 2.4-1.1 2.5-.2 2.6,.3 2.6,.5M920.6,313.1l-1,2.4M597,295.7l-2.6,0 -2.6,.4 -2.6,.4 -2.3,1.2M814.1,112.4l-2.4-1 -2.1-1.5 -2.4-.9M954.3,128.5l-1.7,1.9 -1.9,1.8 -1.5,2.1 -1.9,1.8 -1.8,1.9 -1.9,1.8 -1.9,1.8 -2,1.6 -1.7,2 -2.3,1.2 -2.3,1.2M947.3,136.1l0,2.6 .3,2.6 .5,2.6 .2,2.5M948.1,143.9l1.9,1.7M941.7,141.6l1.4,2.2 .7,2.5M933.4,147.6l-2.6-.3 -2.5-.6 -2.5-.8 -2.5-.6 -2.1-1.5M824,237.6l2-1.7M408.1,317.2l-2.6,.2 -2.6,0 -2.5,.8 -2,1.6 -2.5,.8 -2.2,1.4 -1.6,2.1 -1.8,1.8 -1.9,1.8 -1.5,2.1 -1.2,2.3M393.7,322l.8,2.5 1.1,2.3 1.1,2.4 1.8,1.9 2,1.6 2.1,1.6M402.6,334.3l.3,2.6 .1,2.5M390.3,325.9l-2.5-1 -2.3-1.2 -1.5-2.1M386.9,329.8l-2.5-.2 -2.5-.9 -2.5-.5 -2.5-.7 -2.3-1.2M962.7,139.2l.7,2.5 .3,2.6 .5,2.6M814.1,167.6l2.2-1.3M752,164.9l.3,2.6M852.6,217.4l2.2-1.4 2.5-.8M383.8,321.7l-2,1.6 -2.2,1.4 -2.5,.8 -2.3,1.2 -2.2,1.3 -2.5,.7 -2.6,.2 -2.6-.1 -2.6,.3M372.6,328l.6,2.6 .4,2.5 .2,2.6M364.9,328.8l-1.9,1.8 -1,2.4 -1,2.4 -.9,2.5M763.5,276.2l1.4-2.2 1.3-2.2 1.2-2.3 1.6-2.1 1-2.4M769,267.4l2.5,.7M914.4,312.2l1.3,2.3M822.3,226.3l-2.6,.1 -2,1.6 -2,1.8 -1.7,1.9 -1.8,1.9M815.7,229.8l0,2.6M812.2,233.6l.8,2.4M605.4,177.4l.1,2.6 -.6,2.5M228.8,135.9l2.2,1.4M896.2,122.6l.6-2.5 1.8-1.9M346.4,172.6l2.4,1.1 2.4,.9 2.6,.5M353.8,175.1l1.4-2.2M638,332l1.3,2.3M367.2,163.8l-.7-2.5 -.5-2.5 .2-2.6 1-2.4 .3-2.6 .2-2.6 .2-2.6 1.1-2.3 1.2-2.4M367.2,153.8l2.1-1.5 2.2-1.4 1.9-1.9M371.5,150.9l2,1.7M367.7,148.6l-2.5-.8 -2.5-.7 -2.4-.8M362.7,147.1l-1-2.3M889.7,144.3l0-2.6 .4-2.5 .7-2.6 .7-2.4M891.5,134.2l2.5-.9M879.3,168.3l-2-1.7 -1.8-1.8 -1.8-2M875.5,164.8l-2.6,.5M882.8,148.7l-2.6-.3 -2.5-.8 -2.5-.2 -2.5,.8 -2.4,.9M870.3,149.1l-2.2-1.5M563.3,270.4l2.4-.8 2-1.7 1.5-2.1 .8-2.5M635.6,310.8l2-1.6 1.9-1.8 2.1-1.5 2.1-1.6 1.9-1.8 2-1.6M641.6,305.9l2.6,.5M645.6,302.5l-.5-2.5 -1.2-2.4M575.6,277.4l2.4-.9 2.3-1.3 2.5-.4 2.6,.2M772.2,234.8l-2-1.6M766,222l-.2-2.6M371.4,295.9l-1.5-2.1 -1.4-2.2M772,249.5l1.8,1.9 1.3,2.3 1.3,2.2 1.5,2.1M769.3,253.9l-2.5-.7 -2.6,.2 -2.6,.3 -2.6,.2 -2.6,.3 -2.5,.6 -2.3,1.2M761.6,253.7l-1.6,2M756.4,254.2l-1.7-1.9 -1.7-2 -2.1-1.5M428.8,336.9l.4-2.5 .8-2.5 .9-2.4 0-2.6 .2-2.6 .2-2.6 1.3-2.3 1.6-2 2.3-1.3 1.7-1.9 1.6-2.1M430,331.9l-.7-2.5 -.1-2.6 -.4-2.6 -.3-2.6M430.9,326.9l2.4-1 2.6-.5 2.5-.4 2.6-.4 2.6-.2M441,324.6l1.9-1.8M432.6,319.4l2.5,.4 2.6-.3 2.6-.3M438.2,314.2l-.2-2.6 -.5-2.6 -1.1-2.4 -1.4-2.1M437.5,309l-2.5-.7 -2.6-.6 -2.4-.8M604.8,331.9l1.5-2.1 1.9-1.8M753.8,235.7l2.1,1.5 2.4,1 2.6,.5 2.6,.3M760.9,238.7l1.2-2.3 1-2.4M466,321.3l-2.3-1.2 -2.6-.5 -2.4-.8 -2.5-.9 -2.1-1.5 -2.3-1.2 -2.2-1.4 -1.6-2 -.4-2.6M449.6,313.8l-1.1-2.3 -1.5-2.1M670.3,189.3l1.3,2.2 1.8,1.9 1.9,1.7 2.4,1.1 2.2,1.3 2.6,.5 2.6,.2 2.5-.9M673.4,193.4l2.6,.1 2.5-.5 2.6-.4 2.4-1.1M679.9,197.5l2.6-.5 2.5-.4 2.6-.2M687.6,196.4l1.6,2.1M640,285.4l.1,2.6M763.9,245.2l-2.6,0M576,177.5l2.5-.6 2.4-.9 2.6-.5 2.5-.6 2.6,.3 2.6,.3 2.6,.2 2.5-.4 2.6-.5 2.2-1.4 2.5-.4 2.5-.7 2.6-.5M586,174.9l1.3,2.3 1.6,2.1 1.5,2.1 1.1,2.3M590.4,181.4l-.6,2.5M591.2,175.5l.5,2.6 1.2,2.3 1.4,2.2 1.1,2.3M601.1,173.4l-1.1-2.4 -1.4-2.2 -2.2-1.4 -1.9-1.7 -2-1.7 -2.1-1.5M598.6,168.8l1.8-1.8M590.4,162.5l-2.2,1.4 -2.2,1.4M606.1,172.3l2.2,1.4 2.4,.9 2.4,.9 2.6,.7M610.7,174.6l.4,2.6M615.7,176.2l1.8,1.8M424.6,329.8l-1.5-2.1 -1.5-2.1 -1.8-1.8 -2.3-1.4 -2.1-1.4M421.6,325.6l.3-2.6 -.1-2.6M417.5,322.4l-.3-2.5 -1.1-2.4 -1.3-2.3M599.2,267.2l-2.6,.4 -2.6,.2 -2.6-.2M723.8,129.2l2.5-.8 2.3-1.1 2-1.7 2.2-1.5M728.6,127.3l1.3,2.2 .3,2.6 .3,2.6M730.2,132.1l-2,1.6M292.9,159.2l-1.8-1.9 -1-2.4 -.5-2.5 -.7-2.5 -1.6-2 -1.8-1.9 -1.7-2 -1.5-2.1 -1.4-2.2M285.5,146l-2.5,.9 -2.4,.9 -2.4,1M399.3,372.2l-2.5,.7 -2.4,1 -2.1,1.5 -2.4,1 -2.1,1.6 -1.9,1.8 -2,1.6 -2.3,1.2 -2.4,.9 -2.4,1.1 -1.6,2M392.3,375.4l-.6,2.5 -.7,2.5 -1.6,2 -2,1.8 -1.9,1.7M719,136.2l-1-2.4 .1-2.6M385.7,134.2l.3,2.6 1.4,2.2M387.4,139l2.4-1M446.1,355.8l2.6-.1 2.5-.8 2.5,.5M351.3,203l1.2,2.3 1.5,2.2 1.7,1.9 1.4,2.2 1.5,2.1M355.7,209.4l2.6,0 2.4-.8M732.1,178l-1.6-2.1M648.9,334.2l-2.6,.1 -2.6,.2M356.3,320.1l.1-2.6 0-2.6 .5-2.6M356.4,314.9l1.1-2.4 1.2-2.3M607.5,293l-1.7-1.9 -1.2-2.3 -.4-2.6 -.8-2.5 -.5-2.5 -.5-2.6 -1.2-2.3 -1.3-2.3M604.6,288.8l-2.6,.1 -2.3-1.1M599.7,287.8l-.7-2.5M602.4,278.6l-2.4-1 -2.6,.1 -2.5-.7 -2.5-.8M592.4,276.2l-.3-2.6M350,176l-.6,2.6 -.7,2.5 -.3,2.5 -.3,2.6M348.7,181.1l2,1.6M809.5,155.4l2.5-.7 2.6-.1 2.6-.2 2.6-.3 2.3-1.2 2.5-.6M822.1,152.9l1.4-2.2 .8-2.5M839.6,150l2.6,.2 2.6,.3M360.3,310.9l1.8,1.9 2.3,1.2 2.3,1.2 2.4,1 2.3,1.3 2.5,.7 2.3,1.1M373.9,318.2l2.2-1.3 1.9-1.8 1.9-1.7M378,315.1l.7-2.5M604.9,336.7l1.7,1.9 1.7,2.1M997.9,123.6l1.9,1.8 1.7,2 2,1.6 2.1,1.5 2,1.7 1.8,1.9M1007.6,132.2l-1.3,2.3 -1.6,2 -2,1.7M1004.7,136.5l-2.6,.4M418.3,375.6l1.1-2.4 .7-2.5 1.3-2.2 1.3-2.3 2.1-1.5 1.1-2.4 1-2.4 .2-2.6M421.4,368.5l-1-2.5 -1.1-2.3M424.8,364.7l2.6,0 2.6-.3M426.9,359.9l2.5,.7 1.9,1.8 2.2,1.4 1.7,1.9M431.3,362.4l.7,2.5 .7,2.5M435.2,365.7l2.3-1.1M886.7,142.4l2.4,1M653.7,197.8l-.3-2.5M762.3,164.1l-2-1.7 -1.5-2.1 -1.5-2.2 -.5-2.5 .1-2.6 -.2-2.6 .5-2.6 .9-2.4 1.6-2 2.1-1.6M761.8,141.8l2.5,.6 2.6,0 2.5,.9M769.4,143.3l1.8-1.9M674.6,202.1l2.6,.4 2.5,.7 2.5,.6 2.3,1.1 2.6,.6M383.7,177.2l-1.7,2 -1.3,2.2 .2,2.6 1,2.5M337.2,179.8l-2.6-.3 -2.3-1.2 -1.9-1.9 -2.2-1.3 -2.6-.3M332.3,178.3l-2.5,.7M325.6,174.8l-2.3-1.1 -2.1-1.5M837.1,312.6l.1,2.6 .5,2.5 -.3,2.6M837.4,320.3l2.5,.8M365.5,324.6l2.5,.6 2.5,.6 2.6,0 2.6-.6M373.1,325.8l1.7,2 2.1,1.6M376.9,329.4l-.8,2.4M411.6,175.3l2.6-.4 2.5,.3 2.5,.7 2.6-.3M419.2,175.9l.5,2.6 -.4,2.5M592.9,274l-1.4,2.2 -1.2,2.4 -1.2,2.3 -.8,2.4 -1.3,2.3 -.4,2.5 -.2,2.6 .2,2.6M590.3,278.6l-2.6,0 -2.6-.1M648.8,281.5l-2,1.6 -2.3,1.2 -2.1,1.6 -2.2,1.4M640.2,287.3l-1,2.4M409.7,347.3l-1.8,1.9 -1.6,2 -2.1,1.5 -2.2,1.5 -2.4,1.1M457,345l-2.1,1.5 -1.9,1.8 -2,1.7 -2.2,1.3 -1.9,1.8 -2.1,1.5 -1.8,1.9 -2.3,1.2 -2.5,.8M451,350l-2.1-1.4 -2.2-1.4 -2.1-1.6M446.9,353.1l-2.6-.5 -2.5-.4M441.8,352.2l.1-2.6M443,356.5l-2.6-.2 -2.6-.3M438.2,358.5l-1.2,2.3 -.6,2.5M607.3,186.6l1.9,1.7M636.4,366.2l2.3-1.3 2.3-1.2 2.2-1.3 2.3-1.2 2.6-.6 2.5-.7 2.6-.2M923.7,170.1l2.5,.9 2.4,1M931.3,315.8l-1.2,2.3 -1.1,2.4 -1.1,2.3M929,320.5l-2.5,.8M319.4,182.6l1.6,2 1.6,2.1 1.7,2 2.1,1.4 2.4,1.1 2.4,1.1 2.3,1.2 2.6,.2M331.2,192.3l.4,2.6 -.2,2.6M336.1,193.7l1.1-2.4 1.5-2.1 1.2-2.3M411.8,308.1l1.9-1.8 1.5-2 1.6-2.1 .4-2.6 .3-2.6M416.8,302.2l2.5,.1 2.6-.4M557.4,178.2l-2.2-1.4M907.9,183.2l.2,2.6 .3,2.6M383.2,157.7l-2.6-.1 -2.4-.9 -1.9-1.8 -1.7-2 -1.6-2.1 -1.8-1.9 -1.9-1.8M374.6,152.9l-2.4,.9 -1.8,1.9M371.2,148.9l-2.6,.4 -2.6-.1M910,135.8l-2.3-1.3 -2.5-.7 -2.3-1.2 -2.5-.6 -2.4-.8 -2.6-.4 -2.5-.6M952.6,370.9l1.4-2.2 1.4-2.2M362.8,162.7l-.7,2.5M658.1,168.3l.8,2.5 .1,2.6 -.1,2.6M614.1,371.4l1.5-2.1M297.8,235l2.2,1.4 2.1,1.4 2.4,1M673.1,178.5l.5-2.6 .7-2.5 .5-2.5 .4-2.6 .3-2.6 1.6-2M677.1,163.7l-.2-2.6M731.9,215.4l.7-2.5M810.6,247.2l-1.9,1.8 -2.5,.7 -2.6,0M386.1,409.3l-2.2,1.3 -2.4,1.1 -2.5,.7 -2.5,.6 -2.5,.7 -2.5,.8 -2.6,.5 -2.5,.7M379,412.4l-2.4,1.1 -2.3,1.1 -2.4,1 -2.5,.6M374,413.7l0,2.6 0,2.6M870.7,204.8l-2.3,1.1 -2.5,1 -2.5,.8 -2.3,1.1 -2.3,1.1 -2.5,.8 -2.4,1 -2,1.6 -1.4,2.2M861.1,208.8l.4,2.6 1.3,2.2 1.5,2.1 2.3,1.4M864.3,215.7l-1,2.4M859.4,120.6l1.1-2.4 1.1-2.3 1-2.4 .3-2.6M423.2,367.3l2.3,1.3 1.6,2.1 1.6,2 1.3,2.3 .5,2.5 -.1,2.6M422.6,345.7l1.1-2.4 .9-2.4 -.2-2.6 -.5-2.5 .4-2.6 .5-2.6 .3-2.5M424.6,340.9l2.5-.8 2.3-1.1 2.3-1.2 1.8-1.9M433.5,335.9l0-2.6M425.1,328.1l-2.2-1.4 -1.3-2.2M421.6,324.5l-2.5-.7M683.1,352.4l-2.5,.4 -2.5-.8M255.1,181l-2.6-.1 -2.6-.3 -2.4,1M867.5,392.3l-1.1-2.3 -1.2-2.4M431.8,379.8l-2.1-1.6 -2.3-1.1 -2.1-1.6 -2-1.7 -2.3-1.2 -2.5,.4 -2.6,.5 -2.6,0 -2.6,0M423.3,373.8l.8-2.5 .1-2.6M668.9,156.5l.5,2.6 -.8,2.5 -.6,2.5 -1.2,2.3M668,164.1l-2.4,1M849.4,131.9l2.1,1.4 1.9,1.8 2.5,.8M855.9,135.9l1,2.4M912.8,341.5l2.1,1.5 2,1.6 1.5,2.1 1.1,2.4M1022.9,132l2.2,1.4M633.6,166.8l1.7,2 1.7,1.9 1.5,2.1 .9,2.5 .3,2.6 1,2.4M637,170.7l2.5-.7 2.5-.6M639.4,175.3l2.4,.8 2.5,.9 2.4,1M644.3,177l-.1,2.6M593,182.5l-2.1-1.6 -2.4-.9 -2.5-.9M706.3,214.2l.1,2.6 .6,2.5 1,2.4 1.7,2 1.6,2.1M169.8,145.3l-1.6,2M437.5,309.7l-1.1,2.4 -1.2,2.3 -.6,2.5 -1.1,2.3M606.6,324.3l-1.8-1.8 -2.3-1.3 -2.6-.4 -2.6,.2 -2.6,.1M602.5,321.2l.8-2.4 .5-2.6M597.3,321l-.6,2.5 -.7,2.5M297,166.5l1.7-2 2.4-1.1 2.4-.9 2.5-.6M306,161.9l1.6-2M319.1,159.5l0-2.6 1-2.4M871.1,212.4l1.4-2.3 1.6-2 1.4-2.2M874.1,208.1l-1.1-2.3M369.1,166.7l-2.5-.4 -2.6-.4 -2.6-.3 -2.6-.4 -2.6-.2M298.6,133.3l-2.4,.7 -2.6-.5 -2.6-.2 -2.6,.1 -2.5,.5 -2.5-.7 -2.3-1.3M283.4,133.2l-2,1.7 -1.5,2.1M353.7,311.4l-1.4,2.2 -1.4,2.2 -1.9,1.8M350.9,315.8l1.5,2.1 .8,2.5 .2,2.6M918.4,117.4l-1.6,2.1M663.9,261.6l-2.2,1.4 -2,1.6 -2.2,1.5 -2.2,1.3 -1.9,1.8 -2,1.6 -1.9,1.8 -.5,2.6 -1.1,2.3M653.4,269.2l.9,2.5 1.3,2.2 .9,2.5M655.6,273.9l2.5-.7M649.5,272.6l1.1,2.4 1.9,1.7M652.5,276.7l2.6-.4M209.8,131.4l2.2-1.4 2.3-1.1 2.5-.8 2.5-.8 2.4-.9 2.6-.3 2.6,0 2.5-.6 2.5-.7M214.3,128.9l.1-2.6 -.8-2.5M226.9,126.1l1.2,2.3M828.5,124.8l-2.5-.8 -2.6,0 -2.6,.5 -2.5,.3M823.4,124l-1.1-2.3M850.5,122.9l-.3-2.6M443.4,352.5l-1.7,2 -1.7,2 -1,2.4 -1,2.3 -.2,2.6 -.1,2.6M440,356.5l-2.5-.7 -2.4-.9 -2.2-1.5 -1.9-1.7M435.1,354.9l-2.2,1.5M431,351.7l.2-2.6 .7-2.5M438,361.2l1.1,2.4 .3,2.6M366.2,162.6l-.4,2.5 -1,2.4 -1.2,2.3 -.6,2.6 .6,2.5 .7,2.5 .7,2.5 .7,2.5 .3,2.6 .4,2.6M364.8,167.5l2.3,1 2.6,.4 2.4,1M364.3,177.4l-2.1,1.6 -2.5,.5 -2.5,.6 -2.6,.5M354.6,180.6l-.1,2.6M365.7,182.4l2.6,.2 2.6,.4 2.3,1.2 2.6-.1M370.9,183l.6,2.6M372.7,416.1l2,1.7 1.7,2 1.7,2 1.9,1.8 2.2,1.3 2.4,.9 2.3,1.3M382.2,424.9l1,2.4 .9,2.4M170,132.9l2.6-.2 2.6,.6 2.4,.9 2.6,0 2.6-.4 2.6,.2 2.5,.4 2.6-.2 2.6,0 2.6,.5M177.6,134.2l2-1.6 2.3-1.3 2.2-1.4M184.1,129.9l2,1.6 1.7,2 1.9,1.8M206.4,145.4l-2.4-1 -2.4-.9 -2.5-.9M632.1,199.7l.2-2.6 .5-2.5M632.8,194.6l-2-1.6 -1.8-2 -2.1-1.5M626.9,189.5l-2.4,.9M400.3,302.5l-2.4,1.1 -2.5,.5 -2.6,.4 -2.1,1.6 -1.5,2.1M390.7,306.1l-2.4-.8 -2.5-1M900.6,182.1l-1.6,2 -.9,2.5 -1.7,2 -1.2,2.2 -2.2,1.6 -1.4,2.1M898.1,186.6l-2.6,0 -2.6,0M895.2,190.8l-2.6,.1 -2.6,.4M891.6,194.5l1.6,2 1.3,2.2M854.3,307.2l-1.8-1.9 -2.4-1.1 -2.1-1.6 -1.7-1.9M874.1,183.9l-.6,2.6 -.4,2.5 -.3,2.6M873.1,189l-2.1,1.5M588,308.1l.9,2.4M369.6,300.5l-2.6-.1 -2.6,0 -2.6-.4 -2.6-.2 -2.5-.1 -2.6,.2M364.4,300.4l-1.1,2.4 -.1,2.6M602.4,343.5l2.4-.9M442.2,327.1l-2.5,.4M579.6,182l-1.8,1.8 -1.9,1.7 -1.8,1.9 -1.6,2.1M572.5,189.5l-2.4-.9 -2.6-.5 -2.5-.4 -2.6-.5M567.5,188.1l-1-2.3M903.6,355l-.9-2.4 -1.6-2.1M873.9,220.3l-.5-2.6 -.6-2.5M872.8,215.2l-2.6-.3 -2.5-.8 -2.6,.2 -2.5,.4 -2.6,.5M860,215.2l-1.2,2.3M850.9,241.8l2.3-1.3 2.5-.9 2.3-1 2.6-.1 2.5-.7 2.5-.8M860.6,238.5l1,2.4 .4,2.5M857.6,200l-2.6-.2 -2.6,.1 -2.3,1.4 -2.5,.7 -2.5,.5 -2.5,.6 -2.5,.9 -2.3,1.1 -2.4,1M852.4,199.9l-1-2.4 0-2.6 .2-2.5 .5-2.6M847.6,202l-2.5-.7 -2.5-.6M837.8,205.1l-.7,2.5 -.9,2.5 -1.6,2M836.2,210.1l1.5,2.1M585.7,217l-2.4,.9 -2.6,.4 -2.5,.6 -2.5,.9 -2.3,1.2 -2.5,.5 -2.4,1M620.1,287.8l2.1-1.6M608.3,332.2l2-1.8 1.4-2.1 1.2-2.4 .7-2.5 .1-2.6M612.9,325.9l-.7-2.5M355.9,317.5l-2.6,.3M295.2,131.9l-2.1-1.5 -2.1-1.5 -2.1-1.5 -2-1.6 -2.2-1.4M160.6,127.6l2.1,1.4 1.8,2 1.7,1.9 2.4,1.1 2.4,1 2.5,.8 2.5,.4M164.5,131l2.5,.4 2.6,.6 2.4,1 1.7,2M784.6,234.2l.2-2.6M309.3,213.2l1.1,2.4 1.1,2.3 2,1.6 2.5,.8M359.1,198.6l1.1-2.4 1-2.4 .1-2.6 -.4-2.6M361.3,191.2l-2.1-1.5M1005.5,418.8l-1.2,2.3 -1.2,2.3 -1,2.4M821.5,156l2.5,.5 2.6-.5 2.2-1.3 2.2-1.4 2.1-1.6M831,153.3l2.2,1.3M864.5,216l1.5-2.1 1.7-1.9 2-1.7M867.7,212l-.1-2.6 0-2.6 1-2.5M868.6,204.3l-1.4-2.2 -2-1.6M414.9,169.3l-2.6,.2M373.1,154.3l2.5-.7M275.4,228.8l1.1-2.4 1.3-2.2 1.6-2.1M277.8,224.2l-2.2-1.4M128.9,142.7l2.5,.9 2.5,.7 2.4,1 2,1.6 1.9,1.7M925.7,385l-.2,2.6 -1,2.4M643.2,163.1l1.5-2.1 1.5-2.1M927.9,323.3l-1.3-2.3 -2.2-1.3M765,197.9l-.2-2.6 -.7-2.5 -.9-2.5M304,208.2l.1-2.5 -.1-2.6M853.2,200.4l2.6,.4 2.6,.1 2.6,.4 2.6-.2M858.4,200.9l2.1-1.5M223.3,161.7l2.1,1.4 2.5,.7 2.6,.1 2.5,.9 2.6,.3 2.6,.3 2.4,.8 2.4,1.1 2.2,1.3 2.1,1.5M233,164.8l1.6,2 1.3,2.3 .6,2.5M235.9,169.1l2.3,1.2M240.6,166.2l-.7,2.4 -.4,2.6 0,2.6M337.9,198l.5,2.5 1.6,2.1 1.8,1.8 1.7,2 1.5,2.1 1.9,1.8 2.3,1.2 2.5,.7M340,202.6l-.9,2.5 -1.6,2.1 -1.1,2.3M345,208.5l2.6-.2 2.6-.3 2.4-1.1M641.6,141.8l.6-2.5 .3-2.6 .6-2.5 .7-2.6M643.1,134.2l-2.3-1.1 -2.3-1.3 -2.3-1.1M638.5,131.8l-2,1.5M816.6,226.2l-1.5,2.1M853.4,155.5l1-2.4 1-2.4 1.4-2.2 .3-2.6 1.3-2.2M856.8,148.5l2.4,.9 2.6,.3M932.8,393.4l-.3,2.6 .3,2.6 .3,2.6 -.1,2.6M933.1,401.2l2,1.6 1.8,2M756.7,189.5l-2.5,.2 -2.6,.4 -2.5,.6 -2.6,.3 -2.6,.6 -2.5-.1 -2.6-.2 -2.6,.3M741.4,191.5l-1.4,2.2M736.2,191.6l-1.7-2 -1.4-2.2M733.1,187.4l-2.6,.2M400.8,298.4l2.2-1.4 2.6,.2 2.6,.5 2.4,.8 2.5,.8 2.6,0M408.2,297.7l.7-2.5 .2-2.6M965.8,136.1l-.1-2.6 -.5-2.6 -1.2-2.3 -.9-2.4 -1.7-2 -1.8-1.8 -2.4-1.1 -2.4-.9 -2.6,.2 -2.6,.2 -2.6,.1M305.7,254.8l1-2.4 .3-2.6M301.7,160.4l.9,2.4 .7,2.5 .2,2.6 -.1,2.6 -.7,2.5 -1.7,1.9 -2.3,1.3 -2.3,1.1M303.5,167.9l-1.9,1.9 -1.3,2.2M296.4,177.3l.5,2.6 .9,2.4 1.5,2.2 1.4,2.1M314.8,171.2l2.3,1.3 2,1.6 2.2,1.3 2.3,1.4M592.8,192.9l1.9,1.7M801.9,231.8l-1.4-2.2 -.7-2.4 -.4-2.6 .5-2.6M417,302.6l.7-2.6 1-2.4 .9-2.4 1.4-2.2 1.2-2.3M418.7,297.6l-2.3-1.3 -2.3-1 -2.3-1.3 -2.6-.2 -2.6-.4 -2.5-.3M414.1,295.3l-.6-2.6M422.2,290.7l-2.1-1.6 -2.5-.8 -2.5-.6 -2.6,.5 -2.2,1.3 -2.4,1 -2.5,.9M407.9,290.5l-1.2,2.3 -1.3,2.3M857.3,192.4l2.6,.2 2.6,0 2.6-.4 2.5-.8 2.1-1.5 2.1-1.5 2-1.7 2-1.7M553.3,275.1l2.6,.4 2.5,.1 2.6,.5 2.5,.5M879.3,193.6l2.4,1M445.1,328.4l.2-2.6 .1-2.6M901.5,172.7l2-1.6 2-1.7 1.4-2.2 .9-2.4 .7-2.5 .3-2.6 -.7-2.5 .2-2.6M905.5,169.4l2.6,.1 2.6,.5M908.8,159.7l-1.4-2.2 -1.1-2.4M405.5,384.5l-2.1,1.6 -2.2,1.3 -2.5,.9 -2.4,1 -2.4,1 -2.3,1.2M398.7,388.3l-.7,2.5 -.8,2.4 -1.2,2.3 -1.1,2.4 -1.2,2.3M915.4,120.1l2.4,.8M821.3,240.6l1.4-2.2M686.1,148.6l1.2-2.3 .6-2.5 1.2-2.3 .7-2.5 1.6-2.1M689.8,139l-2-1.7M357.5,174.3l-.2,2.6M327.9,204l1.9,1.8 1.9,1.8 1.5,2.1 1.9,1.8 2.1,1.5 2.6,.6 2.5-.3 2.5-.9 2.4-.9M331.7,207.6l2.6-.4 2.6-.3 2.5-.5 2.6-.2M342,206.2l1.4,2.2M342.3,213.3l.4-2.6 .8-2.5 -.1-2.6 -.3-2.6M347.2,211.5l1.3,2.2 1.4,2.2 1.7,2M349.9,215.9l2.6,.3M338.5,189.5l-.9,2.4 -1.4,2.2 -2,1.7 -2.1,1.5 -2.5,.8 -2.4,.9M336.2,194.1l-2.5,.7 -2.6,.2M331.1,195l-.4-2.6M327.2,199l.5,2.5 1,2.4 .2,2.6M626.9,302.7l-1.2-2.4 -.4-2.5 -.2-2.6 -.2-2.6 -.3-2.6 0-2.6M625.3,297.8l-2.5-.5 -2.6-.2 -2.6-.4M624.9,292.6l-1.8-1.9 -2.2-1.4M424.4,345.3l2.1,1.6M704.2,155.4l2.6-.4 2.6,.3 2.5-.6 2.5-.5 2.6-.4 2.6-.3M714.4,154.2l1.1-2.4 1.1-2.3M622.4,381.6l.7,2.5 -.2,2.6 .3,2.6M153.2,140.4l2.1,1.6 2.3,1.1 2.4,1.2M160,144.3l2.3-1.1 2.5-.9 2.5,.4M435.6,342l1.2-2.3 1-2.3 .9-2.5M437.8,337.4l-1.9-1.8M663.4,338.8l.4,2.5 .3,2.6 0,2.6M383.7,416.3l1.3-2.2 1.4-2.2 .7-2.5 .5-2.6 .9-2.4 1.1-2.4 1-2.4M387.6,406.8l2.6-.4 2.6,.2M392.8,406.6l2,1.6M587.2,164.9l2.1-1.5M861.9,309.7l2.6,.5M403.5,306.5l2.4,1 2.3,1.2M1004.1,143.4l-1.2,2.3M147.6,123.7l.9-2.4 1.1-2.4M149.6,118.9l2-1.7M658.1,296.2l-2.1,1.5M1029.7,130.3l-2,1.7 -1.8,1.9 -1.9,1.7M734.6,145.1l-1.1,2.3 -1.9,1.8 -1.4,2.3M654.1,271l-.8-2.5 -1.8-1.9 -2.1-1.5M843.6,229.4l-1.6-2.1 -1.6-2M250.4,158.3l-.8-2.5 .2-2.6M319.8,161.5l2.2,1.5M321.1,135.2l1.5-2.1 1.5-2.2 1.2-2.2 1.1-2.4 1.7-2M659.6,279.2l-.5,2.6 -.5,2.5 1,2.5 1.8,1.8M658.6,284.3l-2.1,1.5M661.4,288.6l2.6,0 2.6-.4M666.6,288.2l1.3-2.2M240.5,185.7l-2.5,.2M381.2,343.2l-2.5,.7 -2.6,.5M423.8,302.5l-2.3,1.3 -1.9,1.7 -2.1,1.6 -2.2,1.4M722.8,220.9l.2-2.6 .6-2.6M921.8,170.9l2.5,.5 2.1,1.6 2.1,1.5M926.4,173l2.4-1M876.5,188.8l-1.3-2.3 -1.1-2.4 -1.4-2.2 -1.5-2.1M649.8,256l1.4,2.2 1.3,2.2M862.9,150l1.5-2.1 .6-2.6 -.2-2.6M613.6,253.3l1.2-2.3 2-1.7M814.7,132.1l-1.3-2.3M930.5,200.4l-.6-2.6 -1-2.4 -.6-2.5M428.5,355.1l-2.1,1.6 -2.2,1.3 -2.3,1.1 -2.4,1.1 -2.6,.1 -2.4,1.2 -2.2,1.4 -2.4,.9 -2.4,.9 -2.5,.7 -2.4,1M424.2,358l-2.2-1.4 -2.3-1.1 -2.3-1.2 -2.5-.9M419.7,355.5l-2.2,1.5M416.9,360.3l-.3-2.6 -.8-2.4 -1.8-2 -1.1-2.3 -.2-2.6M414,353.3l.1-2.6 1-2.4M412.7,348.4l-1.9-1.8M402.6,366.4l-2.6,0 -2.6,.5 -2.6-.3M394.6,295.2l.1-2.6 -1.3-2.2 -1.5-2.2 -1.3-2.2 -1.2-2.3 -1.9-1.8 -2.1-1.6 -1.8-1.8 -1.7-2 -2-1.7 -2.1-1.5M914.4,127.5l2.5,.7 2.3,1.1 2.4,1 2.5,.9 2,1.7 1.9,1.7M926.1,132.9l2.5,.2M405.5,378.3l2.5-.8 2-1.7M762.7,150.7l-1.9,1.8M391.1,168.1l2.6,.3 2.6-.4 2.5-.8 2.5-.5M398.8,167.2l2.2,1.3 2.3,1.2M646.2,366.7l2.1,1.6M654.1,200l2.4,.9M526.1,278.1l-.5-2.6M626.8,139.7l-2.6,0 -2.4-.9 -2.6-.3M367.6,435.7l1,2.3 .9,2.5 .6,2.5M757.2,234.1l-1.3,2.3M208.6,143.3l-1.6,2M590,305.6l-2.1-1.6 -1.8-1.8M381.8,151.4l2.3-1.2M929.6,316.9l2.5-.5M541.3,291l-2.6-.2M419.2,294.1l-1.8-1.9 -2.3-1.2M615.5,121.3l-2,1.6 -1.9,1.8 -2,1.7 -2.2,1.4 -2.4,.8M605,128.6l-2.2-1.4M858.8,198l1.8-2 1.9-1.7 1.5-2.1 1.3-2.3M285,199.1l-2.1-1.6M742.7,120.7l.9-2.5 1.2-2.3 1.1-2.3M744.8,115.9l2.6,.3M673.3,165.4l-2.4,1.1M405.6,346.9l-2.6,.5M818.9,279.5l2.3,1 2.5,.8M666.6,187.7l2.5,.6 2.6,.5 2.3,1.1 1.7,2 1.5,2.1M675.7,191.9l2.3-1.4M831.3,311.2l2.6-.3M895.3,170.8l-.5-2.5 -.5-2.6M889.4,281.7l-2.6,0 -2.6-.2M359.4,290.9l1,2.4 1.6,2.1M412.4,354.8l-2.3-1.3M553.9,167.7l2,1.6M237.8,184.8l2.3-1.3 2.4-.9 1.7-2M643,239.7l-.6-2.6M644.7,205.3l.6,2.5M877.7,310.5l-1.2-2.3 -.9-2.4 -.3-2.6M412.6,171.8l-.7,2.6 -.4,2.5M663.1,335.2l-2.3,1.1 -2.5,.9 -2.1,1.5M659.3,301.4l-1.5,2 -2.2,1.5M655.6,304.9l-.1,2.6M684.5,155.7l-2.1,1.5 -2.6,.5M285.2,150.5l2.3-1.3M927.1,376.8l.2-2.6 .4-2.6M639.5,163.9l-2.5-.5 -2.6,.1 -2.6-.1M631.8,163.4l-1.9,1.9 -2,1.7M454.7,352.7l-1.4,2.2 -1.4,2.1 -1.8,1.9 -2.1,1.6 -2.4,.9 -2.6,.1 -2.5,.8 -2.4,1M448,360.5l1.1,2.3M664.6,148.3l-1.7-2 -1.4-2.2 -2.3-1.2M331.7,174.4l2.2-1.4 1.9-1.7 1.5-2.1 1.3-2.3M337.3,169.2l2.5,.7M937.9,119.1l2.6,.3M635.5,155l2.2-1.4 2.2-1.4M228.9,126.5l-2.5-.8M269.7,228.2l-.5-2.6 -.2-2.5M658.2,338.2l1.3-2.3 .7-2.5M643.8,200.5l1.1,2.4M377.5,432.7l-2.6,.3 -2.6-.2 -2.6,.1 -2.6-.1 -2.5-.4M372.3,432.8l-.5-2.5M364.6,432.4l-1.6,2.1M684,351.6l-2.4,.9 -2.1,1.4 -1.9,1.8 -2,1.7M722.8,173.4l-2.5-.4 -2.6-.4 -2.4-1M838.3,242.7l-.4,2.5 -.5,2.6M574.1,165.3l1.9,1.8 2,1.7M685,149.7l-.6,2.5 1.5,2.2 1.9,1.8 1.4,2.1 1.1,2.4 1.2,2.3M637.2,199.6l1-2.3M789.8,183.8l-2.3-1.4 -2-1.6M785.5,180.8l1.5-2.2 1.2-2.3 1.2-2.3 .8-2.5 .8-2.5M768.2,270.6l.4,2.5 -.2,2.6M851.6,151.8l2.6,0 2.6,.1 2.6-.2 2.6,0 2.6,.1M363.2,147.8l1.1,2.3M865.6,233.6l2-1.6 1.6-2.1M366.4,196.2l2.5,.8M927.3,131.4l2.2-1.4 2-1.7 1-2.4 .9-2.4 1.1-2.3 1.5-2.1 1.4-2.2 1-2.4M936,119.1l2.4,1.1 2.5,.7M376.9,334l-2.6-.3 -2.6-.3M560,201.5l-1.4,2.2M158.4,132.5l2.1,1.6M988.6,126.3l2.3-1.2 2.5-.6M629,373.5l-1-2.4M351,193.4l2.5,.2M629.1,137.7l-2.4-1 -2.3-1.2M644.8,173.8l.6,2.6M839.1,121.2l-1.3-2.3M657.1,335.1l.8,2.5 .2,2.6 0,2.6M658.1,340.2l-2,1.6 -1.9,1.8M306.8,256.2l1.6,2 1.3,2.3M309.7,260.5l-1.2,2.3M277.3,139.7l-2.6,0M347.7,198.9l1.4-2.2 2.2-1.3 2.6-.6M351.3,195.4l1.8,1.9M619.1,183.9l2.3,1.2 2.3,1.1M660.1,280.8l1.1-2.4 1.2-2.3 1.4-2.2M662.4,276.1l2.6-.4M883.8,171.7l2.6-.4 2.6-.1 2.6-.4 2.1-1.5M889,171.2l.9-2.5 .7-2.5M686.7,356.2l2.3,1.1M420.2,387.4l-2.2-1.5 -2.4-.9M654.7,291.5l-.1,2.6 -.5,2.5M298.6,155.9l-.6-2.5M601.8,306.3l.3,2.6M403.2,166.9l1.1-2.3 .5-2.6 .6-2.5M765.1,270.4l-2.2-1.3 -2.3-1.1 -2.1-1.7 -1.8-1.7 -1.5-2.2M928.3,316.7l-1.4-2.1 -1.5-2.2M674.9,149.1l-1,2.4M397.2,163.1l-2.3,1.1 -2.3,1.2 -2.4,1M416.4,368.6l1.6-2 2.1-1.6 2.3-1.1 2.2-1.5M754.3,217.7l2.6-.4 2.4-1 2.2-1.3M911.2,146l-.8,2.5 -1.1,2.3M909.3,150.8l1.9,1.8M969.3,160.5l2.6-.2 2.5-.8 2.2-1.3 2.5-1 2.4-.9 2.5-.8M768,139.5l-2.6,.3 -2.6,.3M968.4,160.2l2.3-1.1 2.2-1.5M154.1,136.9l-.6-2.5 -1.3-2.3 -1.3-2.2 -1.8-1.9 -2.5-.9M152.2,132.1l1.6-2 1.9-1.8 1.6-2.1M552.8,228.7l-1.4,2.1M371.4,444l2.4-.8M325.5,259l-2.6-.5 -2.5-.5 -2.6,0 -2.6,.4 -2.6-.2M624.2,302.8l2.6-.3 2.6-.4M818.7,270.1l1.3-2.2 .5-2.6 .5-2.5M910.2,152.6l2.4-.9 2.3-1.4 2.3-1.1M914.9,150.3l2.5,.4M900.4,192.4l1.5-2.2M562.7,196.3l2.2-1.4 2.4-.9 2.3-1.3M668.9,189.4l-2.6-.2 -2.6-.2M663.7,189l-.2-2.6M424,296.9l2.4,1 2.2,1.4M457.6,352.7l0-2.6 -1.1-2.4M731.6,128.6l2.6,.2 2.5-.6M585.6,197.5l-1.9,1.8M802,148.8l2,1.6 2.2,1.3 2.3,1.2 2.3,1.3 2.3,1.2 2.4,1 2.3,1.1M357.2,281.9l.5,2.5M1004.4,424.6l-2.6-.6 -2.4-.8M604,342.5l.9,2.5M326.4,171.7l-.6,2.5 -.3,2.6M333,214.5l.7,2.5 -.1,2.6 .2,2.6M333.6,219.6l-2.1,1.6M711,160.9l-2.1,1.5 -2.1,1.6M591.5,314.7l1.1,2.4M232.1,165.3l2.4-.8 2.3-1.4 2.4-.8M781.9,231.2l-2.4,1 -2.5,.6 -2.6,.7M995.8,134.2l2.5,.4 2.6,.5M453.2,342.7l2.5-.7 2.4-1M894.8,302l1.9-1.7M658.5,315.4l-2.6,0M379.4,425.1l0-2.6 1.1-2.4 .8-2.5M601.6,334.2l2.5,.7M777.7,252.8l.7,2.5M411.9,178l2.6,.1 2.5-.3M885.5,286.6l2.6-.1 2.5-.5M820.7,297.7l2.1-1.5M635.5,267.4l-2.5,.8M647.9,194.5l-2.3,1.4 -2.3,1.1M330.4,263.5l2.6,.2 2.5,.4 2.4,1.1 1.9,1.7 1.6,2.1M335.5,264.1l.6,2.6 .6,2.5M339.8,266.9l2.3-1.3M693.5,152.9l-2.5,.4M579.1,179.3l-1.5-2.1M443.3,321.1l-1.8,1.9 -1.5,2.1 -1.8,1.8M440,325.1l2.2,1.5 1.6,2.1 1.8,1.9 1.8,1.8M445.6,330.6l2.6,0M834.8,200.1l1.3-2.2 1.4-2.2M578.3,292.1l2.6-.1M350.4,233.8l-1-2.4M419.6,291.6l1.1-2.4M878.2,310.7l-2.4-.8 -2.6-.3M697.9,145l.4,2.5 .2,2.6 1.1,2.4 1.3,2.2 1.6,2.1 1.7,1.9M700.9,154.7l-2.1,1.5 -1.8,1.8 -2,1.7M411.5,303l-2.1,1.5 -2.4,1.1 -2.4,1 -2.5,.7M593.6,164.8l2.5,.1M373.2,402.1l1.7,1.9M599.1,336.3l-1.5,2.1 -.5,2.6 -.7,2.5M228.7,169.6l2.6,.1 2.5,.7M384.9,150.3l1.7,2M277.9,128.5l-2.6,.1M686.9,128l2.6,.5M381.4,132.8l-.1-2.6 .2-2.6M809.3,258l.3-2.5M873.8,215.4l2.6,0M609.3,163.3l2.1-1.6 2.2-1.3M954.3,370.6l2.6,.3 2.6-.5M838.8,134l-2.5,.5M1013.6,417l-.7-2.5 -1.6-2.1M1011.3,412.4l.9-2.4M1003.5,419.1l-.5,2.6 -.5,2.5M1002.5,424.2l-2.6,.1M109.5,129.8l.3,2.6M538.9,202l-1.8-1.8M232.2,168.1l.1-2.6M850.5,251.3l-1.4-2.2M591.2,310.1l2.6-.2M366.7,190.8l2.3,1.2M305.2,208.1l.2,2.6M383.1,137.9l2.5,.9M658.3,311.6l1.3-2.2M451.2,359.1l2.5,.8M764.5,137.3l-.2-2.6M923.2,163.7l2.2-1.4M333,269.1l1.1-2.4M840.6,130.4l-1.1,2.4 -.8,2.5 -.8,2.4M820,180.1l.1-2.6M826.9,305.8l2.5,.7 2.6,.2M816.1,294.8l1.8,2 1.8,1.8 2,1.6M676.3,245.7l-1.3-2.3M659.9,316.5l-2.3,1.1 -2.4,1.1M363.1,276.7l2.5-.7M379.9,430.5l2.5-.5M373.1,120.9l.4-2.6M324.5,105.8l-1.9,1.7M933,173.4l2.4-1.1M593.4,348.4l-1.4,2.3M564.8,210.7l1.4,2.1M929.7,205l-1.1,2.3 -1.1,2.4M262.8,108l.2-2.6M1014.6,413.5l-.1-2.6M566.7,212.7l1.6-2M622.6,139l2.5,.5 2.5,.7M999.9,133l-2.4,.9 -2.4,1 -2.1,1.6 -1.9,1.8M692,224.8l-1.7-2M322.4,262.6l-2.6-.2M376.6,252.6l.7,2.5M660.7,312.1l-.6-2.5M544.1,198.9l-1.5-2.1 -.8-2.5 -.3-2.6 .1-2.6M560.9,254.2l-1.3,2.2 -.7,2.5M558.9,258.9l-2.6,0M793.7,226l.9,2.4M326.6,251.1l2.2-1.2 2.5-1 2.4-.8M540.8,198.1l-.6-2.6 -.3-2.5 -.1-2.6M270.9,229.3l2.5,.9 2.4,1M848.6,254.6l-.8-2.5M784.8,251.4l1.7-2M933.3,342.6l.4,2.5 .9,2.5 1.3,2.2M575.4,147.9l2.6,.3 2.5-.4M347.5,280.1l2.6,0 2.6-.5 2.5-.4M725.4,185.7l-1.2,2.3 -1.5,2.1 -1.6,2.1 -1.6,2M878.1,270.4l-1.5-2.2M774.5,251.3l2.2,1.4M242.2,116.7l1.9-1.7 2-1.8M127,131.7l2.3,1.3 2.2,1.4 2.6,.4M393.6,147.4l1,2.4 .8,2.5M303.1,212.1l-2.6-.2M1028.5,123l0,2.6 .2,2.5M229.7,168l2.5,.7M94.3,127.7l-1.1-2.4M231.3,165.1l-.5,2.6 -.2,2.6M355.4,245.2l-2.5,.3 -2.6,.1M350.3,245.6l-2.3-1.3M379.4,447.2l-1.2-2.4M868.2,325.8l-2.6,.4M562.4,287.2l-2.6-.1M619.8,204.3l-1.2-2.3M114.4,130.5l2.5,.5M905,216.4l.7,2.5M879.2,311.9l-.1,2.6M856.9,324.6l-2.3-1.2M692.5,273.3l-2.3,1.2M543.4,165.2l-2,1.7M532.7,286.7l-2.5-.7M438.5,305.2l2.2,1.4M427.6,296l-1.1-2.4M1031.6,126.3l-1.7,1.9M342.5,134.4l2.6,.5 2.5,.5M365.3,425.4l-1.8,1.9M818.3,198.5l.5-2.6M886,285.8l1.9,1.8M870.6,326.2l-2.6-.5M957.5,315.6l-2.5,.9M903.3,312.1l-2.5-.7M889.1,273.1l-2.6-.3M675.1,124.6l2.6-.4M922.1,308.2l2.4,.8M909.5,214.6l2.5-.9M286.2,112.1l-1.8,1.9M401.8,438.9l2.6-.5M890.4,327.5l-2.6-.1M438.9,307.7l2.6-.5M887,303.1l-2.6-.4M773.3,285.8l-2.3,1M361.7,133.4l2.6,.3M889.4,327.9l-1.5,2.1M898.3,312.8l2.6,.1M614.7,393.2l-2.5,.5" stroke="#cc2016" stroke-width="1.6"/>
<path d="M872.9,388.1l.2-2.6 .5-2.5 .6-2.5M400.7,292l.4-2.6 .6-2.5M868.1,132l.8-2.5 .4-2.5 .5-2.6M869.3,127l2.2-1.4M225.3,131.4l-1.9,1.8 -1.7,1.9 -2.3,1.3M552.9,220.5l-.3-2.6M362.1,200.8l.4,2.6M784.2,146.1l1.3-2.3 1.1-2.4 1.1-2.3 .8-2.5M555.2,197l-.3-2.6 -1.3-2.3 -1.7-2M687.3,200l-1,2.4 -1.1,2.3 -.9,2.5 -.1,2.6 -.3,2.6 -.3,2.5 .4,2.6 .4,2.6 .4,2.5 .7,2.6M683.9,212.4l-1.6,2 -1.9,1.8 -2,1.6 -2.2,1.5M680.4,216.2l-2.3-1.2M676.2,219.3l-1.3,2.2 -1.7,2M626.8,315.1l2.5,.6M380.8,329.6l-.2,2.6 -.6,2.6 -.9,2.4 -1.7,2M591.8,296.1l-1.6-2 -.6-2.5 -.4-2.6 -.6-2.6 -.6-2.5 .2-2.6 -.8-2.4M375.1,303.7l-1.9,1.8 -2,1.7 -1.6,2 -1.1,2.4 -.5,2.5 -.6,2.6 -1.4,2.2M371.2,307.2l-2.5-.6 -2.6,.5M543.7,200.7l2.3-1.2 1.9-1.8 1.9-1.7 2.4-1.1 1.7-2 1.4-2.2M547.9,197.7l2.5,.4 2.5,.9 2.5,.4M552.9,199l.1,2.6M555.3,190.7l2.1,1.5 2.1,1.7M928.3,146.7l-1.3-2.3M381.9,328.7l-1.6,2M612.3,274.2l-1.3-2.3 -1.4-2.2 -1.9-1.7M611.7,385.6l-2.3,1.1M290.3,146.1l1.7,2 1.5,2.1 1.1,2.4 1.3,2.2M294.6,152.6l-1.6,2 -2.2,1.4M703.8,145.1l-1.8-1.8 -2.1-1.6 -1.9-1.8 -1.8-1.8 -2.5-.8 -2.5-.6M696.2,138.1l1.1-2.3 1.7-2 1.7-2M783,175.6l-2.1,1.4 -2.2,1.4M778.7,178.4l-1.3,2.3M364.8,117.1l2.6-.4M937.3,356.3l-1.9,1.8 -2.4,1 -2.6,.4 -2.2,1.3 -2.5,.7M933,359.1l-1.2,2.3 -.4,2.6M637.2,313.2l-1.6,2.1 -1.9,1.7 -1.7,2 -1.6,2.1 -1.5,2.1M633.7,317l-2.5-.6 -2.6,0M307.9,203.8l1.3,2.2M982.8,122.7l-2.4-1 -2.5-.6 -2.3-1.3 -2.3-1.2M973.3,118.6l-.8,2.5 -.6,2.5M282.6,164.4l2.5-.8 2.5-.4 2.6,.2M290.2,163.4l2.2,1.4M745.6,244.2l-1.2,2.4M401.8,319.2l-1.9,1.8M857.3,162.9l2.5-.9 2.3-1.2M767.2,235.6l-2.6,.4 -2.6-.1M395.5,406.6l2.2,1.3M634,141l2.5-.3M723.7,158.9l-1.6,2.1 -1.3,2.2 -.7,2.5 -1.6,2M720.8,163.2l.1,2.6M863.8,214.9l2-1.6 2-1.7 1.7-1.9 1.9-1.8 2.1-1.6M867.8,211.6l-.5-2.6 .5-2.6 1.3-2.2M867.8,206.4l2.4-.9M871.4,207.9l2.5,.9M371.4,161.8l1-2.4 .6-2.5 -.2-2.6 -.6-2.5M373,156.9l-1.7-2M234.1,169.3l-.8-2.5 -.6-2.5 -1.4-2.2 -1.7-2 -2.1-1.6 -1.4-2.2 -1-2.4 -1.8-1.8 -2.2-1.4 -2.5-.8 -2.5-.7M231.3,162.1l-2.3-1.3 -2.2-1.3 -2.6-.4 -2.4-1.1 -1.9-1.7 -2-1.7M226.8,159.5l-2.6-.2M227.5,158.5l1.1-2.4 1.1-2.3M229.7,153.8l2.6,.1 2.5,.8M216.1,149.2l-1.5-2.1 -.8-2.5 -.2-2.6 -.7-2.5M650.7,128.6l.9-2.5 -.1-2.6M286.6,160.8l-.5-2.6M890.5,182l2.1,1.6 1.9,1.8 1.4,2.2 1.2,2.3M664.8,128.3l-2.6,.5 -2.5,0 -2.6,.4 -2.6-.3 -2.5-.9 -2.2-1.3 -2.1-1.5M649.8,126.7l-2.5,.7 -2.4,1.1M561.8,213.5l1.9-1.8 2-1.8 1.5-2.1M625.3,184.7l.1-2.6 -1.1-2.3 -2-1.6 -2.5-1 -2.5-.4M619.8,177.2l.5-2.5M612.8,318.5l2.5,.7 2.1,1.5 2.5,.8 2.2,1.4 2.1,1.5 2.4,1.1M617.4,320.7l1.8-1.9M624.2,324.4l-.2,2.5M352.5,281l-1.3-2.2M954,144.6l2.6-.3 2.5-.6 2.6-.2 2.6-.3 2.6-.3 2.6,.1M961.7,143.5l1.9,1.8M896.5,168.3l-2.6,.2M366.8,286.9l2.5-.7 2.5,.8 2.3,1.2M864.8,238.1l-1.6,2.1M919.8,173.5l-.8-2.5 -.4-2.6M316.5,160.3l-1.9,1.8 -.8,2.5 -.8,2.5M313.8,164.6l-2.6,.2M670.6,207.3l-.9,2.5 -1.4,2.2 -.7,2.5 -.4,2.6 -.4,2.5 0,2.6M668.3,212l1.9,1.8M376.7,317.5l-2.5,.3 -2.6-.1 -2.6-.2 -2.6-.3 -2.4-1.1 -2.5-.4 -2.5-.8 -2.6-.6M356.4,314.3l-1.2,2.3 -1.4,2.2M769.4,239.9l-2.6,.4 -2.5,.7 -2.5,.7 -2.3,1.2 -1.9,1.8 -2.1,1.5 -2.4,.9M755.5,246.2l-2.6-.2 -2.6,.2M750.3,246.2l-1.8-1.8M207.3,144l-2.5,.8 -2.4,.8 -2.6,.2 -2.6-.1 -2.6,.1 -2.6-.5 -2.6,.2 -2.5-.6 -2.6-.3 -2.6,0M194.6,145.8l-1.6-2.1 -1.6-2 -1.6-2.1M191.4,141.7l.4-2.6M949.6,326.2l-2.6,0 -2.5,.7M350.8,205l1,2.4 1.6,2 1.7,2 1.8,1.8M356.9,213.2l2.3-1.1 2.5-1M817.2,243.8l-1,2.4 -1.4,2.3M814.8,248.5l-2.5-.4M247.5,181.6l-.6,2.5M824.5,300.8l-2.6,.2M544.6,163.9l-2.6-.1 -2.6,.4M424.1,319.5l1.7,1.9M293.6,133.5l-1-2.4 -.9-2.4 -1.1-2.4M299.4,232.7l-1.6,2M935.7,127l-2.6-.7 -2.1-1.4 -2.1-1.6 -2-1.6 -2-1.7 -1.4-2.2M931,124.9l-2.2,1.4 -2.6,.4 -2.4,1.1 -2.5,.6M923.5,117.8l-2.5,.3 -2.6-.7 -2.5-.4M648.7,161.1l-2.1-1.6 -2-1.7 -2.4-.9 -2.6-.2 -2.6,0 -2.3-1.3 -2.1-1.5 -2.5-.9 -2.5-.6 -2.6,.3M642.2,156.9l.8-2.5 -.1-2.6 .5-2.5M642.9,151.8l-1.8-1.9M637,156.7l-2.1,1.5 -2.5,.8M630.1,153l-1.1-2.4 -.3-2.6 -.1-2.5 .5-2.6 .9-2.4M630,140.5l-2.3-1.2 -2.4-1.1M592.8,311.7l2.5,.6 2.5,.4 2.6,.3 2.6,.3 2.6,.5 2.1,1.4 2.1,1.6 2.5,.6 2.4,1M597.8,312.7l2.4-1.1 2.5-.8M609.8,316.8l2.5-.8 2.4-1 2.6-.4M190.5,134.2l1.8,1.9 1.8,1.9 1.7,1.9M782.8,245.5l-2.4,.9 -2.4,1.1M360.8,150l-2.1-1.5 -1.4-2.2M634.6,143.3l-2.6,.2 -2.6-.5 -2.6,.2 -2.5,.6 -2.5,.6 -2.5,.8M206.5,142.8l-2.4,1 -2.2,1.3 -2.5,.9M608.3,297.3l-1.2,2.3M770.8,236.4l.2-2.6M693.7,141.5l-2.5,.5 -2.6,.5 -2.5,.5 -2.3,1.3 -2.1,1.5 -2.1,1.5 -2.2,1.5 -1.8,1.8 -2.1,1.6 -2.4,1.1M688.6,142.5l-2-1.7 -1.7-2 -1.5-2.1 -.8-2.5 -.2-2.6 -.8-2.4M684.9,138.8l-2.5-.3 -2.6-.6 -2.5-.8M682.6,134.2l-2.6-.3 -2.6-.4M681.7,145.8l-2.5-.7 -2.4-1.1 -2.5-.7M677.4,148.8l-.2,2.6M818.3,264l2.6,.1M688.3,346.7l2.1-1.6 1.8-1.9M634.9,130.9l-.9,2.5 -.7,2.5 .2,2.6 -.4,2.5 -1,2.4 -1.4,2.3M633.3,135.9l1.4,2.1 1.8,1.9 2.3,1.2 2.4,1.1M402.4,163.1l-2.6,.3 -2.6-.3 -2.5,.7 -2.6-.3 -2.6-.1 -2.6,.1 -2.6,.4 -2.6,0M397.2,163.1l-2.3,1.3 -2.2,1.3M389.5,163.4l-1,2.4 -.7,2.5 0,2.6M387.8,168.3l-2.6-.1M410.5,397.4l-.7,2.5 -1.2,2.3 -1.8,1.9M357.8,168l1.7-1.9 1.6-2.1 1.9-1.8 2.1-1.5 2.1-1.5 2.3-1.3 2.1-1.5 1.5-2.1 1.6-2.1M369.5,157.9l.2-2.6M399.6,165.8l-1-2.3 -1.3-2.3 -.7-2.5 -1.1-2.4 .1-2.6 .4-2.5M395.6,153.7l-2.2-1.4 -2-1.6 -2.1-1.6M616.7,287.8l0,2.6 -.7,2.5 -.9,2.5 -.9,2.4 -.3,2.6 -.9,2.5 -.7,2.5M463.1,328.3l-.1-2.6 .9-2.5 1-2.4M673.8,293.8l2.2-1.3M683.1,362.4l1.9,1.8M904.9,125.3l-2.6-.5 -2.4-.9 -1.7-2 -1.4-2.2 -.9-2.4 -1.6-2.1 -1.8-1.9 -1.3-2.2M899.9,123.9l-.7-2.5 -1.1-2.4 -1.1-2.3M850.5,235.4l1.1-2.4 1.6-2 1.5-2.2 1.1-2.3M854.7,228.8l-.4-2.5M840.2,261.6l-1.7,2 -1.2,2.2 -1.2,2.4 -1.3,2.2M837.3,265.8l2.1,1.5 1.3,2.3 .9,2.4 1.2,2.4M840.7,269.6l-1.4,2.2 -1.2,2.3M552.5,211.3l-2.3,1.3M621.3,301.7l2.6,.1 2.5-.2 2.4-1.1 2.3-1.3 2.2-1.4M631.1,299.2l1.4,2.1 1.8,1.9 2,1.7 2.5,.8M765,152.4l2.6,.1 2.5,.3 2.6-.7 2.5-.3 2.6,.1 2.6-.4 2.5-.8M770.1,152.8l1.6-2.1 1.3-2.3 1.6-2M780.4,151.5l-.1-2.6M766.8,276.8l1.6-2M601.3,352.4l1.9-1.8M1029.4,138.1l-1.9-1.9 -1.1-2.3 -1.2-2.3 -.8-2.5 -.8-2.4 -.2-2.6 .1-2.6M646.9,324.3l1.5-2.2M152,133.1l-1.7,1.9M641.3,122.7l-2.1,1.6 -2,1.5 -1.6,2.1 -.9,2.5 -.1,2.6 -.2,2.6M637.2,125.8l-2.6,.3 -2.6,.6 -2.4,.8 -2.5,.9 -2.3,1.1M624.8,129.5l-1.9-1.8 -1.9-1.7M586.1,139.9l-.3,2.6 -.9,2.4 -1.1,2.4 -1.3,2.2M810.8,252l1.2,2.3 1.2,2.3 1.8,1.9 1.5,2.1 1.1,2.4 1.8,1.8 2,1.7M813.2,256.6l-.9,2.5 -1.5,2.1M817.6,263l2.3,1.1M599.9,335.3l-2.4,.9M905.4,305.7l1.9,1.8M245.4,182.1l2.4,1 2.3,1.2 2.4,1.1 2.3,1 2.6,.2 2.6,.3M254.8,186.4l.4,2.6M648.2,234.6l-2.3-1.4 -2-1.6 -2.3-1.1M409.6,359.2l2.4-1.1 2.4-.9 2.5-.7 2.3-1.2M848.7,172.2l-2.1,1.6M415.1,291l.4-2.5M960.1,378.5l-2.4,.9 -2.5,.7M879.8,301.4l-2.6-.6M666.8,304.9l1.1-2.4 .4-2.5 .9-2.5 .2-2.6 .3-2.5 .1-2.6M669.2,297.5l-1.1-2.3M669.7,292.4l2.4-1 2.6-.2 2.5,.7M884.2,281.5l-.7,2.4M616.5,197.2l2,1.7 1.8,1.8M857.7,212.8l-2.4-1 -2.2-1.4M362.7,286.9l1.4,2.2M331.9,132l2.4,.8 2.2,1.5 2.1,1.5 2.1,1.5M336.5,134.3l0,2.6M877.5,170.4l1.9-1.8M252.7,173.7l-2.5,.7 -2.2,1.4 -2.1,1.6 -1.4,2.2 -.7,2.5 0,2.6 -.4,2.5 -.9,2.5 -1.1,2.3M244.5,179.6l-2.5-.8 -2.1-1.5M239.9,177.3l-2,1.6M889.6,120.1l1.5,2.2 1.6,2M237.9,122.8l.4-2.5M689.2,158.3l2.6-.2 2.6,.2 2.6-.2M269.7,138.9l-.5-2.6 -1.2-2.3 -.9-2.5 -1.1-2.3 -.4-2.5M268,134l.5-2.6 1.1-2.4 .8-2.4 -.4-2.6M269.6,129l-1.9-1.8M745.9,229.6l-2.4-1.1 -2.3-1.2 -2.4-.9 -2.4-1.1 -2.5-.5M733.9,224.8l-1.7,2M184,126.2l-2.6-.1M834,171.9l-.8,2.5 -1,2.4 -1.7,2 -1.5,2.1 -1.2,2.3M575.9,288.5l-2.2-1.3 -2.2-1.4M749.5,137.3l-2.5,.6M624.9,379l2.2,1.3M576.7,143l-1.7,2M420.1,313.3l-2,1.7M712.4,142.5l-1.1,2.3 -2.1,1.5M441.5,324.2l2.1-1.5M414.3,360.5l-1.9,1.7 -1.8,1.9 -2.2,1.5M386.5,373.1l-2.6,.1 -2.5,.7 -2.6,0 -2.5-.8M860,142l-2.6-.6 -2.6-.2M682.4,157.4l1.1-2.4 1.3-2.3 .9-2.4 .9-2.4 .6-2.6 .1-2.6M309.3,166.6l.5-2.5 .5-2.6 -.3-2.6 .4-2.5M310.4,156.4l1.7-2.1M664.7,342.4l1.9,1.8M685.5,345.9l.3,2.6 0,2.6 .3,2.6 .6,2.5 .1,2.6 .1,2.6M323,168.2l.9-2.4M957,315l.3,2.6M689.1,341.2l0,2.6 -.2,2.6 .1,2.6 .3,2.5M410.1,297.8l2.4,1M740.3,232.1l-1.7-1.9M780.1,231.4l-.9-2.4 -.8-2.5 -.7-2.5 -.4-2.6 -.5-2.5 -.7-2.5 .6-2.6 .5-2.5M555.8,198.4l.9,2.4M735.3,170.5l-1.6,2.1 -1.7,1.9 -1.8,1.9M543.6,288.7l1.5,2.1M647.9,176.5l-.9-2.4 -1.2-2.4M682.6,367.8l-2.5,.6 -2.6,.4M395.3,162.1l1.3,2.2M366.3,285l2.4-1.1 2.1-1.6 1.5-2.1 1.3-2.2 .7-2.5M372.3,280.2l-1.5-2.1 -1.3-2.2 -2-1.7M879.5,302.5l2.4-1M603.5,300.9l1.6,2M971.7,131.7l-.7-2.5M565.8,193.3l2.6-.2M379.6,335.1l.7,2.5 .7,2.5M933.6,189.7l-1.6,2.1 -1.5,2.1M990.6,143.1l2.4,.8 2.5,.6M407,305.6l-1.1,2.4M878.9,267.7l.2-2.6 .3-2.6 .4-2.6 .9-2.4M879.4,262.5l-2.3-1.2M1007.8,416.2l2.6-.3 2.6-.3M340.4,274l.4,2.6 -.4,2.5M821.5,284.4l.6-2.6M864.7,161.8l2.2,1.5 2.2,1.4M923,147.9l-2.6-.3M826.9,300.9l-1.1-2.4M860.5,164.8l-2.6,.4 -2.5,.7M789.9,230.1l-.7,2.6 -.6,2.5 -.5,2.5 -.6,2.6 -.3,2.5 0,2.6 .8,2.5M788.6,235.2l-2.4,1.1M508,135.2l2.4-1.1 2.3-1.2 2.3-1.2 2.2-1.4M823.7,302.1l2.5,.7 2.4,1 2.3,1.2M840.2,132.5l-1.4-2.2M389.4,150.7l1.4-2.2M308.2,126l-1.6,2M930.7,164.4l-2.3-1.1M835.8,275l2,1.6M384.2,444.8l-1.4-2.2 -1.2-2.3M692.6,146.1l1.5-2.1 2-1.7M831.2,293.1l-1.2-2.3 -1.1-2.4M381.9,440.8l-2.6-.5M233.3,173.3l-2.2,1.4M954.4,384.7l2.4-.9 2-1.7M299.1,203.8l-2.4-.9 -2.4-1M672.6,195.4l2,1.6M540.9,203.4l-1.8-1.8M556.4,267l-2.1,1.5 -2.5,.7 -2.5-.6M774.5,250.5l2.5,.3 2.6-.4 2.6-.1 2.6,0 2.5-.6M364.1,276.6l-1.6,2.1 -.8,2.4M828.1,294.8l-2.6,.1M99.8,132.6l2.6-.5 2.4-1M104.8,131.1l.8-2.4M615.4,133.5l-2.1,1.6 -1.6,2 -1.9,1.8M763.2,208.6l-1.1,2.4M543.3,206.4l.4-2.6 -.3-2.6M404.9,440.1l-2.6,.6M374.6,122.6l-2.1-1.5 -1.8-1.8M818.8,293l.2,2.6M879.9,312.7l-1.4-2.2M895.4,301.7l-1-2.3M403.8,284.1l-.9-2.5M406.7,284.6l-2.5-.7M880.4,267.6l-.8-2.5 -.3-2.6M874,314.5l0,2.6M821.3,278.6l0,2.6 -.3,2.6M322.5,225.9l2.4,1.1 2.6,.3M921,181.1l2.5-.7M896.7,300.7l0,2.6M797,196.4l-1.2,2.3M706.2,253.1l1.9-1.8M865.4,325.3l2.5,.7M774.1,285.8l-2.5,.8" stroke="#a3160f" stroke-width="1.7"/>
<path d="M794.6,132.7l-2.1-1.5 -1.9-1.8M292.9,222.9l-2.1-1.5 -2-1.7 -2.1-1.5M288.8,219.7l-2.3,1.1M361.1,293.1l2.3-1.3 2.3-1.2 2.2-1.3 2.3-1.2 2.4-1.1 2.5-.8 2.2-1.3 1.3-2.3 1.9-1.7 2.1-1.6 1.7-1.9M365.7,290.6l.4-2.6 .2-2.5 -.5-2.6M378.6,282.6l-.1-2.6 .8-2.5 .4-2.5M379.7,275l2.6-.3 2.5,.8M382.6,279.3l-.8-2.4 -1-2.5M306.9,187.2l.6-2.5 1-2.4 1.2-2.3 2-1.7M713.6,126.1l-.4,2.5 -.4,2.6 -.6,2.5 -.2,2.6 .4,2.6 .9,2.4M712,136.3l-2.2,1.4 -2.3,1.2 -2.2,1.4M713.3,141.3l-2.4,1.1M375.9,165.8l1.6-2 2.3-1.3M397.7,301.2l1.8,1.9 1.7,1.9 1.5,2.1 1.4,2.2 1.1,2.4 .8,2.5 .6,2.5 0,2.6 .4,2.5M401.2,305l2.6,.2 2.5,.5M406.3,305.7l2.3-1.2M404.1,309.3l-1.3,2.3 -.8,2.4 -.1,2.6 -.1,2.6M402,314l2.2,1.4 2.3,1.3M380.3,159.7l1.5-2.1 1.2-2.3 1.5-2.1 1.6-2.1 1.9-1.7M691.3,171.2l2.4-1 2.3-1.2 2.5-.3 2.6,.4 2.5,.7M696,169l-.5-2.6 .1-2.6M902,160.6l-1.5-2.1 -1.6-2.1 -.6-2.5 -1.1-2.4 -1.5-2.1 -.4-2.6 -.1-2.6 .2-2.6 1.3-2.2 2.3-1.2M898.9,156.4l1.6-2.1 1.3-2.2 1.7-2 1.9-1.7 1.7-1.9M905.4,148.4l.2-2.6 .3-2.6M897.2,151.5l-2.5,.5 -2.6-.2 -2.5-.9M889.6,150.9l.8-2.5M895.3,146.8l-2.5-.6 -2.6-.2 -2.6-.1 -2.6,.2 -2.4,.8M756.9,153l2.3-1.2 2.4-1 2.1-1.5 2.1-1.6M761.6,150.8l-.7-2.5M765.8,147.7l-.1-2.6M656.1,206.1l-2.6,.3 -2.5,.7 -2.5,.4 -2.4,1.1M651,207.1l-2.1-1.5 -2.3-1.1 -2.6-.7M646.1,208.6l-2.3-1.2 -2.3-1.3 -2.5-.7 -2.6-.4M639,205.4l-2.5,.6M676,137.4l-1.2,2.3 -1.6,2.1 -1.8,1.9 -1.8,1.8 -1.9,1.8 -2.2,1.5M673.2,141.8l1.5,2.2M665.5,148.8l-2.2-1.4M446.7,347.2l-1.2,2.3M680.1,358.4l2.6,.1 2.6-.2 2.5-.3M426.3,370.8l-2.4-1.1M706.7,135.2l2.6,.5 2.4,1 2.6,.4M711.7,136.7l.7,2.5 1.2,2.3 .3,2.6 .9,2.4 .6,2.5M713.9,144.1l-1.9,1.7 -1.7,2M664.6,286.1l-1.6,2 -1.3,2.3 -1.2,2.3 -2.1,1.6 -2.4,.9 -2,1.7M660.5,292.7l1.2,2.3M369.7,192.3l2.6,0M394.6,287l-2,1.6 -2,1.8 -2.2,1.3M390.6,290.4l-2.5-.6M659.3,160.6l0,2.6 -.5,2.6 -.7,2.5 -1,2.4 -.2,2.6 .2,2.6 -.8,2.4 -.6,2.6M657.1,175.9l-2.2,1.5 -2,1.5 -2.3,1.3M873.9,230.6l2.2,1.3M814.9,239.2l.9,2.4 1.4,2.2 .9,2.5 1.3,2.2M662.5,178.8l2.5-.8 2.6-.4 2.6-.1 2.4,.9 2.5,.5 2.5,.8 2.6,.6 2,1.6 2.2,1.4M677.6,179.7l1.1,2.4 .8,2.4 .4,2.6 .5,2.6M679.5,184.5l-2.1,1.7M680.4,189.7l1.9,1.8M608,132.8l-2.3,1.3 -2.3,1.2 -2.1,1.5 -1.7,2 -1.8,1.8 -2.1,1.6 -2.4,.9 -2.3,1.3M603.4,135.3l1,2.3 1,2.4 .4,2.6M591,144.4l0,2.6M869,196.1l2.5,.5 2.6,.4 2.6,.1 2.4,1.1 2.3,1.2M361.1,318.1l-1.5-2.1 -2.2-1.5 -1.6-2 -1.4-2.2M322.9,165.1l-1.3-2.2 -1.7-2 -1.5-2.1 -1.8-1.9 -1.7-2 -1.3-2.2 -.9-2.5 -.3-2.5 -.4-2.6M676.6,227.7l.7,2.6M358.4,160.6l-1.8,1.9M830.2,152.1l-2,1.7 -1.8,1.8 -2.2,1.5 -2.3,1.2M826.4,155.6l-2.6,.1M303,183.5l1.2-2.3M649.4,145l1.6-2.1 1.3-2.3 1.7-1.9 2.1-1.6 2.6-.2 2.6,.1M652.3,140.6l-.4-2.5 .2-2.6M786.9,111.3l2.6,0 2.4-.9M852.5,239l-2.1,1.6 -2.2,1.4M638.2,201.5l-.1,2.6 .4,2.6M880,308l2.1-1.5M403.4,398.7l-1.2,2.3M880.6,115.8l2.3,1.4 2.1,1.5M885,118.7l2.4-.8M875.3,180.3l1.4,2.3 .2,2.6 .8,2.4 -.1,2.6 -.3,2.6M389.6,402l-1.1-2.3 -.9-2.5 -.3-2.6M387.6,397.2l2.1-1.6M636.7,150.6l2.4,1 2.5,.8M546.3,285.6l2.1,1.4 2.5,.7 2.5,.9 2.3,1.1M564.1,191.8l-.9-2.5 -.6-2.5 .1-2.6 .3-2.6 1.1-2.4 .8-2.4 .4-2.6 .7-2.5 -.6-2.5M562.6,186.8l1.9-1.8 1.1-2.4 .9-2.4 .9-2.4M565.6,182.6l-1.2-2.3M585.5,143.3l1.1,2.4 1.3,2.3M580.5,289l2.6,.2 2.5-.8 2.4-.8M940.4,318.7l1.4-2.3M358.8,148.2l-2.1,1.4M828.8,306.7l1.2,2.3 1.3,2.2 -.2,2.6M598.5,301.8l-1-2.4 -.2-2.6 -.4-2.5 .4-2.6M998.2,126.1l-1.4-2.2 -1.1-2.3M265.6,126.7l-2.6,.1M374.4,403.9l1.9-1.8 2-1.6 1.7-2M845.2,246.3l-2.3,1 -2.3,1.3M787.3,168.8l-1.1-2.3M863.7,291.9l.2-2.6M346.1,196.1l2.6-.4 2.5-.5 2.6-.5M801.5,216.3l-2-1.6M632.2,269.3l2-1.6 1.6-2 1.9-1.8 1.2-2.3M561.6,210.1l1,2.3M930.7,165.2l2.6,0 2.3-1.1M317.2,132.5l-.9,2.5 -.7,2.5M627.4,171.7l-.5-2.6 -.7-2.5M673,302.6l-1.8,2 -1.5,2.1M539.7,166.6l.5-2.6 .1-2.6M1000,142.4l-2.6,.2 -2.6,0 -2.6,.4 -2.4,.9 -2.5,.7 -2.5,.7M989.8,143.9l.7,2.6M593.5,346.6l-1-2.4M1018.2,398.6l.6,2.5 .5,2.6 .5,2.6 .8,2.4M1020.6,408.7l-.6,2.6M344.1,279.3l-.7,2.5M807.7,260.7l1.2-2.3M303.2,252.8l2.6-.1M621.7,169.8l-1.3,2.3 -1.5,2.1M228.9,167.9l1.9-1.7M387.4,185.4l-2.2,1.3M677.2,194.8l.8,2.5M922.1,152.3l2,1.6M386.5,178.7l-.9,2.4 .3,2.6M387.1,130.3l-1.2,2.3 -1.8,1.8 -2,1.7M384.1,134.4l.2,2.6M887.6,285.5l2.5,.4M758.6,262.7l-2.6,.2M888.8,351.4l-2.1,1.6 -2.2,1.2M796.3,225.7l-2.6,.3 -2.6,0 -2.5,.4M791.1,226l-.5,2.5M874.5,313.4l-2.2-1.4M654,246l1.3,2.3 1.9,1.8M939.3,412.1l2.3,1.2 2.5,.5M675.7,256l1.8,1.9M920.9,179l-2.4-1.1M659.9,257l2.3,1.2M821,280.7l.6-2.6M885.3,302.1l2.4-.9M930.8,205l-.4-2.6" stroke="#730e0a" stroke-width="1.7"/>
</g>
<use href="#seas" fill="#fff"/>
</g>
<text x="90" y="29.6" text-anchor="start" font-weight="bold">a</text>
<text x="563" y="54.5" text-anchor="middle" font-weight="bold">Species richness (SR)</text>
<text x="1198" y="18.3" text-anchor="start" font-weight="bold">b</text>
<text x="1682" y="42" text-anchor="middle" font-weight="bold">2020-2100 Trend in fish species exposed to hypoxia</text>
<text x="96" y="752" text-anchor="start" font-weight="bold">c</text>
<text x="561" y="776.5" text-anchor="middle" font-weight="bold">Total number of fish species exposed</text>
<text x="561" y="801.5" text-anchor="middle" font-weight="bold">to hypoxia (DO &lt; 2 mg/l)</text>
<text x="1210" y="752" text-anchor="start" font-weight="bold">d</text>
<text x="1669" y="776.5" text-anchor="middle" font-weight="bold">Total number of fish species exposed</text>
<text x="1669" y="801.5" text-anchor="middle" font-weight="bold">to hypoxia (DO &lt; 3 mg/l)</text>
<rect x="137.0" y="622.4" width="847.6" height="42.2" fill="url(#vir)" stroke="#000" stroke-width="1.1"/>
<line x1="137.0" x2="137.0" y1="664.6" y2="669.5" stroke="#000" stroke-width="1.1"/>
<text x="137" y="693.2" text-anchor="middle">1</text>
<line x1="348.9" x2="348.9" y1="664.6" y2="669.5" stroke="#000" stroke-width="1.1"/>
<text x="348.9" y="693.2" text-anchor="middle">10</text>
<line x1="560.8" x2="560.8" y1="664.6" y2="669.5" stroke="#000" stroke-width="1.1"/>
<text x="560.8" y="693.2" text-anchor="middle">100</text>
<line x1="772.7" x2="772.7" y1="664.6" y2="669.5" stroke="#000" stroke-width="1.1"/>
<text x="772.7" y="693.2" text-anchor="middle">1000</text>
<line x1="984.6" x2="984.6" y1="664.6" y2="669.5" stroke="#000" stroke-width="1.1"/>
<text x="984.6" y="693.2" text-anchor="middle">10000</text>
<text x="560.8" y="718.5" text-anchor="middle">Number of fish species</text>
<rect x="1244.6" y="618.2" width="141.9" height="42.0" fill="#f5cdd0" shape-rendering="crispEdges"/>
<rect x="1385.9" y="618.2" width="141.9" height="42.0" fill="#f07075" shape-rendering="crispEdges"/>
<rect x="1527.3" y="618.2" width="141.9" height="42.0" fill="#ff241c" shape-rendering="crispEdges"/>
<rect x="1668.6" y="618.2" width="141.9" height="42.0" fill="#e5210f" shape-rendering="crispEdges"/>
<rect x="1809.9" y="618.2" width="141.9" height="42.0" fill="#b01c12" shape-rendering="crispEdges"/>
<rect x="1951.3" y="618.2" width="141.9" height="42.0" fill="#830f0c" shape-rendering="crispEdges"/>
<rect x="1244.6" y="618.2" width="848.0" height="42.0" fill="none" stroke="#000" stroke-width="1.1"/>
<line x1="1244.6" x2="1244.6" y1="660.2" y2="665.1" stroke="#000" stroke-width="1.1"/>
<text x="1244.6" y="686.2" text-anchor="middle">−20</text>
<line x1="1385.9" x2="1385.9" y1="660.2" y2="665.1" stroke="#000" stroke-width="1.1"/>
<text x="1385.9" y="686.2" text-anchor="middle">0</text>
<line x1="1527.3" x2="1527.3" y1="660.2" y2="665.1" stroke="#000" stroke-width="1.1"/>
<text x="1527.3" y="686.2" text-anchor="middle">20</text>
<line x1="1668.6" x2="1668.6" y1="660.2" y2="665.1" stroke="#000" stroke-width="1.1"/>
<text x="1668.6" y="686.2" text-anchor="middle">40</text>
<line x1="1809.9" x2="1809.9" y1="660.2" y2="665.1" stroke="#000" stroke-width="1.1"/>
<text x="1809.9" y="686.2" text-anchor="middle">60</text>
<line x1="1951.3" x2="1951.3" y1="660.2" y2="665.1" stroke="#000" stroke-width="1.1"/>
<text x="1951.3" y="686.2" text-anchor="middle">80</text>
<line x1="2092.6" x2="2092.6" y1="660.2" y2="665.1" stroke="#000" stroke-width="1.1"/>
<text x="2092.6" y="686.2" text-anchor="middle">100</text>
<text x="1668.6" y="711.3" text-anchor="middle">(%/decade)</text>
<polygon points="89.5,1351.2 101.3,1318.1 113.1,1323.7 124.9,1341.0 136.7,1314.3 148.4,1252.5 160.2,1263.5 172.0,1276.9 183.8,1250.0 195.6,1252.5 207.4,1283.1 219.2,1239.8 230.9,1232.7 242.7,1244.9 254.5,1233.7 266.3,1219.0 278.1,1199.2 289.9,1201.2 301.7,1191.0 313.5,1175.8 325.2,1191.0 337.0,1157.4 348.8,1176.2 360.6,1188.6 372.4,1176.2 384.2,1146.9 396.0,1129.7 407.8,1113.6 419.6,1109.8 431.3,1091.5 443.1,1106.3 454.9,1114.9 466.7,1096.6 478.5,1099.7 490.3,1099.2 502.1,1110.8 513.9,1096.6 525.6,1076.3 537.4,1071.2 549.2,1069.2 561.0,1074.5 572.8,1061.0 584.6,1049.7 596.4,1050.8 608.1,1032.8 619.9,1016.3 631.7,1018.1 643.5,1024.9 655.3,1012.2 667.1,1007.1 678.9,1014.7 690.7,1005.1 702.5,991.9 714.2,990.6 726.0,984.2 737.8,972.0 749.6,984.2 761.4,966.9 773.2,961.4 785.0,961.1 796.8,953.3 808.5,954.5 820.3,938.0 832.1,942.3 843.9,934.7 855.7,919.8 867.5,920.7 879.3,932.9 891.0,934.7 902.8,914.7 914.6,903.2 926.4,905.8 938.2,899.2 950.0,891.0 961.8,883.4 973.6,885.4 985.4,876.3 997.1,877.3 1008.9,864.3 1020.7,865.6 1032.5,877.0 1032.5,1014.3 1020.7,1024.5 1008.9,1039.7 997.1,1049.9 985.4,1041.8 973.6,1054.2 961.8,1040.5 950.0,1062.1 938.2,1060.6 926.4,1055.0 914.6,1052.5 902.8,1055.5 891.0,1095.7 879.3,1098.4 867.5,1090.6 855.7,1083.4 843.9,1097.7 832.1,1089.3 820.3,1091.2 808.5,1106.7 796.8,1115.6 785.0,1114.1 773.2,1119.5 761.4,1122.8 749.6,1126.6 737.8,1120.3 726.0,1116.4 714.2,1117.2 702.5,1127.9 690.7,1163.0 678.9,1160.9 667.1,1140.6 655.3,1161.7 643.5,1171.9 631.7,1192.7 619.9,1213.1 608.1,1191.1 596.4,1169.1 584.6,1185.3 572.8,1203.4 561.0,1232.1 549.2,1216.1 537.4,1182.5 525.6,1204.7 513.9,1227.5 502.1,1248.6 490.3,1221.2 478.5,1205.4 466.7,1219.2 454.9,1198.8 443.1,1279.7 431.3,1308.1 419.6,1287.3 407.8,1267.5 396.0,1293.6 384.2,1309.4 372.4,1308.8 360.6,1318.2 348.8,1327.4 337.0,1323.6 325.2,1328.3 313.5,1332.1 301.7,1341.5 289.9,1334.9 278.1,1341.5 266.3,1367.7 254.5,1379.2 242.7,1390.6 230.9,1416.3 219.2,1418.8 207.4,1369.0 195.6,1379.2 183.8,1386.3 172.0,1394.4 160.2,1399.0 148.4,1382.2 136.7,1446.0 124.9,1456.7 113.1,1467.4 101.3,1487.2 89.5,1451.6" fill="#dc5f6b" stroke="#bf4454" stroke-width="1" stroke-linejoin="round"/>
<polyline points="89.5,1401.3 101.3,1402.0 113.1,1395.7 124.9,1399.5 136.7,1380.4 148.4,1316.9 160.2,1332.1 172.0,1335.9 183.8,1318.1 195.6,1316.4 207.4,1325.8 219.2,1328.8 230.9,1324.5 242.7,1318.1 254.5,1307.2 266.3,1292.7 278.1,1270.6 289.9,1267.8 301.7,1266.3 313.5,1253.8 325.2,1260.2 337.0,1240.0 348.8,1252.1 360.6,1253.8 372.4,1243.0 384.2,1228.8 396.0,1212.3 407.8,1189.4 419.6,1196.3 431.3,1199.8 443.1,1193.7 454.9,1155.1 466.7,1158.1 478.5,1151.8 490.3,1159.7 502.1,1181.0 513.9,1160.7 525.6,1137.8 537.4,1125.3 549.2,1141.1 561.0,1154.3 572.8,1132.2 584.6,1117.6 596.4,1109.4 608.1,1111.9 619.9,1114.7 631.7,1105.8 643.5,1098.1 655.3,1088.0 667.1,1072.5 678.9,1088.0 690.7,1084.7 702.5,1060.0 714.2,1053.6 726.0,1049.1 737.8,1045.3 749.6,1056.2 761.4,1045.3 773.2,1040.7 785.0,1038.1 796.8,1034.9 808.5,1030.7 820.3,1013.6 832.1,1015.6 843.9,1016.2 855.7,1000.6 867.5,1005.6 879.3,1015.8 891.0,1015.1 902.8,984.3 914.6,976.7 926.4,979.2 938.2,980.0 950.0,976.9 961.8,961.4 973.6,969.8 985.4,958.4 997.1,963.5 1008.9,951.5 1020.7,945.2 1032.5,946.2" fill="none" stroke="#000" stroke-width="6" stroke-linejoin="round" stroke-linecap="butt"/>
<rect x="89.5" y="832.4" width="943.0" height="715.1" fill="none" stroke="#000" stroke-width="0.85"/>
<line x1="85.9" x2="89.5" y1="1451.5" y2="1451.5" stroke="#000" stroke-width="0.9"/>
<text x="81.5" y="1460.5" text-anchor="end">5250</text>
<line x1="85.9" x2="89.5" y1="1354.0" y2="1354.0" stroke="#000" stroke-width="0.9"/>
<text x="81.5" y="1362.9" text-anchor="end">5500</text>
<line x1="85.9" x2="89.5" y1="1256.4" y2="1256.4" stroke="#000" stroke-width="0.9"/>
<text x="81.5" y="1265.4" text-anchor="end">5750</text>
<line x1="85.9" x2="89.5" y1="1158.9" y2="1158.9" stroke="#000" stroke-width="0.9"/>
<text x="81.5" y="1167.8" text-anchor="end">6000</text>
<line x1="85.9" x2="89.5" y1="1061.3" y2="1061.3" stroke="#000" stroke-width="0.9"/>
<text x="81.5" y="1070.3" text-anchor="end">6250</text>
<line x1="85.9" x2="89.5" y1="963.8" y2="963.8" stroke="#000" stroke-width="0.9"/>
<text x="81.5" y="972.7" text-anchor="end">6500</text>
<line x1="85.9" x2="89.5" y1="866.2" y2="866.2" stroke="#000" stroke-width="0.9"/>
<text x="81.5" y="875.2" text-anchor="end">6750</text>
<line x1="89.5" x2="89.5" y1="1547.5" y2="1551.1" stroke="#000" stroke-width="0.9"/>
<text x="89.5" y="1572.7" text-anchor="middle">2020</text>
<line x1="207.4" x2="207.4" y1="1547.5" y2="1551.1" stroke="#000" stroke-width="0.9"/>
<text x="207.4" y="1572.7" text-anchor="middle">2030</text>
<line x1="325.2" x2="325.2" y1="1547.5" y2="1551.1" stroke="#000" stroke-width="0.9"/>
<text x="325.2" y="1572.7" text-anchor="middle">2040</text>
<line x1="443.1" x2="443.1" y1="1547.5" y2="1551.1" stroke="#000" stroke-width="0.9"/>
<text x="443.1" y="1572.7" text-anchor="middle">2050</text>
<line x1="561.0" x2="561.0" y1="1547.5" y2="1551.1" stroke="#000" stroke-width="0.9"/>
<text x="561" y="1572.7" text-anchor="middle">2060</text>
<line x1="678.9" x2="678.9" y1="1547.5" y2="1551.1" stroke="#000" stroke-width="0.9"/>
<text x="678.9" y="1572.7" text-anchor="middle">2070</text>
<line x1="796.8" x2="796.8" y1="1547.5" y2="1551.1" stroke="#000" stroke-width="0.9"/>
<text x="796.8" y="1572.7" text-anchor="middle">2080</text>
<line x1="914.6" x2="914.6" y1="1547.5" y2="1551.1" stroke="#000" stroke-width="0.9"/>
<text x="914.6" y="1572.7" text-anchor="middle">2090</text>
<line x1="1032.5" x2="1032.5" y1="1547.5" y2="1551.1" stroke="#000" stroke-width="0.9"/>
<text x="1032.5" y="1572.7" text-anchor="middle">2100</text>
<text transform="translate(16.5,1215.4) rotate(-90)" font-style="italic" font-size="20.8px" text-anchor="start">N<tspan font-size="15.3px" dy="3.8">total</tspan></text>
<polygon points="1197.5,1349.9 1209.3,1319.4 1221.1,1342.3 1232.9,1363.9 1244.7,1310.5 1256.4,1268.1 1268.2,1271.9 1280.0,1267.8 1291.8,1244.4 1303.6,1257.6 1315.4,1274.9 1327.2,1226.1 1339.0,1237.3 1350.7,1232.5 1362.5,1233.7 1374.3,1228.6 1386.1,1202.5 1397.9,1200.7 1409.7,1189.2 1421.5,1167.6 1433.2,1186.4 1445.0,1162.6 1456.8,1171.8 1468.6,1181.1 1480.4,1162.6 1492.2,1143.6 1504.0,1116.9 1515.8,1106.3 1527.5,1100.9 1539.3,1095.8 1551.1,1101.7 1562.9,1106.0 1574.7,1086.4 1586.5,1096.6 1598.3,1093.6 1610.1,1102.5 1621.8,1083.9 1633.6,1071.2 1645.4,1071.9 1657.2,1051.6 1669.0,1059.7 1680.8,1059.0 1692.6,1045.8 1704.4,1037.6 1716.2,1023.9 1727.9,1007.8 1739.7,1014.0 1751.5,1016.0 1763.3,1004.6 1775.1,998.7 1786.9,998.7 1798.7,997.7 1810.5,984.7 1822.2,982.5 1834.0,973.6 1845.8,968.5 1857.6,972.8 1869.4,956.3 1881.2,944.4 1893.0,947.8 1904.8,946.5 1916.5,949.3 1928.3,930.3 1940.1,933.9 1951.9,931.4 1963.7,922.0 1975.5,913.5 1987.3,924.9 1999.0,926.6 2010.8,911.9 2022.6,906.3 2034.4,901.7 2046.2,890.5 2058.0,889.2 2069.8,891.5 2081.6,887.2 2093.3,869.7 2105.1,869.7 2116.9,864.3 2128.7,865.6 2140.5,880.8 2140.5,1004.2 2128.7,1016.9 2116.9,1034.2 2105.1,1042.8 2093.3,1029.6 2081.6,1046.1 2069.8,1024.0 2058.0,1047.4 2046.2,1041.0 2034.4,1041.5 2022.6,1046.9 2010.8,1041.0 1999.0,1077.1 1987.3,1073.6 1975.5,1074.5 1963.7,1071.1 1951.9,1087.5 1940.1,1079.4 1928.3,1083.9 1916.5,1088.3 1904.8,1100.7 1893.0,1101.1 1881.2,1102.2 1869.4,1099.9 1857.6,1109.6 1845.8,1110.1 1834.0,1115.2 1822.2,1105.0 1810.5,1125.3 1798.7,1159.2 1786.9,1144.4 1775.1,1132.5 1763.3,1152.0 1751.5,1167.8 1739.7,1171.9 1727.9,1201.6 1716.2,1182.8 1704.4,1163.1 1692.6,1189.2 1680.8,1195.3 1669.0,1223.0 1657.2,1208.5 1645.4,1181.0 1633.6,1189.4 1621.8,1213.6 1610.1,1239.0 1598.3,1212.8 1586.5,1201.6 1574.7,1206.7 1562.9,1195.0 1551.1,1259.3 1539.3,1291.1 1527.5,1266.9 1515.8,1261.9 1504.0,1288.6 1492.2,1315.3 1480.4,1306.5 1468.6,1323.1 1456.8,1335.1 1445.0,1318.6 1433.2,1325.3 1421.5,1348.6 1409.7,1358.8 1397.9,1334.7 1386.1,1334.7 1374.3,1357.5 1362.5,1376.1 1350.7,1383.0 1339.0,1406.6 1327.2,1403.8 1315.4,1371.5 1303.6,1379.2 1291.8,1390.6 1280.0,1390.6 1268.2,1388.1 1256.4,1383.0 1244.7,1449.8 1232.9,1453.4 1221.1,1466.9 1209.3,1489.7 1197.5,1454.2" fill="#dc5f6b" stroke="#bf4454" stroke-width="1" stroke-linejoin="round"/>
<polyline points="1197.5,1402.5 1209.3,1404.6 1221.1,1404.6 1232.9,1409.7 1244.7,1380.4 1256.4,1324.5 1268.2,1330.1 1280.0,1328.8 1291.8,1317.6 1303.6,1318.1 1315.4,1323.2 1327.2,1313.8 1339.0,1322.7 1350.7,1307.2 1362.5,1304.2 1374.3,1292.7 1386.1,1268.6 1397.9,1268.1 1409.7,1274.2 1421.5,1257.6 1433.2,1255.8 1445.0,1239.7 1456.8,1253.4 1468.6,1252.4 1480.4,1233.3 1492.2,1229.6 1504.0,1202.1 1515.8,1183.8 1527.5,1184.3 1539.3,1193.7 1551.1,1181.0 1562.9,1148.7 1574.7,1146.2 1586.5,1148.0 1598.3,1152.5 1610.1,1171.6 1621.8,1150.0 1633.6,1130.2 1645.4,1125.3 1657.2,1129.7 1669.0,1141.6 1680.8,1127.1 1692.6,1116.9 1704.4,1098.6 1716.2,1101.8 1727.9,1104.4 1739.7,1092.3 1751.5,1091.0 1763.3,1077.0 1775.1,1063.6 1786.9,1068.6 1798.7,1079.1 1810.5,1055.4 1822.2,1043.2 1834.0,1044.0 1845.8,1038.9 1857.6,1041.4 1869.4,1028.7 1881.2,1023.4 1893.0,1024.4 1904.8,1023.9 1916.5,1019.0 1928.3,1006.1 1940.1,1005.9 1951.9,1009.7 1963.7,995.7 1975.5,992.9 1987.3,998.6 1999.0,1002.9 2010.8,976.7 2022.6,976.7 2034.4,970.6 2046.2,964.7 2058.0,968.1 2069.8,956.4 2081.6,967.3 2093.3,948.2 2105.1,955.8 2116.9,948.2 2128.7,940.6 2140.5,941.9" fill="none" stroke="#000" stroke-width="6" stroke-linejoin="round" stroke-linecap="butt"/>
<rect x="1197.5" y="832.4" width="943.0" height="715.1" fill="none" stroke="#000" stroke-width="0.85"/>
<line x1="1193.9" x2="1197.5" y1="1439.4" y2="1439.4" stroke="#000" stroke-width="0.9"/>
<text x="1189.5" y="1448.4" text-anchor="end">6800</text>
<line x1="1193.9" x2="1197.5" y1="1324.0" y2="1324.0" stroke="#000" stroke-width="0.9"/>
<text x="1189.5" y="1332.9" text-anchor="end">7000</text>
<line x1="1193.9" x2="1197.5" y1="1208.5" y2="1208.5" stroke="#000" stroke-width="0.9"/>
<text x="1189.5" y="1217.5" text-anchor="end">7200</text>
<line x1="1193.9" x2="1197.5" y1="1093.1" y2="1093.1" stroke="#000" stroke-width="0.9"/>
<text x="1189.5" y="1102" text-anchor="end">7400</text>
<line x1="1193.9" x2="1197.5" y1="977.6" y2="977.6" stroke="#000" stroke-width="0.9"/>
<text x="1189.5" y="986.6" text-anchor="end">7600</text>
<line x1="1193.9" x2="1197.5" y1="862.2" y2="862.2" stroke="#000" stroke-width="0.9"/>
<text x="1189.5" y="871.2" text-anchor="end">7800</text>
<line x1="1197.5" x2="1197.5" y1="1547.5" y2="1551.1" stroke="#000" stroke-width="0.9"/>
<text x="1197.5" y="1572.7" text-anchor="middle">2020</text>
<line x1="1315.4" x2="1315.4" y1="1547.5" y2="1551.1" stroke="#000" stroke-width="0.9"/>
<text x="1315.4" y="1572.7" text-anchor="middle">2030</text>
<line x1="1433.2" x2="1433.2" y1="1547.5" y2="1551.1" stroke="#000" stroke-width="0.9"/>
<text x="1433.2" y="1572.7" text-anchor="middle">2040</text>
<line x1="1551.1" x2="1551.1" y1="1547.5" y2="1551.1" stroke="#000" stroke-width="0.9"/>
<text x="1551.1" y="1572.7" text-anchor="middle">2050</text>
<line x1="1669.0" x2="1669.0" y1="1547.5" y2="1551.1" stroke="#000" stroke-width="0.9"/>
<text x="1669" y="1572.7" text-anchor="middle">2060</text>
<line x1="1786.9" x2="1786.9" y1="1547.5" y2="1551.1" stroke="#000" stroke-width="0.9"/>
<text x="1786.9" y="1572.7" text-anchor="middle">2070</text>
<line x1="1904.8" x2="1904.8" y1="1547.5" y2="1551.1" stroke="#000" stroke-width="0.9"/>
<text x="1904.8" y="1572.7" text-anchor="middle">2080</text>
<line x1="2022.6" x2="2022.6" y1="1547.5" y2="1551.1" stroke="#000" stroke-width="0.9"/>
<text x="2022.6" y="1572.7" text-anchor="middle">2090</text>
<line x1="2140.5" x2="2140.5" y1="1547.5" y2="1551.1" stroke="#000" stroke-width="0.9"/>
<text x="2140.5" y="1572.7" text-anchor="middle">2100</text>
<text transform="translate(1124.5,1215.4) rotate(-90)" font-style="italic" font-size="20.8px" text-anchor="start">N<tspan font-size="15.3px" dy="3.8">total</tspan></text>
</svg>
</body></html>
